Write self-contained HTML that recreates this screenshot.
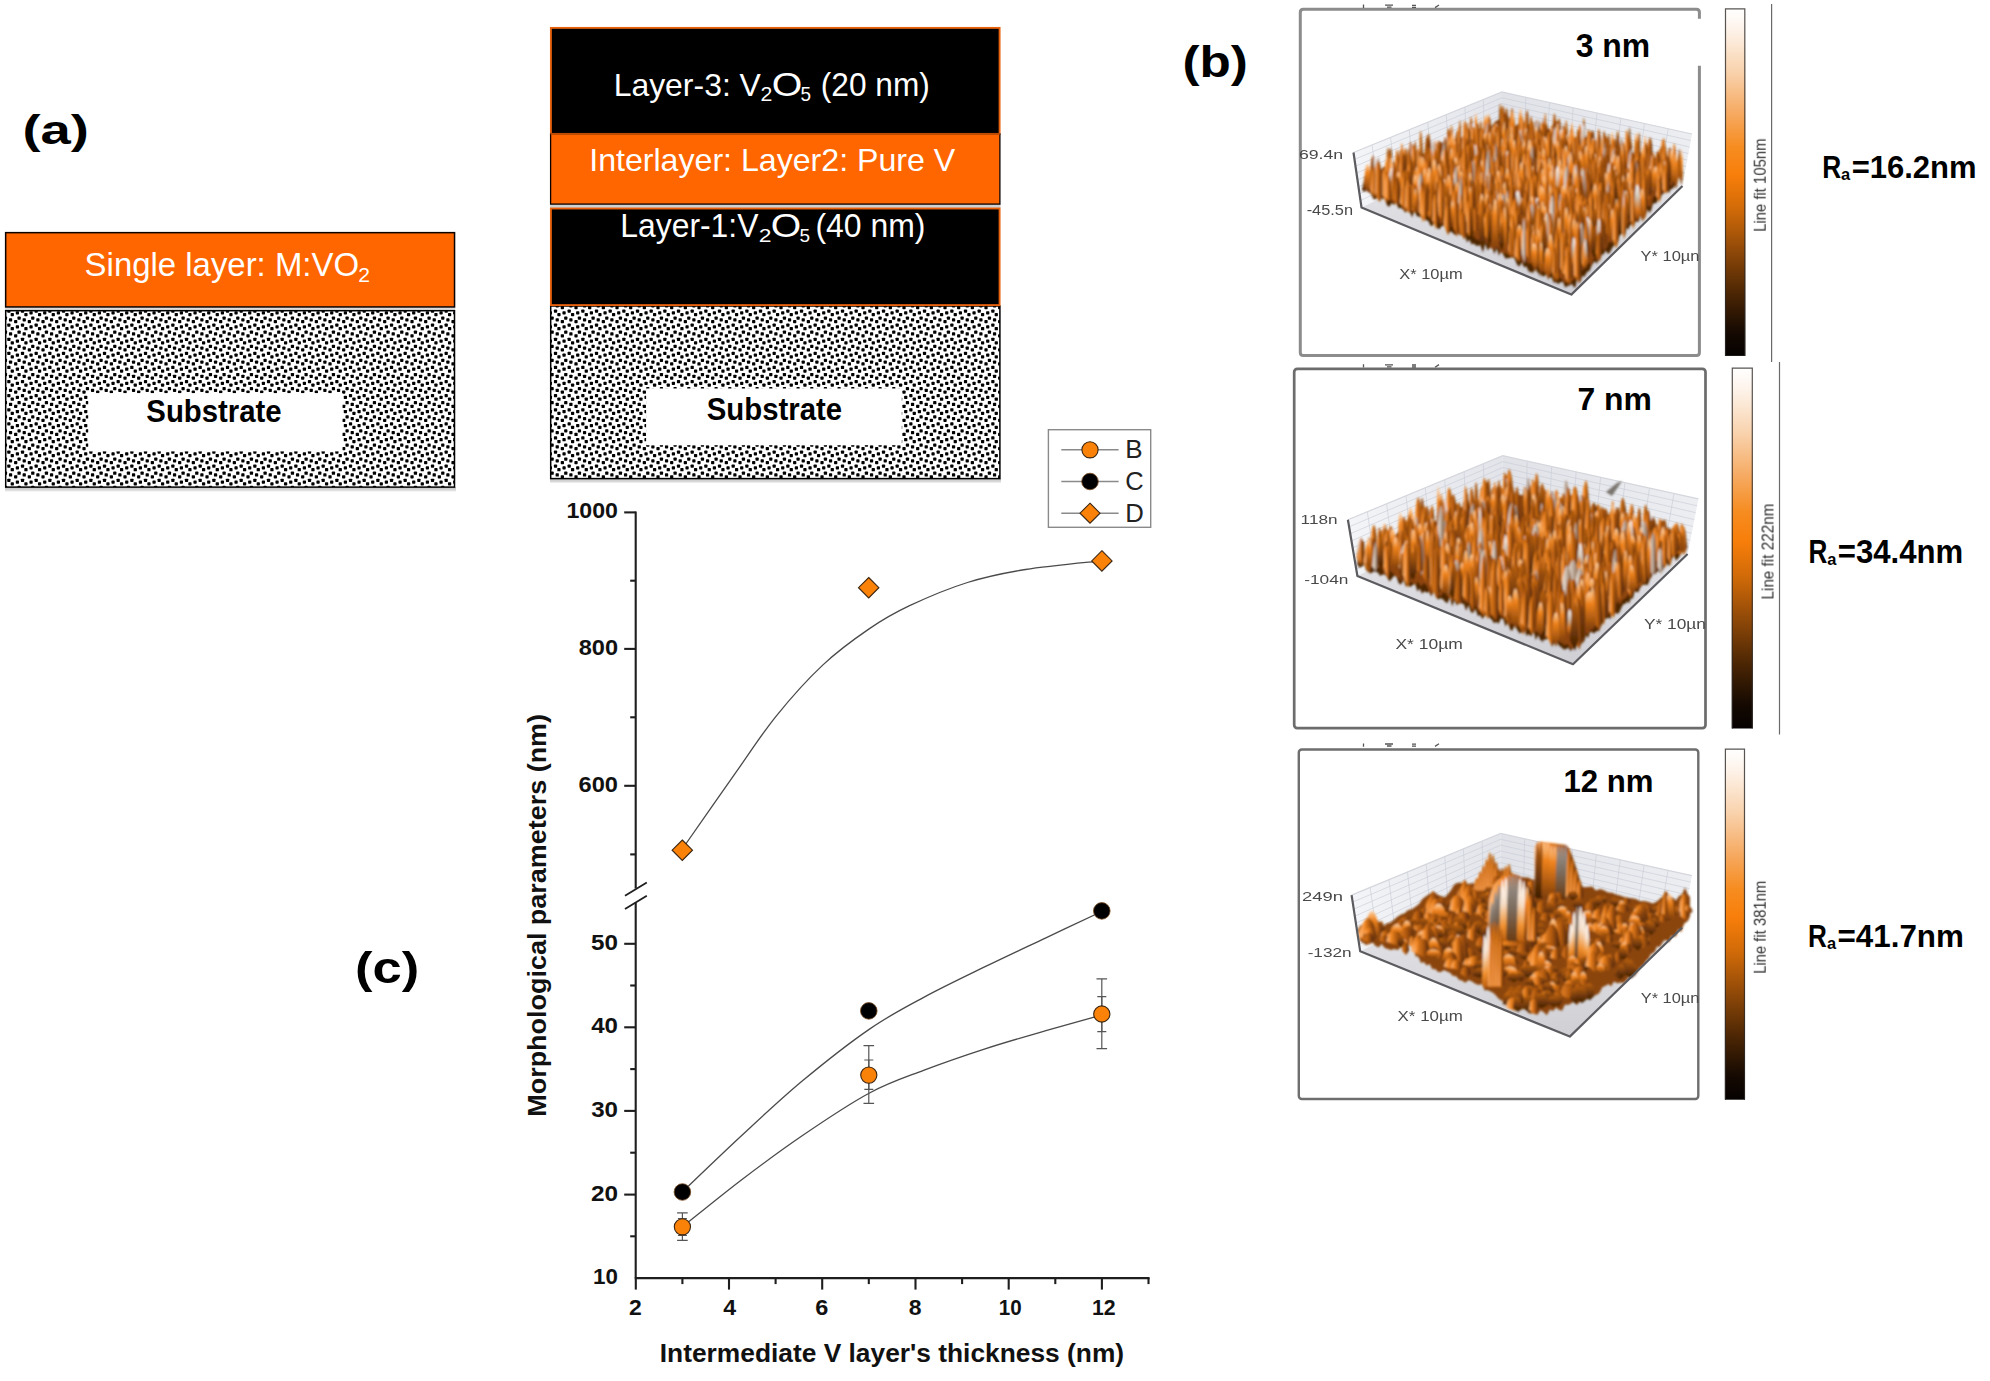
<!DOCTYPE html>
<html><head><meta charset="utf-8"><title>Figure</title>
<style>
html,body{margin:0;padding:0;background:#fff;}
body{width:1990px;height:1381px;overflow:hidden;}
svg{display:block;font-family:"Liberation Sans",sans-serif;}
</style></head><body>
<svg width="1990" height="1381" viewBox="0 0 1990 1381">
<rect width="1990" height="1381" fill="#fff"/>
<defs><pattern id="dots" patternUnits="userSpaceOnUse" x="8" y="0" width="41.0" height="141.0"><rect width="41.0" height="141.0" fill="#fff"/><g fill="#000"><rect x="-0.77" y="-0.74" width="3.25" height="3.25" rx="0.7"/><rect x="7.77" y="1.02" width="3.25" height="3.25" rx="0.7"/><rect x="2.65" y="2.78" width="3.25" height="3.25" rx="0.7"/><rect x="9.48" y="6.31" width="3.25" height="3.25" rx="0.7"/><rect x="0.94" y="8.07" width="3.25" height="3.25" rx="0.7"/><rect x="6.06" y="9.83" width="3.25" height="3.25" rx="0.7"/><rect x="-0.77" y="13.36" width="3.25" height="3.25" rx="0.7"/><rect x="7.77" y="15.12" width="3.25" height="3.25" rx="0.7"/><rect x="2.65" y="16.88" width="3.25" height="3.25" rx="0.7"/><rect x="9.48" y="20.41" width="3.25" height="3.25" rx="0.7"/><rect x="0.94" y="22.17" width="3.25" height="3.25" rx="0.7"/><rect x="6.06" y="23.93" width="3.25" height="3.25" rx="0.7"/><rect x="-0.77" y="27.46" width="3.25" height="3.25" rx="0.7"/><rect x="7.77" y="29.22" width="3.25" height="3.25" rx="0.7"/><rect x="2.65" y="30.98" width="3.25" height="3.25" rx="0.7"/><rect x="9.48" y="34.51" width="3.25" height="3.25" rx="0.7"/><rect x="0.94" y="36.27" width="3.25" height="3.25" rx="0.7"/><rect x="6.06" y="38.03" width="3.25" height="3.25" rx="0.7"/><rect x="-0.77" y="41.56" width="3.25" height="3.25" rx="0.7"/><rect x="7.77" y="43.32" width="3.25" height="3.25" rx="0.7"/><rect x="2.65" y="45.08" width="3.25" height="3.25" rx="0.7"/><rect x="9.48" y="48.61" width="3.25" height="3.25" rx="0.7"/><rect x="0.94" y="50.37" width="3.25" height="3.25" rx="0.7"/><rect x="6.06" y="52.13" width="3.25" height="3.25" rx="0.7"/><rect x="-0.77" y="55.66" width="3.25" height="3.25" rx="0.7"/><rect x="7.77" y="57.42" width="3.25" height="3.25" rx="0.7"/><rect x="2.65" y="59.18" width="3.25" height="3.25" rx="0.7"/><rect x="9.48" y="62.71" width="3.25" height="3.25" rx="0.7"/><rect x="0.94" y="64.47" width="3.25" height="3.25" rx="0.7"/><rect x="6.06" y="66.23" width="3.25" height="3.25" rx="0.7"/><rect x="-0.77" y="69.76" width="3.25" height="3.25" rx="0.7"/><rect x="7.77" y="71.52" width="3.25" height="3.25" rx="0.7"/><rect x="2.65" y="73.28" width="3.25" height="3.25" rx="0.7"/><rect x="9.48" y="76.81" width="3.25" height="3.25" rx="0.7"/><rect x="0.94" y="78.57" width="3.25" height="3.25" rx="0.7"/><rect x="6.06" y="80.33" width="3.25" height="3.25" rx="0.7"/><rect x="-0.77" y="83.86" width="3.25" height="3.25" rx="0.7"/><rect x="7.77" y="85.62" width="3.25" height="3.25" rx="0.7"/><rect x="2.65" y="87.38" width="3.25" height="3.25" rx="0.7"/><rect x="9.48" y="90.91" width="3.25" height="3.25" rx="0.7"/><rect x="0.94" y="92.67" width="3.25" height="3.25" rx="0.7"/><rect x="6.06" y="94.43" width="3.25" height="3.25" rx="0.7"/><rect x="-0.77" y="97.96" width="3.25" height="3.25" rx="0.7"/><rect x="7.77" y="99.72" width="3.25" height="3.25" rx="0.7"/><rect x="2.65" y="101.48" width="3.25" height="3.25" rx="0.7"/><rect x="9.48" y="105.01" width="3.25" height="3.25" rx="0.7"/><rect x="0.94" y="106.77" width="3.25" height="3.25" rx="0.7"/><rect x="6.06" y="108.53" width="3.25" height="3.25" rx="0.7"/><rect x="-0.77" y="112.06" width="3.25" height="3.25" rx="0.7"/><rect x="7.77" y="113.82" width="3.25" height="3.25" rx="0.7"/><rect x="2.65" y="115.58" width="3.25" height="3.25" rx="0.7"/><rect x="9.48" y="119.11" width="3.25" height="3.25" rx="0.7"/><rect x="0.94" y="120.87" width="3.25" height="3.25" rx="0.7"/><rect x="6.06" y="122.63" width="3.25" height="3.25" rx="0.7"/><rect x="-0.77" y="126.16" width="3.25" height="3.25" rx="0.7"/><rect x="7.77" y="127.92" width="3.25" height="3.25" rx="0.7"/><rect x="2.65" y="129.68" width="3.25" height="3.25" rx="0.7"/><rect x="9.48" y="133.21" width="3.25" height="3.25" rx="0.7"/><rect x="0.94" y="134.97" width="3.25" height="3.25" rx="0.7"/><rect x="6.06" y="136.73" width="3.25" height="3.25" rx="0.7"/><rect x="-0.77" y="140.26" width="3.25" height="3.25" rx="0.7"/><rect x="12.90" y="-0.74" width="3.25" height="3.25" rx="0.7"/><rect x="21.44" y="1.02" width="3.25" height="3.25" rx="0.7"/><rect x="16.31" y="2.78" width="3.25" height="3.25" rx="0.7"/><rect x="23.15" y="6.31" width="3.25" height="3.25" rx="0.7"/><rect x="14.60" y="8.07" width="3.25" height="3.25" rx="0.7"/><rect x="19.73" y="9.83" width="3.25" height="3.25" rx="0.7"/><rect x="12.90" y="13.36" width="3.25" height="3.25" rx="0.7"/><rect x="21.44" y="15.12" width="3.25" height="3.25" rx="0.7"/><rect x="16.31" y="16.88" width="3.25" height="3.25" rx="0.7"/><rect x="23.15" y="20.41" width="3.25" height="3.25" rx="0.7"/><rect x="14.60" y="22.17" width="3.25" height="3.25" rx="0.7"/><rect x="19.73" y="23.93" width="3.25" height="3.25" rx="0.7"/><rect x="12.90" y="27.46" width="3.25" height="3.25" rx="0.7"/><rect x="21.44" y="29.22" width="3.25" height="3.25" rx="0.7"/><rect x="16.31" y="30.98" width="3.25" height="3.25" rx="0.7"/><rect x="23.15" y="34.51" width="3.25" height="3.25" rx="0.7"/><rect x="14.60" y="36.27" width="3.25" height="3.25" rx="0.7"/><rect x="19.73" y="38.03" width="3.25" height="3.25" rx="0.7"/><rect x="12.90" y="41.56" width="3.25" height="3.25" rx="0.7"/><rect x="21.44" y="43.32" width="3.25" height="3.25" rx="0.7"/><rect x="16.31" y="45.08" width="3.25" height="3.25" rx="0.7"/><rect x="23.15" y="48.61" width="3.25" height="3.25" rx="0.7"/><rect x="14.60" y="50.37" width="3.25" height="3.25" rx="0.7"/><rect x="19.73" y="52.13" width="3.25" height="3.25" rx="0.7"/><rect x="12.90" y="55.66" width="3.25" height="3.25" rx="0.7"/><rect x="21.44" y="57.42" width="3.25" height="3.25" rx="0.7"/><rect x="16.31" y="59.18" width="3.25" height="3.25" rx="0.7"/><rect x="23.15" y="62.71" width="3.25" height="3.25" rx="0.7"/><rect x="14.60" y="64.47" width="3.25" height="3.25" rx="0.7"/><rect x="19.73" y="66.23" width="3.25" height="3.25" rx="0.7"/><rect x="12.90" y="69.76" width="3.25" height="3.25" rx="0.7"/><rect x="21.44" y="71.52" width="3.25" height="3.25" rx="0.7"/><rect x="16.31" y="73.28" width="3.25" height="3.25" rx="0.7"/><rect x="23.15" y="76.81" width="3.25" height="3.25" rx="0.7"/><rect x="14.60" y="78.57" width="3.25" height="3.25" rx="0.7"/><rect x="19.73" y="80.33" width="3.25" height="3.25" rx="0.7"/><rect x="12.90" y="83.86" width="3.25" height="3.25" rx="0.7"/><rect x="21.44" y="85.62" width="3.25" height="3.25" rx="0.7"/><rect x="16.31" y="87.38" width="3.25" height="3.25" rx="0.7"/><rect x="23.15" y="90.91" width="3.25" height="3.25" rx="0.7"/><rect x="14.60" y="92.67" width="3.25" height="3.25" rx="0.7"/><rect x="19.73" y="94.43" width="3.25" height="3.25" rx="0.7"/><rect x="12.90" y="97.96" width="3.25" height="3.25" rx="0.7"/><rect x="21.44" y="99.72" width="3.25" height="3.25" rx="0.7"/><rect x="16.31" y="101.48" width="3.25" height="3.25" rx="0.7"/><rect x="23.15" y="105.01" width="3.25" height="3.25" rx="0.7"/><rect x="14.60" y="106.77" width="3.25" height="3.25" rx="0.7"/><rect x="19.73" y="108.53" width="3.25" height="3.25" rx="0.7"/><rect x="12.90" y="112.06" width="3.25" height="3.25" rx="0.7"/><rect x="21.44" y="113.82" width="3.25" height="3.25" rx="0.7"/><rect x="16.31" y="115.58" width="3.25" height="3.25" rx="0.7"/><rect x="23.15" y="119.11" width="3.25" height="3.25" rx="0.7"/><rect x="14.60" y="120.87" width="3.25" height="3.25" rx="0.7"/><rect x="19.73" y="122.63" width="3.25" height="3.25" rx="0.7"/><rect x="12.90" y="126.16" width="3.25" height="3.25" rx="0.7"/><rect x="21.44" y="127.92" width="3.25" height="3.25" rx="0.7"/><rect x="16.31" y="129.68" width="3.25" height="3.25" rx="0.7"/><rect x="23.15" y="133.21" width="3.25" height="3.25" rx="0.7"/><rect x="14.60" y="134.97" width="3.25" height="3.25" rx="0.7"/><rect x="19.73" y="136.73" width="3.25" height="3.25" rx="0.7"/><rect x="12.90" y="140.26" width="3.25" height="3.25" rx="0.7"/><rect x="26.56" y="-0.74" width="3.25" height="3.25" rx="0.7"/><rect x="35.10" y="1.02" width="3.25" height="3.25" rx="0.7"/><rect x="29.98" y="2.78" width="3.25" height="3.25" rx="0.7"/><rect x="36.81" y="6.31" width="3.25" height="3.25" rx="0.7"/><rect x="28.27" y="8.07" width="3.25" height="3.25" rx="0.7"/><rect x="33.40" y="9.83" width="3.25" height="3.25" rx="0.7"/><rect x="26.56" y="13.36" width="3.25" height="3.25" rx="0.7"/><rect x="35.10" y="15.12" width="3.25" height="3.25" rx="0.7"/><rect x="29.98" y="16.88" width="3.25" height="3.25" rx="0.7"/><rect x="36.81" y="20.41" width="3.25" height="3.25" rx="0.7"/><rect x="28.27" y="22.17" width="3.25" height="3.25" rx="0.7"/><rect x="33.40" y="23.93" width="3.25" height="3.25" rx="0.7"/><rect x="26.56" y="27.46" width="3.25" height="3.25" rx="0.7"/><rect x="35.10" y="29.22" width="3.25" height="3.25" rx="0.7"/><rect x="29.98" y="30.98" width="3.25" height="3.25" rx="0.7"/><rect x="36.81" y="34.51" width="3.25" height="3.25" rx="0.7"/><rect x="28.27" y="36.27" width="3.25" height="3.25" rx="0.7"/><rect x="33.40" y="38.03" width="3.25" height="3.25" rx="0.7"/><rect x="26.56" y="41.56" width="3.25" height="3.25" rx="0.7"/><rect x="35.10" y="43.32" width="3.25" height="3.25" rx="0.7"/><rect x="29.98" y="45.08" width="3.25" height="3.25" rx="0.7"/><rect x="36.81" y="48.61" width="3.25" height="3.25" rx="0.7"/><rect x="28.27" y="50.37" width="3.25" height="3.25" rx="0.7"/><rect x="33.40" y="52.13" width="3.25" height="3.25" rx="0.7"/><rect x="26.56" y="55.66" width="3.25" height="3.25" rx="0.7"/><rect x="35.10" y="57.42" width="3.25" height="3.25" rx="0.7"/><rect x="29.98" y="59.18" width="3.25" height="3.25" rx="0.7"/><rect x="36.81" y="62.71" width="3.25" height="3.25" rx="0.7"/><rect x="28.27" y="64.47" width="3.25" height="3.25" rx="0.7"/><rect x="33.40" y="66.23" width="3.25" height="3.25" rx="0.7"/><rect x="26.56" y="69.76" width="3.25" height="3.25" rx="0.7"/><rect x="35.10" y="71.52" width="3.25" height="3.25" rx="0.7"/><rect x="29.98" y="73.28" width="3.25" height="3.25" rx="0.7"/><rect x="36.81" y="76.81" width="3.25" height="3.25" rx="0.7"/><rect x="28.27" y="78.57" width="3.25" height="3.25" rx="0.7"/><rect x="33.40" y="80.33" width="3.25" height="3.25" rx="0.7"/><rect x="26.56" y="83.86" width="3.25" height="3.25" rx="0.7"/><rect x="35.10" y="85.62" width="3.25" height="3.25" rx="0.7"/><rect x="29.98" y="87.38" width="3.25" height="3.25" rx="0.7"/><rect x="36.81" y="90.91" width="3.25" height="3.25" rx="0.7"/><rect x="28.27" y="92.67" width="3.25" height="3.25" rx="0.7"/><rect x="33.40" y="94.43" width="3.25" height="3.25" rx="0.7"/><rect x="26.56" y="97.96" width="3.25" height="3.25" rx="0.7"/><rect x="35.10" y="99.72" width="3.25" height="3.25" rx="0.7"/><rect x="29.98" y="101.48" width="3.25" height="3.25" rx="0.7"/><rect x="36.81" y="105.01" width="3.25" height="3.25" rx="0.7"/><rect x="28.27" y="106.77" width="3.25" height="3.25" rx="0.7"/><rect x="33.40" y="108.53" width="3.25" height="3.25" rx="0.7"/><rect x="26.56" y="112.06" width="3.25" height="3.25" rx="0.7"/><rect x="35.10" y="113.82" width="3.25" height="3.25" rx="0.7"/><rect x="29.98" y="115.58" width="3.25" height="3.25" rx="0.7"/><rect x="36.81" y="119.11" width="3.25" height="3.25" rx="0.7"/><rect x="28.27" y="120.87" width="3.25" height="3.25" rx="0.7"/><rect x="33.40" y="122.63" width="3.25" height="3.25" rx="0.7"/><rect x="26.56" y="126.16" width="3.25" height="3.25" rx="0.7"/><rect x="35.10" y="127.92" width="3.25" height="3.25" rx="0.7"/><rect x="29.98" y="129.68" width="3.25" height="3.25" rx="0.7"/><rect x="36.81" y="133.21" width="3.25" height="3.25" rx="0.7"/><rect x="28.27" y="134.97" width="3.25" height="3.25" rx="0.7"/><rect x="33.40" y="136.73" width="3.25" height="3.25" rx="0.7"/><rect x="26.56" y="140.26" width="3.25" height="3.25" rx="0.7"/><rect x="40.23" y="-0.74" width="3.25" height="3.25" rx="0.7"/><rect x="40.23" y="13.36" width="3.25" height="3.25" rx="0.7"/><rect x="40.23" y="27.46" width="3.25" height="3.25" rx="0.7"/><rect x="40.23" y="41.56" width="3.25" height="3.25" rx="0.7"/><rect x="40.23" y="55.66" width="3.25" height="3.25" rx="0.7"/><rect x="40.23" y="69.76" width="3.25" height="3.25" rx="0.7"/><rect x="40.23" y="83.86" width="3.25" height="3.25" rx="0.7"/><rect x="40.23" y="97.96" width="3.25" height="3.25" rx="0.7"/><rect x="40.23" y="112.06" width="3.25" height="3.25" rx="0.7"/><rect x="40.23" y="126.16" width="3.25" height="3.25" rx="0.7"/><rect x="40.23" y="140.26" width="3.25" height="3.25" rx="0.7"/></g></pattern><linearGradient id="shd" x1="0" y1="0" x2="0" y2="1"><stop offset="0" stop-color="#c4c4c4"/><stop offset="0.6" stop-color="#d8d8d8"/><stop offset="1" stop-color="#fff"/></linearGradient></defs>
<rect x="5" y="307" width="450.2" height="3.4" fill="#dcdcdc"/>
<rect x="5.65" y="232.65" width="448.9" height="74.3" fill="#FF6600" stroke="#0a0200" stroke-width="1.5"/>
<rect x="5" y="487" width="451" height="5" fill="url(#shd)"/>
<rect x="5.7" y="310.7" width="448.8" height="176.4" fill="url(#dots)" stroke="#000" stroke-width="1.5"/>
<rect x="88.2" y="393.1" width="254.3" height="58.3" fill="#fff"/>
<text transform="translate(146.32,422.30) scale(0.9093,1)" font-size="32.28" font-weight="bold" fill="#000">Substrate</text>
<text transform="translate(84.62,276.00) scale(0.9783,1)" font-size="33.66" fill="#fff">Single layer: M:VO</text>
<text transform="translate(358.15,282.00) scale(1.0188,1)" font-size="20.71" fill="#fff">2</text>
<text transform="translate(22.48,144.00) scale(1.3281,1)" font-size="40.96" font-weight="bold" fill="#000">(a)</text>
<rect x="550" y="204" width="450.6" height="4" fill="#d2d2d2"/>
<rect x="550.9" y="27.9" width="448.7" height="106" fill="#000" stroke="#E8610C" stroke-width="1.9"/>
<rect x="550.6" y="134.0" width="449.3" height="70.1" fill="#FF6600" stroke="#0a0200" stroke-width="1.3"/>
<rect x="550.6" y="133.4" width="449.3" height="1.2" fill="#FF6600"/>
<rect x="550" y="478.5" width="451" height="5" fill="url(#shd)"/>
<rect x="550.7" y="306" width="449.2" height="172.6" fill="url(#dots)" stroke="#000" stroke-width="1.5"/>
<rect x="550.9" y="208.5" width="448.7" height="96.6" fill="#000" stroke="#E8610C" stroke-width="1.9"/>
<rect x="646.1" y="388.5" width="255.7" height="56.7" fill="#fff"/>
<text transform="translate(706.72,419.60) scale(0.9253,1)" font-size="31.72" font-weight="bold" fill="#000">Substrate</text>
<text transform="translate(613.65,95.50) scale(1.0160,1)" font-size="31.43" fill="#fff">Layer-3: V</text>
<text transform="translate(760.53,101.00) scale(1.1052,1)" font-size="19.29" fill="#fff">2</text>
<text transform="translate(771.63,95.90) scale(1.2057,1)" font-size="32.57" fill="#fff">O</text>
<text transform="translate(800.44,101.20) scale(0.9682,1)" font-size="19.57" fill="#fff">5</text>
<text transform="translate(820.80,95.50) scale(0.9643,1)" font-size="32.83" fill="#fff">(20 nm)</text>
<text transform="translate(589.21,171.30) scale(1.0312,1)" font-size="31.17" fill="#fff">Interlayer: Layer2: Pure V</text>
<text transform="translate(620.35,236.90) scale(0.9770,1)" font-size="32.61" fill="#fff">Layer-1:V</text>
<text transform="translate(758.66,242.20) scale(1.2119,1)" font-size="18.86" fill="#fff">2</text>
<text transform="translate(770.84,237.30) scale(1.1753,1)" font-size="33.29" fill="#fff">O</text>
<text transform="translate(799.54,242.40) scale(0.9905,1)" font-size="19.13" fill="#fff">5</text>
<text transform="translate(815.48,236.90) scale(0.9767,1)" font-size="32.69" fill="#fff">(40 nm)</text>
<g stroke="#1e1e1e" stroke-width="2.1" fill="none" stroke-linecap="butt">
<path d="M635.7,511.4 V888.6 M635.7,902.4 V1278.1"/>
<path d="M634.75,1278.1 H1149.6"/>
<path d="M624.2,512.4 H635.7"/>
<path d="M624.2,648.9 H635.7"/>
<path d="M624.2,785.8 H635.7"/>
<path d="M630.2,580.7 H635.7"/>
<path d="M630.2,717.3 H635.7"/>
<path d="M630.2,854.4 H635.7"/>
<path d="M624.2,943.8 H635.7"/>
<path d="M624.2,1027.3 H635.7"/>
<path d="M624.2,1110.9 H635.7"/>
<path d="M624.2,1194.6 H635.7"/>
<path d="M630.2,985.5 H635.7"/>
<path d="M630.2,1069.1 H635.7"/>
<path d="M630.2,1152.7 H635.7"/>
<path d="M630.2,1236.3 H635.7"/>
<path d="M635.8,1278.1 V1289.6"/>
<path d="M729.0,1278.1 V1289.6"/>
<path d="M822.2,1278.1 V1289.6"/>
<path d="M915.5,1278.1 V1289.6"/>
<path d="M1008.7,1278.1 V1289.6"/>
<path d="M1101.9,1278.1 V1289.6"/>
<path d="M682.4,1278.1 V1284.1"/>
<path d="M775.6,1278.1 V1284.1"/>
<path d="M868.8,1278.1 V1284.1"/>
<path d="M962.1,1278.1 V1284.1"/>
<path d="M1055.3,1278.1 V1284.1"/>
<path d="M1148.5,1278.1 V1284.1"/>
<path d="M625,895.7 L646.8,882.6 M625,908.9 L646.8,895.7" stroke-width="1.8"/>
</g>
<g stroke="#4a4a4a" stroke-width="1.3" fill="none">
<path d="M682.3,849.0 C691.2,836.2 720.2,794.6 735.9,772.4 C751.6,750.2 761.9,733.7 776.4,715.8 C790.9,697.9 807.2,679.6 822.7,665.1 C838.2,650.6 854.6,638.8 869.1,628.9 C883.6,619.0 893.2,613.4 909.6,605.7 C926.0,598.0 948.2,588.5 967.5,582.5 C986.8,576.5 1003.1,573.1 1025.5,569.5 C1047.9,565.9 1089.1,562.2 1101.8,560.8"/>
<path d="M682.4,1191.8 C692.3,1182.4 721.7,1154.0 741.7,1135.5 C761.7,1117.0 781.2,1098.5 802.5,1080.8 C823.8,1063.1 849.2,1043.0 869.5,1029.1 C889.8,1015.1 904.9,1007.5 924.2,997.1 C943.5,986.7 964.8,976.6 985.1,966.7 C1005.4,956.8 1026.5,947.0 1045.9,937.8 C1065.4,928.6 1092.5,915.9 1101.8,911.5"/>
<path d="M682.4,1226.8 C692.3,1219.0 721.7,1194.9 741.7,1179.7 C761.7,1164.5 781.2,1150.0 802.5,1135.5 C823.8,1121.0 849.2,1103.9 869.5,1093.0 C889.8,1082.1 904.9,1077.5 924.2,1070.1 C943.5,1062.7 964.8,1055.4 985.1,1048.8 C1005.4,1042.2 1026.5,1036.2 1045.9,1030.6 C1065.4,1025.0 1092.5,1017.6 1101.8,1015.0"/>
</g>
<g stroke="#555" stroke-width="1.2" fill="none">
<path d="M682.4,1212.8 V1240.4 M677.1,1212.8 H687.6999999999999 M677.1,1240.4 H687.6999999999999"/>
<path d="M682.4,1218.5 V1235.5 M677.9,1218.5 H686.9 M677.9,1235.5 H686.9"/>
<path d="M868.8,1045.7 V1103.4 M863.5,1045.7 H874.0999999999999 M863.5,1103.4 H874.0999999999999"/>
<path d="M868.8,1060.0 V1089.4 M864.3,1060.0 H873.3 M864.3,1089.4 H873.3"/>
<path d="M1101.8,978.9 V1048.7 M1096.5,978.9 H1107.1 M1096.5,1048.7 H1107.1"/>
<path d="M1101.8,996.6 V1031.7 M1097.3,996.6 H1106.3 M1097.3,1031.7 H1106.3"/>
</g>
<path d="M682.3,840.0 L692.5,850.2 L682.3,860.4000000000001 L672.0999999999999,850.2 Z" fill="#FA8208" stroke="#3a2410" stroke-width="1.1"/>
<path d="M868.7,577.5 L878.9000000000001,587.7 L868.7,597.9000000000001 L858.5,587.7 Z" fill="#FA8208" stroke="#3a2410" stroke-width="1.1"/>
<path d="M1101.9,550.6999999999999 L1112.1000000000001,560.9 L1101.9,571.1 L1091.7,560.9 Z" fill="#FA8208" stroke="#3a2410" stroke-width="1.1"/>
<circle cx="682.4" cy="1192.0" r="8.3" fill="#000" stroke="#7a4a1e" stroke-width="0.8"/>
<circle cx="868.8" cy="1010.9" r="8.3" fill="#000" stroke="#7a4a1e" stroke-width="0.8"/>
<circle cx="1101.8" cy="910.9" r="8.3" fill="#000" stroke="#7a4a1e" stroke-width="0.8"/>
<circle cx="682.4" cy="1226.8" r="8.1" fill="#FA8208" stroke="#3a2410" stroke-width="1.1"/>
<circle cx="868.8" cy="1075.1" r="8.1" fill="#FA8208" stroke="#3a2410" stroke-width="1.1"/>
<circle cx="1101.8" cy="1014.0" r="8.1" fill="#FA8208" stroke="#3a2410" stroke-width="1.1"/>
<rect x="1048.4" y="429.7" width="102.3" height="97.6" fill="#fff" stroke="#8a8a8a" stroke-width="1.4"/>
<path d="M1061.3,449.8 H1118.6" stroke="#8a8a8a" stroke-width="1.5"/>
<path d="M1061.3,481.5 H1118.6" stroke="#8a8a8a" stroke-width="1.5"/>
<path d="M1061.3,513.2 H1118.6" stroke="#8a8a8a" stroke-width="1.5"/>
<circle cx="1090" cy="449.8" r="8.1" fill="#FA8208" stroke="#3a2410" stroke-width="1.1"/>
<circle cx="1090" cy="481.5" r="8.3" fill="#000" stroke="#7a4a1e" stroke-width="0.8"/>
<path d="M1090,503.20000000000005 L1100,513.2 L1090,523.2 L1080,513.2 Z" fill="#FA8208" stroke="#3a2410" stroke-width="1.1"/>
<text transform="translate(1125.22,458.20) scale(1.0364,1)" font-size="25.07" fill="#222">B</text>
<text transform="translate(1125.32,490.40) scale(0.9865,1)" font-size="25.86" fill="#222">C</text>
<text transform="translate(1125.24,521.70) scale(1.0257,1)" font-size="25.07" fill="#222">D</text>
<text transform="translate(566.41,518.30) scale(1.0591,1)" font-size="21.86" font-weight="bold" fill="#111">1000</text>
<text transform="translate(578.69,654.80) scale(1.0784,1)" font-size="21.86" font-weight="bold" fill="#111">800</text>
<text transform="translate(578.57,791.70) scale(1.0818,1)" font-size="21.86" font-weight="bold" fill="#111">600</text>
<text transform="translate(591.07,949.70) scale(1.1085,1)" font-size="21.86" font-weight="bold" fill="#111">50</text>
<text transform="translate(591.24,1033.20) scale(1.1014,1)" font-size="21.86" font-weight="bold" fill="#111">40</text>
<text transform="translate(591.20,1116.80) scale(1.1031,1)" font-size="21.86" font-weight="bold" fill="#111">30</text>
<text transform="translate(590.95,1200.50) scale(1.1138,1)" font-size="21.86" font-weight="bold" fill="#111">20</text>
<text transform="translate(593.06,1284.00) scale(1.0236,1)" font-size="21.86" font-weight="bold" fill="#111">10</text>
<text transform="translate(628.90,1314.60) scale(1.0483,1)" font-size="21.86" font-weight="bold" fill="#111">2</text>
<text transform="translate(723.15,1314.60) scale(1.0454,1)" font-size="22.17" font-weight="bold" fill="#111">4</text>
<text transform="translate(815.28,1314.60) scale(1.0753,1)" font-size="21.86" font-weight="bold" fill="#111">6</text>
<text transform="translate(908.81,1314.60) scale(1.0535,1)" font-size="21.86" font-weight="bold" fill="#111">8</text>
<text transform="translate(998.76,1314.60) scale(0.9421,1)" font-size="21.86" font-weight="bold" fill="#111">10</text>
<text transform="translate(1091.97,1314.60) scale(0.9738,1)" font-size="21.86" font-weight="bold" fill="#111">12</text>
<text transform="translate(659.79,1362.40) scale(1.0159,1)" font-size="25.93" font-weight="bold" fill="#111">Intermediate V layer's thickness (nm)</text>
<text transform="rotate(-90) translate(-1116.75,545.80) scale(1.0398,1)" font-size="25.93" font-weight="bold" fill="#111">Morphological parameters (nm)</text>
<text transform="translate(355.07,982.69) scale(1.1724,1)" font-size="44.81" font-weight="bold" fill="#000">(c)</text>
<style>.ga{fill:url(#ga)}.gb{fill:url(#gb)}.gc{fill:url(#gc)}.gd{fill:url(#gd)}.ge{fill:url(#ge)}.gf{fill:url(#gf)}.gg{fill:url(#gg)}.gw{fill:url(#gw)}</style><defs>
<linearGradient id="cb" x1="0" y1="0" x2="0" y2="1"><stop offset="0" stop-color="#fff"/><stop offset="0.06" stop-color="#fdf3ea"/><stop offset="0.18" stop-color="#f9d3ae"/><stop offset="0.30" stop-color="#f6aa62"/><stop offset="0.40" stop-color="#f68c20"/><stop offset="0.48" stop-color="#f87e0a"/><stop offset="0.58" stop-color="#d06a08"/><stop offset="0.70" stop-color="#8e4808"/><stop offset="0.82" stop-color="#4c2604"/><stop offset="0.93" stop-color="#160a02"/><stop offset="1" stop-color="#050100"/></linearGradient>
<linearGradient id="ga" x1="0" y1="0" x2="1" y2="0"><stop offset="0" stop-color="#ffc088"/><stop offset="0.3" stop-color="#f28620"/><stop offset="0.62" stop-color="#a8540e"/><stop offset="1" stop-color="#4e2606"/></linearGradient>
<linearGradient id="gb" x1="0" y1="0" x2="1" y2="0"><stop offset="0" stop-color="#f6eee6"/><stop offset="0.4" stop-color="#cfc0b2"/><stop offset="0.8" stop-color="#8f7058"/><stop offset="1" stop-color="#5a3a20"/></linearGradient>
<linearGradient id="gc" x1="0" y1="0" x2="1" y2="0"><stop offset="0" stop-color="#e07e24"/><stop offset="0.45" stop-color="#b0580c"/><stop offset="1" stop-color="#432004"/></linearGradient>
<linearGradient id="gd" x1="0" y1="0" x2="0" y2="1"><stop offset="0" stop-color="#ffd2a4"/><stop offset="0.32" stop-color="#ee821c"/><stop offset="1" stop-color="#7c3c08"/></linearGradient>
<linearGradient id="ge" x1="0" y1="0" x2="0" y2="1"><stop offset="0" stop-color="#fff"/><stop offset="0.35" stop-color="#d0c0b0"/><stop offset="0.7" stop-color="#d8741c"/><stop offset="1" stop-color="#7a3c08"/></linearGradient>
<linearGradient id="gf" x1="0" y1="0" x2="0" y2="1"><stop offset="0" stop-color="#b86012"/><stop offset="1" stop-color="#3c1c02"/></linearGradient>
<linearGradient id="gg" x1="0" y1="0" x2="0" y2="1"><stop offset="0" stop-color="#a09a96"/><stop offset="0.5" stop-color="#7c6c5e"/><stop offset="1" stop-color="#6a3a10"/></linearGradient>
<linearGradient id="gw" x1="0" y1="0" x2="0" y2="1"><stop offset="0" stop-color="#fff"/><stop offset="0.4" stop-color="#f6dec8"/><stop offset="0.75" stop-color="#f09030"/><stop offset="1" stop-color="#b85c0c"/></linearGradient>
<linearGradient id="wl" x1="0" y1="0" x2="1" y2="0"><stop offset="0" stop-color="#f4f5f8"/><stop offset="1" stop-color="#e2e4ea"/></linearGradient>
<linearGradient id="wr" x1="0" y1="0" x2="1" y2="0"><stop offset="0" stop-color="#e0e2e8"/><stop offset="1" stop-color="#eceef2"/></linearGradient>
<linearGradient id="fl" x1="0" y1="0" x2="0" y2="1"><stop offset="0" stop-color="#ebebee"/><stop offset="1" stop-color="#cfcfd4"/></linearGradient>
</defs>
<defs><filter id="bl" x="-5%" y="-20%" width="110%" height="140%"><feGaussianBlur stdDeviation="0.45"/></filter><filter id="fb" filterUnits="userSpaceOnUse" x="1280" y="0" width="440" height="1110"><feGaussianBlur stdDeviation="0.55"/></filter><filter id="tb" x="-2%" y="-5%" width="104%" height="110%"><feGaussianBlur stdDeviation="0.85"/></filter></defs>
<path d="M1699.4,18.8 V12.3 Q1699.4,9.3 1696.4,9.3 H1303.3 Q1300.3,9.3 1300.3,12.3 V352.6 Q1300.3,355.6 1303.3,355.6 H1696.4 Q1699.4,355.6 1699.4,352.6 V65.8" fill="none" stroke="#8c8c8c" stroke-width="3.0" filter="url(#fb)"/>
<rect x="1725.0" y="8.4" width="20.299999999999955" height="347.5" fill="url(#cb)"/><path d="M1725.5,355.9 V8.9 H1744.8 V355.9" fill="none" stroke="#2e2a28" stroke-width="1.2" stroke-opacity="0.8"/>
<path d="M1771.6,4 V362" stroke="#6a6a6a" stroke-width="1.2"/>
<path d="M1353.5,152.5 L1502,92 L1502,138 L1361.5,207.5 Z" fill="url(#wl)"/>
<path d="M1502,92 L1692,134 L1682.5,186 L1502,138 Z" fill="url(#wr)"/>
<path d="M1354.5,159.4 L1502.0,97.8 L1690.8,140.5 M1355.5,166.2 L1502.0,103.5 L1689.6,147.0 M1356.5,173.1 L1502.0,109.2 L1688.4,153.5 M1357.5,180.0 L1502.0,115.0 L1687.2,160.0 M1358.5,186.9 L1502.0,120.8 L1686.1,166.5 M1359.5,193.8 L1502.0,126.5 L1684.9,173.0 M1360.5,200.6 L1502.0,132.2 L1683.7,179.5 M1372.1,144.9 L1379.1,198.8 M1525.8,97.2 L1524.6,144.0 M1390.6,137.4 L1396.6,190.1 M1549.5,102.5 L1547.1,150.0 M1409.2,129.8 L1414.2,181.4 M1573.2,107.8 L1569.7,156.0 M1427.8,122.2 L1431.8,172.8 M1597.0,113.0 L1592.2,162.0 M1446.3,114.7 L1449.3,164.1 M1620.8,118.2 L1614.8,168.0 M1464.9,107.1 L1466.9,155.4 M1644.5,123.5 L1637.4,174.0 M1483.4,99.6 L1484.4,146.7 M1668.2,128.8 L1659.9,180.0" fill="none" stroke="#c9ccd6" stroke-width="0.8" opacity="0.8"/>
<path d="M1353.5,152.5 L1502,92 L1692,134" fill="none" stroke="#d4d6dc" stroke-width="1.2"/>
<path d="M1361.5,207.5 L1571.3,294.6 L1682.5,186 L1502,138 Z" fill="url(#fl)"/>
<g filter="url(#tb)">
<path d="M1683.0 174.0L1681.2 177.5L1679.5 176.9L1677.7 177.1L1676.0 182.1L1674.2 186.9L1672.4 188.8L1670.7 189.3L1668.9 193.3L1667.1 189.0L1665.4 189.8L1663.6 194.1L1661.9 194.3L1660.1 195.5L1658.3 199.1L1656.6 202.8L1654.8 203.4L1653.0 203.6L1651.3 210.1L1649.5 213.1L1647.8 210.1L1646.0 208.5L1644.2 209.9L1642.5 219.2L1640.7 213.5L1639.0 221.3L1637.2 221.9L1635.4 221.3L1633.7 227.4L1631.9 222.2L1630.1 225.1L1628.4 229.7L1626.6 227.6L1624.9 236.6L1623.1 233.1L1621.3 234.0L1619.6 234.9L1617.8 241.9L1616.0 242.1L1614.3 245.5L1612.5 247.5L1610.8 250.7L1609.0 253.8L1607.2 253.1L1605.5 250.5L1603.7 254.8L1602.0 253.9L1600.2 254.2L1598.4 260.1L1596.7 264.0L1594.9 261.0L1593.1 263.6L1591.4 266.1L1589.6 271.0L1587.9 271.2L1586.1 273.8L1584.3 276.9L1582.6 275.4L1580.8 280.7L1579.0 283.5L1577.3 278.0L1575.5 287.3L1573.8 287.2L1572.0 283.7L1569.7 285.5L1567.4 286.0L1565.2 287.5L1562.9 281.7L1560.6 282.3L1558.3 284.1L1556.0 282.3L1553.7 282.6L1551.5 277.2L1549.2 277.8L1546.9 272.7L1544.6 276.3L1542.3 276.2L1540.0 273.5L1537.8 273.1L1535.5 267.6L1533.2 272.7L1530.9 272.3L1528.6 271.3L1526.3 266.2L1524.1 267.5L1521.8 262.2L1519.5 266.4L1517.2 264.9L1514.9 259.3L1512.7 255.8L1510.4 258.0L1508.1 257.9L1505.8 258.8L1503.5 255.3L1501.2 250.1L1499.0 256.0L1496.7 248.3L1494.4 253.9L1492.1 247.2L1489.8 247.6L1487.5 250.6L1485.3 243.7L1483.0 242.7L1480.7 245.0L1478.4 245.8L1476.1 245.8L1473.8 243.4L1471.6 244.6L1469.3 239.5L1467.0 242.5L1464.7 233.7L1462.4 233.9L1460.2 235.6L1457.9 232.4L1455.6 235.3L1453.3 233.4L1451.0 231.3L1448.7 233.2L1446.5 229.6L1444.2 226.3L1441.9 225.8L1439.6 229.0L1437.3 228.4L1435.0 221.1L1432.8 225.8L1430.5 225.8L1428.2 220.8L1425.9 220.2L1423.6 215.8L1421.3 217.7L1419.1 216.4L1416.8 216.3L1414.5 210.0L1412.2 217.4L1409.9 212.3L1407.7 210.2L1405.4 212.7L1403.1 209.5L1400.8 207.8L1398.5 208.6L1396.2 201.9L1394.0 205.1L1391.7 202.9L1389.4 206.8L1387.1 205.4L1384.8 198.5L1382.5 199.2L1380.3 195.1L1378.0 196.8L1375.7 199.2L1373.4 198.9L1371.1 194.0L1368.8 191.5L1366.6 189.3L1364.3 192.1L1362.0 190.0L1364.0 180.0L1572.0 269.0L1681.0 165.0z" fill="#4e2606"/><path d="M1364.0 176.7L1367.3 176.1L1370.6 177.3L1373.9 172.7L1377.1 171.6L1380.4 170.8L1383.7 166.6L1387.0 167.6L1390.3 167.1L1393.6 166.8L1396.9 160.6L1400.1 160.7L1403.4 157.8L1406.7 161.5L1410.0 159.4L1413.3 153.4L1416.6 158.7L1419.9 157.2L1423.1 153.6L1426.4 152.0L1429.7 147.5L1433.0 145.1L1436.3 147.3L1439.6 142.7L1442.9 142.3L1446.1 141.3L1449.4 138.4L1452.7 140.1L1456.0 138.6L1459.3 140.0L1462.6 136.4L1465.9 135.9L1469.1 133.6L1472.4 133.4L1475.7 130.6L1479.0 127.9L1482.3 131.6L1485.6 130.3L1488.9 127.8L1492.1 125.5L1495.4 121.4L1498.7 119.5L1502.0 118.5L1505.4 117.8L1508.9 123.5L1512.3 121.7L1515.8 125.7L1519.2 123.2L1522.7 128.1L1526.1 128.1L1529.5 123.0L1533.0 125.2L1536.4 130.9L1539.9 128.7L1543.3 133.1L1546.8 129.8L1550.2 128.3L1553.6 133.0L1557.1 134.9L1560.5 132.1L1564.0 131.6L1567.4 134.2L1570.8 139.4L1574.3 138.8L1577.7 135.1L1581.2 136.8L1584.6 136.6L1588.1 137.1L1591.5 143.1L1594.9 139.6L1598.4 143.0L1601.8 143.1L1605.3 142.1L1608.7 146.7L1612.2 143.3L1615.6 147.7L1619.0 144.8L1622.5 147.7L1625.9 147.1L1629.4 148.3L1632.8 154.0L1636.2 153.6L1639.7 150.9L1643.1 155.8L1646.6 151.9L1650.0 154.0L1653.5 158.0L1656.9 157.3L1660.3 154.4L1663.8 161.4L1667.2 156.8L1670.7 157.9L1674.1 162.3L1677.6 160.0L1681.0 162.0L1681.0 170.4L1678.9 170.7L1676.7 173.0L1674.6 179.1L1672.5 178.6L1670.3 183.6L1668.2 183.9L1666.0 186.7L1663.9 192.9L1661.8 191.3L1659.6 194.2L1657.5 198.7L1655.4 195.3L1653.2 197.3L1651.1 205.5L1648.9 206.9L1646.8 204.5L1644.7 206.2L1642.5 212.7L1640.4 216.5L1638.3 212.7L1636.1 220.9L1634.0 222.5L1631.8 222.4L1629.7 223.1L1627.6 222.8L1625.4 224.4L1623.3 233.9L1621.2 230.3L1619.0 236.2L1616.9 234.8L1614.7 241.5L1612.6 241.8L1610.5 241.5L1608.3 242.7L1606.2 249.3L1604.1 246.2L1601.9 249.6L1599.8 254.4L1597.6 258.9L1595.5 259.2L1593.4 258.7L1591.2 265.9L1589.1 262.4L1587.0 263.0L1584.8 267.2L1582.7 270.8L1580.5 269.9L1578.4 272.9L1576.3 276.6L1574.1 280.4L1572.0 279.1L1569.3 279.6L1566.5 282.6L1563.8 282.1L1561.1 278.3L1558.3 277.3L1555.6 275.2L1552.8 270.4L1550.1 268.3L1547.4 266.9L1544.6 272.8L1541.9 269.9L1539.2 270.7L1536.4 261.9L1533.7 265.6L1530.9 263.1L1528.2 263.8L1525.5 259.3L1522.7 263.5L1520.0 254.9L1517.3 257.4L1514.5 257.6L1511.8 257.7L1509.1 255.1L1506.3 253.6L1503.6 253.1L1500.8 252.8L1498.1 247.1L1495.4 248.5L1492.6 249.0L1489.9 247.5L1487.2 242.6L1484.4 244.3L1481.7 243.7L1478.9 240.1L1476.2 239.2L1473.5 236.1L1470.7 236.4L1468.0 235.4L1465.3 229.9L1462.5 233.1L1459.8 234.7L1457.1 232.5L1454.3 230.1L1451.6 226.1L1448.8 227.6L1446.1 225.1L1443.4 222.8L1440.6 224.7L1437.9 217.4L1435.2 221.5L1432.4 214.5L1429.7 217.8L1426.9 215.6L1424.2 212.3L1421.5 214.8L1418.7 212.0L1416.0 211.7L1413.3 212.9L1410.5 206.3L1407.8 203.1L1405.1 204.2L1402.3 205.9L1399.6 200.9L1396.8 199.4L1394.1 204.0L1391.4 200.8L1388.6 197.8L1385.9 200.1L1383.2 194.4L1380.4 195.8L1377.7 190.8L1374.9 191.4L1372.2 193.2L1369.5 192.8L1366.7 191.3L1364.0 187.0z" fill="#8e440a"/>
<path class="gf" d="M1499 130l.1-17.7q.8-17.3 2.4 0l.9 17.7-1.4 7.7z"/>
<path class="gc" d="M1500.3 132.2l.4-17.4q1.7-17.9 4.3 0l1.3 17.4-2.6 6.3z"/>
<path class="gc" d="M1509.3 133.2l1-16.7q2-17.2 3.3 0l.3 16.7-2 5.9z"/>
<path class="gc" d="M1518.5 133.3l.1-13.2q.9-12.9 2.6 0l.9 13.2-1.5 5.6z"/>
<path class="gd" d="M1518 134.5l1.1-17.9q1.8-17.9 2.5 0l-.1 17.9-1.5 7.1z"/>
<path class="ga" d="M1501.1 134.2l.8-12.7q1.6-12.2 2.6 0l.2 12.7-1.5 5.8z"/>
<path class="ga" d="M1506.6 136l.7-13q2-10.8 4 0l.8 13-2.4 8.4z"/>
<path class="gc" d="M1522.4 134.2l.4-9.2q1-8.3 2.2 0l.5 9.2-1.3 5z"/>
<path class="gd" d="M1483.2 135.1l.5-13.7q1.8-12.9 4.2 0l1.2 13.7-2.5 6.6z"/>
<path class="gc" d="M1504.2 136l.6-18.6q1.7-18.7 3.4 0l.7 18.6-2 7.3z"/>
<path class="ga" d="M1520.8 135.2l.2-13q1-13.3 2.4 0l.7 13-1.4 4.7z"/>
<path class="gb" d="M1503.8 136.8l1-12.1q2.1-10.3 3.8 0l.5 12.1-2.3 7.3z"/>
<path class="ga" d="M1523.9 135.7l1.2-16.5q2.2-18.5 3.4 0l.2 16.5-2 3.8z"/>
<path class="gd" d="M1485.9 138.4l1-16.9q2-15.8 3.3 0l.2 16.9-1.9 8.3z"/>
<path class="ga" d="M1507.7 137.2l.2-11.4q1.3-10.6 3.5 0l1.1 11.4-2.1 5.6z"/>
<path class="ga" d="M1486.1 137.2l.9-13.8q2-14.2 3.9 0l.7 13.8-2.3 4.8z"/>
<path class="gd" d="M1474.8 137.9l0-16.6q.7-17.8 2.3 0l.9 16.6-1.3 4.9z"/>
<path class="ga" d="M1505.9 139l1-13.2q1.7-12.4 2.3 0l-.1 13.2-1.3 6.3z"/>
<path class="gd" d="M1494 137.9l.5-9.5q1.6-9.5 3.7 0l.9 9.5-2.2 3.8z"/>
<path class="ga" d="M1500.9 138.9l.7-10.3q1.6-9.4 2.8 0l.4 10.3-1.7 5.4z"/>
<path class="gc" d="M1494.9 140.8l.9-11q1.9-8.6 3.2 0l.3 11-1.9 8z"/>
<path class="gb" d="M1540.8 140.5l.7-15.2q1.6-14.4 2.7 0l.3 15.2-1.6 7.3z"/>
<path class="gc" d="M1479.7 139.8l0-13q.8-12.6 2.3 0l.9 13-1.4 5.8z"/>
<path class="gf" d="M1535 140.5l.1-14.2q1-13.3 3.1 0l1.1 14.2-1.8 6.9z"/>
<path class="gc" d="M1499.8 140.1l.4-12.6q1.5-11.8 3.5 0l.9 12.6-2 6.1z"/>
<path class="ga" d="M1543.8 138.9l.3-16.7q1-18.6 2.2 0l.5 16.7-1.3 3.8z"/>
<path class="ga" d="M1551.8 141.4l.8-14.2q1.5-12.6 2.3 0l.1 14.2-1.4 8z"/>
<path class="ga" d="M1510.4 140.3l.2-20.4q1-22.1 2.6 0l.8 20.4-1.5 5.7z"/>
<path class="ga" d="M1539.5 141l.8-12.9q2.2-12.1 4.4 0l.9 12.9-2.6 6.3z"/>
<path class="ga" d="M1503.2 141.1l1-13.6q1.7-13 2.3 0l-.1 13.6-1.4 6.2z"/>
<path class="ga" d="M1549.2 139.8l.8-9.5q2.1-9.6 4.2 0l.8 9.5-2.5 3.7z"/>
<path class="gc" d="M1504.8 141.2l1.1-16.9q2.1-17.7 3.1 0l.1 16.9-1.9 5.5z"/>
<path class="gc" d="M1555.5 141.4l.1-14q.8-13.9 2.3 0l.8 14-1.4 5.6z"/>
<path class="ga" d="M1528.4 140.8l.8-16q1.9-17.3 3.4 0l.5 16-2 4.5z"/>
<path class="gc" d="M1552.4 142.3l.4-19q1.4-20.2 3.4 0l.9 19-2 5.8z"/>
<path class="gd" d="M1550.3 143.2l.1-10.8q.8-8.9 2.4 0l.8 10.8-1.4 7z"/>
<path class="ga" d="M1492.9 142.4l.3-12.6q1.4-12.3 3.6 0l1.1 12.6-2.1 5.4z"/>
<path class="gc" d="M1471.9 141.7l.9-9.6q2.1-9.5 3.6 0l.5 9.6-2.2 3.9z"/>
<path class="gd" d="M1491.1 143.7l.8-11.9q1.6-10.2 2.5 0l.1 11.9-1.5 7.2z"/>
<path class="ga" d="M1542.5 143.8l1.2-13.9q2.5-12.7 4.5 0l.6 13.9-2.6 7.2z"/>
<path class="ga" d="M1509.2 143.5l0-14.3q.8-13.8 2.8 0l1.1 14.3-1.6 6.5z"/>
<path class="ga" d="M1560.6 144.4l1.2-13.5q2.1-11.9 3 0l0 13.5-1.8 7.6z"/>
<path class="ga" d="M1511.6 142.8l1-16.4q1.7-17.7 2.3 0l-.1 16.4-1.4 4.7z"/>
<path class="gc" d="M1469.6 144.1l.1-18.2q1-18.5 3.1 0l1.1 18.2-1.9 6.8z"/>
<path class="ga" d="M1487.8 144.3l0-15.7q.7-15.2 2.4 0l.9 15.7-1.4 7z"/>
<path class="gd" d="M1511.4 144l.4-22q1.2-23.7 2.7 0l.7 22-1.6 6.2z"/>
<path class="gc" d="M1554.6 142.8l.6-11q1.8-11.5 4.1 0l1 11-2.4 3.6z"/>
<path class="ga" d="M1561.4 144.7l.8-10.7q1.6-8.9 2.6 0l.2 10.7-1.5 6.9z"/>
<path class="gc" d="M1551.3 144.5l.9-14.6q1.7-14.7 2.6 0l.1 14.6-1.5 5.8z"/>
<path class="ga" d="M1458.2 144.4l.6-15.8q1.3-16.5 2.1 0l.2 15.8-1.3 5.2z"/>
<path class="gd" d="M1569.9 144.4l.7-14.7q1.5-15.4 2.4 0l.2 14.7-1.4 4.8z"/>
<path class="ge" d="M1470.1 145.1l1.1-14.3q2.1-14 3.1 0l.1 14.3-1.9 6.1z"/>
<path class="ge" d="M1534.7 145.2l1.3-16.3q2.5-16.8 4.1 0l.3 16.3-2.4 5.7z"/>
<path class="ga" d="M1555.5 145.1l1.2-17.6q2.5-18.7 4.2 0l.5 17.6-2.5 5.4z"/>
<path class="ga" d="M1533.1 145.8l.5-10.7q1.9-9.1 4.4 0l1.2 10.7-2.6 6.6z"/>
<path class="gf" d="M1554 144.9l.3-13.1q.9-13.3 2.2 0l.6 13.1-1.3 4.8z"/>
<path class="ga" d="M1518.1 145.5l.9-13.9q2.1-13.8 4.1 0l.7 13.9-2.4 5.7z"/>
<path class="gc" d="M1479 144.8l.4-11.7q1.5-12.1 3.5 0l1 11.7-2.1 4.1z"/>
<path class="ga" d="M1568.9 145.1l.4-10.6q1.8-10.2 4.4 0l1.3 10.6-2.6 4.7z"/>
<path class="ga" d="M1480.6 147.5l.4-13.5q1.4-11.1 3.1 0l.8 13.5-1.8 8.8z"/>
<path class="gc" d="M1554.2 147.4l1.2-17.8q2.3-16.8 3.4 0l.1 17.8-2 8.5z"/>
<path class="ge" d="M1558.7 146.2l.5-11.5q1.7-10.4 3.8 0l.9 11.5-2.2 6.2z"/>
<path class="ga" d="M1462.4 147.5l.4-18q1.7-17.7 4.2 0l1.2 18-2.5 7.6z"/>
<path class="ga" d="M1521.1 148.1l.1-19.2q1-18.5 2.9 0l1 19.2-1.7 8.6z"/>
<path class="gd" d="M1524 148.4l.4-13.9q1.4-11.8 3 0l.7 13.9-1.8 8.6z"/>
<path class="gc" d="M1536.6 147.4l1-18.1q1.6-18.4 2.2 0l-.1 18.1-1.3 6.8z"/>
<path class="gc" d="M1565.2 148.3l-.1-18.9q.7-18.8 2.5 0l1.1 18.9-1.5 7.7z"/>
<path class="ga" d="M1466.7 146.1l.5-12q1.5-12.7 3.3 0l.8 12-1.9 3.7z"/>
<path class="ga" d="M1561.2 146.4l.8-11.6q1.9-11.9 3.4 0l.5 11.6-2 4.1z"/>
<path class="gc" d="M1541.2 148l.9-16.2q2.2-16 4.2 0l.8 16.2-2.5 6.7z"/>
<path class="ga" d="M1552.8 147l1.1-10.3q2.5-10 4.5 0l.7 10.3-2.6 4.6z"/>
<path class="gc" d="M1538.4 147l.3-11.2q1.6-11.1 4.2 0l1.3 11.2-2.5 4.6z"/>
<path class="gc" d="M1504.9 149.5l.7-19.9q1.8-19.3 3.8 0l.8 19.9-2.2 8.8z"/>
<path class="ga" d="M1500 147.5l.2-12.3q.9-12.3 2.3 0l.7 12.3-1.4 5z"/>
<path class="gd" d="M1570.5 148.8l1.1-13.4q2-12 2.8 0l0 13.4-1.7 7.4z"/>
<path class="gc" d="M1529.8 149.7l.3-17.4q1.2-16.2 3 0l.9 17.4-1.8 8.7z"/>
<path class="ga" d="M1537.9 147.6l1.1-12.2q2.1-12.4 3 0l0 12.2-1.8 4.6z"/>
<path class="gb" d="M1484.3 149.7l1.1-18.3q2.2-17.7 3.7 0l.4 18.3-2.2 8.2z"/>
<path class="ga" d="M1498.2 148.1l.2-13.9q1.2-14.3 3.3 0l1.1 13.9-2 4.8z"/>
<path class="gc" d="M1502.3 150l1.2-23.9q2.3-24.9 3.7 0l.2 23.9-2.2 8.2z"/>
<path class="gc" d="M1527.9 148.7l.7-12q1.6-11.4 3.2 0l.6 12-1.9 5.7z"/>
<path class="gf" d="M1516.7 148.2l.7-9.1q1.8-8.4 3.6 0l.6 9.1-2.1 4.6z"/>
<path class="ga" d="M1556.5 150.3l.5-18.7q1.3-18.4 2.4 0l.4 18.7-1.4 7.9z"/>
<path class="gb" d="M1553.2 149.6l.4-15.2q1.6-14.8 4 0l1.2 15.2-2.4 6.6z"/>
<path class="gd" d="M1559.9 149l.6-13.2q1.7-13.1 3.7 0l.9 13.2-2.2 5.5z"/>
<path class="ga" d="M1484.9 149.8l.6-11.9q1.7-10.4 3.7 0l.9 11.9-2.2 7z"/>
<path class="ga" d="M1488.7 149.9l.3-10.6q1.6-8.7 4.2 0l1.3 10.6-2.5 7z"/>
<path class="ga" d="M1503.6 149l0-9.9q.9-9.3 2.8 0l1.1 9.9-1.7 4.7z"/>
<path class="ga" d="M1561.3 150.4l.9-14.9q1.9-14.1 3.5 0l.5 14.9-2.1 7z"/>
<path class="gd" d="M1482.3 149.4l.8-11.1q1.8-10.6 3.6 0l.6 11.1-2.1 5z"/>
<path class="gc" d="M1528.5 149.2l.1-16.6q.9-18 2.4 0l.8 16.6-1.4 4.6z"/>
<path class="ga" d="M1578.3 149l.2-16q1.2-17.4 3.4 0l1.2 16-2 4.3z"/>
<path class="gd" d="M1490.7 151.1l1.4-13.4q2.8-11.5 4.5 0l.3 13.4-2.6 8z"/>
<path class="ga" d="M1492.1 151.5l.2-15.5q1.1-14 2.9 0l.9 15.5-1.7 8.3z"/>
<path class="ge" d="M1595.8 151.7l.4-12.1q1-9.4 2.1 0l.5 12.1-1.3 8.8z"/>
<path class="ga" d="M1465.8 150.8l.4-18.8q1.2-19.4 2.5 0l.5 18.8-1.5 6.6z"/>
<path class="ga" d="M1578.9 151.1l.3-12.1q1.4-10.5 3.5 0l1 12.1-2.1 7z"/>
<path class="gc" d="M1446.2 150.6l.5-14.9q1.9-14.9 4.4 0l1.2 14.9-2.6 5.8z"/>
<path class="gd" d="M1532 150.6l1-15.8q2.4-16.2 4.5 0l.7 15.8-2.6 5.7z"/>
<path class="gd" d="M1575.1 151.1l1.1-13q2.2-12.1 3.5 0l.3 13-2.1 6.5z"/>
<path class="gd" d="M1473.3 152.3l.9-18.1q1.7-17.2 2.4 0l0 18.1-1.4 8.6z"/>
<path class="ga" d="M1596.8 152.1l.3-15.9q1.3-15 3 0l.8 15.9-1.8 7.7z"/>
<path class="gf" d="M1523 150.2l0-9.6q.7-9.4 2.3 0l.9 9.6-1.4 4.1z"/>
<path class="gc" d="M1589.4 152.3l1.3-15q2.4-13.7 3.7 0l.2 15-2.2 7.8z"/>
<path class="gf" d="M1532.8 150.8l1-9.7q2-9.1 3.1 0l.2 9.7-1.8 4.8z"/>
<path class="ga" d="M1465.3 152.2l1.2-15.4q2.4-14.6 3.8 0l.2 15.4-2.2 7.4z"/>
<path class="gc" d="M1473.2 153.1l.5-14.4q1.5-12.4 3.4 0l.8 14.4-2 8.6z"/>
<path class="ga" d="M1539.5 153l1.4-13.7q2.6-11.8 4.1 0l.2 13.7-2.4 8.2z"/>
<path class="gc" d="M1523.4 150.6l.8-10.8q2.1-11.2 4.1 0l.8 10.8-2.4 3.6z"/>
<path class="gd" d="M1555.7 152.5l.4-19.4q1.3-19.7 3.1 0l.9 19.4-1.9 7.2z"/>
<path class="gc" d="M1582.3 151.4l.4-21.8q1.1-24.3 2.3 0l.5 21.8-1.4 5z"/>
<path class="gd" d="M1549.3 152.2l.5-11.6q1.6-10.3 3.6 0l.9 11.6-2.1 6.5z"/>
<path class="ga" d="M1577.7 152.6l0-11.1q.9-9.3 2.8 0l1.1 11.1-1.7 7.1z"/>
<path class="gd" d="M1563.7 152.3l.9-12.1q2.3-11.3 4.4 0l.8 12.1-2.6 6z"/>
<path class="gc" d="M1539.2 152.5l.4-11q1.3-9.9 3 0l.8 11-1.8 6z"/>
<path class="ge" d="M1580 152.5l1.1-18.2q2.2-19.2 3.5 0l.3 18.2-2.1 5.9z"/>
<path class="gd" d="M1597.7 152.5l.1-12.9q.8-12.4 2.2 0l.7 12.9-1.3 5.8z"/>
<path class="gf" d="M1454.4 151.4l1-13.7q2.2-14.8 3.7 0l.4 13.7-2.2 3.7z"/>
<path class="gc" d="M1495.9 153.7l.9-19.4q2.3-19.3 4.6 0l.9 19.4-2.7 8z"/>
<path class="ga" d="M1485.2 153.8l1.3-20q2.5-19.9 3.9 0l.2 20-2.3 8.1z"/>
<path class="ga" d="M1562.7 152.5l.7-10q2-9.1 4.1 0l.9 10-2.4 5.3z"/>
<path class="ga" d="M1448.1 152.3l.2-11q1.4-10.8 3.9 0l1.4 11-2.3 4.7z"/>
<path class="ga" d="M1586 153.8l.8-15q2-14.3 3.9 0l.7 15-2.3 7z"/>
<path class="gf" d="M1547.7 153l.9-15.1q2-15.6 3.6 0l.5 15.1-2.1 5.2z"/>
<path class="gd" d="M1520.5 153.9l.4-10.8q1.5-9.3 3.6 0l1 10.8-2.1 6.5z"/>
<path class="gb" d="M1518.8 153.8l.4-16.3q1.3-16.7 3.1 0l.8 16.3-1.8 6z"/>
<path class="ga" d="M1473.4 153.6l1.2-19.5q2.6-21.2 4.4 0l.5 19.5-2.6 5.3z"/>
<path class="ga" d="M1449.9 152.8l.4-17.7q1.2-20 2.7 0l.7 17.7-1.6 3.7z"/>
<path class="ga" d="M1462.9 153.7l1.1-10.6q2.2-10.1 3.8 0l.4 10.6-2.2 4.9z"/>
<path class="ga" d="M1496.4 155l.7-18.1q1.8-18.2 3.4 0l.6 18.1-2 7.1z"/>
<path class="ga" d="M1586.2 154.8l1-13.4q1.8-12.5 2.7 0l.1 13.4-1.6 6.8z"/>
<path class="ga" d="M1489.1 154l.6-18.4q1.3-19.9 2.2 0l.2 18.4-1.3 5.2z"/>
<path class="gd" d="M1542.8 153.8l.3-11.3q1.5-11.3 3.9 0l1.2 11.3-2.3 4.6z"/>
<path class="gd" d="M1509.5 155.7l.8-19.7q1.5-19.7 2.2 0l.1 19.7-1.3 7.9z"/>
<path class="ga" d="M1564.1 154.2l.8-9.9q1.7-9.3 2.8 0l.3 9.9-1.6 4.8z"/>
<path class="gd" d="M1596.2 156.4l.3-15.8q1-14.1 2.3 0l.6 15.8-1.3 8.8z"/>
<path class="ga" d="M1470.4 155.9l.4-19.7q1.8-19.9 4.4 0l1.3 19.7-2.6 7.5z"/>
<path class="ga" d="M1545.9 156.7l.8-16.9q2.2-15.4 4.5 0l.9 16.9-2.6 8.8z"/>
<path class="gd" d="M1501.1 154.6l.7-18.9q1.8-20.9 3.5 0l.6 18.9-2.1 4.6z"/>
<path class="gd" d="M1501.5 154.8l1-21.3q1.8-23.8 2.7 0l.1 21.3-1.6 4.9z"/>
<path class="ga" d="M1517.3 155.8l.5-15.8q1.5-15.4 3.2 0l.8 15.8-1.9 6.8z"/>
<path class="gf" d="M1492.9 156.8l.7-16.1q1.5-14.6 2.4 0l.2 16.1-1.4 8.6z"/>
<path class="ga" d="M1506.4 155.7l.1-18.4q1-19.4 2.9 0l1.1 18.4-1.7 5.9z"/>
<path class="gf" d="M1449.4 154.9l1-9.8q2.4-9.5 4.6 0l.7 9.8-2.7 4.4z"/>
<path class="gd" d="M1450.6 157.3l.7-16.7q1.7-15.3 3.2 0l.5 16.7-1.9 8.7z"/>
<path class="gd" d="M1610.5 156.1l.5-16.4q1.3-16.5 2.6 0l.5 16.4-1.5 6.4z"/>
<path class="ga" d="M1588.4 156.9l.8-17.8q1.8-17.6 3.1 0l.4 17.8-1.9 7.4z"/>
<path class="gd" d="M1543.9 157.7l.4-14q1.2-11.8 2.6 0l.6 14-1.5 8.7z"/>
<path class="gb" d="M1589.7 156.6l1.1-12.8q2.4-12.1 4.2 0l.6 12.8-2.5 6.1z"/>
<path class="gc" d="M1604.6 156.2l.7-12.9q1.6-12.8 3.1 0l.5 12.9-1.8 5.3z"/>
<path class="gb" d="M1618.8 158.1l.6-14.3q1.9-12.3 4 0l.9 14.3-2.4 8.6z"/>
<path class="gd" d="M1509.6 156l.3-14.8q1.4-15.9 3.5 0l1 14.8-2.1 4.3z"/>
<path class="gc" d="M1564.8 156l.1-12.3q1-12.7 2.8 0l1 12.3-1.7 4.3z"/>
<path class="gd" d="M1511.6 155.7l0-11q1-11.4 3.3 0l1.2 11-1.9 3.7z"/>
<path class="ga" d="M1561.1 158.4l1-20.3q2.3-19.8 4.4 0l.7 20.3-2.6 8.7z"/>
<path class="ga" d="M1426.7 157.1l.7-12.4q1.9-11.6 3.8 0l.7 12.4-2.2 6.1z"/>
<path class="ga" d="M1597.9 156.8l.2-15.5q1.2-16 3.1 0l1 15.5-1.8 5.6z"/>
<path class="gd" d="M1451.6 158.5l.7-17.7q1.4-16.8 2.2 0l.2 17.7-1.3 8.5z"/>
<path class="gf" d="M1500.7 157.7l-.1-17.7q.6-17.8 2.2 0l.9 17.7-1.3 6.8z"/>
<path class="gc" d="M1530.5 158.1l.4-23.9q1.6-25.2 4.1 0l1.2 23.9-2.4 7.5z"/>
<path class="gd" d="M1505.6 157.3l.4-15q1.7-15 4.3 0l1.3 15-2.5 5.9z"/>
<path class="gf" d="M1616.2 156.2l.1-16.3q1-18.2 3.1 0l1.1 16.3-1.8 3.7z"/>
<path class="gc" d="M1575.7 158.2l.6-19.7q1.8-20.1 3.9 0l.9 19.7-2.3 7.3z"/>
<path class="ga" d="M1475.4 158.5l1-23.6q1.9-24.6 2.8 0l.1 23.6-1.7 7.8z"/>
<path class="gc" d="M1519.1 158.9l.2-13.4q1.1-11.4 3.2 0l1.1 13.4-1.9 8.3z"/>
<path class="ga" d="M1504.7 157.3l.8-14.9q1.6-15.5 2.6 0l.2 14.9-1.5 5.2z"/>
<path class="ge" d="M1442.3 156.7l1.1-14.2q2.4-15.4 4 0l.4 14.2-2.3 3.9z"/>
<path class="gd" d="M1487 157.6l.9-16.8q1.8-17.7 2.9 0l.2 16.8-1.7 5.3z"/>
<path class="ga" d="M1534.6 159.2l.7-19.6q1.9-19.2 3.9 0l.8 19.6-2.3 8.2z"/>
<path class="gc" d="M1586.7 157.5l.2-18.5q1.1-20.1 3.1 0l1 18.5-1.8 5.1z"/>
<path class="gd" d="M1521.3 157.9l.6-10.5q1.8-9.6 4 0l.9 10.5-2.3 5.5z"/>
<path class="gc" d="M1469.5 158.5l.7-13.4q1.9-12.6 3.7 0l.7 13.4-2.2 6.6z"/>
<path class="ga" d="M1425.4 157.7l.5-14.1q1.7-14.5 4 0l1.1 14.1-2.4 5z"/>
<path class="ga" d="M1534.3 158.9l1.1-16.2q2.5-15.7 4.5 0l.7 16.2-2.7 7.2z"/>
<path class="ga" d="M1511.7 159.5l.7-16.4q1.4-15.3 2.3 0l.2 16.4-1.4 8.1z"/>
<path class="gf" d="M1424.7 157.8l1.4-15.7q2.7-16.7 4.2 0l.3 15.7-2.5 4.9z"/>
<path class="gc" d="M1596.7 159.7l.6-20.1q1.6-19.8 3.3 0l.7 20.1-1.9 8.4z"/>
<path class="ga" d="M1587.4 158.7l.3-18q1.5-18.6 3.7 0l1.1 18-2.2 6.4z"/>
<path class="gc" d="M1627.3 158l1-19.8q1.7-21.9 2.2 0l-.1 19.8-1.3 4.8z"/>
<path class="gd" d="M1633.5 159l1.2-17.7q2.1-17.9 3 0l0 17.7-1.8 6.6z"/>
<path class="gc" d="M1525 158.5l.3-18.2q1-19.4 2.6 0l.7 18.2-1.5 5.4z"/>
<path class="gc" d="M1439.7 159.4l1-12.1q1.8-10.6 2.7 0l.1 12.1-1.6 7z"/>
<path class="ge" d="M1453 157.6l.1-10.7q1.1-11.1 3.1 0l1 10.7-1.8 3.7z"/>
<path class="gc" d="M1490.2 158.5l.3-16.8q1.2-17.6 3 0l.9 16.8-1.8 5.4z"/>
<path class="ga" d="M1482.2 158.7l.8-13.6q1.4-13.7 2.3 0l.1 13.6-1.3 5.3z"/>
<path class="ga" d="M1443.9 158.3l.3-14q1.1-15 2.7 0l.8 14-1.6 4.2z"/>
<path class="gc" d="M1603.4 159.2l.3-15.5q1.2-15.8 3 0l.9 15.5-1.8 5.7z"/>
<path class="ga" d="M1541.8 158.6l.2-15.7q1-16.9 2.6 0l.8 15.7-1.5 4.5z"/>
<path class="gd" d="M1504.8 158.7l.7-14.3q2.1-15.1 4.7 0l1.1 14.3-2.8 4.4z"/>
<path class="gc" d="M1530.6 159.6l.3-17.9q1.5-18.7 4.1 0l1.3 17.9-2.4 6z"/>
<path class="gf" d="M1485.5 161.1l.3-17.7q1.2-16.6 3 0l.8 17.7-1.8 8.7z"/>
<path class="gc" d="M1601.8 158.8l.6-18q1.6-20 3.4 0l.8 18-2 4.3z"/>
<path class="ga" d="M1449.5 159.9l1-11.8q2.3-10.8 4.1 0l.6 11.8-2.4 6.1z"/>
<path class="gc" d="M1419.5 159.8l0-19q.8-20.3 2.7 0l1.1 19-1.6 5.7z"/>
<path class="gc" d="M1635.3 161.8l.2-15.3q.9-13.3 2.5 0l.8 15.3-1.5 9.1z"/>
<path class="ga" d="M1592.3 161.6l.1-16.2q1.1-14.7 3.3 0l1.2 16.2-1.9 8.6z"/>
<path class="gc" d="M1559 160.6l.7-15.4q2-15.1 4.2 0l.9 15.4-2.5 6.6z"/>
<path class="ga" d="M1424.2 160.4l1-15.5q1.7-15.6 2.2 0l-.1 15.5-1.3 6z"/>
<path class="gf" d="M1496.6 160.6l0-9.9q.9-8.7 2.7 0l1 9.9-1.6 5.8z"/>
<path class="gd" d="M1461.6 160.6l.4-13.1q1.4-13.1 3.5 0l1 13.1-2.1 5.3z"/>
<path class="gc" d="M1563.6 160.9l.7-9.9q1.6-8.7 3.1 0l.5 9.9-1.8 5.7z"/>
<path class="ga" d="M1554.9 161.4l.4-18.9q1.6-19.7 4.1 0l1.3 18.9-2.4 6.4z"/>
<path class="ga" d="M1551.7 162.8l1.1-13.4q2.2-11.2 3.6 0l.4 13.4-2.1 8.6z"/>
<path class="ga" d="M1468.2 161.2l.6-10.8q1.6-9.8 3.1 0l.6 10.8-1.8 5.6z"/>
<path class="ga" d="M1598.9 163l.7-12q1.6-9.1 3.1 0l.5 12-1.8 8.9z"/>
<path class="gc" d="M1637 160.4l.6-18q1.4-20.2 2.6 0l.4 18-1.5 3.9z"/>
<path class="ga" d="M1581.6 160.4l.7-15q2-16.4 4.3 0l1 15-2.6 3.9z"/>
<path class="gd" d="M1556.5 161.5l0-14.3q.9-14.1 2.8 0l1 14.3-1.7 5.9z"/>
<path class="gd" d="M1486.7 160.7l.2-10.8q.9-10.8 2.3 0l.7 10.8-1.4 4.2z"/>
<path class="ga" d="M1646 163.2l1.5-17.5q2.9-16.4 4.7 0l.4 17.5-2.8 8.6z"/>
<path class="gc" d="M1479.6 162.6l.8-17.2q2.1-17.1 4.1 0l.8 17.2-2.4 7z"/>
<path class="ga" d="M1530.2 161.5l.2-11.1q1.3-11 3.4 0l1.1 11.1-2 4.6z"/>
<path class="ga" d="M1612.8 162.4l.3-15.7q1.4-15.9 3.5 0l1 15.7-2.1 5.9z"/>
<path class="ga" d="M1454 162.8l.8-10.8q1.5-9.5 2.3 0l.1 10.8-1.3 6.3z"/>
<path class="ga" d="M1583.8 162.2l.3-10q1.4-9.1 3.4 0l1 10-2 5.3z"/>
<path class="gd" d="M1643.6 163.5l.4-19q1.2-19 2.6 0l.6 19-1.6 7.5z"/>
<path class="ga" d="M1502.3 164.3l.8-13.3q2-10.8 3.8 0l.6 13.3-2.2 8.9z"/>
<path class="ga" d="M1609.7 164.1l.6-15.3q1.6-13.7 3.3 0l.6 15.3-1.9 8.5z"/>
<path class="gf" d="M1506.6 162.6l.1-18.6q.9-19.8 2.6 0l.9 18.6-1.6 5.6z"/>
<path class="ga" d="M1606.4 161.8l.9-18.1q1.7-20.2 2.7 0l.1 18.1-1.6 4.1z"/>
<path class="ga" d="M1457.6 162.5l0-23.1q.9-25.8 2.8 0l1.1 23.1-1.7 5.3z"/>
<path class="gd" d="M1601.9 163.6l.8-11.2q1.6-9.4 2.7 0l.3 11.2-1.6 7.1z"/>
<path class="ga" d="M1611.6 162.9l1-16.2q2.1-16.7 3.5 0l.4 16.2-2.1 5.6z"/>
<path class="ga" d="M1625.9 163.4l.6-16.6q1.4-16.8 2.7 0l.5 16.6-1.6 6.3z"/>
<path class="ga" d="M1533.9 163.1l1-16.2q2.5-16.7 4.6 0l.8 16.2-2.7 5.7z"/>
<path class="ga" d="M1504.2 162.2l.1-14.8q1.1-16.1 3.3 0l1.2 14.8-2 4z"/>
<path class="ga" d="M1462.1 163.7l.1-19.2q1-19.9 2.8 0l.9 19.2-1.7 6.7z"/>
<path class="gb" d="M1590.2 163.6l.4-11.9q1-10.7 2.2 0l.5 11.9-1.3 6.4z"/>
<path class="gd" d="M1450.1 163l.9-18.4q2-19.9 3.8 0l.6 18.4-2.2 5.2z"/>
<path class="gb" d="M1611 164l1.4-11.2q2.6-9.4 4.1 0l.2 11.2-2.4 7.1z"/>
<path class="ga" d="M1627.5 164.1l1-16.8q2-16.4 3.3 0l.3 16.8-1.9 7.3z"/>
<path class="ga" d="M1434.5 162.6l.1-14.5q.8-15.5 2.3 0l.8 14.5-1.3 4.3z"/>
<path class="ga" d="M1627.8 163.7l.8-12.8q1.9-11.8 3.5 0l.5 12.8-2.1 6.4z"/>
<path class="gc" d="M1464.1 163.4l.7-14.9q1.6-14.9 3 0l.5 14.9-1.8 5.9z"/>
<path class="ga" d="M1573 162.4l.3-16.6q1-18.5 2.2 0l.5 16.6-1.3 3.8z"/>
<path class="ga" d="M1413.9 164.6l1.4-11q2.8-8.7 4.5 0l.3 11-2.6 7.6z"/>
<path class="gd" d="M1531.9 164.8l.9-16.2q1.6-15.1 2.3 0l0 16.2-1.4 8z"/>
<path class="ga" d="M1451.2 163.5l1.2-12.5q2.6-12 4.4 0l.5 12.5-2.6 5.7z"/>
<path class="gb" d="M1488.5 163.8l1-11.4q1.9-10.4 3.1 0l.2 11.4-1.8 6.1z"/>
<path class="ga" d="M1412.1 163.3l.4-12.8q1.1-12.9 2.3 0l.5 12.8-1.4 5z"/>
<path class="gd" d="M1525.8 163.1l1.2-15.1q2.6-16.4 4.8 0l.7 15.1-2.8 4.2z"/>
<path class="gc" d="M1603.9 164.1l.5-19.2q1.4-20.4 2.9 0l.6 19.2-1.7 6z"/>
<path class="gd" d="M1501.2 163.6l0-16.6q.8-17.7 2.5 0l.9 16.6-1.5 5z"/>
<path class="ga" d="M1642.3 164.4l1.4-14.4q2.7-14.1 4.4 0l.3 14.4-2.6 6.2z"/>
<path class="gd" d="M1559.3 163.9l.9-11.3q2.2-10.8 4.2 0l.7 11.3-2.5 5.3z"/>
<path class="ga" d="M1453.6 165.5l1.1-20.3q2.2-20.3 3.6 0l.2 20.3-2.1 8.2z"/>
<path class="gd" d="M1432.6 165.4l.3-13.6q1.7-12 4.4 0l1.4 13.6-2.6 7.8z"/>
<path class="ga" d="M1435.9 163.8l1-11.2q2.4-11 4.7 0l.8 11.2-2.8 4.8z"/>
<path class="gd" d="M1622.6 163.5l.7-14.2q1.8-15.3 3.6 0l.7 14.2-2.1 4.1z"/>
<path class="ga" d="M1479.6 164.3l.3-20.5q1-22.4 2.4 0l.7 20.5-1.4 5.4z"/>
<path class="ga" d="M1490.4 164.3l1.2-13.4q2.2-13.5 3.3 0l.1 13.4-2 5.2z"/>
<path class="gf" d="M1617.2 165.2l.5-15.9q1.6-15.7 3.6 0l.9 15.9-2.1 6.6z"/>
<path class="gd" d="M1525.7 165.7l1.4-14.8q2.7-13.7 4.5 0l.4 14.8-2.6 7.6z"/>
<path class="gb" d="M1473.4 164.4l.3-9.9q1.6-9.3 4.2 0l1.3 9.9-2.5 4.9z"/>
<path class="gc" d="M1627 166.2l.7-19.5q2-19.3 4.2 0l.9 19.5-2.4 8z"/>
<path class="gc" d="M1435.8 164.8l.9-16q2.3-16.7 4.7 0l.9 16-2.8 5.3z"/>
<path class="ga" d="M1531.1 166.8l1-17.8q2.4-16.6 4.5 0l.7 17.8-2.7 8.9z"/>
<path class="gd" d="M1602.2 165.5l1.2-12.1q2.1-10.9 2.9 0l0 12.1-1.7 6.4z"/>
<path class="ga" d="M1445.6 164.3l.8-12.9q2-13.7 4 0l.8 12.9-2.4 4z"/>
<path class="ga" d="M1624.7 166.9l.3-24.6q1.5-25.3 3.9 0l1.2 24.6-2.3 8.8z"/>
<path class="ga" d="M1502.1 165.8l1.2-10.9q2.5-9.5 4.2 0l.5 10.9-2.5 6.4z"/>
<path class="ga" d="M1492.5 166.2l.9-19.1q1.8-19.5 2.9 0l.3 19.1-1.7 7z"/>
<path class="gc" d="M1501.7 166l.1-11.2q1.1-9.7 3.3 0l1.2 11.2-2 6.6z"/>
<path class="ga" d="M1407.2 165.4l.9-10.9q1.8-10.1 2.7 0l.1 10.9-1.6 5.5z"/>
<path class="gc" d="M1408.8 167.3l.3-17.6q1.2-16.2 2.8 0l.7 17.6-1.6 8.9z"/>
<path class="gb" d="M1410.9 166.7l.2-16q1.1-15.2 3 0l1 16-1.8 7.7z"/>
<path class="ga" d="M1474.4 166.2l1.2-17.9q2.5-18.1 4.3 0l.5 17.9-2.6 6.8z"/>
<path class="gc" d="M1579.9 165.4l1.5-13.4q2.9-13.5 4.7 0l.4 13.4-2.8 5.2z"/>
<path class="gc" d="M1567.7 165.8l.5-13.6q1.5-13.3 3.4 0l.8 13.6-2 5.9z"/>
<path class="gf" d="M1662.2 165.6l.5-18.1q1.2-19.6 2.4 0l.4 18.1-1.4 5.1z"/>
<path class="gc" d="M1425.7 165.2l1.2-12.3q2.7-13 4.7 0l.6 12.3-2.8 3.9z"/>
<path class="ga" d="M1568.3 165.3l.5-14.6q1.4-15.8 2.7 0l.5 14.6-1.6 4.1z"/>
<path class="gf" d="M1519.5 167.7l1-14.1q1.7-12.4 2.4 0l0 14.1-1.4 8.1z"/>
<path class="gb" d="M1628 167l1.1-12.1q2.4-10.8 4 0l.4 12.1-2.4 6.7z"/>
<path class="ga" d="M1660.4 167.1l.3-18.2q1.5-18.5 4 0l1.3 18.2-2.3 6.8z"/>
<path class="gd" d="M1402.3 165.6l.4-11.6q1.6-11.9 3.8 0l1.1 11.6-2.3 4.1z"/>
<path class="gf" d="M1465.3 165.7l.8-12.4q1.6-13 2.5 0l.2 12.4-1.5 4z"/>
<path class="ga" d="M1475.7 166.6l1.3-11.4q2.5-10.6 4.1 0l.3 11.4-2.4 5.8z"/>
<path class="gd" d="M1505.2 167.6l.7-11.9q1.6-10.1 3.1 0l.5 11.9-1.8 7.4z"/>
<path class="ga" d="M1411.1 168.2l.5-16.2q1.2-15 2.5 0l.5 16.2-1.5 8.1z"/>
<path class="gd" d="M1443.1 167.3l.4-16.5q1.8-16.6 4.6 0l1.4 16.5-2.7 6.4z"/>
<path class="gd" d="M1511.2 166.5l.9-17.3q2-18.8 3.8 0l.6 17.3-2.2 4.6z"/>
<path class="gc" d="M1657.8 167.1l.9-13.1q1.8-12.7 3.2 0l.4 13.1-1.9 5.8z"/>
<path class="gb" d="M1430.7 167.4l.3-17.8q1.7-18.4 4.4 0l1.4 17.8-2.6 6.2z"/>
<path class="gc" d="M1480.1 167.4l1.2-15.5q2.5-15.5 4.3 0l.5 15.5-2.5 6.3z"/>
<path class="gc" d="M1461.2 166.7l.5-12.7q1.9-12.9 4.5 0l1.3 12.7-2.7 4.7z"/>
<path class="ga" d="M1481.6 166.2l1-11.8q2.2-12.5 3.7 0l.4 11.8-2.2 3.7z"/>
<path class="ga" d="M1666.5 168.6l1.2-14.8q2.5-13.3 4.2 0l.5 14.8-2.5 8.1z"/>
<path class="gc" d="M1404.3 167.1l.1-12.9q1.1-12.8 3.2 0l1.1 12.9-1.9 5.2z"/>
<path class="gc" d="M1486.7 166.5l.6-15.3q1.6-16.6 3.4 0l.7 15.3-2 4.1z"/>
<path class="gc" d="M1559.4 167.2l.9-18.9q2.2-20.4 4.2 0l.8 18.9-2.5 5.4z"/>
<path class="ga" d="M1588.9 168.9l.7-18.5q2.1-17.7 4.5 0l1.1 18.5-2.7 8.6z"/>
<path class="gb" d="M1602.1 167.4l.9-16.7q1.5-17.3 2.3 0l0 16.7-1.3 5.7z"/>
<path class="gc" d="M1407.1 167.7l.8-13.1q1.6-12.7 2.5 0l.1 13.1-1.5 5.8z"/>
<path class="gf" d="M1468.3 168.6l0-14.7q.8-13.7 2.7 0l1.1 14.7-1.6 7.3z"/>
<path class="ga" d="M1478.4 169.4l.4-11.8q1.3-9 3.1 0l.8 11.8-1.8 8.8z"/>
<path class="gd" d="M1497.5 168.5l.9-13q1.7-11.7 2.7 0l.2 13-1.6 7z"/>
<path class="ge" d="M1471.3 168.5l1.3-16.3q2.6-16 4.2 0l.3 16.3-2.5 6.9z"/>
<path class="ga" d="M1661.2 169.2l.4-20.2q1.6-20.2 4 0l1.1 20.2-2.3 8.2z"/>
<path class="ga" d="M1470.8 169.5l.6-16.3q1.5-14.8 3 0l.6 16.3-1.8 8.7z"/>
<path class="ga" d="M1465.8 168.2l1.3-15.6q2.6-15.6 4.1 0l.3 15.6-2.4 6.2z"/>
<path class="gc" d="M1487.6 169l.9-15.4q2.4-14.2 4.7 0l.9 15.4-2.8 7.8z"/>
<path class="ga" d="M1599.4 167.3l.6-11.8q1.6-11.9 3.3 0l.7 11.8-1.9 4.6z"/>
<path class="ga" d="M1530.4 169.2l1.1-19q2.5-18.7 4.4 0l.6 19-2.6 7.9z"/>
<path class="ga" d="M1658.4 168.2l.8-13.9q1.8-13.5 3.2 0l.4 13.9-1.9 6z"/>
<path class="gc" d="M1614.4 168.3l1-13.1q2-12.5 3.4 0l.3 13.1-2 6.1z"/>
<path class="gc" d="M1621 167.9l.3-16.6q1.6-17.4 4.1 0l1.3 16.6-2.4 5.4z"/>
<path class="gd" d="M1440.1 169.2l.8-13q2.2-11.3 4.8 0l1.1 13-2.8 7.7z"/>
<path class="ga" d="M1412.9 167.7l.9-17.5q1.7-19 2.5 0l.1 17.5-1.5 4.7z"/>
<path class="gd" d="M1553.4 169.4l.6-18q1.3-17.5 2.4 0l.3 18-1.4 7.8z"/>
<path class="gc" d="M1445.3 169.5l.1-15.6q.9-14.7 2.3 0l.8 15.6-1.4 7.6z"/>
<path class="ga" d="M1465 168l0-13.7q.9-14.2 2.9 0l1.1 13.7-1.7 4.7z"/>
<path class="ga" d="M1444.9 168.5l.4-12.4q1.2-11.9 2.5 0l.5 12.4-1.5 5.6z"/>
<path class="gd" d="M1530.1 168.5l.1-14.8q.9-15.3 2.5 0l.9 14.8-1.5 5.2z"/>
<path class="gc" d="M1443.6 169.5l.5-18.9q1.4-19.3 3 0l.6 18.9-1.7 6.9z"/>
<path class="ga" d="M1463.1 168.6l1-14.2q2.1-14.7 3.7 0l.4 14.2-2.2 5z"/>
<path class="gc" d="M1401.6 169l.9-10.3q2.1-9.2 3.8 0l.6 10.3-2.2 5.8z"/>
<path class="gc" d="M1660.2 169.2l.5-16.1q1.5-16.3 3.4 0l.9 16.1-2 6.2z"/>
<path class="gc" d="M1654.7 170l.9-13.2q2.3-11.6 4.4 0l.8 13.2-2.6 7.6z"/>
<path class="gf" d="M1454.9 168.5l.6-10.6q1.8-10.7 3.8 0l.8 10.6-2.2 4z"/>
<path class="ga" d="M1522.2 168.7l.4-10.7q1.5-10.7 3.5 0l1 10.7-2.1 4.3z"/>
<path class="ge" d="M1501.4 171.4l1.4-14.8q2.8-12.5 4.6 0l.4 14.8-2.7 9.2z"/>
<path class="gd" d="M1498.5 170.8l.4-14.4q1.7-12.7 4.3 0l1.3 14.4-2.5 8.2z"/>
<path class="ga" d="M1465 168.5l.9-11.8q2.1-12.4 3.9 0l.6 11.8-2.3 3.7z"/>
<path class="gc" d="M1397.6 169.7l.9-13.6q2.1-13.2 4.1 0l.7 13.6-2.4 6z"/>
<path class="ga" d="M1562.3 168.7l0-13.8q.8-14.7 2.7 0l1.1 13.8-1.6 4.1z"/>
<path class="gc" d="M1536.9 171.2l.7-20.1q1.4-19.7 2.3 0l.2 20.1-1.3 8.6z"/>
<path class="gf" d="M1531.9 171.3l.3-11.7q1.5-8.9 4 0l1.2 11.7-2.3 8.8z"/>
<path class="gf" d="M1523.7 169.5l.7-18.1q1.6-19.3 2.8 0l.3 18.1-1.7 5.4z"/>
<path class="ga" d="M1529.9 171.5l.9-19.6q2.1-18.6 4 0l.6 19.6-2.4 9.2z"/>
<path class="ga" d="M1416.9 169.3l0-14.5q.7-15.2 2.4 0l.9 14.5-1.4 4.8z"/>
<path class="ga" d="M1591.4 169.5l.2-19.5q1-21.4 2.6 0l.8 19.5-1.6 5z"/>
<path class="gc" d="M1564.8 170.8l1-14.6q2.4-13.4 4.7 0l.9 14.6-2.8 7.5z"/>
<path class="ga" d="M1424.1 168.9l.8-16.9q2.2-18.9 4.6 0l1 16.9-2.7 3.8z"/>
<path class="ga" d="M1667.3 169.2l0-10.2q.7-10 2.3 0l.9 10.2-1.3 4.4z"/>
<path class="ga" d="M1400.5 172l.1-19.7q.9-18.7 2.7 0l.9 19.7-1.6 9.2z"/>
<path class="gc" d="M1442.3 171l.8-16.2q1.8-15.6 3.3 0l.5 16.2-1.9 7.4z"/>
<path class="ga" d="M1424 171.7l.2-11.8q.9-9 2.4 0l.8 11.8-1.4 8.8z"/>
<path class="ga" d="M1522.3 171.9l.5-13q1.9-10.5 4.5 0l1.3 13-2.6 8.9z"/>
<path class="ga" d="M1471.7 171l.4-20.1q1.2-20.6 2.8 0l.7 20.1-1.7 7.3z"/>
<path class="gc" d="M1423.1 171.8l1.4-20.3q2.7-19.9 4.5 0l.4 20.3-2.7 8.7z"/>
<path class="ge" d="M1592.2 170.8l.4-12.3q1.2-11.1 2.8 0l.7 12.3-1.6 6.7z"/>
<path class="gc" d="M1448.7 171.8l1.3-11.9q2.4-9.3 3.5 0l.1 11.9-2.1 8.5z"/>
<path class="ga" d="M1432.6 171.3l.7-15.2q2-14.3 4.4 0l1 15.2-2.6 7.4z"/>
<path class="ga" d="M1502.5 170.1l.2-15.4q1.3-16.1 3.6 0l1.2 15.4-2.2 5z"/>
<path class="gd" d="M1621.1 171.6l-.1-18.3q.7-18 2.4 0l1 18.3-1.4 7.7z"/>
<path class="gc" d="M1421.1 169.7l.8-9.8q1.9-9.6 3.5 0l.6 9.8-2.1 4.1z"/>
<path class="ga" d="M1429.1 171.5l.3-15.5q1.2-14.7 3 0l.9 15.5-1.7 7.5z"/>
<path class="ga" d="M1602.1 171.2l1-11.5q1.9-10.1 2.8 0l.1 11.5-1.6 6.6z"/>
<path class="ga" d="M1578.2 171.4l.3-18.6q1.1-18.9 2.7 0l.8 18.6-1.6 7z"/>
<path class="ga" d="M1505.4 172.7l.7-13.6q2.1-11 4.4 0l1 13.6-2.6 9.2z"/>
<path class="gf" d="M1612.5 171.3l1.1-16.3q2.3-16.3 3.8 0l.4 16.3-2.2 6.5z"/>
<path class="ga" d="M1465.8 170.1l.4-16.7q1.5-18.4 3.7 0l1.1 16.7-2.2 4.2z"/>
<path class="ga" d="M1491.8 172.3l.7-19.3q1.9-19.1 3.9 0l.8 19.3-2.3 8z"/>
<path class="ga" d="M1552.6 171.1l.4-17.9q1.4-19 3.3 0l.9 17.9-2 5.5z"/>
<path class="ga" d="M1455.6 171.4l.8-13.5q1.9-12.9 3.7 0l.7 13.5-2.2 6.2z"/>
<path class="gf" d="M1536.8 171.3l.6-17q1.6-18 3.2 0l.6 17-1.9 5.2z"/>
<path class="gb" d="M1493.7 170.7l1-18.3q1.8-20.6 2.5 0l-.1 18.3-1.5 3.9z"/>
<path class="ga" d="M1514.9 172.3l.1-11.4q.9-10 2.5 0l.9 11.4-1.5 6.6z"/>
<path class="ga" d="M1528.6 171.9l.4-12q1.3-11.3 2.8 0l.7 12-1.6 5.8z"/>
<path class="gd" d="M1449.4 173.9l.5-17.6q1.4-16.2 3 0l.7 17.6-1.8 9.1z"/>
<path class="ga" d="M1489.5 172.9l.7-16.2q1.5-15.6 2.6 0l.3 16.2-1.5 7.2z"/>
<path class="gb" d="M1488.6 171.3l1.2-10.7q2.7-11 4.8 0l.6 10.7-2.8 3.9z"/>
<path class="ga" d="M1537.5 172.7l.6-18.7q1.6-19.5 3.1 0l.6 18.7-1.9 6.4z"/>
<path class="ga" d="M1562.6 173.3l1.2-14.7q2.4-13.6 3.8 0l.3 14.7-2.2 7.4z"/>
<path class="gc" d="M1551.1 172.1l1.2-16.5q2.5-17.6 4.2 0l.5 16.5-2.5 4.9z"/>
<path class="gd" d="M1563.7 174l.4-19.2q1.6-18.6 4 0l1.2 19.2-2.4 8.5z"/>
<path class="gc" d="M1442.7 173.2l.8-23.5q1.6-25.3 2.7 0l.3 23.5-1.6 6.8z"/>
<path class="gc" d="M1441.7 171.8l.6-14.4q1.9-15.5 4.3 0l1.1 14.4-2.5 4.1z"/>
<path class="gc" d="M1477.7 172.8l.9-13.9q2.2-13.8 4.4 0l.8 13.9-2.6 5.7z"/>
<path class="gd" d="M1593.6 172l.6-12.2q1.4-12.7 2.5 0l.4 12.2-1.5 4.2z"/>
<path class="gd" d="M1473.9 173.7l.3-13.9q1.2-12.8 2.9 0l.8 13.9-1.7 7.2z"/>
<path class="gc" d="M1677.2 173.5l.9-16.6q1.6-16.4 2.3 0l0 16.6-1.4 6.8z"/>
<path class="gc" d="M1544.4 174.9l.8-13.9q1.9-11.3 3.7 0l.7 13.9-2.2 9.2z"/>
<path class="ga" d="M1661.9 172.9l.7-18.5q2-19.8 4.3 0l1 18.5-2.6 5.5z"/>
<path class="ga" d="M1459.2 174.6l.2-12.6q1.1-10.2 3 0l.9 12.6-1.8 8.6z"/>
<path class="gf" d="M1470.2 174.7l.2-20q1.4-19.5 3.8 0l1.2 20-2.2 8.8z"/>
<path class="gc" d="M1400.3 173.3l.6-13.3q1.6-13.1 3.2 0l.7 13.3-1.9 5.5z"/>
<path class="gd" d="M1537.6 173.6l.8-14.5q1.9-14.3 3.7 0l.7 14.5-2.2 6.1z"/>
<path class="ga" d="M1411.3 175l.9-20.3q2.2-20.1 4.4 0l.8 20.3-2.6 8.4z"/>
<path class="gc" d="M1472.7 172.5l.9-11.1q2-11.4 3.5 0l.4 11.1-2.1 3.9z"/>
<path class="ga" d="M1672.3 173.3l.2-19.5q1.3-21.2 3.6 0l1.2 19.5-2.1 5.3z"/>
<path class="ga" d="M1500.9 175.3l.7-15.2q1.8-13.1 3.9 0l.9 15.2-2.3 9z"/>
<path class="ga" d="M1570.2 174.7l1.1-15q1.9-13.7 2.9 0l.1 15-1.7 8z"/>
<path class="gc" d="M1483.1 172.8l.4-9.8q1.6-9.4 4.1 0l1.2 9.8-2.4 4.4z"/>
<path class="ga" d="M1591.7 175.5l.5-20.4q1.3-19.6 2.7 0l.6 20.4-1.6 9.3z"/>
<path class="ga" d="M1411.4 172.8l.3-9.5q1.2-9.3 3.1 0l1 9.5-1.9 4.2z"/>
<path class="gc" d="M1647.1 174.2l.5-19.5q1.7-20.3 3.8 0l1 19.5-2.3 6.6z"/>
<path class="gc" d="M1496.5 174.7l1-18.4q2.4-18.3 4.8 0l.9 18.4-2.8 7.5z"/>
<path class="gc" d="M1566.4 175.1l1-15.6q2.4-14.2 4.7 0l.8 15.6-2.8 8.1z"/>
<path class="gb" d="M1441.1 175.7l1-21.7q2.2-21.4 3.7 0l.4 21.7-2.2 9z"/>
<path class="ga" d="M1557.2 175.4l.4-18q1.7-17.1 4.3 0l1.3 18-2.5 8.4z"/>
<path class="gc" d="M1584.9 174.3l.4-17.2q1.7-17.5 4.4 0l1.3 17.2-2.6 6.4z"/>
<path class="gc" d="M1476.3 175.1l1.2-18.8q2.6-18.5 4.6 0l.6 18.8-2.7 7.8z"/>
<path class="gd" d="M1599.2 173.8l1-24q1.9-27.1 2.8 0l0 24-1.6 5.1z"/>
<path class="gd" d="M1640.4 175.5l.6-20.2q1.7-20.4 3.6 0l.8 20.2-2.1 7.7z"/>
<path class="ga" d="M1581.2 176l0-15.8q1-14.1 3.2 0l1.2 15.8-1.9 8.8z"/>
<path class="gf" d="M1496.4 176l.4-19.4q1.3-18.7 2.9 0l.8 19.4-1.7 8.7z"/>
<path class="ga" d="M1551.8 174.1l.1-19.9q.8-22 2.4 0l.8 19.9-1.4 4.8z"/>
<path class="ga" d="M1551.2 175.8l.6-14.9q1.4-13.5 2.5 0l.4 14.9-1.5 7.9z"/>
<path class="ga" d="M1461.5 174.9l1.2-19.5q2.7-20.9 4.7 0l.6 19.5-2.8 5.6z"/>
<path class="gd" d="M1583.8 175.7l.4-19.9q1.6-20.7 4 0l1.2 19.9-2.4 6.8z"/>
<path class="gf" d="M1434.9 176l.9-15.7q1.6-14.9 2.5 0l.1 15.7-1.5 7.4z"/>
<path class="gd" d="M1679.4 176.8l.6-18.6q1.4-17.7 2.5 0l.3 18.6-1.5 8.8z"/>
<path class="gc" d="M1613.3 177l1-18q2.2-16.7 4.2 0l.7 18-2.5 9z"/>
<path class="ga" d="M1567.1 175.7l.5-17.5q1.7-18 4 0l1 17.5-2.3 6.2z"/>
<path class="gc" d="M1407.3 175.7l.4-17.5q1.6-18.1 4 0l1.1 17.5-2.3 6.1z"/>
<path class="gf" d="M1552.3 176.7l.5-13.4q1.7-11.5 3.8 0l.9 13.4-2.2 8z"/>
<path class="gc" d="M1427 175.7l.1-19.3q.9-20.4 2.7 0l.9 19.3-1.6 6z"/>
<path class="ga" d="M1516.2 176l.4-22.4q1.2-24.1 2.7 0l.7 22.4-1.6 6.4z"/>
<path class="gd" d="M1660.8 176.9l1-11.3q2.3-9.1 4.3 0l.6 11.3-2.5 7.8z"/>
<path class="gc" d="M1667.5 176.4l.7-18.6q1.4-19.2 2.3 0l.2 18.6-1.3 6.5z"/>
<path class="ga" d="M1394 177.7l1.2-11.8q2.2-9 3.2 0l0 11.8-1.9 8.7z"/>
<path class="ga" d="M1525.5 178l.9-15.5q1.8-13.6 2.8 0l.2 15.5-1.6 9z"/>
<path class="ga" d="M1536.9 176.3l.5-15.7q1.9-16.2 4.8 0l1.4 15.7-2.9 5.5z"/>
<path class="gd" d="M1611.4 175.4l1.2-14q2.1-15.1 3.2 0l.1 14-1.9 3.8z"/>
<path class="gc" d="M1408.9 177l1.1-11.5q2-10.2 3.1 0l.1 11.5-1.8 6.5z"/>
<path class="gd" d="M1633.7 176.6l.5-12q1.7-11.4 4.1 0l1.1 12-2.4 5.7z"/>
<path class="ga" d="M1385.4 175.6l.9-18q1.7-20.3 2.6 0l.1 18-1.5 3.8z"/>
<path class="gc" d="M1490.1 175.8l1.3-9.1q2.8-8.9 4.8 0l.6 9.1-2.8 3.8z"/>
<path class="gd" d="M1418.2 177.3l.5-14.6q1.3-14 2.6 0l.5 14.6-1.5 6.6z"/>
<path class="gc" d="M1528.4 177.2l.6-15.7q2-15.6 4.6 0l1.2 15.7-2.7 6.3z"/>
<path class="gb" d="M1529 176.1l1.1-19.4q2.2-21.9 3.6 0l.3 19.4-2.1 4.1z"/>
<path class="gc" d="M1573.5 177.9l1.1-14.2q2.3-13.1 3.9 0l.4 14.2-2.3 7.3z"/>
<path class="ga" d="M1423.4 178.6l.6-15.6q1.4-13.9 2.8 0l.5 15.6-1.6 8.6z"/>
<path class="ga" d="M1423.3 177.4l1.2-12.3q2.3-11.5 3.6 0l.2 12.3-2.1 6.1z"/>
<path class="ga" d="M1656.5 176.8l1.2-10.4q2.5-9.9 4.4 0l.5 10.4-2.6 4.8z"/>
<path class="gd" d="M1578.8 177.6l.1-17.5q1.1-18.2 3.3 0l1.2 17.5-1.9 6z"/>
<path class="gc" d="M1502.4 179.3l.6-15.6q1.5-13.6 2.9 0l.5 15.6-1.7 9.1z"/>
<path class="ga" d="M1617.8 177l1-18.4q1.8-20.2 2.5 0l0 18.4-1.5 4.7z"/>
<path class="ga" d="M1527.6 177.3l0-10.8q.8-10.1 2.6 0l1 10.8-1.5 5.3z"/>
<path class="gc" d="M1387.1 177.4l1.1-19.3q2.3-20.8 4 0l.5 19.3-2.3 5.5z"/>
<path class="ga" d="M1529.2 178.5l.6-14.9q1.6-13.8 3.1 0l.6 14.9-1.9 7.5z"/>
<path class="ga" d="M1634 179.3l.3-17.3q1.1-16 2.5 0l.6 17.3-1.5 8.9z"/>
<path class="ga" d="M1419.9 178.6l.1-15.4q1-14.5 2.8 0l.9 15.4-1.6 7.4z"/>
<path class="ga" d="M1659.4 177.7l1.2-13q2.1-12.6 3.1 0l.1 13-1.8 5.7z"/>
<path class="ga" d="M1570 179.1l.6-16.5q1.5-15.3 3 0l.6 16.5-1.7 8.2z"/>
<path class="ga" d="M1488.4 177.4l1.2-18.5q2.2-20.2 3.5 0l.2 18.5-2.1 4.9z"/>
<path class="ga" d="M1442.7 176.9l.2-18.4q1.3-20.8 3.6 0l1.2 18.4-2.1 4z"/>
<path class="gd" d="M1541.9 177.1l.3-18.5q1.4-20.7 3.4 0l1 18.5-2 4.3z"/>
<path class="ga" d="M1562 179.2l.4-14.9q1.8-13.7 4.4 0l1.3 14.9-2.6 7.6z"/>
<path class="gf" d="M1631.1 177.7l1.2-11.1q2.6-10.7 4.4 0l.5 11.1-2.6 4.9z"/>
<path class="ga" d="M1628.7 178.1l1.2-17.2q2.3-18 3.7 0l.2 17.2-2.2 5.6z"/>
<path class="gd" d="M1537.3 177.4l1.2-9.9q2.6-9.7 4.7 0l.6 9.9-2.8 4.3z"/>
<path class="gc" d="M1606.1 177.9l.9-15.7q1.6-16.5 2.3 0l0 15.7-1.4 5.1z"/>
<path class="ga" d="M1490.6 177.6l.2-14.2q.9-15.1 2.4 0l.7 14.2-1.4 4.3z"/>
<path class="gd" d="M1384.9 178.1l.2-14.3q1.2-14.6 3.1 0l1 14.3-1.8 5.3z"/>
<path class="ga" d="M1519.7 177.4l1.3-9.2q2.6-9 4.5 0l.5 9.2-2.6 4z"/>
<path class="ge" d="M1634.1 177.7l.3-11.9q1.6-12.1 4.4 0l1.4 11.9-2.6 4.4z"/>
<path class="gd" d="M1453.1 178.9l.6-14.4q1.9-13.8 4.1 0l1 14.4-2.4 6.6z"/>
<path class="ga" d="M1660.4 178.6l.5-12.5q1.5-11.9 3.2 0l.8 12.5-1.9 5.8z"/>
<path class="gd" d="M1615.6 180.5l.7-14q2.1-11.5 4.3 0l1 14-2.6 9.3z"/>
<path class="ga" d="M1526 180.2l.6-20.5q2-20.3 4.6 0l1.2 20.5-2.7 8.5z"/>
<path class="gd" d="M1668 179.7l1.1-20.1q2.4-20.5 4.2 0l.5 20.1-2.5 7.5z"/>
<path class="ga" d="M1429.5 179.4l.9-11q2-9.3 3.9 0l.6 11-2.3 6.8z"/>
<path class="gd" d="M1631.5 180.2l.9-15.1q2.2-13.6 4.1 0l.7 15.1-2.4 8.1z"/>
<path class="gc" d="M1618.4 179.3l.4-17.3q1.5-17.7 3.4 0l.9 17.3-2 6.3z"/>
<path class="gc" d="M1393.4 181l.9-17.8q2.3-16.2 4.8 0l1 17.8-2.8 9.3z"/>
<path class="ga" d="M1598.8 178.3l.8-16.5q2-18.2 4.2 0l.8 16.5-2.5 4.2z"/>
<path class="ga" d="M1635 178.2l.6-15.7q1.9-17.4 4.2 0l1 15.7-2.5 3.8z"/>
<path class="ga" d="M1492.5 179.7l.8-13.1q1.9-12.3 3.3 0l.4 13.1-2 6.5z"/>
<path class="gc" d="M1664.1 180.9l1.5-17.1q3-15.9 4.9 0l.4 17.1-2.9 8.6z"/>
<path class="gd" d="M1440.4 181l.4-16.5q1.3-15.2 2.9 0l.7 16.5-1.7 8.5z"/>
<path class="gb" d="M1650.3 181.4l.3-18.7q1.5-17.6 4.1 0l1.3 18.7-2.4 9.1z"/>
<path class="ga" d="M1473.7 181l.1-17.1q1-16.1 2.7 0l.9 17.1-1.6 8.2z"/>
<path class="gb" d="M1591 181l.6-15.4q1.8-14.4 3.9 0l.9 15.4-2.3 7.7z"/>
<path class="gd" d="M1673.4 181.1l1-19.2q2-19.1 3.3 0l.3 19.2-1.9 7.8z"/>
<path class="gc" d="M1633.6 179.7l1.4-13.6q2.8-13.8 4.7 0l.5 13.6-2.8 5.1z"/>
<path class="gd" d="M1542.3 179.6l.2-12.8q.9-12.8 2.5 0l.8 12.8-1.5 5z"/>
<path class="gc" d="M1387.8 180.4l.4-19.6q1.4-20.6 3.4 0l.9 19.6-2 6.4z"/>
<path class="gf" d="M1394.7 181.2l1.1-13.4q2.4-11.8 4.5 0l.7 13.4-2.6 7.8z"/>
<path class="gf" d="M1608.1 181.8l.9-12.8q1.6-10.3 2.3 0l0 12.8-1.3 8.7z"/>
<path class="ga" d="M1569 180.5l.6-11.7q1.9-10.7 4.4 0l1.2 11.7-2.6 6.1z"/>
<path class="ga" d="M1472.5 180.6l.2-12.4q1.2-11.4 3.3 0l1 12.4-1.9 6.4z"/>
<path class="gf" d="M1427.6 180l.6-16.7q1.5-17.8 2.8 0l.5 16.7-1.7 5.2z"/>
<path class="gc" d="M1622.2 181.9l.6-13.4q1.4-11.2 2.7 0l.4 13.4-1.6 8.5z"/>
<path class="ga" d="M1511.6 181l-.1-19.7q.8-20.5 2.8 0l1.1 19.7-1.6 6.8z"/>
<path class="gb" d="M1632.4 179.6l.8-12.1q2.2-12.6 4.7 0l1.1 12.1-2.8 4.1z"/>
<path class="ga" d="M1424.4 179.7l1.2-13.6q2.4-14.4 4.2 0l.4 13.6-2.5 4.4z"/>
<path class="gf" d="M1632 179.8l.5-11.1q1.5-11 3.4 0l.9 11.1-2 4.5z"/>
<path class="ga" d="M1526.5 181.7l.5-13.5q1.3-11.9 2.5 0l.5 13.5-1.5 7.8z"/>
<path class="ga" d="M1572 180.9l.3-12.2q1.6-11.1 4.1 0l1.3 12.2-2.4 6.5z"/>
<path class="ga" d="M1396.7 180.2l.6-16q1.6-17.1 3.1 0l.6 16-1.8 4.8z"/>
<path class="gc" d="M1526.3 182.2l1.1-16.4q2.6-15.1 4.6 0l.7 16.4-2.7 8.4z"/>
<path class="ga" d="M1459.2 180.7l.7-10.1q1.5-9.2 2.4 0l.2 10.1-1.4 5.4z"/>
<path class="ga" d="M1445.9 181.4l.8-12.2q2-10.9 3.8 0l.7 12.2-2.3 6.8z"/>
<path class="ga" d="M1487.4 181.1l.4-12.9q1.3-12.4 3.2 0l.9 12.9-1.9 5.9z"/>
<path class="ga" d="M1376.3 182.9l.7-14.5q1.9-12.6 4 0l.9 14.5-2.3 8.6z"/>
<path class="ga" d="M1640.3 181.8l.9-17q2.2-17.3 4.2 0l.8 17-2.5 6.4z"/>
<path class="ga" d="M1454.4 182.6l.9-13.4q1.6-11.7 2.4 0l.1 13.4-1.4 7.8z"/>
<path class="ga" d="M1480.9 181.2l.4-19.2q1.8-21.1 4.5 0l1.4 19.2-2.7 5z"/>
<path class="ga" d="M1449.6 181.4l.5-11.4q1.3-11.1 2.7 0l.6 11.4-1.6 5z"/>
<path class="ga" d="M1369.5 182.1l1.3-17.7q2.7-18.2 4.5 0l.5 17.7-2.7 6.3z"/>
<path class="ga" d="M1650.2 181.1l.8-18.7q2.1-20.9 4.2 0l.8 18.7-2.5 4.3z"/>
<path class="gd" d="M1539.1 182.5l.5-15.6q1.6-15.2 3.4 0l.8 15.6-2 6.8z"/>
<path class="gd" d="M1530.4 181.7l.4-10.5q1.7-9.8 4.3 0l1.2 10.5-2.5 5.2z"/>
<path class="ge" d="M1372 181.5l1.3-17.3q2.5-18.7 4 0l.3 17.3-2.4 4.9z"/>
<path class="ga" d="M1394.5 182.3l.6-21.3q1.8-23.1 3.8 0l.9 21.3-2.3 5.9z"/>
<path class="ga" d="M1431.6 181.9l.4-19.7q1.8-21.6 4.7 0l1.4 19.7-2.8 5.1z"/>
<path class="ga" d="M1473.8 181.7l1.1-18.4q2.5-20.5 4.4 0l.6 18.4-2.6 4.2z"/>
<path class="gf" d="M1537.9 183.5l1.3-15.3q2.7-14.4 4.3 0l.3 15.3-2.5 7.5z"/>
<path class="gb" d="M1607.2 183.7l.3-14.5q1.6-13 4.1 0l1.3 14.5-2.4 8z"/>
<path class="gc" d="M1589.7 182.7l.6-19.7q1.9-21.1 4.3 0l1.1 19.7-2.5 5.8z"/>
<path class="gc" d="M1408.1 183l0-13.6q.8-13.1 2.7 0l1.1 13.6-1.6 6.2z"/>
<path class="ga" d="M1385.1 184.2l.9-17.3q2.4-16.4 4.9 0l1 17.3-2.9 8.3z"/>
<path class="gd" d="M1494.1 182.6l.1-11.8q1.1-11.4 3.4 0l1.2 11.8-2 5.4z"/>
<path class="gd" d="M1552.5 184.5l.7-12.1q1.5-9.6 2.7 0l.3 12.1-1.6 8.5z"/>
<path class="gc" d="M1629.9 184.4l1.2-21q2.4-21 4.1 0l.4 21-2.4 8.4z"/>
<path class="gc" d="M1493.6 184.9l1.4-19.6q2.8-18.7 4.4 0l.3 19.6-2.6 9.1z"/>
<path class="ga" d="M1591.6 182.9l.7-15.7q1.9-16.3 3.7 0l.7 15.7-2.2 5.4z"/>
<path class="gd" d="M1364.1 184.2l1.1-14.1q2.5-12.8 4.8 0l.8 14.1-2.9 7.5z"/>
<path class="gc" d="M1560.5 182.4l0-9.5q.8-9.3 2.6 0l1 9.5-1.5 4.2z"/>
<path class="gc" d="M1628.6 183.6l1.2-12.8q2.3-12 3.6 0l.2 12.8-2.1 6.3z"/>
<path class="gb" d="M1566.6 185.2l.6-20.4q1.7-19.9 3.4 0l.7 20.4-2 8.8z"/>
<path class="gd" d="M1478.8 183.3l1-15.1q2.3-15.6 4.1 0l.6 15.1-2.4 5.3z"/>
<path class="ga" d="M1388.7 184l.5-19.7q1.4-20.6 2.9 0l.6 19.7-1.7 6.4z"/>
<path class="ga" d="M1398.9 183.7l.4-18.2q1.6-19.1 4 0l1.2 18.2-2.3 5.9z"/>
<path class="gd" d="M1647.3 183.8l.7-11.9q1.9-11.1 4.1 0l.9 11.9-2.4 5.9z"/>
<path class="ga" d="M1498.3 185.4l.4-13.7q1.7-11.5 4.3 0l1.3 13.7-2.5 8.6z"/>
<path class="gc" d="M1515.6 183.3l1.4-10.1q2.7-9.6 4.2 0l.2 10.1-2.5 4.8z"/>
<path class="gb" d="M1484.8 185.1l1.4-23.6q2.6-24.6 4.2 0l.3 23.6-2.5 7.9z"/>
<path class="ge" d="M1584.5 183.5l.6-10.2q2-9.7 4.6 0l1.2 10.2-2.7 4.8z"/>
<path class="ga" d="M1608.8 185.7l.8-16.4q2.2-14.9 4.5 0l1 16.4-2.7 8.7z"/>
<path class="gc" d="M1391 184.6l.7-15.4q2-15 4.4 0l1 15.4-2.6 6.7z"/>
<path class="gc" d="M1495 185.9l.6-13.1q1.4-10.4 2.6 0l.4 13.1-1.5 9z"/>
<path class="ga" d="M1496.4 184.8l-.1-18.9q.6-19.3 2.4 0l1 18.9-1.4 6.9z"/>
<path class="ga" d="M1544.7 185.1l1-14.3q2.3-13.4 4 0l.5 14.3-2.4 7z"/>
<path class="gd" d="M1420 185l.8-18.6q1.9-18.9 3.6 0l.6 18.6-2.1 7z"/>
<path class="gc" d="M1428.6 183.6l.9-14.9q1.7-16 2.7 0l.1 14.9-1.6 4.3z"/>
<path class="gc" d="M1528.5 186.5l.3-19.7q1.3-18.7 3.1 0l.9 19.7-1.8 9.3z"/>
<path class="ga" d="M1564.7 184.5l.5-17.8q1.3-18.8 2.6 0l.5 17.8-1.6 5.6z"/>
<path class="ga" d="M1476.7 186.1l.6-13q1.6-10.7 3.4 0l.7 13-2 8.5z"/>
<path class="gc" d="M1380.5 185.8l1.3-11.5q2.7-9.4 4.5 0l.4 11.5-2.6 7.7z"/>
<path class="ga" d="M1412.9 186l.8-11.8q1.8-9.7 3.2 0l.5 11.8-1.9 7.8z"/>
<path class="gc" d="M1383.1 184.7l.8-10.1q1.6-9.2 2.7 0l.3 10.1-1.6 5.4z"/>
<path class="gd" d="M1388.7 185.9l1-19q1.9-18.9 2.9 0l.1 19-1.7 7.7z"/>
<path class="gc" d="M1518.6 185.6l.7-13.2q2-12 4.4 0l1 13.2-2.6 7z"/>
<path class="ga" d="M1643.1 184.1l1.2-13.1q2.4-13.8 3.8 0l.3 13.1-2.3 4.1z"/>
<path class="gf" d="M1532.6 186.5l1.2-12.8q2.3-10.5 3.6 0l.3 12.8-2.1 8.5z"/>
<path class="ga" d="M1655.1 185l.7-10.3q1.7-9.3 3.3 0l.5 10.3-1.9 5.6z"/>
<path class="gc" d="M1445.6 184.9l.9-16.7q1.7-17.7 2.7 0l.2 16.7-1.6 5.2z"/>
<path class="gf" d="M1451.8 185.8l.8-13.7q1.8-12.7 3.2 0l.5 13.7-1.9 6.9z"/>
<path class="ga" d="M1474 186.7l1.2-12.8q2.3-10.5 3.4 0l.1 12.8-2 8.4z"/>
<path class="gc" d="M1473.3 187.2l1.4-17.2q2.8-15.4 4.7 0l.5 17.2-2.8 9.4z"/>
<path class="gd" d="M1651.4 185.8l1.4-13.3q2.9-12.3 4.9 0l.5 13.3-2.9 6.7z"/>
<path class="ga" d="M1541.8 186.8l1.3-12.8q2.4-10.6 3.6 0l.2 12.8-2.1 8.2z"/>
<path class="gc" d="M1536.4 185.9l.7-11.6q2-10.3 4.1 0l.9 11.6-2.4 6.4z"/>
<path class="gf" d="M1577.1 186l.8-12.9q1.9-12.1 3.4 0l.5 12.9-2 6.5z"/>
<path class="gf" d="M1638.2 186l.7-19.4q1.5-20.4 2.6 0l.3 19.4-1.5 6.3z"/>
<path class="gd" d="M1415.1 186l.3-13q1.3-12.4 3.4 0l1 13-2 6.1z"/>
<path class="gf" d="M1576 186.9l1.3-18.4q2.7-18.2 4.7 0l.6 18.4-2.8 7.7z"/>
<path class="ga" d="M1439 186.9l1.1-18.1q2.2-17.9 3.6 0l.3 18.1-2.1 7.6z"/>
<path class="gc" d="M1632 185.6l.5-18.4q1.7-20 3.7 0l.9 18.4-2.2 4.9z"/>
<path class="ga" d="M1629.4 187.5l.6-17.5q2-16.5 4.6 0l1.2 17.5-2.7 8.4z"/>
<path class="gc" d="M1375.5 185.7l1.1-18.3q1.8-20 2.5 0l-.1 18.3-1.5 4.9z"/>
<path class="gd" d="M1596.2 187.2l1.2-20.1q2.6-20.3 4.5 0l.5 20.1-2.6 7.7z"/>
<path class="gc" d="M1589.4 186.3l0-18.3q.9-19.2 3 0l1.2 18.3-1.8 5.9z"/>
<path class="gd" d="M1389.5 187.3l.5-16.1q1.8-15.2 4.4 0l1.2 16.1-2.6 7.7z"/>
<path class="gd" d="M1548.4 188.1l.9-15.7q2-13.8 3.5 0l.4 15.7-2.1 9.1z"/>
<path class="gd" d="M1567.6 185.3l.8-17.5q1.8-19.6 3.2 0l.5 17.5-1.9 3.9z"/>
<path class="gd" d="M1543.2 185.5l1-14.4q2.4-15.5 4.6 0l.8 14.4-2.7 4.1z"/>
<path class="ga" d="M1609.8 185.6l1.1-12.6q2.6-13.2 4.8 0l.8 12.6-2.8 4.2z"/>
<path class="gc" d="M1546.6 188.7l1.1-15.5q2-13.2 3.2 0l.2 15.5-1.9 9.5z"/>
<path class="ga" d="M1451.1 186.7l.5-11q1.9-10.2 4.7 0l1.4 11-2.8 5.6z"/>
<path class="gc" d="M1595.9 187l.5-13.6q1.6-13 3.8 0l1 13.6-2.3 6.2z"/>
<path class="gd" d="M1436.5 187.3l.4-15.6q1.6-15.3 3.7 0l1 15.6-2.2 6.5z"/>
<path class="gd" d="M1378.6 187.3l.5-11.5q1.3-10.2 2.6 0l.5 11.5-1.5 6.4z"/>
<path class="gc" d="M1645.4 187.9l.8-12.5q2.1-10.9 4.1 0l.8 12.5-2.4 7.4z"/>
<path class="ga" d="M1607 186.6l0-10.1q.8-9.6 2.7 0l1.1 10.1-1.6 4.8z"/>
<path class="gd" d="M1426.1 188.2l.9-14.1q2.2-12.7 4.2 0l.8 14.1-2.5 7.7z"/>
<path class="gb" d="M1551.4 187.9l.5-16.6q1.6-16.4 3.7 0l.9 16.6-2.2 7z"/>
<path class="ga" d="M1491.2 187.6l1.1-15.2q2.1-14.9 3.4 0l.3 15.2-2 6.4z"/>
<path class="gd" d="M1614.4 187.1l1-20.5q2.4-22.3 4.8 0l.9 20.5-2.8 5.6z"/>
<path class="gc" d="M1395.6 189.3l.4-15q1.6-12.6 4 0l1.1 15-2.4 9.4z"/>
<path class="gd" d="M1554.1 186.7l.6-11.1q1.4-11.1 2.8 0l.5 11.1-1.7 4.6z"/>
<path class="ga" d="M1629.8 186.9l.4-14.9q1.7-15.8 4.4 0l1.3 14.9-2.6 4.7z"/>
<path class="gc" d="M1663.6 186.6l.9-13.5q2.3-14.4 4.5 0l.9 13.5-2.7 4.1z"/>
<path class="ga" d="M1657.4 188.3l.4-12.4q1.5-10.9 3.6 0l1 12.4-2.1 7.1z"/>
<path class="gf" d="M1613.4 188.9l.4-15.4q1.8-13.9 4.5 0l1.4 15.4-2.7 8.3z"/>
<path class="gc" d="M1552.6 187l.2-19q1.1-21 3 0l1 19-1.8 4.6z"/>
<path class="ga" d="M1542.9 187l.4-16.8q1.9-18.4 4.8 0l1.4 16.8-2.8 4.3z"/>
<path class="ga" d="M1500.4 187.3l.9-14.3q2.1-14.9 3.7 0l.5 14.3-2.2 4.8z"/>
<path class="gc" d="M1465.2 188.8l.8-15.9q1.5-15.2 2.3 0l.1 15.9-1.4 7.5z"/>
<path class="ga" d="M1528.2 189.5l.5-20.7q1.5-20.4 3.3 0l.8 20.7-2 8.8z"/>
<path class="ga" d="M1628.8 189.5l1-12.9q2.3-10.4 4.3 0l.7 12.9-2.5 8.8z"/>
<path class="gc" d="M1369.3 187.5l1.1-19.2q2.1-21.2 3.2 0l.1 19.2-1.9 4.7z"/>
<path class="gc" d="M1449.4 187.6l.4-18.9q1.7-20.8 4.3 0l1.3 18.9-2.5 4.7z"/>
<path class="ga" d="M1662.6 188.1l.8-16.1q2.3-16.7 4.8 0l1 16.1-2.8 5.6z"/>
<path class="gd" d="M1520 189.7l.7-14.7q1.6-12.9 2.9 0l.4 14.7-1.7 8.5z"/>
<path class="gc" d="M1556.2 188.8l1-14.3q2.5-13.7 4.9 0l.9 14.3-2.9 6.6z"/>
<path class="ga" d="M1563.8 190.4l.2-26.1q1.4-26.8 3.7 0l1.2 26.1-2.2 9.4z"/>
<path class="gb" d="M1563 190.2l1.3-16.8q2.8-15.3 4.9 0l.6 16.8-2.9 8.9z"/>
<path class="ge" d="M1387.6 189.4l1.5-14.9q3-14.1 5 0l.4 14.9-2.9 7.2z"/>
<path class="ga" d="M1634.9 188.7l1.5-15.7q2.9-16.3 4.6 0l.3 15.7-2.7 5.4z"/>
<path class="ga" d="M1430.9 188.7l.8-10.5q2.2-9.7 4.5 0l1 10.5-2.6 5.4z"/>
<path class="gd" d="M1557.7 190.9l.5-21.3q1.5-20.6 3.5 0l.9 21.3-2.1 9.6z"/>
<path class="gb" d="M1471.1 189.6l.5-19.5q1.5-20 3.4 0l.9 19.5-2 7z"/>
<path class="ga" d="M1545.1 191l0-21.5q.7-20.8 2.5 0l1 21.5-1.5 9.6z"/>
<path class="gd" d="M1612.1 190.5l1.1-17.2q2.1-16 3.1 0l.1 17.2-1.8 8.6z"/>
<path class="gc" d="M1474.2 190.6l.5-20.4q2-20 4.9 0l1.4 20.4-2.9 8.8z"/>
<path class="gc" d="M1450.9 188.1l.9-18q2.1-20.1 4 0l.7 18-2.4 4.1z"/>
<path class="gc" d="M1500.7 189.7l1.4-15.7q2.8-15.2 4.8 0l.5 15.7-2.8 6.9z"/>
<path class="gc" d="M1583.7 190l.7-13.6q2.2-12.4 5 0l1.3 13.6-2.9 7.1z"/>
<path class="gc" d="M1403.4 191.3l.4-15.5q1.7-13.3 4.4 0l1.4 15.5-2.6 9.3z"/>
<path class="ga" d="M1438.9 191.3l.5-17.5q1.6-15.9 3.5 0l.9 17.5-2.1 9.3z"/>
<path class="ga" d="M1574.9 188.9l1-23.2q1.9-26.5 2.8 0l.1 23.2-1.7 4.4z"/>
<path class="gd" d="M1568.4 189.8l.4-24.4q1.6-26.9 3.8 0l1 24.4-2.2 6.1z"/>
<path class="gc" d="M1598.2 191.5l.4-21.7q1.6-21.4 3.9 0l1.1 21.7-2.3 9.2z"/>
<path class="gd" d="M1430.5 191.3l1.3-21.2q2.8-21 4.8 0l.5 21.2-2.8 8.7z"/>
<path class="ga" d="M1555.1 190.9l.9-13q2.3-11.2 4.7 0l1 13-2.8 7.8z"/>
<path class="ga" d="M1617.8 191.4l.1-23.4q.8-24 2.4 0l.8 23.4-1.4 8.5z"/>
<path class="gc" d="M1508.8 191.1l.5-15.9q1.5-14.8 3.5 0l.9 15.9-2.1 7.8z"/>
<path class="ga" d="M1662.9 189.3l1.3-11.7q2.5-12 3.9 0l.2 11.7-2.3 4.1z"/>
<path class="ga" d="M1371.1 190.7l.8-16.6q2-16.5 3.8 0l.7 16.6-2.2 6.8z"/>
<path class="ga" d="M1479.1 192.2l1.1-14.1q1.9-11.5 2.8 0l0 14.1-1.7 9.4z"/>
<path class="gd" d="M1468.8 191l.3-16.6q1.4-16.3 3.6 0l1.1 16.6-2.1 7.1z"/>
<path class="gb" d="M1573.1 192.4l1.3-15q2.7-12.5 4.6 0l.5 15-2.7 9.6z"/>
<path class="gf" d="M1574.5 191.9l.1-13.3q1-11 2.9 0l1 13.3-1.7 8.7z"/>
<path class="ga" d="M1468.1 189.6l1.1-19.1q2.2-21.3 3.9 0l.5 19.1-2.3 4.3z"/>
<path class="gd" d="M1451.4 190.1l1.3-12.4q2.8-12.5 4.7 0l.5 12.4-2.7 4.8z"/>
<path class="gd" d="M1614 192.3l.7-14.2q1.8-12.1 3.5 0l.6 14.2-2.1 8.8z"/>
<path class="ga" d="M1375.1 192.4l.4-20.8q1.7-20.4 4.2 0l1.2 20.8-2.5 9z"/>
<path class="gc" d="M1392.3 191.4l0-18.5q.9-18.9 3 0l1.1 18.5-1.8 6.7z"/>
<path class="ga" d="M1455.2 192.9l.7-19.4q2-18.4 4.2 0l.9 19.4-2.5 9.2z"/>
<path class="gc" d="M1473.8 191.9l.4-11.2q1.3-9.2 3 0l.8 11.2-1.8 7.3z"/>
<path class="gb" d="M1568.7 192.4l.7-13.2q1.7-11.4 3.5 0l.7 13.2-2.1 7.8z"/>
<path class="ga" d="M1534.2 191.1l.8-12.6q2-12.5 4.1 0l.8 12.6-2.4 5.3z"/>
<path class="ga" d="M1437.6 191.6l1.2-10.7q2.7-9.6 4.9 0l.7 10.7-2.9 6z"/>
<path class="ga" d="M1517.3 191.4l0-13.4q.8-13.4 2.7 0l1.1 13.4-1.6 5.3z"/>
<path class="gd" d="M1458.8 190.7l.5-12.8q1.6-13.6 3.6 0l.9 12.8-2.1 4z"/>
<path class="ga" d="M1522.6 191.7l.4-13.1q1.5-12.7 3.7 0l1.1 13.1-2.2 5.9z"/>
<path class="ga" d="M1463.6 193.1l.9-12.2q2-10 3.6 0l.5 12.2-2.1 8z"/>
<path class="ga" d="M1477.2 193.6l1-20.2q2.2-19.6 4.1 0l.6 20.2-2.4 8.8z"/>
<path class="gc" d="M1496.1 193.4l.7-21.2q1.9-21.2 3.7 0l.7 21.2-2.2 8.4z"/>
<path class="gd" d="M1421.2 192.3l1.3-15.9q2.5-15.9 3.8 0l.2 15.9-2.2 6.3z"/>
<path class="gd" d="M1518.2 192l.8-19.5q2.2-21 4.6 0l1 19.5-2.7 5.6z"/>
<path class="ga" d="M1647.3 192.4l1.1-16.7q2.1-16.9 3.4 0l.3 16.7-2 6.3z"/>
<path class="gb" d="M1496.6 191.7l1.2-11.9q2.7-12 4.9 0l.7 11.9-2.9 4.6z"/>
<path class="ga" d="M1488.5 192.6l.9-13.7q1.7-13.2 2.7 0l.2 13.7-1.6 6.2z"/>
<path class="gc" d="M1501.5 194.5l.2-14.2q1-11.6 2.5 0l.7 14.2-1.5 9.4z"/>
<path class="gc" d="M1538.3 193.3l.5-16.9q1.8-16.6 4.1 0l1.1 16.9-2.4 7.1z"/>
<path class="gb" d="M1573.2 194.6l.3-20.3q1.7-19.2 4.5 0l1.5 20.3-2.7 9.6z"/>
<path class="gc" d="M1376.4 194l1-17.4q2.4-16.5 4.6 0l.8 17.4-2.7 8.3z"/>
<path class="ga" d="M1489.5 194.1l.9-13.4q1.9-11.3 3.2 0l.3 13.4-1.9 8.5z"/>
<path class="gd" d="M1503.9 193.3l1.1-16.6q2.4-16.6 4 0l.4 16.6-2.3 6.6z"/>
<path class="gf" d="M1615.5 194.3l.9-15.2q1.9-13.8 3.4 0l.5 15.2-2 8.2z"/>
<path class="ga" d="M1645.8 193.6l.5-16.7q1.7-16.6 3.8 0l1 16.7-2.3 6.9z"/>
<path class="gd" d="M1539.8 192.7l1.1-15.5q2-16.2 2.8 0l0 15.5-1.7 5.1z"/>
<path class="ga" d="M1382.4 194.6l.4-18.1q1.8-17.2 4.7 0l1.5 18.1-2.8 8.5z"/>
<path class="gf" d="M1464.8 192.4l.4-13.1q1.4-13.6 3.4 0l1 13.1-2 4.4z"/>
<path class="gc" d="M1531.7 193.9l1.2-22.5q2.5-24 4.2 0l.4 22.5-2.5 6.9z"/>
<path class="gf" d="M1643.1 192.3l.8-11.4q2.3-11.9 4.7 0l1 11.4-2.8 3.9z"/>
<path class="ga" d="M1487.5 194.3l.4-17.7q1.4-17.3 3.3 0l.9 17.7-1.9 7.6z"/>
<path class="gd" d="M1395.8 192.5l.5-13.6q2-14.5 4.9 0l1.4 13.6-2.9 4.2z"/>
<path class="gc" d="M1466.8 192.9l1.2-12.2q2.5-12.3 4.1 0l.3 12.2-2.4 4.7z"/>
<path class="ga" d="M1630.5 192.9l1.2-19q2.2-21 3.3 0l.1 19-2 4.6z"/>
<path class="gd" d="M1495 194.2l1.2-15.9q2.3-15.4 3.7 0l.3 15.9-2.2 7z"/>
<path class="gd" d="M1547.3 192.9l.3-22.3q1.5-25.4 4 0l1.3 22.3-2.4 4.3z"/>
<path class="ga" d="M1385 193l.4-12.4q1.9-12.7 5 0l1.5 12.4-3 4.6z"/>
<path class="gd" d="M1455.3 192.9l1.1-17.8q2.2-19.7 3.8 0l.4 17.8-2.2 4.3z"/>
<path class="ga" d="M1415.9 193.6l.4-17.8q1.9-19.2 5 0l1.6 17.8-2.9 5z"/>
<path class="gb" d="M1453.1 195.4l.9-19.5q2.2-19.1 4 0l.6 19.5-2.4 8.3z"/>
<path class="ga" d="M1656.3 195.1l1.3-12.7q2.6-11.1 4 0l.2 12.7-2.4 7.4z"/>
<path class="gc" d="M1596 193.8l.7-14.4q2-15 4.1 0l.9 14.4-2.4 4.8z"/>
<path class="gd" d="M1626.2 195.1l.3-13.4q1.4-12.2 3.5 0l1.1 13.4-2.1 7z"/>
<path class="gc" d="M1489.2 195.3l1-14.3q2.3-13.1 4.1 0l.6 14.3-2.4 7.5z"/>
<path class="gd" d="M1554.1 196.3l.5-19.4q1.8-18.3 4.1 0l1.1 19.4-2.4 9.3z"/>
<path class="gc" d="M1586.9 194.5l.1-15.2q1.1-15.4 3.2 0l1.1 15.2-1.9 5.7z"/>
<path class="ga" d="M1582.7 194l1.2-12.1q2.7-12.2 4.8 0l.7 12.1-2.8 4.7z"/>
<path class="ga" d="M1407.1 194l.1-18.8q1.2-20.8 3.6 0l1.3 18.8-2.1 4.6z"/>
<path class="gc" d="M1584.5 195.7l.9-18.9q2.2-18.9 4.3 0l.8 18.9-2.6 7.4z"/>
<path class="ga" d="M1643.6 194.2l.8-14q2.2-14.8 4.4 0l.9 14-2.6 4.3z"/>
<path class="gd" d="M1392.4 195l0-16.7q.8-17.5 2.8 0l1.1 16.7-1.6 5.5z"/>
<path class="gd" d="M1548.4 196.1l.5-17q1.6-16.5 3.8 0l1 17-2.2 7.5z"/>
<path class="ga" d="M1532.7 196.9l.7-15.6q2.1-13.8 4.5 0l1 15.6-2.7 8.8z"/>
<path class="ga" d="M1405.9 194.3l.9-10q2-10 3.8 0l.6 10-2.2 4z"/>
<path class="gc" d="M1610.4 196.7l1.1-17.7q2.3-16.9 4.1 0l.5 17.7-2.4 8.3z"/>
<path class="gd" d="M1436.2 196.1l.7-18.3q2.2-18.3 4.9 0l1.2 18.3-2.9 7.2z"/>
<path class="gc" d="M1566.7 196.4l1.3-16.5q2.8-15.8 5 0l.7 16.5-3 7.7z"/>
<path class="gd" d="M1622.2 197.6l0-15.7q.7-13.3 2.5 0l1 15.7-1.5 9.7z"/>
<path class="gc" d="M1404.9 197.2l.7-18.2q2.2-17.3 4.8 0l1.1 18.2-2.8 8.6z"/>
<path class="gd" d="M1579.7 195.1l.9-18.2q1.6-20 2.5 0l.1 18.2-1.4 4.7z"/>
<path class="ga" d="M1615.8 196.4l.7-12.9q2.1-11.7 4.7 0l1.2 12.9-2.8 6.9z"/>
<path class="ge" d="M1555.3 197.3l.7-21.2q1.8-21.2 3.6 0l.7 21.2-2.1 8.5z"/>
<path class="ga" d="M1417.7 196.3l.4-19.6q1.9-20.9 4.9 0l1.5 19.6-2.9 5.8z"/>
<path class="ga" d="M1489.5 197.4l1.2-13.1q2.2-11.5 3.3 0l0 13.1-1.9 7.7z"/>
<path class="ga" d="M1401.1 198.3l.9-18.6q2.2-17.3 4 0l.6 18.6-2.4 9.3z"/>
<path class="gb" d="M1580.1 196.7l.4-18.2q1.9-18.9 5 0l1.6 18.2-3 6.2z"/>
<path class="gb" d="M1416.8 196.3l1.3-15.1q2.8-15.7 4.9 0l.6 15.1-2.9 5.1z"/>
<path class="gf" d="M1567.5 197.1l.8-11.5q2.1-10.3 4.2 0l.8 11.5-2.5 6.4z"/>
<path class="ga" d="M1514 198.5l-.1-19.2q.6-18.3 2.3 0l1 19.2-1.4 9z"/>
<path class="ga" d="M1498.5 199.1l.1-19.6q1-18.6 3 0l1.1 19.6-1.8 9.3z"/>
<path class="gd" d="M1441.4 197.9l1.3-13.2q2.3-12.1 3.5 0l.1 13.2-2.1 6.9z"/>
<path class="gb" d="M1488 198l.4-17q1.1-16.7 2.5 0l.6 17-1.5 7.1z"/>
<path class="ga" d="M1435.2 196.7l.7-18q2.1-19.7 4.7 0l1.1 18-2.8 4.7z"/>
<path class="gc" d="M1391.1 196.9l.5-18.7q1.9-20.4 4.6 0l1.3 18.7-2.7 5z"/>
<path class="ga" d="M1418.8 197.6l1.2-10.7q2.8-9.4 5 0l.7 10.7-2.9 6.1z"/>
<path class="gd" d="M1557.7 197.4l1.3-18.5q2.7-19.9 4.7 0l.5 18.5-2.8 5.3z"/>
<path class="ga" d="M1641 196.9l1-18.1q2.1-20.2 3.5 0l.3 18.1-2.1 4.1z"/>
<path class="ga" d="M1520.6 199.5l.8-21.9q2.1-21.8 4.2 0l.9 21.9-2.5 8.9z"/>
<path class="ga" d="M1385 197l.5-15.5q1.9-16.9 4.8 0l1.4 15.5-2.8 4.1z"/>
<path class="gd" d="M1625.9 198.7l.4-17.6q1.7-17.5 4.3 0l1.3 17.6-2.5 7.1z"/>
<path class="gc" d="M1464.7 197.6l.6-18.6q2.1-20.3 5 0l1.4 18.6-3 5.1z"/>
<path class="gc" d="M1393.8 199l1.4-15.2q2.7-14.4 4.3 0l.3 15.2-2.6 7.3z"/>
<path class="gc" d="M1576.9 198.1l.5-21.4q1.5-23.4 3.1 0l.7 21.4-1.8 5.5z"/>
<path class="ga" d="M1484.4 200l.9-17.4q1.7-15.9 2.9 0l.3 17.4-1.7 9.1z"/>
<path class="ga" d="M1607.8 200.1l1.3-24.8q2.7-25.4 4.6 0l.5 24.8-2.7 9.1z"/>
<path class="ga" d="M1414.8 197.9l0-14q.8-14.4 2.7 0l1 14-1.6 5z"/>
<path class="ga" d="M1524.8 197.8l.9-13.5q2-13.9 3.8 0l.6 13.5-2.2 4.9z"/>
<path class="ga" d="M1638 199.4l.7-19.8q1.4-20 2.4 0l.2 19.8-1.4 7.7z"/>
<path class="gd" d="M1467.9 199.6l.4-18.1q1.6-17.8 3.9 0l1.1 18.1-2.3 7.6z"/>
<path class="ga" d="M1602.5 200l.5-16.3q1.6-15 3.6 0l.9 16.3-2.1 8.3z"/>
<path class="ga" d="M1517.6 199l0-17.2q.8-17.4 2.5 0l1 17.2-1.5 6.5z"/>
<path class="ga" d="M1569.2 198.5l.3-13.6q1.4-13.7 3.4 0l1 13.6-2 5.4z"/>
<path class="ga" d="M1548.9 198.9l.3-13.1q1.2-12.7 3 0l.9 13.1-1.8 5.7z"/>
<path class="ga" d="M1494.6 198.7l.2-16.4q1.3-17.2 3.6 0l1.2 16.4-2.1 5.4z"/>
<path class="gf" d="M1612.3 199.6l.4-20.3q1.7-21 4.5 0l1.4 20.3-2.7 6.9z"/>
<path class="ga" d="M1474.4 200.6l.7-17.8q1.8-16.7 3.6 0l.7 17.8-2.1 8.7z"/>
<path class="gd" d="M1479.5 201.4l.8-20.1q1.5-18.9 2.4 0l.2 20.1-1.4 9.8z"/>
<path class="gb" d="M1469.1 200.2l.9-13.8q1.7-12.6 2.6 0l.1 13.8-1.5 7.2z"/>
<path class="ge" d="M1541.1 199.6l.5-13.7q1.3-13.3 2.4 0l.4 13.7-1.4 6z"/>
<path class="ga" d="M1518.1 200.5l.8-16.1q2.1-15.4 4.2 0l.8 16.1-2.5 7.4z"/>
<path class="gd" d="M1603.9 199.5l.5-17.8q1.6-18.9 3.5 0l.8 17.8-2.1 5.4z"/>
<path class="ga" d="M1461.2 199.1l1.2-14.9q2.7-16 4.9 0l.7 14.9-2.9 4.4z"/>
<path class="gd" d="M1573.4 199.7l.5-19.2q1.5-20.8 3.5 0l.9 19.2-2 5.3z"/>
<path class="gf" d="M1502.3 201l1.4-15.9q2.7-15.1 4.2 0l.2 15.9-2.5 7.5z"/>
<path class="gf" d="M1439.6 199.7l.5-17q1.7-18.4 3.9 0l1 17-2.3 4.9z"/>
<path class="gd" d="M1638.5 200.6l0-13q.9-12.1 2.9 0l1.1 13-1.7 6.5z"/>
<path class="gd" d="M1412.7 200.7l.6-17.1q2.1-17.2 4.7 0l1.2 17.1-2.7 6.6z"/>
<path class="ga" d="M1458.5 201.1l.8-14q1.8-13 3.5 0l.6 14-2 7.2z"/>
<path class="ga" d="M1453.3 202.5l.7-14.5q1.4-11.8 2.5 0l.3 14.5-1.4 9.6z"/>
<path class="ga" d="M1411.2 202.4l.6-13.4q2.2-10.7 5 0l1.3 13.4-3 9.3z"/>
<path class="ga" d="M1544.4 201.6l1.1-14.4q2-13 2.9 0l.1 14.4-1.7 7.7z"/>
<path class="gd" d="M1630.4 200.3l1.3-11.7q2.6-11.4 4.3 0l.4 11.7-2.5 5.2z"/>
<path class="gf" d="M1629.4 200.1l.7-12.1q1.8-12.2 3.6 0l.7 12.1-2.2 4.6z"/>
<path class="gc" d="M1625.1 200.2l.6-12.7q1.7-12.9 3.5 0l.7 12.7-2.1 4.8z"/>
<path class="ga" d="M1408.9 202.7l-.1-13.7q.8-11.2 2.7 0l1.1 13.7-1.6 9.2z"/>
<path class="gd" d="M1540.8 201.3l.8-17q2.1-17.3 4.1 0l.8 17-2.4 6.4z"/>
<path class="gf" d="M1600.4 200.2l1.3-20.8q2.3-23.6 3.4 0l.1 20.8-2 4.2z"/>
<path class="ga" d="M1597.5 202.7l.9-14.4q2.4-12.4 4.9 0l1 14.4-2.9 8.6z"/>
<path class="gc" d="M1436.6 202.5l1.2-15.8q2.8-14.5 5.1 0l.8 15.8-3 8.2z"/>
<path class="gc" d="M1419.5 202.3l.6-14.6q1.4-13.5 2.7 0l.5 14.6-1.6 7.4z"/>
<path class="ga" d="M1508 201.7l1.3-19.3q2.8-20.4 4.9 0l.5 19.3-2.9 6.1z"/>
<path class="gc" d="M1435 201.1l.7-13.3q1.8-13.8 3.3 0l.6 13.3-2 4.6z"/>
<path class="ga" d="M1441.3 201.6l1-13.2q2-13.2 3.3 0l.3 13.2-2 5.3z"/>
<path class="ga" d="M1604.6 202.7l.9-12.7q2.4-11.2 4.8 0l.9 12.7-2.8 7.2z"/>
<path class="gd" d="M1454.2 203.6l1.1-15q2.2-13.6 3.4 0l.2 15-2 8z"/>
<path class="ga" d="M1529.6 204l.8-19q2.2-18.2 4.6 0l1 19-2.7 8.7z"/>
<path class="ga" d="M1579.6 203.6l.4-19.1q1.4-19 3.4 0l.9 19.1-2 7.9z"/>
<path class="ga" d="M1437.8 201.7l1.1-16.4q2.3-17.9 4 0l.5 16.4-2.4 4.3z"/>
<path class="gb" d="M1458.4 202.2l1-17.4q1.9-18.6 2.9 0l.2 17.4-1.7 5.1z"/>
<path class="gc" d="M1550 203.8l.6-11.4q1.5-9.4 3.1 0l.6 11.4-1.8 7.5z"/>
<path class="gd" d="M1424.7 203.4l1.2-20.6q2.5-21.6 4.3 0l.5 20.6-2.5 6.8z"/>
<path class="gd" d="M1574.6 205l.5-12.2q1.2-9.2 2.5 0l.5 12.2-1.5 9.2z"/>
<path class="gd" d="M1577.9 202.8l.5-11.3q1.5-11.1 3.1 0l.7 11.3-1.8 4.8z"/>
<path class="gc" d="M1585.4 203.3l1.5-16.6q3-17.4 4.8 0l.3 16.6-2.9 5.4z"/>
<path class="ga" d="M1399.9 203l1-10.2q2.5-9.6 4.8 0l.8 10.2-2.8 4.9z"/>
<path class="ga" d="M1448.9 204l1.3-17.8q2.6-18.2 4 0l.2 17.8-2.4 6.6z"/>
<path class="ga" d="M1537.1 204.5l.9-18q2.2-18 4.5 0l.9 18-2.7 7.2z"/>
<path class="ga" d="M1565.5 204.3l1.2-17.3q2.7-17.3 4.8 0l.7 17.3-2.8 6.8z"/>
<path class="ga" d="M1593.3 203l.2-13.7q1.3-14.4 3.6 0l1.2 13.7-2.1 4.3z"/>
<path class="gc" d="M1467.8 203l.7-15.5q1.8-16.9 3.8 0l.8 15.5-2.2 4.1z"/>
<path class="gc" d="M1402.6 205l.3-13.7q1.5-12 3.7 0l1.1 13.7-2.2 7.8z"/>
<path class="gc" d="M1470.9 204.9l1.1-16.3q2.3-15.5 3.9 0l.4 16.3-2.3 7.7z"/>
<path class="gc" d="M1518 204.2l.2-12.1q1.3-11.1 3.7 0l1.3 12.1-2.2 6.3z"/>
<path class="ga" d="M1549.5 205.7l.7-13.8q1.8-11.3 3.6 0l.6 13.8-2.1 9.1z"/>
<path class="gd" d="M1567 204.8l.1-18.8q.9-19.1 2.7 0l.9 18.8-1.6 7.1z"/>
<path class="ga" d="M1431.2 203.6l1.1-10.2q2.5-9.6 4.4 0l.6 10.2-2.6 4.9z"/>
<path class="ga" d="M1607.8 206.2l.5-15q1.4-12.7 3 0l.7 15-1.8 9.4z"/>
<path class="ga" d="M1504.2 205.7l1.3-17.8q2.5-16.9 3.7 0l.1 17.8-2.2 8.4z"/>
<path class="gf" d="M1497.2 205.3l.4-15.8q1.6-14.9 3.9 0l1.1 15.8-2.3 7.6z"/>
<path class="gd" d="M1560.6 205.3l.5-13.7q1.8-12.3 4.4 0l1.2 13.7-2.6 7.4z"/>
<path class="ga" d="M1606.1 204l0-10.7q.9-10.4 2.8 0l1.1 10.7-1.6 4.7z"/>
<path class="gf" d="M1623.4 205.4l0-18.1q.9-18.1 2.9 0l1.2 18.1-1.7 7.3z"/>
<path class="gc" d="M1581.2 204.2l.2-12.4q1.2-12.3 3.2 0l1.1 12.4-1.9 5z"/>
<path class="ga" d="M1405.1 205.9l.5-17.5q1.9-17 4.6 0l1.3 17.5-2.7 7.7z"/>
<path class="gd" d="M1468.9 205l0-12.5q.9-12.1 2.7 0l1 12.5-1.6 5.5z"/>
<path class="gd" d="M1445.9 204.8l.6-19.3q2-21.4 4.6 0l1.2 19.3-2.7 4.5z"/>
<path class="gb" d="M1605.9 205.2l.9-16.6q1.7-17.5 2.5 0l.1 16.6-1.5 5.2z"/>
<path class="ga" d="M1564.6 205.8l.8-16.6q1.8-17.3 3.1 0l.4 16.6-1.8 5.7z"/>
<path class="ga" d="M1571.1 206l.4-14.4q1.4-14.2 3.4 0l.9 14.4-2 6.1z"/>
<path class="ga" d="M1632.6 206.2l.7-16.8q1.5-17.4 2.6 0l.3 16.8-1.5 5.9z"/>
<path class="ga" d="M1426.4 208.3l.4-14.8q1.4-12.2 3.3 0l.9 14.8-2 9.6z"/>
<path class="ga" d="M1551.6 205.7l.9-14.3q2.2-15.1 4.5 0l.9 14.3-2.6 4.6z"/>
<path class="gc" d="M1544.6 207.4l.8-15.6q2.1-14.7 4.3 0l.8 15.6-2.5 7.6z"/>
<path class="gc" d="M1442.7 207.1l.2-11.1q1.3-9.3 3.6 0l1.2 11.1-2.1 6.9z"/>
<path class="ga" d="M1610.8 208.2l1-21.1q2.1-20.7 3.4 0l.3 21.1-2 9z"/>
<path class="gd" d="M1591.8 208.4l1.1-16.5q2.4-14.9 4.3 0l.6 16.5-2.6 9z"/>
<path class="ga" d="M1556.9 206.5l.5-12.3q1.4-12.3 2.8 0l.6 12.3-1.7 4.9z"/>
<path class="ga" d="M1495.2 207.3l.1-18.6q1.1-19.3 3.2 0l1.1 18.6-1.9 6.3z"/>
<path class="gc" d="M1637.4 206.3l.5-18.3q1.7-20.3 4.1 0l1.2 18.3-2.4 4.2z"/>
<path class="ga" d="M1495.5 207.2l.3-16q1.5-16.6 3.9 0l1.2 16-2.3 5.5z"/>
<path class="gd" d="M1501.1 207.8l.9-15.9q2.1-15.8 3.9 0l.6 15.9-2.3 6.6z"/>
<path class="gd" d="M1540.5 207.9l.7-14q1.8-13.2 3.6 0l.8 14-2.1 6.8z"/>
<path class="ga" d="M1411.2 207.2l.6-15.7q1.6-16.2 3.2 0l.6 15.7-1.9 5.5z"/>
<path class="gc" d="M1490 208.1l.4-16.7q1.9-16.5 4.8 0l1.4 16.7-2.8 7z"/>
<path class="gc" d="M1504.6 208.6l.8-20.5q2-20.7 4.1 0l.8 20.5-2.4 7.9z"/>
<path class="ga" d="M1565.3 209.5l1.1-24.3q2.4-24.6 4.2 0l.5 24.3-2.5 9.2z"/>
<path class="ga" d="M1485.8 208.6l.3-14.2q1.1-13 2.9 0l.9 14.2-1.7 7.4z"/>
<path class="gc" d="M1576.8 209.1l.9-19.8q2.4-19.5 4.9 0l1 19.8-2.9 8.3z"/>
<path class="gc" d="M1515.5 207.6l.1-16q.9-16.7 2.4 0l.8 16-1.4 5.3z"/>
<path class="gf" d="M1504.3 207.2l.4-18.4q2-20.4 5.1 0l1.6 18.4-3 4.4z"/>
<path class="gc" d="M1488.2 207.7l.6-21.2q1.5-23.4 2.7 0l.4 21.2-1.6 5.2z"/>
<path class="gc" d="M1407 207.6l1-13.5q2.2-14.1 3.8 0l.4 13.5-2.2 4.4z"/>
<path class="gd" d="M1512.6 208.7l.7-11q1.5-9.8 2.5 0l.3 11-1.5 6.1z"/>
<path class="gf" d="M1585.2 209.3l.4-16.3q1.7-15.8 4.3 0l1.2 16.3-2.5 7.1z"/>
<path class="gd" d="M1413.2 208.2l.6-13q1.5-13.3 3.1 0l.6 13-1.8 4.7z"/>
<path class="gc" d="M1620.1 210.3l.7-19.5q2.2-18.9 4.8 0l1.2 19.5-2.9 8.6z"/>
<path class="ge" d="M1514.3 211l1-14.4q2.4-11.6 4.6 0l.8 14.4-2.7 9.8z"/>
<path class="ga" d="M1629.6 210.5l1-15.3q2.4-13.4 4.9 0l.9 15.3-2.9 8.8z"/>
<path class="gc" d="M1506.2 209.2l.9-12.9q2.1-12.2 3.7 0l.5 12.9-2.2 6.2z"/>
<path class="gc" d="M1631.5 208.9l.6-20.1q1.6-21.7 3.3 0l.7 20.1-1.9 5.7z"/>
<path class="gd" d="M1627 210.6l.8-15.3q2.4-13.9 5.1 0l1.2 15.3-3 8.1z"/>
<path class="ga" d="M1587.1 210.6l1.5-12q2.9-9.8 4.7 0l.4 12-2.8 7.9z"/>
<path class="ga" d="M1641.6 211.1l1.3-24.8q2.5-25.7 4 0l.3 24.8-2.4 8.5z"/>
<path class="ga" d="M1566.4 209.6l.7-10.4q1.9-9.8 4 0l.9 10.4-2.4 4.9z"/>
<path class="gc" d="M1424.3 209.5l1.3-17.4q2.4-18.9 3.7 0l.1 17.4-2.2 4.8z"/>
<path class="ga" d="M1538.6 210.8l.5-18.4q1.3-18.6 2.5 0l.5 18.4-1.5 7z"/>
<path class="gd" d="M1567.4 211.7l.8-17.7q2.4-17.2 5 0l1.1 17.7-3 7.8z"/>
<path class="ga" d="M1499.4 211.8l1.2-16.9q2.2-16.1 3.3 0l.1 16.9-1.9 7.8z"/>
<path class="gc" d="M1499.3 212l.8-20.8q1.7-21.1 2.7 0l.2 20.8-1.6 7.9z"/>
<path class="ga" d="M1570.1 213.2l1-19.6q2.4-18.2 4.6 0l.7 19.6-2.7 9.8z"/>
<path class="ga" d="M1499.8 212.2l.2-21.6q.9-22 2.6 0l.8 21.6-1.5 8z"/>
<path class="gc" d="M1635.2 211.7l.3-14.5q1.7-13.7 4.6 0l1.4 14.5-2.7 7z"/>
<path class="gd" d="M1538.2 213.1l1-18.9q2.2-17.7 4.1 0l.6 18.9-2.4 9.3z"/>
<path class="gd" d="M1628.2 210.9l.1-19.6q1-21.4 2.9 0l1 19.6-1.7 5.3z"/>
<path class="ga" d="M1553.5 213.5l1.2-19.1q2.8-17.5 5 0l.7 19.1-2.9 10z"/>
<path class="ga" d="M1511 211.2l.4-17.1q1.8-17.8 4.6 0l1.4 17.1-2.7 5.8z"/>
<path class="gd" d="M1639.5 213.1l.5-16.8q1.9-15.1 4.3 0l1.1 16.8-2.6 9z"/>
<path class="gf" d="M1626.1 211.9l.4-16.5q1.6-16.5 3.9 0l1.1 16.5-2.3 6.5z"/>
<path class="ga" d="M1419.2 211.8l.2-17.6q1.3-18.1 3.8 0l1.3 17.6-2.2 6.3z"/>
<path class="ga" d="M1609.7 213.8l1.2-18.6q2.5-16.9 4.3 0l.5 18.6-2.5 9.9z"/>
<path class="gc" d="M1534.7 212.2l.9-14.8q1.7-14.1 2.6 0l.2 14.8-1.6 6.9z"/>
<path class="gf" d="M1430.8 210.8l.5-10.7q1.5-10.8 3.2 0l.8 10.7-1.9 4.1z"/>
<path class="gc" d="M1530.8 210.9l1.3-16.4q2.6-17.9 4.2 0l.3 16.4-2.5 4.3z"/>
<path class="ga" d="M1635.6 211l1-10.1q2.3-9.9 4.2 0l.6 10.1-2.5 4.4z"/>
<path class="ga" d="M1488.2 213.4l1-21.5q2.2-21.3 3.8 0l.4 21.5-2.2 8.8z"/>
<path class="ga" d="M1450 210.9l.1-20.3q1-23 3 0l1.1 20.3-1.8 4.2z"/>
<path class="gd" d="M1633.8 212.9l.9-12.8q2.2-11 4.1 0l.7 12.8-2.4 7.7z"/>
<path class="gf" d="M1489.5 212.4l-.1-18.5q.6-19.1 2.4 0l1.1 18.5-1.4 6.5z"/>
<path class="gc" d="M1428.8 213.8l.5-19.7q2-18.9 5.1 0l1.5 19.7-3 8.9z"/>
<path class="gd" d="M1484.5 213.6l.7-13.5q1.9-11.3 4.1 0l.9 13.5-2.4 8.5z"/>
<path class="ga" d="M1509.2 211.4l1.4-17q2.9-18.8 5 0l.5 17-2.9 4.3z"/>
<path class="ga" d="M1420.6 213.7l1-17.4q1.9-16.3 2.8 0l.1 17.4-1.7 8.6z"/>
<path class="gd" d="M1501.7 212.3l1-19.7q2-21.2 3.4 0l.3 19.7-2 5.7z"/>
<path class="ga" d="M1421.9 214.1l1.2-20.5q2.3-20.6 3.5 0l.2 20.5-2.1 8z"/>
<path class="gc" d="M1620.3 213.8l1-14.2q2.1-13.3 3.8 0l.5 14.2-2.2 7z"/>
<path class="gf" d="M1448.2 213.9l.8-13.7q2-12.6 3.9 0l.7 13.7-2.3 7.1z"/>
<path class="gc" d="M1478 213.7l1-20.2q2.4-21.4 4.8 0l.9 20.2-2.8 6.4z"/>
<path class="ga" d="M1464.4 213.1l.6-17.7q1.6-19 3.4 0l.8 17.7-2 5z"/>
<path class="ge" d="M1633.8 214.5l.9-19.8q2.5-20.5 5.2 0l1.1 19.8-3.1 6.8z"/>
<path class="ga" d="M1437.9 214l.5-20.5q1.9-22.4 4.7 0l1.4 20.5-2.8 5.5z"/>
<path class="gb" d="M1499.4 215.1l1.4-14.9q2.9-13.7 5 0l.6 14.9-3 7.6z"/>
<path class="gd" d="M1624.3 214.2l.4-15.7q1.5-15.9 3.5 0l1 15.7-2.1 5.8z"/>
<path class="ga" d="M1576.1 215.4l1.2-26.8q2.4-28.6 3.7 0l.2 26.8-2.2 7.9z"/>
<path class="gb" d="M1622.7 214.4l.4-15.9q1.6-16.4 3.7 0l1 15.9-2.2 5.7z"/>
<path class="ga" d="M1603.1 215.3l.9-17.8q1.9-17.7 3.1 0l.3 17.8-1.9 7.3z"/>
<path class="gf" d="M1486.6 214.4l.5-14.3q1.9-14.4 4.5 0l1.2 14.3-2.7 5.6z"/>
<path class="ga" d="M1463.2 215.4l.7-19.8q2.1-20.2 4.8 0l1.2 19.8-2.9 7.4z"/>
<path class="gb" d="M1505.4 216.7l.4-18.3q1.2-16.8 2.6 0l.6 18.3-1.5 9.5z"/>
<path class="gc" d="M1573.4 215.4l1-15.5q2.5-15 4.9 0l.9 15.5-2.9 6.8z"/>
<path class="gf" d="M1442.7 215.4l1-19.1q1.8-20 2.6 0l0 19.1-1.5 6.3z"/>
<path class="ga" d="M1593.7 214.4l1.1-10.8q2.1-11 3.3 0l.2 10.8-2 4.1z"/>
<path class="ga" d="M1508.1 216.4l1.3-20.9q2.7-21.3 4.7 0l.5 20.9-2.8 7.7z"/>
<path class="ga" d="M1578.7 215.5l.9-15.5q1.9-16.1 3.1 0l.3 15.5-1.8 5.2z"/>
<path class="ga" d="M1576 216.5l.5-18.7q1.6-19.2 3.7 0l.9 18.7-2.2 6.7z"/>
<path class="gc" d="M1487.4 215.4l.8-17.1q2-18.6 3.8 0l.7 17.1-2.2 4.5z"/>
<path class="gf" d="M1445.4 218.2l1.1-21.8q2-21.4 3 0l.1 21.8-1.8 9.4z"/>
<path class="ga" d="M1550.9 216.7l1-17.1q1.8-17.3 2.6 0l0 17.1-1.5 6.6z"/>
<path class="gc" d="M1504.6 217.2l1-13.8q2.2-12.5 3.8 0l.4 13.8-2.2 7.5z"/>
<path class="ga" d="M1547.9 217.6l1.3-12.6q2.7-10.4 4.7 0l.5 12.6-2.8 8.1z"/>
<path class="ge" d="M1563.1 215.5l1.1-11.6q2.3-12 3.8 0l.4 11.6-2.3 4.1z"/>
<path class="ge" d="M1493.6 216.6l.3-17.1q1.7-17.5 4.6 0l1.5 17.1-2.7 6.2z"/>
<path class="gf" d="M1431.6 216.6l1.3-12.8q2.9-12.1 5.1 0l.7 12.8-3 6.1z"/>
<path class="gd" d="M1548.2 218.4l.3-22.2q1.3-21.9 3.2 0l.9 22.2-1.9 9.2z"/>
<path class="gf" d="M1628.8 217.9l1.2-13.3q2.2-11.2 3.3 0l.1 13.3-2 8.3z"/>
<path class="ga" d="M1548.7 216.7l1.1-16.3q2-16.9 2.9 0l.1 16.3-1.7 5.6z"/>
<path class="gd" d="M1520.2 216.8l.2-13.1q1-12.7 2.6 0l.8 13.1-1.6 5.8z"/>
<path class="gc" d="M1568.7 217.1l.5-21q1.4-22.4 2.9 0l.6 21-1.7 6.3z"/>
<path class="ga" d="M1630.9 219.6l0-19.7q1-18.2 3.1 0l1.2 19.7-1.8 10z"/>
<path class="gf" d="M1499 218.1l.4-12.7q1.4-11.4 3.3 0l.9 12.7-1.9 6.9z"/>
<path class="ga" d="M1523.9 217.8l.8-14.6q1.8-14.4 3.2 0l.4 14.6-1.9 6.1z"/>
<path class="ge" d="M1617.4 217.1l1.2-10.3q2.2-9.9 3.4 0l.1 10.3-2 4.7z"/>
<path class="ga" d="M1432.9 219.9l.4-18q1.6-16.3 3.8 0l1 18-2.2 9.5z"/>
<path class="gd" d="M1497 217.3l.8-15.8q2.1-17.1 4.4 0l.9 15.8-2.6 4.4z"/>
<path class="ga" d="M1466 220.3l.6-14.5q1.6-11.7 3.2 0l.6 14.5-1.9 9.9z"/>
<path class="ga" d="M1532.2 218.1l1.1-14.2q2.4-14.2 4.1 0l.5 14.2-2.4 5.5z"/>
<path class="ga" d="M1577.4 219.8l1.2-20.7q2.2-20.7 3.2 0l0 20.7-1.9 8.2z"/>
<path class="ga" d="M1601.2 220.6l1.2-13.5q2.7-11.2 4.9 0l.7 13.5-2.9 8.6z"/>
<path class="ga" d="M1499.4 218.2l.7-12.6q2.2-13.2 5.2 0l1.4 12.6-3.1 4.2z"/>
<path class="gc" d="M1480.1 220.2l.6-13.7q2.2-11.9 5.2 0l1.4 13.7-3.1 7.9z"/>
<path class="ga" d="M1493 220l.8-24q1.7-25.4 2.8 0l.3 24-1.7 7.4z"/>
<path class="ga" d="M1578.2 218.8l.9-15.9q2.4-16.8 4.9 0l1 15.9-2.9 5.1z"/>
<path class="ga" d="M1451.4 218.5l.6-18.4q2-20.5 4.7 0l1.2 18.4-2.8 4.3z"/>
<path class="ge" d="M1533.5 218.9l1.1-13.9q2.6-14.7 5.1 0l.9 13.9-3 4.4z"/>
<path class="ga" d="M1594.6 219l.6-15.6q1.6-16.9 3.1 0l.6 15.6-1.8 4.3z"/>
<path class="gc" d="M1597.6 221.3l.6-21.2q1.5-21.5 3.1 0l.6 21.2-1.8 8z"/>
<path class="gd" d="M1450.4 220.7l.3-13.4q1.5-12.4 4 0l1.3 13.4-2.4 6.9z"/>
<path class="gc" d="M1488.9 220.9l.6-17.9q1.8-17.9 4.2 0l1.1 17.9-2.5 7z"/>
<path class="ga" d="M1459.1 222.2l.2-19.4q1-18.3 2.7 0l.9 19.4-1.6 9.3z"/>
<path class="gc" d="M1604.9 221.3l.9-20q2.4-20.4 4.9 0l1 20-2.9 7.4z"/>
<path class="ga" d="M1616.8 222.9l1.1-18.6q2.1-17 3.1 0l.1 18.6-1.8 9.9z"/>
<path class="gf" d="M1588.4 220.9l.2-10.8q1-9.8 2.8 0l.9 10.8-1.6 5.7z"/>
<path class="ga" d="M1468.9 222l1.3-21.5q2.5-22.1 3.8 0l.2 21.5-2.2 7.7z"/>
<path class="gb" d="M1558.6 221.8l.5-19.1q1.3-19.6 2.6 0l.6 19.1-1.5 6.9z"/>
<path class="gd" d="M1513.9 222.9l.6-12.6q2.1-9.9 4.9 0l1.3 12.6-2.9 9z"/>
<path class="gc" d="M1584.4 221.9l.8-15.6q2.1-15 4.3 0l.9 15.6-2.5 7z"/>
<path class="gc" d="M1563.5 223.4l.3-20.9q1.7-20.1 4.3 0l1.3 20.9-2.6 9.5z"/>
<path class="gd" d="M1614.4 221l.7-14.7q1.5-15.2 2.7 0l.4 14.7-1.6 5z"/>
<path class="ga" d="M1586 221.4l1-11.3q1.9-10.7 2.9 0l.2 11.3-1.7 5.4z"/>
<path class="ga" d="M1522.3 223.1l1.2-22.4q2.5-22.7 4.3 0l.5 22.4-2.5 8.5z"/>
<path class="gd" d="M1606.2 222.9l.9-13.1q1.9-11.2 3.1 0l.3 13.1-1.8 8z"/>
<path class="ga" d="M1583.1 220.8l.6-15.5q1.7-16.9 3.5 0l.7 15.5-2 4.1z"/>
<path class="gf" d="M1494.5 224l.4-21q1.2-20.3 2.8 0l.7 21-1.6 9.5z"/>
<path class="gc" d="M1609.4 222.3l.4-18.4q1.4-19.1 3.2 0l.8 18.4-1.9 6.3z"/>
<path class="ga" d="M1444.4 223.7l.2-19.1q1.1-18.5 3 0l1 19.1-1.8 8.5z"/>
<path class="ga" d="M1459.3 224.8l.9-17.2q2.1-15.1 3.7 0l.5 17.2-2.2 9.9z"/>
<path class="gc" d="M1444 225.3l.6-18.5q2.1-16.6 5 0l1.4 18.5-2.9 10.1z"/>
<path class="gc" d="M1444 224.7l1.1-16.5q2.7-14.8 5.2 0l.9 16.5-3.1 8.9z"/>
<path class="gc" d="M1568 223.9l.6-19.5q2.2-19.9 5.2 0l1.4 19.5-3.1 7.2z"/>
<path class="ga" d="M1444.2 225l.9-13.7q2.3-11.6 4.5 0l.8 13.7-2.7 8.5z"/>
<path class="ga" d="M1599.8 223.9l.9-14q1.8-13.5 2.8 0l.2 14-1.6 6.4z"/>
<path class="gd" d="M1528.1 225.4l1.4-19.8q2.8-18.9 4.5 0l.3 19.8-2.6 9.2z"/>
<path class="ga" d="M1585.7 223.9l.3-13.1q1.4-12.4 3.5 0l1.1 13.1-2.1 6.3z"/>
<path class="ga" d="M1514.8 225.7l.7-16.9q1.6-14.8 3 0l.5 16.9-1.8 9.7z"/>
<path class="ga" d="M1579.8 224.8l.7-16.1q2.3-15 5.3 0l1.3 16.1-3.1 8z"/>
<path class="gb" d="M1549.5 224.3l.4-19.2q1.8-19.7 4.4 0l1.3 19.2-2.6 6.9z"/>
<path class="ga" d="M1457.8 224.8l.9-11.8q2.2-9.9 4.2 0l.7 11.8-2.5 7.4z"/>
<path class="gc" d="M1498.8 224.3l.2-16.2q1.5-16.4 4.1 0l1.3 16.2-2.4 6.1z"/>
<path class="gc" d="M1517 224.8l.3-11.9q1.5-10.4 4 0l1.3 11.9-2.4 7z"/>
<path class="ga" d="M1589.2 223.5l.7-19.9q1.6-22.3 2.7 0l.3 19.9-1.6 4.4z"/>
<path class="ga" d="M1622.9 223.8l.8-20.4q1.9-22.7 3.5 0l.6 20.4-2.1 4.6z"/>
<path class="ga" d="M1565 224.9l.8-18.8q1.7-19.4 2.9 0l.3 18.8-1.7 6.7z"/>
<path class="ga" d="M1560.3 226.9l1.1-19.6q2.4-18 4.4 0l.6 19.6-2.6 10.2z"/>
<path class="gd" d="M1479.1 224.5l.4-19.9q1.9-21.5 5 0l1.5 19.9-2.9 5.5z"/>
<path class="gc" d="M1485.4 224.2l.9-16.4q2-17.6 3.4 0l.4 16.4-2 4.8z"/>
<path class="gd" d="M1487 227l.6-16.1q1.8-13.7 3.8 0l.8 16.1-2.2 9.9z"/>
<path class="gc" d="M1611.6 226.7l.5-14.7q1.8-12.3 4.2 0l1.1 14.7-2.5 9.4z"/>
<path class="ga" d="M1527.3 225.6l.6-17.5q1.9-17.7 4.2 0l1 17.5-2.5 6.7z"/>
<path class="gc" d="M1453.9 227.4l.3-24.5q1.5-24.5 3.9 0l1.2 24.5-2.3 9.8z"/>
<path class="ga" d="M1522.3 225.9l1.4-16q2.8-15.9 4.7 0l.4 16-2.7 6.6z"/>
<path class="ga" d="M1531.8 227.2l.8-20.5q2-20.3 3.8 0l.6 20.5-2.2 8.5z"/>
<path class="gc" d="M1535.1 225.9l.9-17.4q2.1-18.1 3.9 0l.6 17.4-2.3 5.8z"/>
<path class="ga" d="M1581.4 227.7l.7-16.9q1.5-15.5 2.5 0l.2 16.9-1.5 8.8z"/>
<path class="ga" d="M1510.2 227.3l1-18.5q2.5-18.3 5 0l.9 18.5-2.9 7.7z"/>
<path class="gb" d="M1528.6 226.2l.8-14.9q2.3-15.1 5 0l1.2 14.9-3 5.7z"/>
<path class="ga" d="M1495 225.5l.6-10.3q1.6-10.2 3.5 0l.8 10.3-2 4.3z"/>
<path class="ga" d="M1494.9 227.1l.3-17.9q1.3-17.9 3.1 0l.9 17.9-1.8 7.1z"/>
<path class="ga" d="M1512.7 225.7l.8-18.5q2-20.4 3.9 0l.8 18.5-2.3 4.5z"/>
<path class="ga" d="M1563.1 227.4l.9-20.4q1.7-20.8 2.4 0l0 20.4-1.4 7.5z"/>
<path class="gd" d="M1582.3 227.5l.6-14.3q1.5-13 2.9 0l.5 14.3-1.7 7.6z"/>
<path class="ga" d="M1563.7 227.6l1.1-14q2-12.8 3.2 0l.2 14-1.9 7.3z"/>
<path class="ga" d="M1514 228.3l1.3-12.9q2.6-10.7 4.1 0l.3 12.9-2.4 8.4z"/>
<path class="gf" d="M1618.8 227.9l.7-19.5q1.5-19.7 2.5 0l.3 19.5-1.5 7.5z"/>
<path class="gf" d="M1526.9 229.6l.4-17.7q1.6-15.7 4.1 0l1.2 17.7-2.4 9.9z"/>
<path class="ga" d="M1601.8 229.2l.7-17.9q2.1-16.4 4.7 0l1.1 17.9-2.7 9.2z"/>
<path class="gf" d="M1480.3 228.8l.6-14.9q1.8-13.4 4 0l1 14.9-2.4 8.2z"/>
<path class="gd" d="M1540.4 227.9l1.3-14.7q2.8-14.4 5.1 0l.7 14.7-3 6.3z"/>
<path class="gc" d="M1479.6 229l.5-20q2-20 4.7 0l1.3 20-2.8 8z"/>
<path class="gf" d="M1519.5 227.4l.6-17.9q2.2-19.7 5 0l1.3 17.9-2.9 4.5z"/>
<path class="ga" d="M1471.6 227.8l.1-13.2q1-13.2 2.8 0l1 13.2-1.7 5.2z"/>
<path class="gd" d="M1590.4 230.1l1-14q1.9-11.4 3 0l.1 14-1.7 9.4z"/>
<path class="gc" d="M1577.3 228.9l.7-17q2.3-17.4 5.3 0l1.3 17-3.1 6.2z"/>
<path class="gf" d="M1587.4 230.1l.4-15.3q1.9-14 4.9 0l1.5 15.3-2.9 7.9z"/>
<path class="ga" d="M1589.5 229.9l.4-26.2q1.2-28.3 2.8 0l.7 26.2-1.7 7.3z"/>
<path class="gc" d="M1493.1 230.9l.3-19.9q1.7-19.2 4.4 0l1.4 19.9-2.6 9z"/>
<path class="gd" d="M1539.7 230.9l1.1-19.8q2.1-19.2 3.4 0l.3 19.8-2 8.8z"/>
<path class="ga" d="M1580.8 230l.6-16.5q1.5-16 3 0l.6 16.5-1.8 7.2z"/>
<path class="ga" d="M1558.7 230.1l.4-20.4q1.7-21.3 4.1 0l1.2 20.4-2.4 6.9z"/>
<path class="gc" d="M1603 229.8l.1-21.3q1.2-22.8 3.5 0l1.3 21.3-2.1 6.2z"/>
<path class="ga" d="M1621.8 231.1l0-17.3q.8-16.5 2.7 0l1.1 17.3-1.6 8.1z"/>
<path class="gc" d="M1474 229.4l-.1-14.5q.7-14.9 2.6 0l1.1 14.5-1.5 5.1z"/>
<path class="ga" d="M1554.2 231.4l1.4-16.1q2.8-14.6 4.6 0l.3 16.1-2.7 8.6z"/>
<path class="gd" d="M1537.3 232.5l.1-19.1q.9-17.2 2.5 0l.8 19.1-1.5 10.3z"/>
<path class="ga" d="M1506.5 231.4l.7-13.9q2.1-12 4.6 0l1.1 13.9-2.7 8.2z"/>
<path class="ga" d="M1492.4 232.4l.6-19.5q1.8-18.7 3.9 0l.9 19.5-2.3 8.9z"/>
<path class="ga" d="M1571.9 232.2l1.2-15.3q2.7-13.9 4.7 0l.6 15.3-2.8 8.1z"/>
<path class="ga" d="M1597.7 232.2l.6-23.2q1.6-23.9 3.1 0l.6 23.2-1.8 8.2z"/>
<path class="gd" d="M1501.7 232.9l1.3-16.8q2.5-15.5 4 0l.3 16.8-2.4 8.7z"/>
<path class="gc" d="M1460.1 232.5l.6-14.5q2.2-13.5 5.3 0l1.5 14.5-3.1 7.2z"/>
<path class="gf" d="M1468.3 232.8l1.2-19.2q2.4-19.3 3.8 0l.3 19.2-2.3 7.5z"/>
<path class="gf" d="M1616.1 232.2l.6-17q1.6-17.4 3.2 0l.6 17-1.9 6.2z"/>
<path class="gc" d="M1499.8 233.7l.4-14.6q1.8-12.5 4.5 0l1.3 14.6-2.6 8.8z"/>
<path class="ga" d="M1467.1 231.7l.5-19.7q1.4-21.7 2.8 0l.6 19.7-1.6 4.9z"/>
<path class="ga" d="M1488.5 232.5l.4-14.5q1.2-14 2.7 0l.6 14.5-1.6 6.5z"/>
<path class="gc" d="M1604.6 231.4l.7-17.4q2.2-19.2 5.1 0l1.3 17.4-3 4.3z"/>
<path class="gc" d="M1499.3 231.5l.1-16.6q1.1-18.1 3 0l1 16.6-1.8 4.5z"/>
<path class="gf" d="M1590.1 233.3l1.6-16.8q3.2-16.3 5.3 0l.5 16.8-3.1 7.4z"/>
<path class="ga" d="M1484.9 231.8l1.2-17.7q2.7-19.5 4.9 0l.7 17.7-2.9 4.4z"/>
<path class="ga" d="M1483.3 233.1l.8-14.7q2.5-14 5.4 0l1.2 14.7-3.2 6.9z"/>
<path class="gd" d="M1503.3 234.7l1.4-24.7q2.9-25.3 5 0l.5 24.7-2.9 9z"/>
<path class="ga" d="M1526.9 233.5l.2-20q1.4-21.1 4.1 0l1.4 20-2.4 6.3z"/>
<path class="ga" d="M1522.9 233.8l.7-12.4q1.7-11.1 3.5 0l.7 12.4-2.1 6.8z"/>
<path class="gc" d="M1546.3 232.6l1.1-13.1q2.6-13.6 5 0l.9 13.1-3 4.4z"/>
<path class="ga" d="M1520 234l.7-13.8q1.6-13 2.9 0l.5 13.8-1.7 6.7z"/>
<path class="gd" d="M1609.3 235.8l1-18.2q2-17.4 3.4 0l.3 18.2-2 8.6z"/>
<path class="ga" d="M1500.9 235.8l.9-14.8q2.2-14 4.3 0l.8 14.8-2.5 7.1z"/>
<path class="gc" d="M1502.1 236.5l.7-21.9q1.5-22.2 2.7 0l.4 21.9-1.6 8.4z"/>
<path class="ga" d="M1563.4 237.2l.4-13.1q1.6-10.1 3.9 0l1.2 13.1-2.3 9.5z"/>
<path class="gf" d="M1531.4 235.5l.8-16.1q1.8-16.4 3.2 0l.4 16.1-1.9 5.9z"/>
<path class="gc" d="M1516.7 236l1-21.5q2.1-22.7 3.8 0l.5 21.5-2.3 6.8z"/>
<path class="ga" d="M1612.8 238.6l.8-22.1q2.2-20.9 4.5 0l.9 22.1-2.7 10.4z"/>
<path class="gd" d="M1555.7 237.5l.6-12.5q1.8-10.4 4 0l1 12.5-2.3 8z"/>
<path class="gd" d="M1563.9 238.2l.5-20.7q1.7-20.5 4.1 0l1.2 20.7-2.4 8.5z"/>
<path class="ga" d="M1532.6 236.6l.9-10.5q1.7-10.1 2.8 0l.2 10.5-1.7 4.7z"/>
<path class="gd" d="M1586.3 237.2l1-11.7q2.4-11 4.7 0l.8 11.7-2.7 5.5z"/>
<path class="gb" d="M1544.5 237l.3-15.9q1.6-16.7 4.3 0l1.4 15.9-2.5 5.1z"/>
<path class="ge" d="M1586.2 240.3l.2-16.7q1.1-14 3.1 0l1 16.7-1.8 10.5z"/>
<path class="gc" d="M1493 237.4l.8-20.5q2.2-22.7 4.5 0l.9 20.5-2.6 5z"/>
<path class="gd" d="M1491.2 240l1.3-27.2q2.8-28 5 0l.7 27.2-3 9.6z"/>
<path class="ga" d="M1552.6 238.9l.6-18.7q2-18.6 4.5 0l1.2 18.7-2.7 7.4z"/>
<path class="ga" d="M1535.6 240.2l1.2-22.1q2.8-22.4 5.3 0l.9 22.1-3.2 8.3z"/>
<path class="gc" d="M1539.7 240.1l1-18.9q2.1-18.7 3.7 0l.4 18.9-2.2 7.7z"/>
<path class="gf" d="M1487.3 239.8l1.2-19.7q2.1-20.6 3 0l0 19.7-1.8 6.6z"/>
<path class="ga" d="M1573.2 238.9l.8-12.5q1.7-12.6 3.2 0l.5 12.5-1.9 4.8z"/>
<path class="gd" d="M1566.1 240.2l1.5-17.7q3-17.5 5.1 0l.5 17.7-3 7.2z"/>
<path class="gf" d="M1576.9 240.7l1-12.1q2.2-10.1 4.1 0l.6 12.1-2.4 7.8z"/>
<path class="ga" d="M1509.3 239.4l.6-16q1.9-16.7 4.4 0l1.2 16-2.6 5.3z"/>
<path class="ga" d="M1499.7 240.4l.9-21.2q2.4-22 4.9 0l1 21.2-2.9 7.1z"/>
<path class="gf" d="M1479.3 242.2l.4-21.2q1.7-19.8 4.5 0l1.4 21.2-2.6 10.4z"/>
<path class="gf" d="M1553.1 240.9l.7-18.7q2.1-18.9 4.7 0l1.2 18.7-2.8 7.2z"/>
<path class="gc" d="M1514.6 240.1l.9-12.4q2.1-12.2 4 0l.7 12.4-2.4 5.3z"/>
<path class="gf" d="M1504.4 240.5l.6-25.3q1.9-28.7 4.2 0l1 25.3-2.5 5z"/>
<path class="gc" d="M1601.6 242.6l.9-16.1q1.9-14.6 3.4 0l.4 16.1-2 8.7z"/>
<path class="gd" d="M1542.1 244.7l1.1-19.2q2.3-18.2 3.8 0l.4 19.2-2.2 9.1z"/>
<path class="gc" d="M1526.6 242.9l.3-15.8q1.4-16.2 3.6 0l1.1 15.8-2.1 5.7z"/>
<path class="ga" d="M1569 243.9l.6-22.5q1.7-24.1 3.8 0l.9 22.5-2.2 6.7z"/>
<path class="gc" d="M1514.9 245.1l1.2-21.5q2.1-21.4 3.2 0l0 21.5-1.9 8.7z"/>
<path class="ga" d="M1548.4 246l.6-21.9q1.6-21 3.2 0l.6 21.9-1.9 10.1z"/>
<path class="ga" d="M1557.6 244.9l.6-16.1q2-15.1 4.6 0l1.2 16.1-2.7 7.8z"/>
<path class="gd" d="M1503 245.7l.3-25.7q1.3-26.5 3.2 0l.9 25.7-1.9 9.2z"/>
<path class="gd" d="M1515.5 243.4l1.3-12.4q2.9-12.6 5.1 0l.7 12.4-3 4.8z"/>
<path class="gc" d="M1594.8 243.3l.5-12.7q1.4-13.1 2.9 0l.7 12.7-1.7 4.4z"/>
<path class="ga" d="M1524.8 245.4l.5-12.6q2-10.4 5 0l1.5 12.6-3 8.2z"/>
<path class="gf" d="M1499.1 244.8l.8-14.9q1.9-14.8 3.6 0l.6 14.9-2.1 6z"/>
<path class="ge" d="M1596.1 245.6l1-17.7q2-18.3 3.4 0l.3 17.7-2 6.2z"/>
<path class="gc" d="M1599.1 246.9l1.2-19.7q2.1-19.1 3.2 0l.1 19.7-1.9 8.6z"/>
<path class="ga" d="M1509.6 247.6l.7-22.4q2.3-22.3 5 0l1.2 22.4-2.9 9.2z"/>
<path class="gf" d="M1577.2 246.2l1-27.3q2.5-30.6 4.7 0l.8 27.3-2.8 6.2z"/>
<path class="gd" d="M1530.6 248.7l.1-16.6q1-14.3 2.8 0l1 16.6-1.7 9.9z"/>
<path class="gc" d="M1529.6 248.3l.6-15.8q1.4-14.1 2.6 0l.4 15.8-1.5 8.7z"/>
<path class="gc" d="M1577.3 247.1l1.6-20.8q3.2-22.8 5.1 0l.4 20.8-3 5.3z"/>
<path class="ga" d="M1523.7 249.3l1.2-14.5q2.6-12.2 4.4 0l.5 14.5-2.6 9z"/>
<path class="ga" d="M1520.6 249.1l.4-13.3q1.8-11.5 4.5 0l1.3 13.3-2.7 7.8z"/>
<path class="ga" d="M1535.2 250.1l1.1-13.5q2.1-11.7 3.1 0l.1 13.5-1.8 7.9z"/>
<path class="ga" d="M1508.5 250l.5-15.8q1.4-15.4 2.7 0l.5 15.8-1.6 6.9z"/>
<path class="ga" d="M1583.6 249.9l.8-20.4q2.1-21.4 4 0l.7 20.4-2.4 6.5z"/>
<path class="gc" d="M1563.2 252l.3-16.6q1.6-14 4.3 0l1.4 16.6-2.6 10.4z"/>
<path class="ga" d="M1524.7 250.9l1.2-16.9q2.7-15.8 5 0l.8 16.9-3 8.3z"/>
<path class="gd" d="M1575.1 251.6l.4-20.4q1.3-19.7 3 0l.8 20.4-1.8 9.1z"/>
<path class="gd" d="M1570.2 249.7l1.4-19.8q2.6-21.6 3.9 0l.2 19.8-2.3 5.4z"/>
<path class="gd" d="M1555.7 251.4l1.3-22.8q2.4-23.4 3.7 0l.2 22.8-2.2 8.2z"/>
<path class="gb" d="M1578.2 250.9l.8-18.8q2.3-18.9 4.8 0l1.1 18.8-2.8 7.2z"/>
<path class="gf" d="M1564.5 252.4l.5-14.1q1.5-11.2 3.3 0l.8 14.1-1.9 9.9z"/>
<path class="ga" d="M1539.1 252.6l.4-18.8q1.9-16.9 4.9 0l1.5 18.8-2.9 10.1z"/>
<path class="gf" d="M1591.2 251.9l1.3-17.5q2.7-17.2 4.7 0l.5 17.5-2.8 7.3z"/>
<path class="gd" d="M1531.1 251.6l.8-13.5q1.6-13 2.8 0l.3 13.5-1.6 6.2z"/>
<path class="gb" d="M1522.1 253.7l.5-24.1q1.3-23.7 2.8 0l.6 24.1-1.6 10.1z"/>
<path class="gc" d="M1595.7 253.1l1.2-14.7q2.7-12.6 4.8 0l.7 14.7-2.9 8.9z"/>
<path class="ga" d="M1533.8 253.7l.9-14.8q2.4-12.6 4.8 0l1 14.8-2.9 9z"/>
<path class="ga" d="M1531.3 255.6l.1-16.1q1.1-13.9 3.4 0l1.3 16.1-2 9.6z"/>
<path class="ga" d="M1542.7 256l.8-17q2.2-15.6 4.6 0l1 17-2.7 8.9z"/>
<path class="ga" d="M1570.6 256l1-13.6q1.8-12.1 2.6 0l0 13.6-1.5 7.7z"/>
<path class="gd" d="M1535.7 254.6l1-16.5q1.9-17.7 2.8 0l.1 16.5-1.7 4.8z"/>
<path class="gf" d="M1540.7 256.3l1.4-23.8q2.8-25.2 4.4 0l.3 23.8-2.6 7.4z"/>
<path class="ga" d="M1514.7 255.7l.7-14.4q2.3-14.1 5.2 0l1.4 14.4-3.1 6.1z"/>
<path class="ga" d="M1575.2 255.6l.9-21.5q2.4-23.9 5 0l1 21.5-2.9 5.1z"/>
<path class="gd" d="M1575.1 256.3l.1-13.3q1.2-13 3.5 0l1.3 13.3-2.1 5.7z"/>
<path class="gc" d="M1581.2 256.2l1.5-11.5q3.1-11.3 5.1 0l.5 11.5-3 5z"/>
<path class="ga" d="M1577.3 258.2l1-20.7q1.8-20.4 2.7 0l.1 20.7-1.6 8.6z"/>
<path class="ga" d="M1567.4 259.8l1-19q2.3-17.4 4.2 0l.6 19-2.5 10z"/>
<path class="gc" d="M1568.9 259.3l.4-24.6q1.4-27.4 3.2 0l.8 24.6-1.9 5.8z"/>
<path class="gd" d="M1530.5 260.5l1.2-12.3q2.4-10.3 3.9 0l.4 12.3-2.3 7.9z"/>
<path class="gf" d="M1562.6 261.4l1.4-16.1q2.9-14.2 5 0l.5 16.1-2.9 9.2z"/>
<path class="gc" d="M1575.7 260.8l.4-14.4q1.9-12.8 5 0l1.5 14.4-2.9 8z"/>
<path class="ge" d="M1571.9 262l.2-17q1.3-15.5 3.7 0l1.3 17-2.2 9z"/>
<path class="gd" d="M1532.7 262.5l.4-13.5q1.6-10.5 3.7 0l1 13.5-2.2 9.9z"/>
<path class="ga" d="M1581 261.1l1.2-14.3q2.3-13.7 3.7 0l.2 14.3-2.2 6.6z"/>
<path class="ga" d="M1574 261l1.4-21.3q2.9-22.8 5 0l.5 21.3-2.9 6.2z"/>
<path class="gc" d="M1548.6 261.2l.1-16.3q1.2-17.1 3.5 0l1.2 16.3-2 5.5z"/>
<path class="gf" d="M1550 262.9l.7-24.3q1.6-25.4 2.7 0l.3 24.3-1.6 8.1z"/>
<path class="ga" d="M1581.2 261.7l1-13.3q2.4-12.9 4.7 0l.9 13.3-2.7 5.9z"/>
<path class="ga" d="M1561.8 263.7l1.2-21.4q2.5-21.8 4.2 0l.4 21.4-2.5 7.8z"/>
<path class="gd" d="M1547.7 265.1l.6-21.1q2-20.1 4.7 0l1.2 21.1-2.8 9.8z"/>
<path class="ge" d="M1583.8 263.1l.1-16.3q.9-16.6 2.7 0l1 16.3-1.6 5.9z"/>
<path class="ga" d="M1564.7 265l.7-13.7q2-11.1 4 0l.8 13.7-2.4 9.4z"/>
<path class="gf" d="M1537.7 266.6l0-18.6q.8-16.6 2.7 0l1 18.6-1.6 10.2z"/>
<path class="gd" d="M1538.5 266l.8-16.3q1.8-14.7 3.3 0l.5 16.3-1.9 8.7z"/>
<path class="ga" d="M1560.4 267.3l.3-23q1.4-24 3.5 0l1.1 23-2.1 7.6z"/>
<path class="gd" d="M1543.9 269.5l.9-15.4q2.6-12.4 5.6 0l1.3 15.4-3.3 10.5z"/>
<path class="ga" d="M1573.9 269.5l.6-20q2.3-19.2 5.6 0l1.6 20-3.3 9.2z"/>
<path class="ga" d="M1553.6 270.7l1-29.1q2.5-29.8 4.8 0l.8 29.1-2.9 10.7z"/>
<path class="ga" d="M1552.4 271.5l.9-17.2q1.8-14.9 2.9 0l.2 17.2-1.7 10.2z"/>
<path class="ga" d="M1563.4 272.4l1.4-13.3q2.9-12.6 5 0l.5 13.3-2.9 6.2z"/>
<path class="gc" d="M1574.9 274.7l1-22.8q2.7-23.3 5.5 0l1.1 22.8-3.3 8.4z"/>
<path class="ga" d="M1574 274.8l.8-19.4q2.3-21 4.7 0l1 19.4-2.8 5.5z"/>
<path class="gc" d="M1565.6 276.7l1.4-18.1q2.7-17.1 4.4 0l.3 18.1-2.6 8.8z"/>
<path class="ga" d="M1568.1 275.2l.8-19.8q1.7-21.4 2.8 0l.3 19.8-1.6 5.5z"/>
<path class="ga" d="M1568 276.5l.3-19q1.4-19.3 3.4 0l1 19-2 7.1z"/>
<path class="ga" d="M1565.5 277.4l1.2-18.6q2.3-18.9 3.6 0l.2 18.6-2.1 6.9z"/>
</g>
<path d="M1353.5,152.5 L1361.5,207.5 L1571.3,294.6 L1682.5,186" fill="none" stroke="#5c5c60" stroke-width="2.2" stroke-linejoin="round"/>
<text transform="translate(1298.92,159.45) scale(1.3039,1)" font-size="13.57" fill="#4a4a4a" filter="url(#bl)">69.4n</text>
<text transform="translate(1306.66,215.25) scale(1.1886,1)" font-size="13.77" fill="#4a4a4a" filter="url(#bl)">-45.5n</text>
<text transform="translate(1399.29,279.20) scale(1.1508,1)" font-size="14.29" fill="#4a4a4a" filter="url(#bl)">X* 10µm</text>
<text transform="translate(1640.59,261.40) scale(1.1529,1)" font-size="14.29" fill="#4a4a4a" filter="url(#bl)">Y* 10µn</text>
<text transform="translate(1575.70,57.00) scale(0.9629,1)" font-size="33.14" font-weight="bold" fill="#000">3 nm</text>
<text transform="rotate(-90) translate(-231.79,1765.70) scale(0.9365,1)" font-size="15.86" fill="#333" filter="url(#bl)">Line fit 105nm</text>
<text transform="translate(1822.19,177.70) scale(0.8286,1)" font-size="31.74" font-weight="bold" fill="#000">R</text>
<text transform="translate(1841.11,179.60) scale(0.9867,1)" font-size="16.67" font-weight="bold" fill="#000">a</text>
<text transform="translate(1851.66,177.70) scale(0.9728,1)" font-size="31.86" font-weight="bold" fill="#000">=16.2nm</text>
<text transform="translate(1182.44,77.41) scale(1.1467,1)" font-size="44.71" font-weight="bold" fill="#000">(b)</text>
<path d="M1363.5,4.6 v3.4 M1385,5.199999999999999 h8 M1387,7.199999999999999 h4.5 M1412,5.3999999999999995 h4 M1412,7.3999999999999995 h4 M1435,7.6 l4,-2.6" stroke="#555" stroke-width="1.3" fill="none" filter="url(#bl)"/>
<path d="M1363.5,364.2 v3.4 M1385,364.8 h8 M1387,366.8 h4.5 M1412,365.0 h4 M1412,367.0 h4 M1435,367.2 l4,-2.6" stroke="#555" stroke-width="1.3" fill="none" filter="url(#bl)"/>
<path d="M1363.5,743.4 v3.4 M1385,744.0 h8 M1387,746.0 h4.5 M1412,744.1999999999999 h4 M1412,746.1999999999999 h4 M1435,746.4 l4,-2.6" stroke="#555" stroke-width="1.3" fill="none" filter="url(#bl)"/>
<rect x="1294.2" y="368.9" width="411.29999999999995" height="359.20000000000005" rx="3" fill="none" stroke="#6c6c6c" stroke-width="2.7" filter="url(#fb)"/>
<rect x="1731.8" y="367.7" width="21.0" height="360.8" fill="url(#cb)"/><path d="M1732.3,728.5 V368.2 H1752.3 V728.5" fill="none" stroke="#2e2a28" stroke-width="1.2" stroke-opacity="0.8"/>
<path d="M1779.5,362 V734.6" stroke="#6a6a6a" stroke-width="1.2"/>
<path d="M1347.9,519.8 L1502.8,455.7 L1503,503 L1357.4,576 Z" fill="url(#wl)"/>
<path d="M1502.8,455.7 L1698.4,498.9 L1687.6,554 L1503,503 Z" fill="url(#wr)"/>
<path d="M1349.1,526.8 L1502.8,461.6 L1697.1,505.8 M1350.3,533.8 L1502.8,467.5 L1695.7,512.7 M1351.5,540.9 L1502.9,473.4 L1694.3,519.6 M1352.7,547.9 L1502.9,479.4 L1693.0,526.5 M1353.8,554.9 L1502.9,485.3 L1691.7,533.3 M1355.0,562.0 L1503.0,491.2 L1690.3,540.2 M1356.2,569.0 L1503.0,497.1 L1688.9,547.1 M1367.3,511.8 L1375.6,566.9 M1527.2,461.1 L1526.1,509.4 M1386.6,503.8 L1393.8,557.8 M1551.7,466.5 L1549.2,515.8 M1406.0,495.8 L1412.0,548.6 M1576.2,471.9 L1572.2,522.1 M1425.3,487.8 L1430.2,539.5 M1600.6,477.3 L1595.3,528.5 M1444.7,479.7 L1448.4,530.4 M1625.0,482.7 L1618.4,534.9 M1464.1,471.7 L1466.6,521.2 M1649.5,488.1 L1641.4,541.2 M1483.4,463.7 L1484.8,512.1 M1674.0,493.5 L1664.5,547.6" fill="none" stroke="#c9ccd6" stroke-width="0.8" opacity="0.8"/>
<path d="M1347.9,519.8 L1502.8,455.7 L1698.4,498.9" fill="none" stroke="#d4d6dc" stroke-width="1.2"/>
<path d="M1357.4,576 L1573,664.2 L1687.6,554 L1503,503 Z" fill="url(#fl)"/>
<g filter="url(#tb)">
<path d="M1687.0 547.4L1685.1 549.9L1683.3 553.3L1681.4 549.5L1679.5 556.4L1677.7 558.9L1675.8 560.7L1673.9 554.7L1672.0 558.7L1670.2 564.0L1668.3 566.2L1666.4 560.8L1664.6 565.7L1662.7 570.4L1660.8 572.4L1659.0 572.1L1657.1 570.9L1655.2 574.4L1653.4 573.0L1651.5 577.0L1649.6 579.8L1647.8 585.1L1645.9 584.7L1644.0 584.8L1642.1 585.0L1640.3 587.4L1638.4 592.3L1636.5 592.0L1634.7 591.3L1632.8 598.8L1630.9 598.3L1629.1 603.6L1627.2 601.4L1625.3 603.9L1623.5 603.9L1621.6 607.2L1619.7 611.7L1617.9 614.0L1616.0 612.9L1614.1 612.5L1612.2 610.9L1610.4 619.6L1608.5 617.3L1606.6 619.0L1604.8 617.8L1602.9 619.3L1601.0 624.2L1599.2 631.2L1597.3 630.8L1595.4 632.2L1593.6 633.6L1591.7 631.7L1589.8 632.5L1588.0 638.2L1586.1 635.0L1584.2 641.5L1582.3 642.5L1580.5 644.5L1578.6 642.4L1576.7 643.7L1574.9 649.0L1573.0 647.8L1570.7 651.3L1568.4 647.4L1566.0 649.3L1563.7 649.5L1561.4 647.3L1559.1 645.7L1556.7 641.7L1554.4 642.1L1552.1 646.9L1549.8 639.6L1547.5 638.8L1545.1 639.7L1542.8 639.3L1540.5 640.5L1538.2 635.1L1535.8 640.2L1533.5 630.8L1531.2 636.8L1528.9 633.9L1526.5 635.9L1524.2 628.2L1521.9 632.1L1519.6 633.5L1517.3 630.1L1514.9 624.1L1512.6 630.5L1510.3 630.0L1508.0 621.3L1505.6 626.8L1503.3 619.1L1501.0 618.2L1498.7 623.7L1496.4 622.1L1494.0 623.3L1491.7 619.4L1489.4 617.4L1487.1 614.3L1484.7 616.1L1482.4 618.9L1480.1 614.9L1477.8 616.0L1475.5 609.0L1473.1 612.9L1470.8 611.9L1468.5 605.0L1466.2 610.8L1463.8 604.1L1461.5 603.6L1459.2 601.2L1456.9 605.7L1454.5 600.1L1452.2 606.6L1449.9 596.9L1447.6 603.3L1445.3 601.9L1442.9 599.2L1440.6 598.3L1438.3 599.4L1436.0 597.0L1433.6 591.6L1431.3 596.6L1429.0 591.7L1426.7 592.8L1424.4 591.2L1422.0 593.8L1419.7 588.5L1417.4 591.5L1415.1 583.6L1412.7 584.9L1410.4 587.1L1408.1 585.6L1405.8 586.6L1403.5 580.1L1401.1 584.5L1398.8 583.5L1396.5 576.7L1394.2 575.7L1391.8 578.8L1389.5 581.4L1387.2 577.2L1384.9 574.6L1382.5 574.4L1380.2 576.1L1377.9 572.6L1375.6 571.8L1373.3 571.4L1370.9 573.5L1368.6 571.4L1366.3 570.8L1364.0 564.7L1361.6 566.8L1359.3 567.8L1357.0 564.0L1359.0 554.0L1573.0 633.0L1685.0 536.0z" fill="#4e2606"/><path d="M1359.0 554.0L1362.3 552.8L1365.5 551.1L1368.8 544.1L1372.1 546.3L1375.4 543.8L1378.6 543.2L1381.9 539.0L1385.2 538.1L1388.5 538.5L1391.7 535.6L1395.0 535.9L1398.3 531.6L1401.5 530.7L1404.8 533.7L1408.1 530.3L1411.4 529.6L1414.6 529.8L1417.9 525.9L1421.2 522.4L1424.5 526.2L1427.7 523.5L1431.0 522.6L1434.3 521.0L1437.5 522.1L1440.8 516.5L1444.1 518.0L1447.4 513.9L1450.6 514.0L1453.9 513.2L1457.2 509.5L1460.5 506.5L1463.7 507.9L1467.0 508.3L1470.3 506.0L1473.5 503.7L1476.8 503.7L1480.1 499.2L1483.4 497.8L1486.6 497.5L1489.9 499.6L1493.2 493.9L1496.5 492.0L1499.7 490.5L1503.0 488.8L1506.4 491.2L1509.9 494.1L1513.3 496.6L1516.7 493.9L1520.2 495.0L1523.6 495.2L1527.0 496.0L1530.5 500.1L1533.9 499.3L1537.3 498.0L1540.8 497.8L1544.2 503.3L1547.6 503.5L1551.1 505.1L1554.5 501.8L1557.9 504.7L1561.4 508.1L1564.8 506.6L1568.2 509.8L1571.7 505.1L1575.1 511.6L1578.5 505.9L1582.0 509.2L1585.4 507.2L1588.8 513.5L1592.3 513.4L1595.7 516.2L1599.2 515.8L1602.6 517.6L1606.0 515.5L1609.5 519.4L1612.9 518.5L1616.3 516.5L1619.8 521.6L1623.2 518.2L1626.6 517.7L1630.1 517.7L1633.5 521.2L1636.9 520.0L1640.4 526.0L1643.8 526.9L1647.2 522.5L1650.7 522.5L1654.1 526.2L1657.5 524.5L1661.0 527.9L1664.4 530.5L1667.8 527.4L1671.3 529.4L1674.7 533.5L1678.1 531.1L1681.6 531.1L1685.0 533.0L1685.0 546.1L1682.8 547.6L1680.5 550.3L1678.3 550.7L1676.0 550.5L1673.8 554.8L1671.6 558.0L1669.3 558.5L1667.1 557.4L1664.8 559.9L1662.6 562.9L1660.4 567.8L1658.1 568.2L1655.9 570.2L1653.6 574.5L1651.4 570.8L1649.2 577.0L1646.9 576.7L1644.7 580.6L1642.4 584.8L1640.2 582.2L1638.0 589.9L1635.7 584.9L1633.5 590.9L1631.2 592.8L1629.0 592.4L1626.8 597.0L1624.5 598.4L1622.3 600.3L1620.0 604.5L1617.8 600.8L1615.6 605.9L1613.3 611.2L1611.1 608.1L1608.8 616.0L1606.6 612.7L1604.4 618.6L1602.1 616.6L1599.9 620.9L1597.6 622.7L1595.4 622.1L1593.2 629.1L1590.9 629.4L1588.7 633.1L1586.4 634.0L1584.2 636.1L1582.0 638.0L1579.7 638.2L1577.5 645.1L1575.2 640.6L1573.0 649.0L1570.2 647.8L1567.4 643.7L1564.6 644.9L1561.7 642.9L1558.9 641.2L1556.1 637.6L1553.3 636.7L1550.5 635.8L1547.7 634.4L1544.8 638.5L1542.0 632.4L1539.2 631.7L1536.4 630.8L1533.6 632.9L1530.8 629.0L1527.9 628.5L1525.1 625.0L1522.3 624.1L1519.5 621.5L1516.7 621.4L1513.9 620.6L1511.1 624.2L1508.2 620.3L1505.4 616.0L1502.6 617.7L1499.8 613.9L1497.0 616.3L1494.2 614.2L1491.3 616.4L1488.5 610.5L1485.7 614.1L1482.9 608.2L1480.1 613.0L1477.3 609.0L1474.4 603.2L1471.6 608.2L1468.8 602.8L1466.0 602.4L1463.2 599.6L1460.4 604.0L1457.6 596.9L1454.7 600.9L1451.9 597.1L1449.1 598.2L1446.3 594.0L1443.5 591.2L1440.7 596.8L1437.8 593.6L1435.0 588.6L1432.2 593.9L1429.4 592.3L1426.6 585.3L1423.8 582.9L1420.9 586.5L1418.1 581.6L1415.3 585.2L1412.5 582.0L1409.7 582.8L1406.9 580.6L1404.1 581.1L1401.2 580.3L1398.4 577.5L1395.6 576.3L1392.8 573.0L1390.0 570.4L1387.2 568.9L1384.3 573.9L1381.5 567.6L1378.7 568.2L1375.9 566.2L1373.1 567.5L1370.3 565.7L1367.4 567.2L1364.6 562.7L1361.8 561.0L1359.0 561.0z" fill="#8e440a"/>
<path d="M1606 492L1617 483L1622 481L1612 496z" fill="#7a756e"/>
<path class="gc" d="M1504.9 501.6l.7-14.9q1.8-14.4 3.4 0l.6 14.9-2 6.6z"/>
<path class="ga" d="M1505.5 501.7l1.2-20.9q2.6-23.6 4.5 0l.6 20.9-2.6 4.3z"/>
<path class="gf" d="M1504.6 505.3l.5-20.5q1.4-21.6 2.7 0l.5 20.5-1.6 6.4z"/>
<path class="ge" d="M1504.3 506.5l.3-18.9q1.4-18.7 3.6 0l1.1 18.9-2.2 7.7z"/>
<path class="ga" d="M1487.1 506.6l.2-18.4q1.2-18.1 3 0l.9 18.4-1.8 7.8z"/>
<path class="gc" d="M1489.8 505l1.1-12q2.8-12.7 5.6 0l1 12-3.3 3.9z"/>
<path class="ga" d="M1506.8 507.2l.7-23.4q2.3-24.9 5.1 0l1.3 23.4-3 7.1z"/>
<path class="gb" d="M1525.5 507.8l1.1-20.1q2-20.6 2.9 0l0 20.1-1.7 7.3z"/>
<path class="ga" d="M1530.7 508l.3-19.6q1.3-19.8 3.1 0l.9 19.6-1.8 7.4z"/>
<path class="gf" d="M1485.7 509.3l1.2-20.3q2.1-20.3 3.1 0l.1 20.3-1.9 8.1z"/>
<path class="ga" d="M1531.9 508.2l1.1-15q2.1-15 3.4 0l.2 15-2 6z"/>
<path class="gc" d="M1504 508.5l.1-22.4q.9-24.3 2.8 0l1 22.4-1.6 6.1z"/>
<path class="ga" d="M1478.4 508.8l1.2-15.1q2.5-15.1 4.2 0l.4 15.1-2.5 6z"/>
<path class="ga" d="M1498 510.4l.5-16.7q2.1-15.4 5.1 0l1.5 16.7-3 8.6z"/>
<path class="ga" d="M1535.5 508.2l1.4-14.1q2.9-14.8 5.2 0l.7 14.1-3.1 4.5z"/>
<path class="gc" d="M1539.8 509l1-13.6q2.7-14 5.4 0l1.1 13.6-3.2 4.9z"/>
<path class="gd" d="M1540 511.1l.7-13.4q2.4-11.8 5.5 0l1.5 13.4-3.2 7.7z"/>
<path class="gd" d="M1533.4 511.3l.3-15.2q1.4-14.1 3.6 0l1.1 15.2-2.1 7.6z"/>
<path class="gb" d="M1532.6 510.5l.6-16.8q1.9-17.2 4.5 0l1.2 16.8-2.6 6z"/>
<path class="gc" d="M1549.1 512.2l1-14.4q1.9-13.4 2.9 0l.1 14.4-1.7 7.2z"/>
<path class="ga" d="M1496.2 512.8l.9-21.7q1.9-22 3.4 0l.4 21.7-2 8.3z"/>
<path class="gd" d="M1480.4 512.4l.8-19.5q2-20.2 4.2 0l.9 19.5-2.5 6.9z"/>
<path class="ga" d="M1493.2 512.3l.1-20.1q1-21 3.3 0l1.2 20.1-1.9 6.6z"/>
<path class="gc" d="M1496.6 512.4l.3-12.2q1.5-11 4 0l1.2 12.2-2.3 6.5z"/>
<path class="gd" d="M1534.5 512.5l1.4-17q3-17.1 5.2 0l.6 17-3.1 6.6z"/>
<path class="ga" d="M1510.9 513.3l0-16.2q.8-15.2 2.7 0l1.1 16.2-1.6 7.8z"/>
<path class="ga" d="M1533.3 512.5l.9-25.3q2.3-28.2 4.8 0l1 25.3-2.8 5.9z"/>
<path class="gd" d="M1490.6 512.7l.4-12.7q1.7-12 4.3 0l1.3 12.7-2.5 5.9z"/>
<path class="gb" d="M1480 512.4l.7-11.6q1.9-11.6 4 0l.9 11.6-2.4 4.6z"/>
<path class="ga" d="M1506.2 513.4l.7-21q1.6-22.5 3.1 0l.5 21-1.8 6.2z"/>
<path class="gf" d="M1526.8 513.1l1.1-18.1q2.2-19.3 3.8 0l.4 18.1-2.2 5.4z"/>
<path class="gc" d="M1474 514.4l.5-21.3q1.5-22 3.2 0l.8 21.3-1.9 7.4z"/>
<path class="ga" d="M1531.4 514l.9-21.7q2.5-23.2 5.3 0l1.2 21.7-3.1 6.4z"/>
<path class="gc" d="M1493.8 514.5l1.3-18.9q2.8-19.1 4.9 0l.6 18.9-2.9 7.2z"/>
<path class="gc" d="M1542.8 514.1l.7-16q2.2-15.9 4.9 0l1.2 16-2.9 6.5z"/>
<path class="gf" d="M1539.3 515l.6-21.2q2.1-21.5 4.8 0l1.3 21.2-2.9 7.9z"/>
<path class="gb" d="M1562.3 515.3l1.1-16.4q2.3-15.2 3.6 0l.3 16.4-2.1 8.3z"/>
<path class="gc" d="M1469.3 513.3l.5-16.7q1.5-18.3 3.5 0l.9 16.7-2.1 4.3z"/>
<path class="gc" d="M1482.4 514l1.5-21.1q3.1-23.4 5.3 0l.6 21.1-3.1 5z"/>
<path class="gc" d="M1469.7 515.4l.2-18q1.3-17.9 3.8 0l1.3 18-2.2 7.4z"/>
<path class="ga" d="M1502.1 513.8l.7-26.6q1.7-30.9 3.4 0l.7 26.6-2 4.3z"/>
<path class="ga" d="M1505.3 516.1l1.2-23.5q2.6-24.2 4.6 0l.6 23.5-2.7 8.2z"/>
<path class="gb" d="M1550.3 514.9l.9-14.9q2.5-14.8 5.4 0l1.2 14.9-3.2 5.9z"/>
<path class="ga" d="M1512.6 515.3l1.1-16.1q1.9-15.9 2.6 0l0 16.1-1.5 6.7z"/>
<path class="gf" d="M1521.9 515.3l.7-18.9q2.4-19.9 5.6 0l1.5 18.9-3.3 6z"/>
<path class="gb" d="M1561.9 516.2l1.3-23.6q2.9-25.2 5.2 0l.7 23.6-3.1 7.1z"/>
<path class="ga" d="M1567.3 516.8l1.4-15q3.1-13.9 5.7 0l.8 15-3.4 7.6z"/>
<path class="gd" d="M1502.7 517.4l1.4-20.3q3.1-20 5.3 0l.6 20.3-3.1 8.5z"/>
<path class="ga" d="M1559.7 515.1l1.3-14.4q2.8-15.5 4.9 0l.6 14.4-2.9 4.1z"/>
<path class="gf" d="M1545.1 517.6l.8-14.6q2.5-13.2 5.5 0l1.3 14.6-3.3 7.9z"/>
<path class="ga" d="M1462.8 515.8l.9-18.4q2.1-20.4 4.1 0l.7 18.4-2.4 4.4z"/>
<path class="gc" d="M1532 517l1.2-12.2q2.4-11 3.9 0l.3 12.2-2.3 6.6z"/>
<path class="gc" d="M1500.9 516.2l1.1-13.4q2.4-13.8 4.4 0l.6 13.4-2.6 4.8z"/>
<path class="ga" d="M1530.3 516l1.3-12.9q2.4-13.4 3.7 0l.1 12.9-2.2 4.4z"/>
<path class="ga" d="M1564.1 516l1.4-18.2q3-20.6 5.3 0l.7 18.2-3.1 3.8z"/>
<path class="gc" d="M1461.3 519.2l1.3-14.3q2.6-12.2 4.2 0l.4 14.3-2.5 8.7z"/>
<path class="ga" d="M1553.4 518.4l.5-18.9q2.2-19.3 5.5 0l1.6 18.9-3.3 7z"/>
<path class="gd" d="M1505.2 519.2l.4-22.3q1.8-22.9 4.7 0l1.5 22.3-2.8 7.9z"/>
<path class="ga" d="M1505.4 519.7l.9-23.6q2.3-24 4.6 0l.9 23.6-2.7 8.7z"/>
<path class="ga" d="M1464.2 518.1l0-21.1q.9-23.2 2.7 0l1 21.1-1.6 5.5z"/>
<path class="gc" d="M1514.4 519.5l.6-21.8q1.9-22.4 4.2 0l1 21.8-2.5 7.8z"/>
<path class="gc" d="M1532.8 518.4l.6-15.4q1.6-16.1 3.4 0l.7 15.4-2 5.3z"/>
<path class="gc" d="M1464.9 518l.4-12.1q1.8-12.4 4.7 0l1.4 12.1-2.8 4.4z"/>
<path class="gc" d="M1486.2 520l.9-21.7q1.8-22 2.8 0l.2 21.7-1.7 8.1z"/>
<path class="ga" d="M1581.6 518.9l.7-21.8q2-23.7 4.2 0l.9 21.8-2.5 6z"/>
<path class="gd" d="M1523.5 520.5l.2-21.8q1.3-21.9 3.4 0l1.1 21.8-2 8.6z"/>
<path class="gc" d="M1509.1 519.3l.8-21.6q2.4-23.3 5.1 0l1.2 21.6-3 6.1z"/>
<path class="ga" d="M1481 519.3l.7-26.6q2.5-29.7 5.7 0l1.5 26.6-3.3 6z"/>
<path class="ga" d="M1484.4 520.1l.3-14.4q1.4-13.5 3.6 0l1.1 14.4-2.1 7.1z"/>
<path class="gf" d="M1482.7 520l.6-12.6q1.5-11.3 3 0l.6 12.6-1.8 6.9z"/>
<path class="ga" d="M1485.6 518.7l.4-14.9q1.8-16.1 4.7 0l1.4 14.9-2.8 4.2z"/>
<path class="ga" d="M1570.6 519.1l1.2-21.1q2.8-23.6 5.3 0l.9 21.1-3.1 4.8z"/>
<path class="ga" d="M1573.8 521.2l1-15.9q2.5-14.3 4.8 0l.8 15.9-2.8 8.6z"/>
<path class="ga" d="M1582.4 520.3l.9-25.7q2.5-28.5 5.1 0l1.1 25.7-3 6.2z"/>
<path class="gf" d="M1471.8 520.7l1.1-14.7q2.3-14.1 4 0l.4 14.7-2.3 6.6z"/>
<path class="gf" d="M1474 520.6l.8-15.1q2.4-15.3 5.2 0l1.2 15.1-3.1 5.7z"/>
<path class="gc" d="M1550 519.8l.7-15.7q2.5-17.4 5.8 0l1.5 15.7-3.4 3.7z"/>
<path class="gc" d="M1579.6 520.2l.3-16.6q1.6-18.1 4.3 0l1.4 16.6-2.6 4.5z"/>
<path class="ga" d="M1453.9 521.1l.2-12.6q1.3-12 3.8 0l1.3 12.6-2.2 5.8z"/>
<path class="gb" d="M1578.6 521.1l.5-17.5q1.6-18.6 3.5 0l.9 17.5-2.1 5.4z"/>
<path class="ga" d="M1504.9 521.8l1.5-14.4q3.1-14.4 5.4 0l.6 14.4-3.2 5.7z"/>
<path class="gd" d="M1502.6 523.7l1.2-18.8q2.3-17.8 3.7 0l.2 18.8-2.2 8.9z"/>
<path class="ga" d="M1445.7 523.1l.7-23.4q2.5-24.5 5.7 0l1.5 23.4-3.4 7.8z"/>
<path class="gd" d="M1555.6 523.7l.9-21.3q1.8-21.3 3.2 0l.4 21.3-1.9 8.5z"/>
<path class="gd" d="M1499.7 523.4l.7-19.3q2.3-19.2 5.2 0l1.3 19.3-3.1 7.8z"/>
<path class="gf" d="M1538.8 521.6l1.6-21.9q3.3-24.8 5.7 0l.6 21.9-3.4 4.5z"/>
<path class="gd" d="M1573 524l1.1-23.9q2.1-24.5 3.4 0l.2 23.9-2 8.7z"/>
<path class="gc" d="M1482.7 521.8l.2-12.6q1.2-12.9 3.5 0l1.2 12.6-2 4.4z"/>
<path class="ga" d="M1553.2 523.5l.3-19.1q1.8-19.3 4.7 0l1.5 19.1-2.8 7.3z"/>
<path class="gf" d="M1594.3 522.5l.8-12q2.5-11.6 5.6 0l1.3 12-3.3 5.3z"/>
<path class="ga" d="M1579.2 522.9l.3-15q1.5-15.3 3.9 0l1.3 15-2.3 5.5z"/>
<path class="gc" d="M1557.4 524.2l.7-18.3q2.5-17.8 5.8 0l1.6 18.3-3.4 7.9z"/>
<path class="gd" d="M1544.1 522.1l1.2-21.6q2.8-24.9 5.1 0l.7 21.6-3 3.8z"/>
<path class="gc" d="M1588.9 524.2l1.7-14.9q3.5-13.8 5.8 0l.5 14.9-3.4 7.5z"/>
<path class="gf" d="M1498.4 522.6l.5-15.9q1.6-17.5 3.5 0l.8 15.9-2 4z"/>
<path class="gd" d="M1559.5 523.8l.9-12.1q2.4-11.5 4.6 0l.9 12.1-2.7 5.8z"/>
<path class="gb" d="M1539.9 524.7l.4-14.4q1.3-14.3 3 0l.8 14.4-1.8 5.9z"/>
<path class="gc" d="M1524.3 523.7l1.4-22.2q2.9-25.7 4.6 0l.4 22.2-2.7 3.9z"/>
<path class="gb" d="M1454.9 524.8l1-13.5q2.4-13.2 4.7 0l.9 13.5-2.8 5.8z"/>
<path class="ga" d="M1586.2 524.9l-.1-17.4q.8-18.1 2.7 0l1.1 17.4-1.6 5.8z"/>
<path class="gd" d="M1493.8 526.4l.4-13.9q1.3-11.9 2.9 0l.7 13.9-1.7 8.5z"/>
<path class="gc" d="M1531 524.7l.2-12.4q1.2-12.4 3.1 0l1 12.4-1.8 4.9z"/>
<path class="ga" d="M1439.1 524.5l.5-14.3q2.3-15.2 5.8 0l1.7 14.3-3.4 4.4z"/>
<path class="ga" d="M1492.9 525l.9-11.6q2.6-11.3 5.7 0l1.3 11.6-3.3 5z"/>
<path class="ga" d="M1492.2 526l1.3-16q2.9-16.2 5 0l.6 16-3 6z"/>
<path class="ga" d="M1564 527.3l1.4-18q2.9-17.8 4.7 0l.4 18-2.8 7.4z"/>
<path class="gd" d="M1529.9 528.1l1-22.6q2.7-22.6 5.9 0l1.3 22.6-3.5 9z"/>
<path class="gf" d="M1493.4 526.3l.9-15.3q2.1-16 4 0l.7 15.3-2.4 5.1z"/>
<path class="gb" d="M1510.3 525.9l1.7-13.6q3.4-14.6 5.9 0l.6 13.6-3.5 3.9z"/>
<path class="gc" d="M1449.8 527.2l.7-21.3q2.5-23.1 5.9 0l1.6 21.3-3.5 5.9z"/>
<path class="gf" d="M1580.7 526.7l1.2-20.1q2.7-22.5 5 0l.8 20.1-2.9 4.4z"/>
<path class="ga" d="M1535.9 527.5l.8-14.2q2.1-14.3 4 0l.7 14.2-2.4 5.6z"/>
<path class="gc" d="M1534 527.3l1.1-20.9q2.7-23.1 5.1 0l.8 20.9-3 5.2z"/>
<path class="ga" d="M1621.6 529.6l.7-16.7q1.9-15.1 4 0l.9 16.7-2.4 9z"/>
<path class="ga" d="M1574.6 528.7l.7-22.5q2.2-23.6 5 0l1.3 22.5-2.9 7.3z"/>
<path class="gb" d="M1550.5 528.1l1-22.4q2.7-24.3 5.5 0l1.1 22.4-3.2 6.1z"/>
<path class="ga" d="M1499.1 526.8l.8-10.3q2.3-10.5 5.1 0l1.2 10.3-3 3.8z"/>
<path class="ga" d="M1492.5 529.3l1.4-15.3q2.8-13.7 4.6 0l.3 15.3-2.7 8.3z"/>
<path class="ga" d="M1503.5 527.4l1.6-21.8q3.2-24.4 5.3 0l.5 21.8-3.2 4.8z"/>
<path class="gc" d="M1614.9 529.6l1.1-15.5q2.3-13.8 4 0l.5 15.5-2.4 8.6z"/>
<path class="gc" d="M1619.5 527.2l.6-18.9q2.3-21.3 5.6 0l1.6 18.9-3.3 4.1z"/>
<path class="gd" d="M1570.9 527.1l1-17.9q1.9-20.2 3.2 0l.3 17.9-1.9 3.8z"/>
<path class="gc" d="M1464.2 529l1.1-23q2.1-24.5 3.5 0l.3 23-2.1 7z"/>
<path class="gd" d="M1484 529.7l.7-17.5q1.6-17 2.9 0l.4 17.5-1.7 7.6z"/>
<path class="ga" d="M1445.5 528.2l.4-11.1q1.7-11.5 4.2 0l1.3 11.1-2.5 3.9z"/>
<path class="gf" d="M1498.3 528.8l.9-16.1q2.1-17.1 3.9 0l.6 16.1-2.3 4.9z"/>
<path class="gc" d="M1601.1 530.4l.7-13.8q1.9-12.3 3.9 0l.8 13.8-2.3 7.7z"/>
<path class="gd" d="M1592.5 529.7l1.5-12.8q3.1-12 5.1 0l.5 12.8-3 6.2z"/>
<path class="gd" d="M1437.1 529.6l0-27.8q.9-31.6 2.8 0l1.1 27.8-1.6 5.4z"/>
<path class="gc" d="M1479.2 531.3l1-19.1q2.3-18.6 4.1 0l.6 19.1-2.4 8.4z"/>
<path class="gd" d="M1554.5 528.9l1-19.1q2.5-21.7 5 0l1 19.1-2.9 3.9z"/>
<path class="ga" d="M1439.7 531.4l.2-24.7q1.1-25.9 3.1 0l1 24.7-1.8 8.1z"/>
<path class="ga" d="M1456.9 530.3l1.3-12q3.1-11.2 5.8 0l1 12-3.4 6z"/>
<path class="gf" d="M1533 529.9l1.6-10.8q3.4-10.5 5.7 0l.6 10.8-3.3 4.7z"/>
<path class="ge" d="M1439.9 531.8l1.4-20.7q3.2-20.8 5.9 0l.8 20.7-3.5 8z"/>
<path class="gf" d="M1528 530.4l.1-11.3q1.3-10.8 3.7 0l1.3 11.3-2.2 5.3z"/>
<path class="gd" d="M1425.2 532.1l.1-12.9q1.1-10.8 3.3 0l1.2 12.9-2 8.2z"/>
<path class="gc" d="M1601.9 531.1l.8-15.3q2.5-15 5.6 0l1.3 15.3-3.3 6.5z"/>
<path class="ga" d="M1448.7 532.5l.1-14.7q1-12.7 2.8 0l1 14.7-1.7 8.9z"/>
<path class="gd" d="M1426.6 531l.3-11.6q1.4-11.1 3.7 0l1.2 11.6-2.2 5.3z"/>
<path class="ga" d="M1597.8 532.1l1.5-17.2q3.1-17 5.1 0l.4 17.2-3 7.2z"/>
<path class="ga" d="M1571.9 531.9l1-29q2.7-32.3 5.7 0l1.2 29-3.4 6.7z"/>
<path class="gc" d="M1606.2 531.4l.8-12.2q2.2-12 4.4 0l.8 12.2-2.6 5.3z"/>
<path class="ga" d="M1556.8 532.3l.4-19.2q1.6-19.7 4 0l1.2 19.2-2.4 6.9z"/>
<path class="ga" d="M1632.2 530.7l1-9.6q2-9.7 3 0l.2 9.6-1.8 3.7z"/>
<path class="ge" d="M1587.1 531.9l1.3-12.7q2.6-12 4.4 0l.4 12.7-2.6 6z"/>
<path class="ga" d="M1502.1 531.5l1.5-21.2q3.2-23.9 5.5 0l.6 21.2-3.2 4.7z"/>
<path class="gc" d="M1530 533.3l.9-23q2.1-23.8 4 0l.6 23-2.3 8z"/>
<path class="gb" d="M1558.4 532l.9-19.1q1.9-20.7 3.4 0l.4 19.1-2 5.3z"/>
<path class="gd" d="M1620 534.3l.5-14.7q1.5-12.6 3.3 0l.8 14.7-2 8.9z"/>
<path class="gf" d="M1609.3 533l1-12.7q2.4-11.7 4.4 0l.7 12.7-2.6 6.5z"/>
<path class="ga" d="M1476.9 532.5l0-16.3q.9-17.4 3.1 0l1.2 16.3-1.8 4.8z"/>
<path class="gc" d="M1428.6 533.9l.2-16.6q1.4-16.1 4 0l1.4 16.6-2.4 7.3z"/>
<path class="gb" d="M1507 532.1l1.4-18.6q3.6-21 7.2 0l1.4 18.6-4.2 3.9z"/>
<path class="gd" d="M1628.1 534.1l.9-20.3q2-20.6 3.6 0l.5 20.3-2.1 7.6z"/>
<path class="gf" d="M1477.8 533.2l.5-16.5q1.9-16.9 4.7 0l1.3 16.5-2.7 5.9z"/>
<path class="gb" d="M1479.9 534.3l.6-22.5q2.2-23.7 5.3 0l1.5 22.5-3.1 7.2z"/>
<path class="gc" d="M1635.2 534.5l.2-12.1q1.2-10.4 3.4 0l1.2 12.1-2 7.3z"/>
<path class="gc" d="M1580.7 534.3l.2-23.9q1.4-25.8 3.9 0l1.3 23.9-2.3 6.7z"/>
<path class="gc" d="M1437.8 533.1l.5-21.1q2.1-23.8 5.4 0l1.6 21.1-3.2 4.5z"/>
<path class="ga" d="M1628.8 533.9l.9-19.4q2.2-20.8 4.4 0l.8 19.4-2.6 5.7z"/>
<path class="gf" d="M1611.8 534.7l1-11.9q2.3-10.3 4.3 0l.7 11.9-2.5 7.1z"/>
<path class="ga" d="M1414.1 534.9l1.2-24.4q3-26 5.9 0l1.1 24.4-3.5 7.3z"/>
<path class="gc" d="M1482.3 535.5l1.7-23.9q3.5-24.9 5.7 0l.5 23.9-3.4 8z"/>
<path class="ga" d="M1429 534l.9-18.6q2.2-20.1 4.2 0l.8 18.6-2.5 5.3z"/>
<path class="gc" d="M1478.3 534.7l1-21.7q2.5-23.3 5 0l.9 21.7-3 6.4z"/>
<path class="ga" d="M1491.1 533.9l.2-19.7q1-21.8 2.8 0l.9 19.7-1.7 4.6z"/>
<path class="gd" d="M1440.9 534.2l.3-16.6q1.5-17.5 4.1 0l1.4 16.6-2.4 5.2z"/>
<path class="gc" d="M1567.6 535.1l.9-14.3q2.2-13.5 4.1 0l.7 14.3-2.4 6.8z"/>
<path class="ga" d="M1610.9 533.8l.2-21.3q1.3-24.2 3.5 0l1.1 21.3-2 4.2z"/>
<path class="ga" d="M1599.8 536.6l1.1-17.3q2.3-15.9 3.8 0l.3 17.3-2.2 8.9z"/>
<path class="gc" d="M1418.9 536.5l1.1-25.5q2.4-26.5 4 0l.4 25.5-2.4 8.7z"/>
<path class="ga" d="M1606.8 534.5l.6-12.3q2.3-12.7 5.6 0l1.6 12.3-3.3 4.2z"/>
<path class="gf" d="M1591.1 535.1l1.3-13q3-13.2 5.5 0l.8 13-3.2 5z"/>
<path class="gf" d="M1455.3 536.6l.6-22.1q1.8-22.9 4 0l.9 22.1-2.3 7.6z"/>
<path class="gc" d="M1539.6 535.8l.9-19.7q2.6-21.1 5.6 0l1.3 19.7-3.3 5.7z"/>
<path class="ga" d="M1547.9 536.2l1.4-25.2q3.1-27.5 5.7 0l.8 25.2-3.3 6.5z"/>
<path class="gc" d="M1569.5 536.9l.5-18q1.7-17.6 3.8 0l.9 18-2.2 7.7z"/>
<path class="ge" d="M1629.6 537.5l.3-12.7q1.1-10.1 2.8 0l.8 12.7-1.7 8.9z"/>
<path class="ga" d="M1612.7 535.1l.7-16q1.6-17.7 3 0l.5 16-1.8 4z"/>
<path class="gd" d="M1452.9 537.5l.9-18q2.3-17.2 4.6 0l.9 18-2.7 8.3z"/>
<path class="gc" d="M1410.3 536.5l1.2-13.9q2.2-13.2 3.3 0l.1 13.9-1.9 6.5z"/>
<path class="gc" d="M1569.7 535.3l1.1-13.2q2.6-14.2 4.9 0l.8 13.2-2.9 3.7z"/>
<path class="gc" d="M1599.4 538l1.2-19.3q2.8-18.7 5.1 0l.7 19.3-3 8.5z"/>
<path class="ga" d="M1601.3 537.1l1.1-13.2q2.2-12.2 3.6 0l.3 13.2-2.1 6.6z"/>
<path class="gd" d="M1557.4 537l.7-19.1q2-20 4.1 0l.9 19.1-2.4 6.4z"/>
<path class="gc" d="M1461.5 538.2l1.1-19.2q2.6-18.9 4.9 0l.8 19.2-2.9 8.1z"/>
<path class="ga" d="M1557.9 538.2l.6-16.1q2.5-15.1 6 0l1.7 16.1-3.5 7.9z"/>
<path class="ga" d="M1652.3 536.7l.3-11.8q1.5-11.6 3.9 0l1.2 11.8-2.3 4.9z"/>
<path class="gc" d="M1508.7 536.3l1.3-21.2q2.9-24.4 5.5 0l.9 21.2-3.3 3.8z"/>
<path class="ga" d="M1422.8 538.3l.5-16.8q1.7-16.3 3.6 0l.9 16.8-2.1 7.4z"/>
<path class="ga" d="M1608.1 539l1.1-20.6q2.6-20.3 4.9 0l.8 20.6-2.9 8.7z"/>
<path class="ga" d="M1479 539.3l1.1-15.8q2.3-13.8 3.8 0l.4 15.8-2.2 9.3z"/>
<path class="gd" d="M1610.4 538.6l.8-22.5q2.1-23.3 4.2 0l.8 22.5-2.5 7.7z"/>
<path class="gc" d="M1570.8 539.5l.9-14.4q1.9-12 3.2 0l.4 14.4-1.9 9.2z"/>
<path class="ga" d="M1596.6 538.8l.5-22.9q1.6-23.8 3.6 0l.9 22.9-2.1 7.8z"/>
<path class="gd" d="M1628.6 538.7l1-16.2q2.2-15.4 4.1 0l.6 16.2-2.4 7.6z"/>
<path class="gd" d="M1625.7 538.2l.1-14.8q1.1-14.7 3.4 0l1.2 14.8-2 6.1z"/>
<path class="gb" d="M1423.6 537.1l1.4-18.7q3.1-21.1 5.6 0l.8 18.7-3.3 4.1z"/>
<path class="gb" d="M1468.2 538.4l1.6-22.9q3.1-25 5.1 0l.4 22.9-3 6.1z"/>
<path class="gc" d="M1605.8 537.4l.5-14.7q2-16 4.8 0l1.4 14.7-2.8 4z"/>
<path class="gc" d="M1441.1 537.4l.4-16.9q1.5-18.9 3.4 0l.9 16.9-2 3.9z"/>
<path class="ga" d="M1627.6 539.8l.5-17.7q2.2-17.1 5.4 0l1.5 17.7-3.2 8z"/>
<path class="gc" d="M1658.7 540.2l1.3-14.3q2.8-12.2 4.9 0l.6 14.3-2.9 8.7z"/>
<path class="gf" d="M1492.4 537.6l.7-15.3q2.2-16.8 5.1 0l1.3 15.3-3 3.9z"/>
<path class="ga" d="M1641.7 538.2l1.3-21.5q2.8-24.5 4.8 0l.6 21.5-2.8 4z"/>
<path class="ge" d="M1649.3 540.8l.9-19.9q2-19.2 3.4 0l.4 19.9-2 8.9z"/>
<path class="gc" d="M1649.9 539.8l1.3-15.8q2.4-15.7 3.6 0l.1 15.8-2.1 6.5z"/>
<path class="ga" d="M1487.6 540.7l.9-18.5q2.4-18.1 5 0l1.1 18.5-3 8z"/>
<path class="gf" d="M1513.1 540.2l1.5-14.3q3.2-13.6 5.4 0l.6 14.3-3.2 6.7z"/>
<path class="ga" d="M1456.2 540.5l1.1-25.3q2.2-27.4 3.5 0l.2 25.3-2 7.1z"/>
<path class="gc" d="M1613.5 541.6l.8-22.5q2.1-22.5 4.4 0l.9 22.5-2.6 9z"/>
<path class="ga" d="M1626.9 539.6l1.1-18q2.8-19.4 5.8 0l1.2 18-3.4 5.1z"/>
<path class="ga" d="M1590.9 539.4l.8-12.3q2.4-12.6 5 0l1.1 12.3-2.9 4.4z"/>
<path class="gd" d="M1406.2 539.7l1.3-20.7q3.1-22.9 5.9 0l1 20.7-3.5 5z"/>
<path class="ga" d="M1456.3 540.3l.3-17q1.5-17.6 3.9 0l1.2 17-2.3 5.9z"/>
<path class="gd" d="M1643.9 541.9l1.3-15.5q2.5-13.9 3.8 0l.1 15.5-2.2 8.6z"/>
<path class="gd" d="M1630.8 541.7l1.1-19.2q2.5-19 4.4 0l.6 19.2-2.6 8z"/>
<path class="gc" d="M1599.4 540.3l.2-12.7q1.5-12.9 4.1 0l1.4 12.7-2.4 4.9z"/>
<path class="ga" d="M1521.8 541.2l1.2-18q2.2-18.4 3.3 0l.1 18-1.9 6.5z"/>
<path class="ga" d="M1657.4 542.1l.4-16.2q1.7-15.5 4.1 0l1.2 16.2-2.4 7.4z"/>
<path class="ga" d="M1639.9 540.5l.7-10.4q1.7-10.2 3.5 0l.7 10.4-2.1 4.5z"/>
<path class="gf" d="M1435.8 543l.5-21.8q1.7-21.4 3.8 0l1 21.8-2.3 9.2z"/>
<path class="gb" d="M1414.1 540.9l.4-15.9q1.5-16.8 3.4 0l.9 15.9-2 5z"/>
<path class="gd" d="M1620.4 540.8l.9-18.6q1.8-20.6 2.8 0l.2 18.6-1.7 4.3z"/>
<path class="gc" d="M1446.7 541.5l1.2-22.2q2.3-24.3 3.5 0l.1 22.2-2.1 5.7z"/>
<path class="ga" d="M1635.2 543.1l1.5-23.5q2.9-24.1 4.5 0l.3 23.5-2.7 8.4z"/>
<path class="ga" d="M1420.7 543.3l1-24.9q2.5-25.8 4.9 0l.9 24.9-2.9 8.6z"/>
<path class="gf" d="M1570.3 542.6l.6-22.1q2.1-23.2 5.1 0l1.4 22.1-3 7.2z"/>
<path class="gc" d="M1648.4 541.9l1.2-14.9q2.4-15 4.2 0l.5 14.9-2.5 5.8z"/>
<path class="ga" d="M1673.6 542.1l.7-13q2.2-12.8 4.8 0l1.2 13-2.9 5.5z"/>
<path class="gc" d="M1650.7 543.4l1.4-11q3-8.7 5.1 0l.6 11-3 7.8z"/>
<path class="gd" d="M1578.3 542.9l.3-16q1.2-15.8 3 0l.9 16-1.7 6.8z"/>
<path class="gc" d="M1590.8 544.3l.5-25q1.6-25.5 3.4 0l.8 25-2 9.2z"/>
<path class="ga" d="M1472 541.7l1.1-21.4q3-24.4 6.1 0l1.3 21.4-3.6 4.2z"/>
<path class="gd" d="M1530.9 542.7l.7-15.9q1.8-16 3.5 0l.6 15.9-2.1 6.1z"/>
<path class="gf" d="M1484.8 544.1l1.1-20.9q2.5-21.2 4.5 0l.6 20.9-2.7 7.9z"/>
<path class="ga" d="M1679.1 544.5l.7-14.8q1.8-13 3.6 0l.7 14.8-2.1 8.5z"/>
<path class="gc" d="M1659 542.3l.6-10q1.8-9.6 3.8 0l.9 10-2.2 4.4z"/>
<path class="gf" d="M1422.5 544.1l1.3-24.8q3.1-26.4 5.8 0l.9 24.8-3.4 7.6z"/>
<path class="gc" d="M1645.9 544.4l.4-18.5q1.9-18 5 0l1.5 18.5-2.9 8.1z"/>
<path class="ga" d="M1540.3 542.8l.7-18.9q1.8-20.5 3.5 0l.7 18.9-2.1 5.1z"/>
<path class="gd" d="M1535.3 545.1l.4-17.1q1.4-15.9 3.1 0l.8 17.1-1.8 8.6z"/>
<path class="gd" d="M1515.4 545.2l.4-13.2q1.7-10.8 4.3 0l1.3 13.2-2.6 8.7z"/>
<path class="ga" d="M1605.6 545.7l1.1-19.9q2.4-19 4.5 0l.7 19.9-2.7 9.3z"/>
<path class="gd" d="M1489.1 543.3l.6-18.2q1.8-19.9 3.8 0l.9 18.2-2.2 4.7z"/>
<path class="ga" d="M1428.5 544.8l.7-23.2q2-24.6 4.3 0l1 23.2-2.6 7.2z"/>
<path class="gc" d="M1546.9 543.8l1.6-18.1q3.4-19.4 5.8 0l.6 18.1-3.4 5.3z"/>
<path class="gc" d="M1609.8 545.2l1-18.9q2.6-18.9 5.4 0l1.1 18.9-3.2 7.6z"/>
<path class="gd" d="M1398 546l.4-22.4q1.7-22.3 4.2 0l1.2 22.4-2.5 9.1z"/>
<path class="gc" d="M1622.6 544.4l.7-21.1q2-22.9 4.3 0l1 21.1-2.5 5.9z"/>
<path class="ga" d="M1624.4 546l.8-22.8q2-23 3.9 0l.7 22.8-2.3 8.7z"/>
<path class="ga" d="M1660.7 545.4l1.6-11.4q3.3-9.3 5.8 0l.7 11.4-3.4 7.6z"/>
<path class="ga" d="M1442 543.7l.4-28q1.3-32.6 3.1 0l.8 28-1.8 4.4z"/>
<path class="gf" d="M1586.7 543.6l1.2-12.6q2.2-13.2 3.4 0l.1 12.6-2 4.1z"/>
<path class="ga" d="M1480 546.4l1-20.2q2.5-19.4 4.9 0l.9 20.2-2.9 9.3z"/>
<path class="gc" d="M1661.9 544l1-15.9q2.2-17.1 3.8 0l.5 15.9-2.2 4.6z"/>
<path class="gf" d="M1439.9 544.5l1-13.7q2.4-13.7 4.6 0l.8 13.7-2.7 5.3z"/>
<path class="gc" d="M1630.5 543.9l.7-11.3q2.2-11.7 4.8 0l1.2 11.3-2.8 4z"/>
<path class="gc" d="M1495.3 544l.8-20.1q1.8-22.9 3.2 0l.4 20.1-1.9 3.9z"/>
<path class="ga" d="M1436.1 544.4l.7-15.3q2.4-16.4 5.7 0l1.5 15.3-3.3 4.5z"/>
<path class="ga" d="M1475.4 544.8l1.2-19.6q2.3-21.6 3.4 0l.1 19.6-2 4.8z"/>
<path class="ga" d="M1584.2 545.1l1.2-29.2q3-33.6 5.7 0l1 29.2-3.4 5.3z"/>
<path class="gc" d="M1547.8 547.1l.6-21.3q1.8-21 3.8 0l.9 21.3-2.3 9z"/>
<path class="gd" d="M1464.5 547l1.4-15.3q2.8-13.4 4.6 0l.4 15.3-2.7 8.8z"/>
<path class="gd" d="M1660.2 545.4l.8-12.4q2-11.9 4 0l.8 12.4-2.4 5.6z"/>
<path class="gc" d="M1491.1 546.6l.4-24.2q1.4-25.4 3.3 0l.9 24.2-2 7.9z"/>
<path class="ga" d="M1529.8 545.5l.7-20.2q1.7-21.7 3.3 0l.6 20.2-2 5.9z"/>
<path class="gd" d="M1471.3 544.5l.6-21.8q2.1-25.1 4.8 0l1.3 21.8-2.8 3.8z"/>
<path class="ga" d="M1459 547.3l.9-20.9q2.7-20.6 5.8 0l1.3 20.9-3.5 8.8z"/>
<path class="ga" d="M1404.7 545.1l.9-13.4q2.5-13.9 5.2 0l1.1 13.4-3.1 4.5z"/>
<path class="ga" d="M1443.9 545.1l.9-22.2q2.7-25.2 5.6 0l1.2 22.2-3.3 4.4z"/>
<path class="gd" d="M1535.8 546.6l.7-16q2.3-15.6 5.4 0l1.4 16-3.2 7.1z"/>
<path class="ga" d="M1599.4 545.5l.5-16.8q2.3-18 5.7 0l1.7 16.8-3.4 5z"/>
<path class="gf" d="M1426.2 545.7l1.4-15.8q2.9-16.6 4.8 0l.5 15.8-2.9 5z"/>
<path class="ga" d="M1402.9 547.7l.7-18.8q2.6-17.9 6 0l1.6 18.8-3.6 8.7z"/>
<path class="gd" d="M1428.7 547l.4-19q2-19.4 5.2 0l1.6 19-3 7z"/>
<path class="ga" d="M1680.4 547.5l.4-15q1.9-13.8 4.8 0l1.5 15-2.9 7.7z"/>
<path class="ga" d="M1534 546.3l1.3-12.1q2.6-11.8 4.5 0l.5 12.1-2.7 5.2z"/>
<path class="ga" d="M1541.8 545.6l.6-22q2.4-25.4 5.9 0l1.7 22-3.5 3.8z"/>
<path class="ge" d="M1477.7 546.9l.7-26.2q1.6-29.1 2.8 0l.4 26.2-1.7 6.3z"/>
<path class="gc" d="M1643.9 545.7l1-14.1q2.4-15.3 4.7 0l.9 14.1-2.8 3.9z"/>
<path class="ga" d="M1643.6 547.5l1.6-24.4q3.4-26.3 5.8 0l.6 24.4-3.4 7z"/>
<path class="ga" d="M1482.8 546.6l.7-18.8q2.1-20.3 4.6 0l1.1 18.8-2.7 5.3z"/>
<path class="ga" d="M1399.4 548.8l1.4-21.6q3.1-21.4 5.5 0l.7 21.6-3.2 8.9z"/>
<path class="ga" d="M1672.7 547.8l.1-15.8q1.2-15.3 3.5 0l1.2 15.8-2.1 6.9z"/>
<path class="gd" d="M1422 548.9l1.3-18.1q2.9-16.9 5.5 0l.9 18.1-3.3 9z"/>
<path class="gc" d="M1546.8 546.5l.5-13.4q2.1-14 5.3 0l1.5 13.4-3.1 4.4z"/>
<path class="gc" d="M1412.4 548.7l1.7-14.9q3.6-13.3 6.1 0l.6 14.9-3.6 8.4z"/>
<path class="ga" d="M1425.9 547.1l.8-20.7q2.3-22.9 4.9 0l1.1 20.7-2.9 5.1z"/>
<path class="gc" d="M1401.7 546.7l1-12.2q2.3-12.7 4.4 0l.7 12.2-2.6 4.2z"/>
<path class="gc" d="M1572.7 548.6l.9-22.1q2.3-23.2 4.3 0l.7 22.1-2.5 7.3z"/>
<path class="ga" d="M1500.9 547.9l.9-19.2q1.8-20.4 3 0l.2 19.2-1.7 5.9z"/>
<path class="gd" d="M1513.3 548l.8-22.1q2-24 3.9 0l.8 22.1-2.3 6z"/>
<path class="gd" d="M1523.5 547.9l1-15.7q2.5-16 4.8 0l.8 15.7-2.8 5.8z"/>
<path class="gd" d="M1415.6 546.9l1.1-15q2.8-16.5 5.8 0l1.2 15-3.4 3.9z"/>
<path class="gc" d="M1561.1 548.9l1.6-22.9q3.5-24.1 6.1 0l.8 22.9-3.6 7.4z"/>
<path class="ga" d="M1579 549.2l1-23.7q1.9-24.9 3 0l.2 23.7-1.8 7.6z"/>
<path class="gd" d="M1382.7 547.5l1.1-12.3q3-12.5 6.1 0l1.3 12.3-3.6 4.6z"/>
<path class="gc" d="M1611.6 549.6l.9-24.1q2.4-25 5.1 0l1.1 24.1-3 8.4z"/>
<path class="gd" d="M1641.8 547.6l.5-16.6q1.7-18 4 0l1.1 16.6-2.4 4.7z"/>
<path class="ga" d="M1468.1 547.7l.9-22.8q2.4-25.8 5 0l1.1 22.8-3 4.7z"/>
<path class="gc" d="M1403.6 548.7l1.3-14.4q2.4-14.3 3.8 0l.2 14.4-2.3 5.9z"/>
<path class="ga" d="M1454 548.8l1.2-24.3q2.5-27 4 0l.3 24.3-2.4 5.7z"/>
<path class="gc" d="M1532.8 550.1l.7-22q1.7-22.6 3.3 0l.6 22-1.9 8z"/>
<path class="ga" d="M1531.9 550.5l.6-21.7q2-21.7 4.5 0l1.1 21.7-2.7 8.6z"/>
<path class="gf" d="M1406.2 550.3l.9-23.2q2.3-24 4.9 0l1 23.2-2.9 8.1z"/>
<path class="ga" d="M1652.4 548.2l.6-14.1q2.3-15.2 5.7 0l1.6 14.1-3.3 3.9z"/>
<path class="gb" d="M1620 548.7l1.7-18.5q3.6-20.3 6.1 0l.7 18.5-3.6 4.7z"/>
<path class="gc" d="M1452.5 548.6l1.2-12.9q2.3-13.3 3.4 0l.1 12.9-2 4.5z"/>
<path class="gf" d="M1457.8 550.7l1.1-18.9q2.3-18.5 3.8 0l.3 18.9-2.2 8.2z"/>
<path class="ga" d="M1430.4 549.3l.3-17.2q1.2-18.1 3.1 0l.9 17.2-1.8 5.5z"/>
<path class="gc" d="M1379 549.1l1-12.9q2.5-13.2 4.7 0l.8 12.9-2.8 4.8z"/>
<path class="ga" d="M1523.9 551.5l.6-21.4q1.8-20.9 3.7 0l.8 21.4-2.2 9.3z"/>
<path class="ga" d="M1447.3 550l1.5-20.6q3.3-21.8 6 0l.8 20.6-3.5 6.5z"/>
<path class="ga" d="M1541.3 551.1l.2-14q1.4-12.2 3.7 0l1.2 14-2.2 8.2z"/>
<path class="gc" d="M1595 549.3l.7-21.3q1.8-24 3.6 0l.7 21.3-2.1 4.5z"/>
<path class="gf" d="M1545 550.1l.9-16.8q2.3-17.4 4.6 0l.9 16.8-2.7 5.8z"/>
<path class="ga" d="M1599.7 550.8l1.3-22.1q3-23.5 5.5 0l.8 22.1-3.2 6.7z"/>
<path class="ga" d="M1557.9 550.8l1.4-22.9q3.1-24.6 5.6 0l.7 22.9-3.3 6.6z"/>
<path class="ga" d="M1676.3 550.1l1.2-12.7q2.8-12.5 5.2 0l.8 12.7-3.1 5.3z"/>
<path class="ga" d="M1509.9 552.2l.4-24q1.6-24.3 4.1 0l1.2 24-2.4 9.1z"/>
<path class="gc" d="M1671.9 549.8l.8-11.5q2.6-11.5 6 0l1.5 11.5-3.5 4.6z"/>
<path class="ga" d="M1553.7 549.8l.6-24.1q1.8-27.7 3.6 0l.8 24.1-2.1 4.5z"/>
<path class="ga" d="M1662.8 551l1.4-15.7q3.3-15.5 6.2 0l1 15.7-3.6 6.5z"/>
<path class="gf" d="M1443.6 552l1.1-21.5q2-21.8 2.9 0l0 21.5-1.7 8.1z"/>
<path class="ga" d="M1670.4 551.2l.5-16.3q1.9-16.3 4.5 0l1.2 16.3-2.7 6.4z"/>
<path class="gb" d="M1441.2 551.3l1.3-20.3q2.6-21.3 4.3 0l.4 20.3-2.6 6.6z"/>
<path class="gd" d="M1419.6 551.9l1.2-13.5q2.2-11.9 3.3 0l.1 13.5-2 7.6z"/>
<path class="gd" d="M1408.6 551.6l1.6-23.7q3.5-25.3 6 0l.7 23.7-3.5 7z"/>
<path class="ga" d="M1387.8 551.8l1.3-16.8q2.7-16.6 4.4 0l.4 16.8-2.6 7z"/>
<path class="gb" d="M1639 550.1l1.4-18.6q3.6-21 7.2 0l1.4 18.6-4.2 3.9z"/>
<path class="gd" d="M1565.1 551.9l1.1-21.1q2.7-22 5.4 0l1 21.1-3.2 7.2z"/>
<path class="ga" d="M1423.8 552.5l1.1-13.7q2.2-11.9 3.9 0l.5 13.7-2.3 8.2z"/>
<path class="gb" d="M1436.5 552.1l1.5-29.9q3.3-33.1 6 0l.9 29.9-3.5 7.3z"/>
<path class="gd" d="M1612.3 550.6l.2-12q1.1-12.2 3.2 0l1.1 12-1.9 4.5z"/>
<path class="gf" d="M1411.3 551.3l1.3-17q3.1-17.9 5.9 0l1 17-3.5 5.5z"/>
<path class="ga" d="M1463.7 552.6l1.2-17.7q3-17.1 5.9 0l1.1 17.7-3.5 8z"/>
<path class="ga" d="M1381.5 551.8l1.4-18.2q2.7-18.7 4.5 0l.4 18.2-2.6 6.5z"/>
<path class="gd" d="M1637.8 551.9l1.1-16.5q2-16.5 3 0l.1 16.5-1.7 6.5z"/>
<path class="ga" d="M1531.6 551.6l1-17q2.8-17.6 5.8 0l1.2 17-3.4 5.9z"/>
<path class="ga" d="M1551.4 552.6l.9-14.2q2.3-13.1 4.6 0l.9 14.2-2.7 7.2z"/>
<path class="gc" d="M1545.5 550.8l.6-20.1q1.7-22.9 3.6 0l.8 20.1-2.1 4z"/>
<path class="gd" d="M1381.2 552.7l.7-19.4q2.3-19.7 5.1 0l1.3 19.4-3 7.3z"/>
<path class="gf" d="M1591.4 552.4l.4-18q1.7-18.5 4.1 0l1.2 18-2.4 6.5z"/>
<path class="gd" d="M1599.5 553.8l1.3-15.3q3.1-13.3 5.8 0l.9 15.3-3.4 9.1z"/>
<path class="gc" d="M1424.2 551.6l.6-14q1.7-14.5 3.6 0l.8 14-2.1 4.9z"/>
<path class="ga" d="M1610.3 553.4l.9-14.2q2.4-12.7 5.1 0l1.1 14.2-3 7.9z"/>
<path class="gb" d="M1534.8 552.8l1.7-14.3q3.5-13.7 5.9 0l.6 14.3-3.5 6.7z"/>
<path class="ga" d="M1387.8 553.4l.7-18.6q1.8-18.4 3.7 0l.7 18.6-2.2 7.8z"/>
<path class="ga" d="M1532.5 553.1l.2-17.3q1.4-17.2 3.9 0l1.3 17.3-2.3 7z"/>
<path class="gc" d="M1519.5 554l1.1-23.3q2.8-23.8 5.6 0l1.1 23.3-3.3 8.6z"/>
<path class="ge" d="M1627.3 551.6l1.2-20.3q2.6-23 4.4 0l.5 20.3-2.6 4z"/>
<path class="ga" d="M1376.5 552.5l1-16.6q2.1-17.3 3.6 0l.3 16.6-2.1 5.6z"/>
<path class="ga" d="M1421.4 552.1l1.3-14.1q2.6-14.7 4.4 0l.4 14.1-2.6 4.8z"/>
<path class="gd" d="M1628.2 553.7l1.3-12.7q3.1-11 5.6 0l.9 12.7-3.3 7.5z"/>
<path class="gd" d="M1388.4 554.1l1.1-17.2q3-16.3 6.2 0l1.3 17.2-3.6 8.2z"/>
<path class="ga" d="M1637.7 554l1.2-15q3.1-13.6 6.2 0l1.2 15-3.6 8z"/>
<path class="ga" d="M1655.5 554.5l.8-17.4q2.2-16.1 4.8 0l1.1 17.4-2.8 8.8z"/>
<path class="ga" d="M1531.4 554.8l.8-16.7q2.6-14.8 5.9 0l1.5 16.7-3.5 9.4z"/>
<path class="gc" d="M1574 553.2l.1-20.1q1-21.2 3.2 0l1.2 20.1-1.9 6.4z"/>
<path class="gc" d="M1555.3 553.7l1-19.6q2.7-20 5.3 0l1 19.6-3.2 7.2z"/>
<path class="ga" d="M1369.9 552.2l1.2-17.5q2.8-19.3 5.3 0l.9 17.5-3.1 4.3z"/>
<path class="ga" d="M1611.5 552.5l.2-26.1q1.2-30 3.4 0l1.2 26.1-2 4.8z"/>
<path class="ga" d="M1496.7 552.2l.3-17.5q1.5-19.4 3.9 0l1.2 17.5-2.3 4.2z"/>
<path class="ga" d="M1617.6 553.7l1.4-15q3.2-14.7 5.9 0l.9 15-3.5 6.3z"/>
<path class="ga" d="M1558.4 555.3l.9-23.4q1.8-23.5 3 0l.3 23.4-1.8 9.1z"/>
<path class="ga" d="M1489.9 555.5l.3-24.9q1.3-25.2 3.3 0l1 24.9-1.9 9.4z"/>
<path class="ga" d="M1543.6 552.7l.5-20.3q1.6-23 3.7 0l.9 20.3-2.2 4.2z"/>
<path class="ga" d="M1435.6 553l.7-12.1q1.8-12.4 3.6 0l.6 12.1-2.1 4.4z"/>
<path class="gc" d="M1527.5 553.5l.8-13.4q2.7-13.5 6.1 0l1.5 13.4-3.6 5.2z"/>
<path class="ga" d="M1590.9 555.1l.4-14q2-12.3 5.1 0l1.5 14-3 8.1z"/>
<path class="gc" d="M1408.4 555.5l.9-24.4q2.5-25 5.3 0l1.2 24.4-3.1 8.8z"/>
<path class="gd" d="M1449.4 552.9l1.2-16.3q2.1-18 3.1 0l0 16.3-1.8 3.9z"/>
<path class="gf" d="M1530.2 553.5l.4-18.5q1.4-20.3 3.4 0l1 18.5-2 4.8z"/>
<path class="gd" d="M1546.6 554.4l.5-16q1.8-16.1 4.2 0l1.1 16-2.5 6.2z"/>
<path class="gd" d="M1467.3 553.9l1.5-20.4q3.2-22.3 5.6 0l.7 20.4-3.3 5.2z"/>
<path class="gc" d="M1381.8 554.1l1-17.7q2-18.7 3.3 0l.3 17.7-2 5.6z"/>
<path class="gc" d="M1484.4 553.4l.7-15.9q2.3-17.4 5.1 0l1.2 15.9-3 4.1z"/>
<path class="ga" d="M1386.4 554.1l.4-16.2q1.3-17.1 2.8 0l.7 16.2-1.7 5.3z"/>
<path class="gc" d="M1425 553.8l1-23.1q2.7-26.3 5.2 0l1 23.1-3.1 4.5z"/>
<path class="gd" d="M1658.4 556.1l1.3-18q3-17.1 5.6 0l.9 18-3.3 8.5z"/>
<path class="ga" d="M1647.4 555.9l1.4-17.5q2.8-16.7 4.6 0l.4 17.5-2.7 8.2z"/>
<path class="ge" d="M1521.8 556.6l.8-14.6q2.3-12.2 5 0l1.2 14.6-3 9.3z"/>
<path class="ga" d="M1506.2 554.3l.9-20.7q2.6-23 5.7 0l1.3 20.7-3.3 4.8z"/>
<path class="gd" d="M1611.6 556.5l1.5-19.2q3.3-18.3 6.1 0l.9 19.2-3.6 8.9z"/>
<path class="ga" d="M1429.3 556.2l1.3-24.4q3-25.3 5.4 0l.8 24.4-3.2 8.3z"/>
<path class="gb" d="M1530.5 554.1l1.5-19.7q4-22.4 7.9 0l1.5 19.7-4.7 3.9z"/>
<path class="gd" d="M1411.5 555.4l1.5-17.5q3.1-18.1 5.2 0l.5 17.5-3 6.2z"/>
<path class="gc" d="M1500.3 555.5l1.3-19.1q2.9-19.9 5 0l.6 19.1-3 6.4z"/>
<path class="ga" d="M1402.7 557.2l.4-15.3q1.9-13 4.9 0l1.5 15.3-2.9 9.4z"/>
<path class="ga" d="M1589.5 555.1l1.2-24.2q2.3-27 3.8 0l.3 24.2-2.2 5.5z"/>
<path class="gc" d="M1493.8 556.5l1.1-22q2.6-22.5 4.9 0l.8 22-2.9 8.1z"/>
<path class="gd" d="M1625.8 556.5l.9-22.8q2.1-23.7 4 0l.7 22.8-2.4 7.8z"/>
<path class="ga" d="M1394.6 556.6l1-14.7q2.6-13.3 5.2 0l1 14.7-3.1 7.9z"/>
<path class="gc" d="M1477.1 557l.7-13.2q1.6-11.1 3.1 0l.5 13.2-1.8 8.3z"/>
<path class="gc" d="M1369.7 555.4l1-11.7q2.4-11.3 4.6 0l.8 11.7-2.7 5.2z"/>
<path class="ga" d="M1621.8 557l.9-18.9q2.1-18.5 3.8 0l.6 18.9-2.3 8.1z"/>
<path class="gc" d="M1659.4 557.7l.7-11.9q2-9 4.3 0l1 11.9-2.5 9.1z"/>
<path class="ga" d="M1383.8 555.4l.7-16.8q2.4-18.1 5.3 0l1.3 16.8-3.1 4.8z"/>
<path class="ga" d="M1638.4 555.7l0-16.2q.9-17 2.9 0l1.1 16.2-1.7 5.2z"/>
<path class="ga" d="M1667.8 557.5l.4-16.2q1.4-15 3.1 0l.8 16.2-1.8 8.2z"/>
<path class="ga" d="M1543.8 555.5l1.3-17q3.2-18.6 6.1 0l1.1 17-3.6 4.4z"/>
<path class="gc" d="M1589.6 556.2l1.1-15q2.5-15.1 4.7 0l.7 15-2.8 5.8z"/>
<path class="ga" d="M1568.8 556.2l1.1-12.8q2.6-12.5 4.9 0l.8 12.8-2.9 5.6z"/>
<path class="ga" d="M1584.1 558.3l.8-23.4q2.4-23.6 5.5 0l1.4 23.4-3.2 8.9z"/>
<path class="ge" d="M1356.5 557.9l1.5-15.1q3.1-13.6 5.2 0l.5 15.1-3.1 8.2z"/>
<path class="gf" d="M1634 558.6l.6-14.2q2.3-11.6 5.4 0l1.5 14.2-3.2 9.4z"/>
<path class="gc" d="M1382.9 558.4l1.2-12.5q2.5-9.8 4.3 0l.5 12.5-2.5 9.1z"/>
<path class="gd" d="M1444.1 555.8l1.3-11.9q3.1-12.3 5.8 0l.9 11.9-3.4 4.1z"/>
<path class="gb" d="M1572.5 556.9l1.4-22.5q2.6-24.8 4.1 0l.2 22.5-2.4 5.6z"/>
<path class="ga" d="M1359.9 556.1l1.2-10.6q2.2-10.7 3.4 0l.1 10.6-2 4.1z"/>
<path class="ga" d="M1527.7 557l.2-17.2q1.3-17.9 3.8 0l1.3 17.2-2.2 5.8z"/>
<path class="ga" d="M1358.7 557.7l.9-13.9q1.8-12.9 3 0l.3 13.9-1.8 7z"/>
<path class="ga" d="M1452 557l.4-19.1q1.5-20.4 3.4 0l.9 19.1-2 5.6z"/>
<path class="ga" d="M1399.2 556.2l.6-19.2q2.3-21.7 5.4 0l1.5 19.2-3.2 4z"/>
<path class="gc" d="M1638.2 559l1.2-12.2q2.5-9.5 4.1 0l.4 12.2-2.4 8.7z"/>
<path class="gc" d="M1448.6 558.4l.6-23.1q1.9-24.1 4.2 0l1 23.1-2.5 7.7z"/>
<path class="gc" d="M1368 558.4l.4-12.7q1.4-11.3 3.3 0l.9 12.7-2 7.2z"/>
<path class="gc" d="M1422.5 558.8l.3-17.5q1.3-17.4 3.1 0l.9 17.5-1.9 7.2z"/>
<path class="ga" d="M1566.6 559.1l.9-25q2.5-26.8 5.4 0l1.2 25-3.2 7.3z"/>
<path class="gd" d="M1552 558.9l.4-18.9q1.8-19.3 4.5 0l1.3 18.9-2.6 7z"/>
<path class="gd" d="M1455.3 560.1l.6-15.5q2.2-13.6 5.3 0l1.5 15.5-3.1 8.9z"/>
<path class="ga" d="M1501.2 559.4l1.5-16.4q2.8-15.6 4.4 0l.3 16.4-2.6 7.7z"/>
<path class="gd" d="M1537.6 559.5l1-25.6q1.9-27.2 2.9 0l.1 25.6-1.7 7.9z"/>
<path class="ga" d="M1605.1 557.5l1.2-21.4q2.9-24.4 5.6 0l.9 21.4-3.3 4z"/>
<path class="gc" d="M1428.2 559.4l.9-22.3q2.1-23.3 3.8 0l.5 22.3-2.2 7.5z"/>
<path class="ga" d="M1586.3 559.6l1.3-21.9q2.5-22.8 4 0l.2 21.9-2.3 7.4z"/>
<path class="ga" d="M1442.8 559.3l1.3-23.7q3.1-25.5 6 0l1 23.7-3.5 6.7z"/>
<path class="gc" d="M1519.1 558.3l1.3-14.7q2.8-15.4 5.1 0l.7 14.7-3 4.9z"/>
<path class="gd" d="M1636.2 559.2l.9-16.2q2.1-16.2 3.9 0l.6 16.2-2.3 6.5z"/>
<path class="gf" d="M1581 560.2l1.5-21.4q3.3-21.7 5.9 0l.7 21.4-3.5 8.1z"/>
<path class="gc" d="M1655.4 559.1l1.7-12.4q3.6-11.8 6.1 0l.7 12.4-3.6 5.8z"/>
<path class="gd" d="M1568.1 559l.5-21.8q1.4-24.2 3 0l.6 21.8-1.8 5.2z"/>
<path class="ga" d="M1572.8 558.6l.8-13.7q2.1-14.4 4.5 0l1 13.7-2.6 4.5z"/>
<path class="gf" d="M1581.9 560.4l1.1-16.9q2-16.8 3 0l.1 16.9-1.8 6.8z"/>
<path class="gc" d="M1386.4 560.6l.9-13.2q2.6-11.9 5.7 0l1.4 13.2-3.4 7.1z"/>
<path class="gd" d="M1478.6 560.6l.4-21.1q1.8-22.1 4.6 0l1.4 21.1-2.7 6.9z"/>
<path class="ga" d="M1449.3 561.9l.6-19.6q1.7-18.7 3.6 0l.7 19.6-2.1 9.2z"/>
<path class="gb" d="M1477.6 559.5l.8-20.5q2.4-22.8 5.2 0l1.2 20.5-3.1 4.7z"/>
<path class="ga" d="M1487.4 561l.5-19.3q1.6-19.7 3.5 0l.8 19.3-2 7.1z"/>
<path class="ga" d="M1642.9 561.1l.3-17.6q1.6-17.4 4.3 0l1.4 17.6-2.5 7.3z"/>
<path class="gd" d="M1547.6 559.8l.9-17.3q1.9-18.8 3.2 0l.4 17.3-1.9 4.8z"/>
<path class="ga" d="M1616.3 561.7l.6-18.4q1.8-17.9 3.8 0l.9 18.4-2.3 8.1z"/>
<path class="gf" d="M1485.5 561.5l.3-17.5q1.5-17.2 4 0l1.3 17.5-2.4 7.4z"/>
<path class="gf" d="M1607 561.6l1.6-14q3.3-12.7 5.5 0l.5 14-3.3 7.5z"/>
<path class="ga" d="M1432.4 561.7l1.6-15.1q3.4-14 6 0l.7 15.1-3.6 7.6z"/>
<path class="ga" d="M1413.1 560.9l.5-23.6q2-25.9 4.9 0l1.5 23.6-2.9 6z"/>
<path class="ga" d="M1525 559.9l.6-21.3q2.1-24.3 5.2 0l1.4 21.3-3 4.1z"/>
<path class="gc" d="M1616.7 561.1l1.5-13q3-12.1 5.1 0l.5 13-3 6.4z"/>
<path class="ga" d="M1613.9 561l.3-13.5q1.2-13 3.1 0l.9 13.5-1.8 6z"/>
<path class="ga" d="M1363.7 562.9l1.5-13.3q3-10.5 5 0l.4 13.3-2.9 9.4z"/>
<path class="ga" d="M1405 560.9l1.4-18.1q2.8-19.3 4.4 0l.3 18.1-2.6 5.6z"/>
<path class="gd" d="M1398.7 563l.4-16.8q1.4-15 3.2 0l.8 16.8-1.9 9.4z"/>
<path class="ga" d="M1364.8 561.1l1.6-15.7q3.3-16.3 5.4 0l.5 15.7-3.2 5.4z"/>
<path class="gc" d="M1525.1 560.9l.6-15.8q2.4-16.9 5.8 0l1.7 15.8-3.4 4.8z"/>
<path class="ga" d="M1661.7 561.8l.8-18.5q2.1-19.4 4.2 0l.8 18.5-2.4 6.1z"/>
<path class="ga" d="M1477.3 562.7l.8-14.4q2.1-13 4.1 0l.8 14.4-2.4 7.8z"/>
<path class="ga" d="M1365.3 562.4l.4-10.6q1.9-8.6 4.8 0l1.4 10.6-2.8 7.2z"/>
<path class="gf" d="M1377.9 562.9l1.2-17.8q2.5-17.1 4.2 0l.4 17.8-2.5 8.1z"/>
<path class="gd" d="M1443.1 563.6l.3-16.4q1.2-14.5 2.9 0l.8 16.4-1.7 9.2z"/>
<path class="gd" d="M1579.2 561.3l1.2-12.2q2.8-12.6 5.4 0l.9 12.2-3.2 4.3z"/>
<path class="ga" d="M1430.7 563.6l.1-22.1q1-22.3 3 0l1.1 22.1-1.8 8.6z"/>
<path class="gf" d="M1536.5 561.9l.3-18.8q1.6-20.2 4.2 0l1.3 18.8-2.5 5.4z"/>
<path class="gd" d="M1603.8 562.1l1.1-23.2q2.7-25.9 5.1 0l.9 23.2-3 5.3z"/>
<path class="gd" d="M1365.7 564.5l1.1-17.9q2.5-16.5 4.7 0l.7 17.9-2.8 9.1z"/>
<path class="gd" d="M1366.8 562.7l.2-15.1q1.2-15.8 3.2 0l1.1 15.1-1.9 5z"/>
<path class="gc" d="M1484.7 564.6l.7-17.5q2.5-16.4 5.9 0l1.6 17.5-3.5 8.5z"/>
<path class="ga" d="M1605.5 564.3l1.2-24q2.2-25.4 3.3 0l.1 24-1.9 7.5z"/>
<path class="gd" d="M1621.3 563.4l.6-15.1q2.2-15.3 5 0l1.3 15.1-3 5.7z"/>
<path class="gc" d="M1468.2 565l.7-20.2q2.5-19.7 6 0l1.7 20.2-3.6 8.6z"/>
<path class="gf" d="M1468.1 563.4l0-17.2q.9-18.1 2.9 0l1.1 17.2-1.7 5.5z"/>
<path class="gd" d="M1442.4 564l1-21q2.1-22.4 3.5 0l.3 21-2 6.4z"/>
<path class="gc" d="M1449.3 564.5l1.2-16.7q3.1-16.4 6.3 0l1.3 16.7-3.7 7.1z"/>
<path class="gc" d="M1465.5 565.4l1.1-17.6q2.9-16.5 5.6 0l1 17.6-3.3 8.7z"/>
<path class="gd" d="M1410.2 565.4l.5-24q2-24.6 4.9 0l1.4 24-2.9 8.8z"/>
<path class="ga" d="M1398.2 564.4l1.3-22.4q2.4-23.8 3.7 0l.2 22.4-2.2 6.8z"/>
<path class="gd" d="M1594.3 563.3l.2-16.6q1.4-18 3.8 0l1.3 16.6-2.3 4.6z"/>
<path class="gb" d="M1657.6 565.9l.4-12.6q1.7-9.9 4.2 0l1.2 12.6-2.5 9.1z"/>
<path class="ga" d="M1434 563.5l.4-24.2q1.8-27.8 4.5 0l1.4 24.2-2.6 4.4z"/>
<path class="gc" d="M1538.4 563.8l.5-17.3q2-18.8 5 0l1.5 17.3-2.9 4.8z"/>
<path class="gc" d="M1540.9 565.7l1.3-20.4q2.8-20.3 4.9 0l.6 20.4-2.9 8.2z"/>
<path class="gd" d="M1391.5 564.4l.9-17.7q2.8-18.7 6 0l1.4 17.7-3.5 5.4z"/>
<path class="gf" d="M1534.9 566.2l1.4-14.5q3.3-12.7 6.2 0l1 14.5-3.7 8.4z"/>
<path class="ga" d="M1604.6 564.5l.6-19.2q1.9-20.9 4.2 0l1 19.2-2.5 5.2z"/>
<path class="gc" d="M1532 564l.6-21q2.4-23.8 5.8 0l1.7 21-3.4 4.2z"/>
<path class="ga" d="M1383.8 566.8l.4-14.7q1.7-12.6 4.4 0l1.3 14.7-2.6 9z"/>
<path class="gd" d="M1485.8 565l1.1-15.7q2.8-16.5 5.6 0l1.1 15.7-3.3 5.1z"/>
<path class="ga" d="M1557.5 565.8l.5-23.9q2.3-26.1 5.8 0l1.7 23.9-3.4 6.3z"/>
<path class="ga" d="M1468.2 565.9l.4-14.9q1.5-15 3.6 0l1 14.9-2.2 5.9z"/>
<path class="gc" d="M1437.3 566.9l.9-14.4q2.5-13.2 5.2 0l1.1 14.4-3.1 7.6z"/>
<path class="ga" d="M1600.6 565.9l.3-20.8q1.6-22.6 4 0l1.2 20.8-2.4 5.7z"/>
<path class="gc" d="M1608.8 567.7l1.3-19.2q3.2-18.3 6.1 0l1.1 19.2-3.6 9.1z"/>
<path class="gb" d="M1372.3 565.9l1.4-15.9q2.6-16.6 4 0l.2 15.9-2.4 5.4z"/>
<path class="gb" d="M1648.5 567.5l1.6-22.7q3.4-23.4 5.7 0l.6 22.7-3.4 8.1z"/>
<path class="gc" d="M1591.6 568.1l1.5-20.8q3.4-20.3 6.3 0l1 20.8-3.7 9.1z"/>
<path class="ga" d="M1620 566.7l1.1-20.4q2.1-21.5 3.2 0l.1 20.4-1.9 6.6z"/>
<path class="ga" d="M1440.7 568.1l.6-20.8q2.2-20.3 5.2 0l1.4 20.8-3.1 9z"/>
<path class="gf" d="M1503.4 566.1l.5-14.2q2.1-14.7 5.4 0l1.6 14.2-3.2 4.9z"/>
<path class="gb" d="M1418.3 567.6l.4-21.2q1.9-21.7 4.7 0l1.4 21.2-2.8 7.7z"/>
<path class="gd" d="M1544.3 568.5l1.1-20.1q2.2-19.7 3.3 0l.1 20.1-1.9 8.6z"/>
<path class="gd" d="M1567.1 567.6l.6-22.3q1.7-23.9 3.5 0l.7 22.3-2.1 6.6z"/>
<path class="gc" d="M1457 566.9l.8-16.2q1.9-17 3.7 0l.7 16.2-2.2 5.3z"/>
<path class="ga" d="M1468.1 566.5l.7-19.5q2.3-21.8 5.1 0l1.3 19.5-3 4.3z"/>
<path class="ga" d="M1593.5 566.8l.9-24.6q2.2-28 4.5 0l.9 24.6-2.7 4.7z"/>
<path class="ga" d="M1519.1 567.7l1.1-18.9q2.9-19.8 5.7 0l1.1 18.9-3.4 6.3z"/>
<path class="ga" d="M1579.7 567.9l1.2-18.7q2.2-19.2 3.3 0l.1 18.7-1.9 6.7z"/>
<path class="ga" d="M1601.6 568.6l.5-19.3q1.5-19.3 3.1 0l.7 19.3-1.8 7.7z"/>
<path class="gc" d="M1450.3 568.3l1.2-25.4q2.3-27.8 3.7 0l.3 25.4-2.2 6.7z"/>
<path class="gc" d="M1570.7 568.4l.5-24.6q2.2-26.6 5.5 0l1.6 24.6-3.3 6.8z"/>
<path class="ga" d="M1590.6 568.1l.9-20.8q2.3-22.2 4.8 0l1 20.8-2.8 6.2z"/>
<path class="gd" d="M1424.4 567.6l.8-24.1q2-27.2 4.2 0l.8 24.1-2.5 5.1z"/>
<path class="ga" d="M1457.7 568l.4-14.7q1.8-15.2 4.8 0l1.5 14.7-2.8 5.1z"/>
<path class="gd" d="M1618.3 568.3l1.1-23.5q3-26.3 6.1 0l1.3 23.5-3.6 5.2z"/>
<path class="gb" d="M1399.5 568.1l1.3-15.3q3.2-16.8 6.5 0l1.3 15.3-3.8 3.9z"/>
<path class="ga" d="M1513.7 568.4l.3-16.9q1.7-18.5 4.4 0l1.4 16.9-2.6 4.3z"/>
<path class="gc" d="M1466.3 569.9l.8-18.9q2.4-19.5 5.1 0l1.2 18.9-3 6.7z"/>
<path class="ge" d="M1502 570l1.3-23.2q2.6-24.8 4.3 0l.4 23.2-2.6 7z"/>
<path class="ga" d="M1519.2 569.1l.9-16.5q2.7-17.6 5.7 0l1.3 16.5-3.4 5z"/>
<path class="ga" d="M1442.9 571.5l.7-15.1q1.8-12.8 3.6 0l.6 15.1-2.1 9.3z"/>
<path class="ga" d="M1608.5 569.7l1.3-16.4q2.7-17 4.7 0l.5 16.4-2.8 5.7z"/>
<path class="gf" d="M1600 569.7l1.3-25q2.6-28 4.3 0l.3 25-2.5 5.6z"/>
<path class="gc" d="M1453.7 569.6l1.4-16.5q2.6-17.3 4.1 0l.2 16.5-2.4 5.4z"/>
<path class="gf" d="M1529.1 570.3l.8-23.8q2.4-25.7 5.4 0l1.3 23.8-3.2 6.6z"/>
<path class="ga" d="M1516.6 571.7l1.1-16.8q2.9-15.2 5.8 0l1.1 16.8-3.4 9.1z"/>
<path class="gc" d="M1404.7 571.6l.6-16.3q1.6-14.6 3.2 0l.6 16.3-1.9 9z"/>
<path class="ga" d="M1537.1 570.4l1.4-19.3q2.7-20.2 4.4 0l.4 19.3-2.6 6.4z"/>
<path class="gd" d="M1589.9 569.9l1.1-18.5q2.1-19.8 3.2 0l.1 18.5-1.9 5.5z"/>
<path class="ga" d="M1412.9 570.3l1.3-14.7q2.9-14.7 5 0l.6 14.7-2.9 5.8z"/>
<path class="gc" d="M1517.9 571.2l1.1-19.5q2.3-19.9 4 0l.5 19.5-2.4 7.3z"/>
<path class="ga" d="M1460.5 572.1l1.2-17q2.9-15.4 5.6 0l.9 17-3.3 9z"/>
<path class="ga" d="M1522.2 570.4l1.6-25.4q3.3-28.3 5.4 0l.5 25.4-3.2 5.9z"/>
<path class="gb" d="M1465.9 569.6l.9-18.1q2.1-20.1 3.8 0l.5 18.1-2.2 4.2z"/>
<path class="gc" d="M1416.9 569.8l1-21.1q2.2-24.1 4.2 0l.7 21.1-2.5 4.1z"/>
<path class="gd" d="M1472.3 571.1l1.2-16.7q2.7-17 4.9 0l.7 16.7-2.9 6.2z"/>
<path class="ga" d="M1460.8 570.6l1.2-22.3q2.5-24.9 4.4 0l.5 22.3-2.6 5z"/>
<path class="gc" d="M1630.6 570.6l.7-18.5q1.6-20.2 2.9 0l.4 18.5-1.7 4.9z"/>
<path class="gc" d="M1432.8 572.1l.5-17.9q1.7-17.7 3.8 0l1 17.9-2.2 7.4z"/>
<path class="gc" d="M1609.3 572.6l1-17.3q2.1-16.4 3.6 0l.4 17.3-2.1 8.3z"/>
<path class="ga" d="M1410.9 570.8l.9-18.3q2.3-20.1 4.4 0l.8 18.3-2.6 4.6z"/>
<path class="ga" d="M1385.3 572l1.1-13.6q2.1-12.6 3.2 0l.1 13.6-1.9 6.8z"/>
<path class="gf" d="M1399.6 572.6l.8-13.6q1.8-12.3 3.3 0l.5 13.6-2 7.4z"/>
<path class="gd" d="M1646.4 573.2l.9-23q2-23.5 3.4 0l.4 23-2 8.3z"/>
<path class="gc" d="M1499.5 573.5l1.3-17q2.6-15.6 4.2 0l.3 17-2.5 8.7z"/>
<path class="ga" d="M1585.8 571.3l.9-19.9q2.5-22.3 5.3 0l1.2 19.9-3.1 4.5z"/>
<path class="gf" d="M1408.2 573l1.5-14.5q3.3-13.4 6.1 0l.9 14.5-3.6 7.3z"/>
<path class="gc" d="M1452.2 573.3l.9-26.3q2-28.2 3.6 0l.6 26.3-2.1 7.8z"/>
<path class="gc" d="M1429.5 574.2l1.4-28.7q3.2-30.3 5.8 0l.9 28.7-3.4 9.2z"/>
<path class="gc" d="M1638.7 573.6l1.3-23.2q3.2-24.6 6.1 0l1 23.2-3.6 7.2z"/>
<path class="gd" d="M1524.1 574.7l1.1-19.4q2-18.3 3.1 0l.1 19.4-1.8 9.3z"/>
<path class="gd" d="M1401.5 574.4l1.4-22.4q3.3-22.7 6.2 0l1 22.4-3.6 8.4z"/>
<path class="ga" d="M1623 574.7l.6-24.9q1.6-25.7 3.4 0l.7 24.9-2 8.8z"/>
<path class="gb" d="M1583.9 573.5l1-13q2.6-12.2 5.5 0l1.2 13-3.2 6.4z"/>
<path class="gf" d="M1494.3 575l.5-23.3q2.1-23.7 4.9 0l1.4 23.3-2.9 8.7z"/>
<path class="ga" d="M1471.1 575.1l.9-25.6q2.6-26.9 5.8 0l1.4 25.6-3.4 8.3z"/>
<path class="gc" d="M1553.5 575.7l.3-18.6q1.4-17.5 3.7 0l1.2 18.6-2.2 8.9z"/>
<path class="ga" d="M1462.2 574.1l1.2-19.7q2.6-20.9 4.8 0l.7 19.7-2.8 6z"/>
<path class="gc" d="M1605.9 575.7l.7-22.2q2-22.2 4.2 0l.9 22.2-2.5 8.8z"/>
<path class="ga" d="M1603.1 574.6l1.1-22.7q3.1-24.4 6.4 0l1.4 22.7-3.8 6.6z"/>
<path class="ga" d="M1532.3 574.6l1.4-16.1q2.9-16 5.2 0l.7 16.1-3.1 6.5z"/>
<path class="gc" d="M1560.6 575.6l.3-16.2q1.8-15.5 4.7 0l1.5 16.2-2.8 7.4z"/>
<path class="gc" d="M1422.7 575.8l1.1-14.8q2.7-13.5 5.2 0l.9 14.8-3.1 7.9z"/>
<path class="gd" d="M1443.7 576.1l.6-21.8q2.4-22.2 5.9 0l1.7 21.8-3.5 8z"/>
<path class="gf" d="M1620.6 575.3l.8-15.6q2.2-15.3 4.8 0l1.1 15.6-2.8 6.5z"/>
<path class="ga" d="M1636.1 577.1l1.4-17.7q2.8-15.9 4.5 0l.4 17.7-2.7 9.6z"/>
<path class="gc" d="M1540.3 575l1-13.7q2.4-13.8 4.5 0l.7 13.7-2.6 5.4z"/>
<path class="gc" d="M1555.4 575l1.4-23.7q3.2-26.7 5.8 0l.9 23.7-3.4 5.1z"/>
<path class="ga" d="M1542.4 576.1l.4-13.7q1.6-13.5 3.8 0l1.1 13.7-2.3 5.7z"/>
<path class="ga" d="M1403.4 575.8l.8-21.7q2.4-24.1 5.4 0l1.3 21.7-3.2 5.2z"/>
<path class="ga" d="M1597.2 577.5l.3-18.2q1.6-17.6 4.4 0l1.5 18.2-2.6 8z"/>
<path class="ga" d="M1490 577.3l.6-19.1q1.5-19.2 3 0l.6 19.1-1.8 7.4z"/>
<path class="gd" d="M1593.2 578.6l.5-17.8q1.6-16 3.8 0l1 17.8-2.2 9.8z"/>
<path class="ga" d="M1553.7 575.6l1.1-14.8q2.8-15.9 5.7 0l1.1 14.8-3.4 4.3z"/>
<path class="gc" d="M1561 578.7l1.1-21.6q2.9-20.8 5.9 0l1.1 21.6-3.5 9.8z"/>
<path class="ga" d="M1542.9 576.8l.6-17.4q2.2-17.9 5.3 0l1.4 17.4-3.1 6.1z"/>
<path class="ga" d="M1641.1 577.2l.3-24.6q1.6-26.9 4.4 0l1.4 24.6-2.6 6.5z"/>
<path class="ga" d="M1594.9 577.3l.8-24.8q1.8-27.5 3.2 0l.5 24.8-1.9 6z"/>
<path class="gd" d="M1582.7 579.3l1.2-15.8q2.3-13.5 3.4 0l.1 15.8-2 9.7z"/>
<path class="ga" d="M1483.4 578.1l1.3-25.9q2.8-28.1 4.9 0l.6 25.9-2.9 7.1z"/>
<path class="gf" d="M1452.8 577.3l.6-17.8q1.6-19.1 3.2 0l.7 17.8-1.9 5.3z"/>
<path class="ga" d="M1450.6 576.8l1.4-15.2q3-16.5 5.2 0l.6 15.2-3.1 4.1z"/>
<path class="ga" d="M1404.5 579.2l.6-20.6q1.9-20.3 4.2 0l1.1 20.6-2.5 8.5z"/>
<path class="gb" d="M1475 577.1l1.4-18.6q3.6-21 7.2 0l1.4 18.6-4.2 3.9z"/>
<path class="ga" d="M1617 579.8l.6-14q1.6-11.7 3.4 0l.7 14-2 8.8z"/>
<path class="ga" d="M1555.5 579l1-25.9q2-28 3.2 0l.2 25.9-1.9 7.2z"/>
<path class="gf" d="M1458.1 577.8l1.6-22.2q3.4-24.8 5.8 0l.7 22.2-3.4 4.9z"/>
<path class="gc" d="M1586.5 578l1.3-19q2.7-20.6 4.6 0l.5 19-2.7 5.3z"/>
<path class="gf" d="M1432.9 580.3l1.1-26.5q2.1-27.4 3.4 0l.2 26.5-2 9.2z"/>
<path class="ga" d="M1507 579.1l0-21.3q1-22.4 3.2 0l1.2 21.3-1.9 6.9z"/>
<path class="gc" d="M1595.4 580.2l1.1-26.2q2.8-27.6 5.6 0l1.1 26.2-3.3 8.3z"/>
<path class="gd" d="M1454.4 580.4l.9-24.2q2-25 3.6 0l.5 24.2-2.1 8.5z"/>
<path class="gc" d="M1460.5 579.1l.7-31.2q1.7-35.7 3.2 0l.5 31.2-1.9 5.9z"/>
<path class="gc" d="M1615.1 579.2l1.1-22.9q2.7-25 5.1 0l.9 22.9-3 6.1z"/>
<path class="gd" d="M1622.5 581l1.1-20.7q2.2-20.3 3.6 0l.3 20.7-2.1 8.8z"/>
<path class="ga" d="M1489.1 581.1l1-23q2.4-23.1 4.6 0l.8 23-2.7 9z"/>
<path class="ge" d="M1576.9 579.5l.8-23.4q2.4-26 5.3 0l1.3 23.4-3.1 5.4z"/>
<path class="gc" d="M1628.5 580.9l1.6-12.8q3.3-11.3 5.7 0l.6 12.8-3.3 7.4z"/>
<path class="ga" d="M1602.2 580.4l.2-13.9q1.5-13.4 4.1 0l1.4 13.9-2.4 6.2z"/>
<path class="gc" d="M1638.8 580.7l.3-14.5q1.3-14 3.4 0l1 14.5-2 6.5z"/>
<path class="gc" d="M1502.8 580.9l1.4-17.1q2.9-17.1 4.8 0l.5 17.1-2.9 6.9z"/>
<path class="ga" d="M1433.3 582.6l.6-23.3q1.6-22.9 3.3 0l.7 23.3-1.9 9.9z"/>
<path class="gb" d="M1576.9 580.2l.8-12.1q2.6-11.6 6.1 0l1.6 12.1-3.6 5.5z"/>
<path class="gd" d="M1627 580.7l.8-17q2.1-17.5 4.1 0l.8 17-2.4 6z"/>
<path class="gc" d="M1464.8 582.3l1.5-16.3q3.2-14.5 5.7 0l.7 16.3-3.4 9.1z"/>
<path class="gc" d="M1549.9 582l.7-17.4q2.5-16.4 6.1 0l1.7 17.4-3.6 8.5z"/>
<path class="ga" d="M1470.6 582.5l.7-17.4q2.2-15.7 4.8 0l1.1 17.4-2.8 9.3z"/>
<path class="gc" d="M1444.8 583l.6-21.2q1.7-20.2 3.7 0l.9 21.2-2.2 10z"/>
<path class="gc" d="M1632.5 581.7l1-20.8q2.9-22 5.9 0l1.3 20.8-3.5 6.5z"/>
<path class="gf" d="M1536.1 581.6l.4-18.5q1.5-19.3 3.7 0l1 18.5-2.2 6.3z"/>
<path class="gd" d="M1555 581l.7-16q2-16.9 4.1 0l.9 16-2.4 5.1z"/>
<path class="gd" d="M1468.1 581.2l.6-17.6q2.6-18.9 6.4 0l1.8 17.6-3.8 5.1z"/>
<path class="gd" d="M1480.1 582.7l1.4-22q2.8-22.8 4.7 0l.5 22-2.8 7.6z"/>
<path class="gd" d="M1516.5 582.4l1.2-15.6q2.9-15.1 5.5 0l.9 15.6-3.2 6.8z"/>
<path class="gf" d="M1435.4 582l.4-22.4q1.7-24.5 4 0l1.1 22.4-2.4 5.8z"/>
<path class="gc" d="M1585.6 583.2l1.4-16.1q3.2-15.1 6.1 0l1 16.1-3.6 7.8z"/>
<path class="gc" d="M1550.7 583.3l1.2-18.3q2.3-18 3.6 0l.2 18.3-2.1 7.7z"/>
<path class="ga" d="M1551 584.5l1.1-24q2.4-23.7 4 0l.4 24-2.4 9.9z"/>
<path class="ga" d="M1512.1 583.2l.8-26.6q2.1-28.8 4.2 0l.8 26.6-2.5 7.4z"/>
<path class="ge" d="M1442.3 582.8l1.1-17.5q3-17.8 6.2 0l1.3 17.5-3.7 6.5z"/>
<path class="ga" d="M1523.9 582.7l.8-26.1q2.3-28.9 5 0l1.1 26.1-2.9 6.3z"/>
<path class="gc" d="M1443.5 581.9l1.1-16.9q2.3-18.3 3.8 0l.4 16.9-2.3 4.8z"/>
<path class="ga" d="M1543.6 584.7l1.6-24.4q3.5-24.3 6.1 0l.8 24.4-3.6 9.8z"/>
<path class="gf" d="M1441.5 584.4l.4-18q1.9-16.6 4.7 0l1.4 18-2.8 9.3z"/>
<path class="ga" d="M1594.4 583.9l1-15.6q2.3-14.5 4.4 0l.8 15.6-2.6 7.7z"/>
<path class="gf" d="M1504.1 582.7l.9-15.8q1.9-16.4 3.1 0l.3 15.8-1.9 5.4z"/>
<path class="ga" d="M1593.3 582.3l.9-12.4q2.2-12.7 4.2 0l.7 12.4-2.5 4.5z"/>
<path class="gf" d="M1563.4 584.2l.9-22.9q2.1-23.7 4.1 0l.7 22.9-2.4 8z"/>
<path class="gb" d="M1491.2 584.6l.5-29q2-31.1 4.8 0l1.4 29-2.8 8.4z"/>
<path class="gc" d="M1481.2 582.6l.9-14.5q2.2-15.4 4.1 0l.7 14.5-2.4 4.5z"/>
<path class="gd" d="M1458.5 582.5l1-13.1q2.4-13.7 4.6 0l.8 13.1-2.7 4.4z"/>
<path class="gf" d="M1556.7 583.8l.9-24.8q2.2-27 4.1 0l.7 24.8-2.4 6.7z"/>
<path class="ga" d="M1430.3 584.4l.1-21.2q1.3-21.7 3.7 0l1.3 21.2-2.2 7.7z"/>
<path class="gc" d="M1430.5 584.6l.4-26.2q1.6-27.8 3.8 0l1 26.2-2.3 8z"/>
<path class="gc" d="M1534.1 584.7l1.1-22.5q2.3-23.1 4 0l.5 22.5-2.4 7.9z"/>
<path class="ga" d="M1475.8 582.9l.5-22.3q1.8-25.3 4.1 0l1 22.3-2.4 4.6z"/>
<path class="gd" d="M1560.7 585.9l1.2-23.6q3-23.4 5.9 0l1.1 23.6-3.5 9.7z"/>
<path class="gc" d="M1433.4 585.6l.8-24.3q2.2-24.9 4.6 0l1 24.3-2.7 8.8z"/>
<path class="gc" d="M1582.7 585l.7-15.3q2.4-14.4 5.8 0l1.6 15.3-3.4 7.5z"/>
<path class="ga" d="M1575 585.4l1-16.5q2.7-15.5 5.6 0l1.2 16.5-3.3 8.2z"/>
<path class="ga" d="M1511.6 584.7l.7-24.4q1.9-26.6 4.1 0l.9 24.4-2.4 6.4z"/>
<path class="gc" d="M1513.1 585l1-14q2.8-13.3 5.9 0l1.3 14-3.5 6.7z"/>
<path class="gc" d="M1438.9 584.1l1.8-12.5q3.7-12.4 6.4 0l.7 12.5-3.8 5.1z"/>
<path class="gf" d="M1521.5 585.7l1-18.2q2.2-18.4 3.8 0l.5 18.2-2.3 7z"/>
<path class="ga" d="M1493.2 586.2l.7-18.3q1.6-18.1 3.1 0l.5 18.3-1.8 7.5z"/>
<path class="gd" d="M1501.9 586.9l.9-14.4q2.9-12.3 6.6 0l1.7 14.4-3.9 8.8z"/>
<path class="ga" d="M1570.5 585.1l.8-15.4q2-16.3 3.9 0l.7 15.4-2.3 4.8z"/>
<path class="ga" d="M1447.7 585.4l.5-18.6q1.6-20.1 3.6 0l1 18.6-2.1 5.3z"/>
<path class="gc" d="M1446.5 585.6l1.6-25.7q3.4-29.6 6.1 0l.8 25.7-3.6 4.6z"/>
<path class="gc" d="M1597.7 587.6l.6-17q1.8-16.1 4.1 0l1 17-2.4 8.1z"/>
<path class="gc" d="M1539.7 588.1l1.3-21.6q2.7-21.7 4.6 0l.5 21.6-2.7 8.5z"/>
<path class="ga" d="M1588.8 586.3l1.2-13.2q2.8-13.4 5.3 0l.9 13.2-3.1 5z"/>
<path class="gc" d="M1517.8 588l1.3-17q2.9-16.5 5.2 0l.7 17-3 7.4z"/>
<path class="gf" d="M1596.1 586.3l.8-19q2-21.3 3.9 0l.7 19-2.3 4.2z"/>
<path class="gd" d="M1462.2 588.5l1-25.1q2.7-26.4 5.5 0l1.1 25.1-3.3 8.1z"/>
<path class="gc" d="M1551.1 588.6l1.4-32.5q2.9-35.7 5.2 0l.7 32.5-3.1 8.3z"/>
<path class="ga" d="M1577.7 587.7l.2-19.9q1.2-20.9 3.3 0l1.1 19.9-2 6.5z"/>
<path class="gc" d="M1601.5 588.5l.8-23q1.9-24.3 3.8 0l.7 23-2.3 7.4z"/>
<path class="gb" d="M1452.3 587.7l1-18.3q3-19.2 6.5 0l1.6 18.3-3.9 5.9z"/>
<path class="gc" d="M1537.8 589.3l.9-25.2q2.3-26.1 4.3 0l.7 25.2-2.5 8.6z"/>
<path class="ga" d="M1607.5 587.5l.5-16.7q1.8-17.8 4.6 0l1.3 16.7-2.7 5.1z"/>
<path class="ga" d="M1449.2 588.5l.7-15.5q1.7-15.2 3.5 0l.7 15.5-2 6.6z"/>
<path class="gb" d="M1611.4 588.3l1.4-25.4q2.8-28.3 4.5 0l.3 25.4-2.6 5.9z"/>
<path class="ga" d="M1440.6 588l1.1-25.4q3-28.7 6.2 0l1.3 25.4-3.7 5.4z"/>
<path class="gd" d="M1614.1 589.7l.3-18.9q1.6-18.6 4 0l1.2 18.9-2.4 7.9z"/>
<path class="gd" d="M1571.3 590.9l1.1-17.1q2.7-15.1 5.4 0l1 17.1-3.2 9.8z"/>
<path class="ga" d="M1500.6 588.8l.8-25.4q2.5-28.5 5.6 0l1.4 25.4-3.3 5.6z"/>
<path class="ga" d="M1589.8 588.6l1.5-15.2q3.1-15.8 5.4 0l.6 15.2-3.2 5.3z"/>
<path class="ga" d="M1627.7 590l.4-13.5q1.6-12 3.8 0l1.1 13.5-2.3 7.7z"/>
<path class="ga" d="M1557.2 588.2l.5-16.2q1.7-17.7 3.9 0l1 16.2-2.3 4.2z"/>
<path class="ga" d="M1608.9 591l.5-16.3q1.8-14.5 4.1 0l1.1 16.3-2.4 9.1z"/>
<path class="gd" d="M1441.8 589l1-15.9q2.8-16.5 6 0l1.3 15.9-3.5 5.5z"/>
<path class="gd" d="M1628.4 588.6l.5-15.6q2.2-16.7 5.5 0l1.7 15.6-3.3 4.7z"/>
<path class="gc" d="M1616.7 589.9l.5-17q2.2-16.9 5.5 0l1.7 17-3.3 7z"/>
<path class="gc" d="M1433.1 590.8l.6-23q2.1-23.5 5 0l1.4 23-3 8.4z"/>
<path class="ga" d="M1546 589.6l.9-19.7q2.8-21 6.1 0l1.4 19.7-3.6 6.1z"/>
<path class="ga" d="M1475.1 590.1l1.1-19.1q2.3-19.7 3.7 0l.3 19.1-2.2 6.9z"/>
<path class="ga" d="M1541 589.9l.3-21.8q1.6-23.5 4.3 0l1.4 21.8-2.6 6.2z"/>
<path class="gb" d="M1478.9 591.7l1.2-27.4q3.2-28.7 6.6 0l1.3 27.4-3.9 9z"/>
<path class="ga" d="M1589.2 591.8l.3-25.4q1.4-26 3.6 0l1.1 25.4-2.1 9.1z"/>
<path class="ge" d="M1496.8 590.3l.9-22.3q2.8-24.1 6.2 0l1.5 22.3-3.7 6.1z"/>
<path class="ga" d="M1605.8 589.8l.3-12.1q1.3-12.1 3.3 0l1 12.1-2 4.9z"/>
<path class="gc" d="M1548.1 591l1.1-15.8q3.1-15.5 6.5 0l1.4 15.8-3.8 6.6z"/>
<path class="ga" d="M1555.6 593l.9-20.7q2.2-19.8 4.5 0l.9 20.7-2.7 9.5z"/>
<path class="gc" d="M1547.9 592.4l1.1-19.8q2.2-19.7 3.5 0l.3 19.8-2.1 8.1z"/>
<path class="ga" d="M1448.6 592.9l1.1-25.5q2.7-26.7 5.2 0l.9 25.5-3 8.5z"/>
<path class="gc" d="M1539.3 592.2l.2-25q1.2-27.1 3.3 0l1.1 25-1.9 6.9z"/>
<path class="ga" d="M1535.1 590.9l.6-19.9q2-22.4 4.7 0l1.2 19.9-2.8 4.2z"/>
<path class="gd" d="M1452.8 591l.4-13.1q1.5-13.8 3.7 0l1.1 13.1-2.2 4.3z"/>
<path class="ga" d="M1535.7 594.3l1.2-17.3q2.3-15.3 3.6 0l.2 17.3-2.1 9.9z"/>
<path class="gc" d="M1495.2 594.5l1.2-22.2q3-21.4 6 0l1.1 22.2-3.5 10z"/>
<path class="ga" d="M1554.9 594.9l.6-25.6q2.4-25.8 5.8 0l1.6 25.6-3.4 10z"/>
<path class="gc" d="M1554.4 593.4l.2-18.7q1.2-19.1 3.3 0l1.1 18.7-2 6.8z"/>
<path class="gc" d="M1606.8 594.3l.5-21.7q1.6-22.1 3.5 0l.9 21.7-2.1 8.1z"/>
<path class="ga" d="M1601.9 593.4l1-17.9q2.5-18.7 4.9 0l.9 17.9-2.9 5.9z"/>
<path class="gf" d="M1449.1 594l1.6-21q3.6-22.1 6.5 0l1 21-3.9 6.7z"/>
<path class="ga" d="M1473.3 593.1l.5-21.3q2-24.1 4.9 0l1.4 21.3-2.9 4.5z"/>
<path class="gc" d="M1496.8 595.8l1-22.5q2.7-22.2 5.7 0l1.2 22.5-3.4 9.4z"/>
<path class="gd" d="M1560.1 593.8l.7-25.6q2.2-28.7 5 0l1.2 25.6-3 5.6z"/>
<path class="ga" d="M1616.3 594.1l.8-21.1q2.1-22.8 4.4 0l1 21.1-2.6 6z"/>
<path class="ga" d="M1478.5 593.9l1.4-12.6q2.9-12.5 4.9 0l.5 12.6-2.9 5.1z"/>
<path class="ga" d="M1601 594.4l.6-15.7q2.4-15.8 5.9 0l1.7 15.7-3.5 6z"/>
<path class="gc" d="M1579.8 595l.9-21.2q2.2-22.3 4.4 0l.8 21.2-2.6 6.8z"/>
<path class="ga" d="M1561 594.1l.7-30.2q2.3-35.4 5.1 0l1.3 30.2-3 4.5z"/>
<path class="gc" d="M1610.4 594.3l1-14q1.9-14.4 3.1 0l.2 14-1.8 4.8z"/>
<path class="gc" d="M1574.7 595.4l.5-17.1q1.7-17.4 4.1 0l1.1 17.1-2.4 6.3z"/>
<path class="ga" d="M1496.4 596.1l.7-25.8q2.5-27.9 5.9 0l1.6 25.8-3.5 7.1z"/>
<path class="ga" d="M1500.7 597.3l.9-19.1q2.5-18.5 5 0l1 19.1-3 8.5z"/>
<path class="ga" d="M1462.3 595.5l1.4-16.3q3.1-17.2 5.8 0l.9 16.3-3.4 5.1z"/>
<path class="gc" d="M1555.4 595.8l.9-26.1q2.2-29.7 4.4 0l.8 26.1-2.6 5.2z"/>
<path class="gf" d="M1519.3 596.6l.7-20.9q2.3-22.3 5.1 0l1.2 20.9-3 6.3z"/>
<path class="gf" d="M1541.5 597.2l1.5-22.8q3.3-24 6.1 0l.9 22.8-3.6 7.3z"/>
<path class="gb" d="M1533 598.5l1-19.5q2.2-18.2 4.1 0l.6 19.5-2.4 9.6z"/>
<path class="ga" d="M1470.9 597l.6-25.8q2.1-28.4 5 0l1.4 25.8-3 6.5z"/>
<path class="ga" d="M1531 597.1l1.2-16.1q2.7-16.2 4.9 0l.7 16.1-2.9 6.4z"/>
<path class="gc" d="M1517.4 597.6l1-17.2q2.6-17.4 5.4 0l1.1 17.2-3.2 6.6z"/>
<path class="gc" d="M1485.7 597.7l1.8-27.6q3.9-30.6 6.6 0l.7 27.6-3.9 6.7z"/>
<path class="ga" d="M1546.6 598.6l.7-27.8q2.1-30.2 4.6 0l1.1 27.8-2.7 7.6z"/>
<path class="gd" d="M1474.5 597.9l.2-14.1q1.4-13.7 3.8 0l1.3 14.1-2.3 6.2z"/>
<path class="gc" d="M1557 598.2l.4-31.8q1.4-36.6 3.2 0l.8 31.8-1.9 5.7z"/>
<path class="gd" d="M1602.6 600.7l1.1-20.4q2.3-19.3 3.8 0l.3 20.4-2.2 9.6z"/>
<path class="ga" d="M1612.5 598.1l.5-17.9q1.8-19.5 4.2 0l1.1 17.9-2.5 4.8z"/>
<path class="gd" d="M1578.2 600l.8-24q2.5-25.1 5.5 0l1.3 24-3.2 8z"/>
<path class="ga" d="M1480.3 600.5l.7-15.3q1.8-13.5 3.8 0l.8 15.3-2.2 8.8z"/>
<path class="ga" d="M1489.8 600.7l1.2-28.2q3-29.6 5.9 0l1.1 28.2-3.5 9.2z"/>
<path class="gc" d="M1454.1 598.8l1.8-20.4q3.7-22.2 6.2 0l.6 20.4-3.7 5.6z"/>
<path class="ga" d="M1515.7 598.5l.8-13.6q2.6-14 5.9 0l1.5 13.6-3.5 4.8z"/>
<path class="gb" d="M1565 598.1l2.2-24.1q5.8-28 11.5 0l2.2 24.1-6.8 3.9z"/>
<path class="ga" d="M1596.5 601l1-22.9q2.5-22.8 4.9 0l.9 22.9-2.9 9.1z"/>
<path class="gc" d="M1587.1 599.1l1.1-17.4q2.8-18.6 5.7 0l1.1 17.4-3.4 5.1z"/>
<path class="gc" d="M1470.5 602.4l.1-24.5q1.1-24.3 3.4 0l1.2 24.5-2 10z"/>
<path class="gf" d="M1581.8 602.2l1-17q3-15.1 6.2 0l1.4 17-3.7 9.5z"/>
<path class="gd" d="M1502.5 600.3l1-19.6q2.3-21.5 4.2 0l.6 19.6-2.5 5z"/>
<path class="ga" d="M1481.3 602.1l.9-22.5q2.2-23 4.4 0l.8 22.5-2.6 8.3z"/>
<path class="ga" d="M1496.4 601.9l1.5-17q3.1-16.3 5.4 0l.6 17-3.2 7.8z"/>
<path class="gd" d="M1592 602.8l1.5-26.7q3.5-27.8 6.8 0l1.2 26.7-4 8.9z"/>
<path class="gb" d="M1561 600.1l1.7-21.9q4.3-25.2 8.6 0l1.7 21.9-5.1 3.9z"/>
<path class="gb" d="M1574 600.1l1.7-20.8q4.3-23.8 8.6 0l1.7 20.8-5.1 3.9z"/>
<path class="ga" d="M1583.2 603.2l1-24.2q3-24.6 6.4 0l1.4 24.2-3.8 9.1z"/>
<path class="gc" d="M1555 601.6l1.1-14.7q2.6-14.6 5.2 0l.9 14.7-3 6z"/>
<path class="gf" d="M1558.1 604.2l.6-16.4q1.7-14.5 3.7 0l.8 16.4-2.2 9.3z"/>
<path class="ga" d="M1569.8 604l1.6-16.9q3.3-15.7 5.6 0l.6 16.9-3.3 8.5z"/>
<path class="gd" d="M1594.4 605.2l1.3-16.4q2.5-14.3 3.7 0l.1 16.4-2.2 9.6z"/>
<path class="gc" d="M1520 605.1l1-20.8q2.9-20.1 6.3 0l1.5 20.8-3.7 9.3z"/>
<path class="gc" d="M1552.5 605.2l.6-22.2q2.1-22.5 5 0l1.4 22.2-3 8.5z"/>
<path class="gf" d="M1565.5 605.5l1.1-18.5q2.5-17.9 4.7 0l.8 18.5-2.8 8.3z"/>
<path class="gc" d="M1493.6 606.7l1.2-15.9q2.7-13.2 4.9 0l.7 15.9-2.9 10.4z"/>
<path class="ga" d="M1532.8 605.3l1.3-17.9q2.8-17.7 4.7 0l.5 17.9-2.8 7.4z"/>
<path class="ga" d="M1542.5 605.8l1.7-21.9q3.5-22.3 6 0l.6 21.9-3.5 8.1z"/>
<path class="gf" d="M1544.3 605.6l1.2-23.9q2.5-25.5 4.4 0l.5 23.9-2.6 7z"/>
<path class="gc" d="M1595.6 606.3l1.1-26.9q2.9-28.8 5.8 0l1.1 26.9-3.4 7.9z"/>
<path class="ga" d="M1479.1 607.2l1.5-33.7q3.3-36.6 5.9 0l.8 33.7-3.5 9.3z"/>
<path class="gd" d="M1483.9 608.2l.9-15.8q3-13 6.7 0l1.7 15.8-3.9 10.4z"/>
<path class="gc" d="M1598.7 608.2l1-28.8q2.8-29.8 5.7 0l1.2 28.8-3.4 10z"/>
<path class="ga" d="M1502.9 605.6l1.8-21.1q3.8-23.4 6.7 0l.8 21.1-3.9 5z"/>
<path class="ga" d="M1586.6 605.9l.8-22.6q2.6-25 5.7 0l1.4 22.6-3.4 5.3z"/>
<path class="ga" d="M1586.7 605.5l.3-15.4q1.3-16.6 3.4 0l1 15.4-2 4.5z"/>
<path class="ga" d="M1498 607.7l1-16.9q2.4-15.8 4.6 0l.8 16.9-2.7 8.4z"/>
<path class="ga" d="M1505.1 607.7l.8-17.8q2.3-17 5 0l1.1 17.8-2.9 8.1z"/>
<path class="gc" d="M1530.6 608.6l.6-19q2.2-17.6 5.2 0l1.4 19-3.1 9.6z"/>
<path class="ga" d="M1568.5 609.1l1.3-20.4q3-18.7 5.6 0l.8 20.4-3.3 10.5z"/>
<path class="gd" d="M1587.4 608.6l1-20.5q3.1-20.3 6.7 0l1.6 20.5-4 8.5z"/>
<path class="ga" d="M1523.3 608.5l.9-23.8q1.9-24.6 3.4 0l.5 23.8-2 8.4z"/>
<path class="ga" d="M1527.6 609.2l1.2-17.7q2.4-16.1 3.8 0l.2 17.7-2.2 9.4z"/>
<path class="ga" d="M1484.2 609.7l1-17q2.2-15 4.1 0l.6 17-2.4 9.7z"/>
<path class="gf" d="M1577.1 608.4l1.1-22.4q3-23.7 5.9 0l1.2 22.4-3.5 6.9z"/>
<path class="gb" d="M1609.6 607l.9-13.4q1.9-14.2 3.3 0l.4 13.4-2 4.3z"/>
<path class="gc" d="M1512.3 609.6l1.2-15.1q2.1-13.2 3.2 0l.1 15.1-1.9 8.9z"/>
<path class="ga" d="M1583.1 608.1l1-12.6q3-12.7 6.5 0l1.5 12.6-3.8 4.8z"/>
<path class="ga" d="M1505.8 609.1l1.4-25.9q3.4-29 6.5 0l1.1 25.9-3.8 5.8z"/>
<path class="ga" d="M1609.2 610.4l.7-25.9q2.2-27.5 5.1 0l1.3 25.9-3 7.9z"/>
<path class="ga" d="M1579.9 610.1l.9-23.3q2-25.2 3.5 0l.4 23.3-2.1 6.4z"/>
<path class="gf" d="M1509 611.2l1.5-30.6q3.5-33.1 6.7 0l1.1 30.6-3.9 8.5z"/>
<path class="ga" d="M1595.5 611.7l1.2-26q2.2-27.8 3.4 0l.1 26-2 7.8z"/>
<path class="gf" d="M1591.6 611.9l1.2-22.5q3-23 5.9 0l1.1 22.5-3.5 8.2z"/>
<path class="gf" d="M1579.4 613.3l1.4-21.4q3.2-20.5 5.9 0l1 21.4-3.5 9.8z"/>
<path class="gc" d="M1587 613.1l.6-17.7q2.5-16.2 6.1 0l1.8 17.7-3.6 9.2z"/>
<path class="gc" d="M1600.3 612.3l1.2-17.8q2.9-17.4 5.6 0l1 17.8-3.3 7.6z"/>
<path class="gc" d="M1594.2 613.1l1-21.7q2.2-21.5 3.8 0l.5 21.7-2.3 8.8z"/>
<path class="gc" d="M1491.1 613.1l.7-27.2q2.5-29.4 5.8 0l1.5 27.2-3.4 7.7z"/>
<path class="gc" d="M1519.2 614.3l1.4-22.7q2.9-23 4.9 0l.5 22.7-2.9 8.7z"/>
<path class="gd" d="M1584.4 612.9l1.2-26.1q2.4-29.4 3.8 0l.3 26.1-2.2 5.6z"/>
<path class="gc" d="M1586.7 613.9l1.2-19q2.2-19 3.3 0l.1 19-2 7.5z"/>
<path class="gc" d="M1565.9 614.3l1.3-20.9q2.5-21.1 4 0l.2 20.9-2.4 8z"/>
<path class="gc" d="M1518.6 614.3l.3-24.7q1.7-26.7 4.4 0l1.4 24.7-2.6 6.9z"/>
<path class="ga" d="M1600.7 615.9l.5-22.5q1.6-22.2 3.6 0l1 22.5-2.1 9.5z"/>
<path class="gf" d="M1516.1 616.4l.4-23.4q1.7-23.7 4.3 0l1.3 23.4-2.6 8.9z"/>
<path class="gd" d="M1504 617.1l.9-18.4q2.9-16.7 6.7 0l1.7 18.4-3.9 9.8z"/>
<path class="gc" d="M1522.6 617.2l1.9-25.8q4-26.2 6.9 0l.8 25.8-4.1 9.7z"/>
<path class="ga" d="M1504.4 615l1.4-26.8q3-30.4 5.2 0l.7 26.8-3.1 5.4z"/>
<path class="ga" d="M1545.9 617.1l1.4-27.9q2.8-29.1 4.6 0l.4 27.9-2.7 9.3z"/>
<path class="ga" d="M1519.9 616.7l1.3-16.3q2.7-14.9 4.5 0l.4 16.3-2.6 8.4z"/>
<path class="gc" d="M1572.8 615.6l.8-18.9q2.7-20.3 6.4 0l1.7 18.9-3.8 5.5z"/>
<path class="gd" d="M1577 615.6l1.4-23.4q3.4-26.2 6.4 0l1 23.4-3.8 5.3z"/>
<path class="gd" d="M1576.3 617.9l.4-22.8q1.4-23.2 3.2 0l.8 22.8-1.9 8.6z"/>
<path class="gd" d="M1505.9 616.2l.9-13.7q2.6-14.1 5.5 0l1.3 13.7-3.3 4.9z"/>
<path class="gc" d="M1558.5 619.9l1.5-17.9q3.6-15.8 6.8 0l1.2 17.9-4 10.2z"/>
<path class="gc" d="M1579 617.9l.5-21.6q1.8-23.2 4.5 0l1.3 21.6-2.6 6.2z"/>
<path class="ga" d="M1513.1 618.7l.7-15.6q2-15.9 4.1 0l.8 15.6-2.4 5.7z"/>
<path class="gc" d="M1555.8 621.8l1.5-28.1q3.5-28.6 6.2 0l.9 28.1-3.7 10.5z"/>
<path class="gd" d="M1511.2 621.5l1.1-21.7q3-22.6 6.3 0l1.3 21.7-3.7 7.3z"/>
<path class="gc" d="M1593.6 622.1l1.2-28.7q3.2-30.9 6.8 0l1.5 28.7-4 8.1z"/>
<path class="ga" d="M1520.1 622.7l1.6-23.3q3.7-23.4 6.9 0l1.1 23.3-4.1 9.2z"/>
<path class="gc" d="M1580.1 623.6l1.2-16.6q2.4-14.3 3.9 0l.3 16.6-2.3 10z"/>
<path class="ga" d="M1573.8 623.5l.8-19.2q2.3-18.5 4.7 0l1 19.2-2.8 8.6z"/>
<path class="ga" d="M1558.5 623.4l1.7-22.2q3.6-22.5 6.2 0l.7 22.2-3.7 8.4z"/>
<path class="gc" d="M1518.9 624.7l1.1-26.7q2.8-27 5.6 0l1.1 26.7-3.3 10.2z"/>
<path class="gd" d="M1585.7 621.7l.7-18.5q2.5-20.4 6.2 0l1.7 18.5-3.6 4.5z"/>
<path class="ga" d="M1542.3 624.8l1-21.5q2.7-20.4 5.6 0l1.2 21.5-3.3 10.2z"/>
<path class="ga" d="M1521 622.7l1.5-21.9q3.1-24 5 0l.4 21.9-3 5.8z"/>
<path class="gc" d="M1540.4 623.5l.7-23.2q2.1-24.8 4.7 0l1.2 23.2-2.8 6.8z"/>
<path class="gd" d="M1588.8 623.6l1.1-23.4q2.6-25.5 5 0l.9 23.4-3 6.3z"/>
<path class="ga" d="M1528.5 626.3l1-20.3q2.4-19.9 4.5 0l.7 20.3-2.6 8.6z"/>
<path class="gd" d="M1585.1 625.1l.3-20.8q1.7-22.4 4.4 0l1.4 20.8-2.6 5.9z"/>
<path class="gd" d="M1585.6 625.6l.8-22.1q2.9-24.8 6.8 0l1.8 22.1-4 4.8z"/>
<path class="gb" d="M1547.6 628.9l1.6-19.4q3.4-19.8 5.8 0l.6 19.4-3.4 7.3z"/>
<path class="ga" d="M1551 631.7l1.5-22.9q3-22.3 5 0l.5 22.9-2.9 9.9z"/>
<path class="gf" d="M1537.7 632.4l1.3-27.3q3.1-27.9 6.1 0l1.1 27.3-3.6 10z"/>
<path class="gc" d="M1578 633.2l1-19.5q2.6-17.4 5.3 0l1 19.5-3.1 10.9z"/>
<path class="ge" d="M1567.4 631.2l.3-14.7q1.6-14.7 4.2 0l1.3 14.7-2.5 5.8z"/>
<path class="gd" d="M1536 630.6l1.6-18.4q3.3-20.2 5.5 0l.5 18.4-3.2 4.6z"/>
<path class="ga" d="M1555.1 632.1l1.2-20.6q2.5-22.7 4.3 0l.5 20.6-2.5 5.1z"/>
<path class="ga" d="M1546.1 635.1l1.5-29.2q3.5-30.2 6.7 0l1.2 29.2-4 10.1z"/>
<path class="gd" d="M1571.2 633.7l1.5-19.7q3.3-20.5 5.9 0l.8 19.7-3.5 6.7z"/>
<path class="gd" d="M1559.3 634.8l.7-21.4q1.9-21.1 4.2 0l1 21.4-2.5 8.8z"/>
<path class="gd" d="M1551.5 636.9l1.4-17q3.2-14.7 5.9 0l.8 17-3.5 10.1z"/>
<path class="gc" d="M1575 636.1l1.2-24.4q3-26.2 5.9 0l1 24.4-3.5 7.2z"/>
<path class="gc" d="M1574.6 639.4l1-25.1q2.7-24.8 5.7 0l1.2 25.1-3.3 10.3z"/>
<path class="gf" d="M1569.7 640.1l1.8-25.4q3.8-25 6.5 0l.7 25.4-3.8 10.6z"/>
</g>
<path d="M1347.9,519.8 L1357.4,576 L1573,664.2 L1687.6,554" fill="none" stroke="#5c5c60" stroke-width="2.2" stroke-linejoin="round"/>
<text transform="translate(1300.61,523.75) scale(1.2685,1)" font-size="13.57" fill="#4a4a4a" filter="url(#bl)">118n</text>
<text transform="translate(1304.22,583.55) scale(1.2749,1)" font-size="13.57" fill="#4a4a4a" filter="url(#bl)">-104n</text>
<text transform="translate(1395.46,648.60) scale(1.2232,1)" font-size="14.29" fill="#4a4a4a" filter="url(#bl)">X* 10µm</text>
<text transform="translate(1643.97,629.20) scale(1.2131,1)" font-size="14.29" fill="#4a4a4a" filter="url(#bl)">Y* 10µn</text>
<text transform="translate(1577.42,409.80) scale(0.9917,1)" font-size="32.17" font-weight="bold" fill="#000">7 nm</text>
<text transform="rotate(-90) translate(-599.52,1773.50) scale(0.9465,1)" font-size="16.14" fill="#333" filter="url(#bl)">Line fit 222nm</text>
<text transform="translate(1808.40,563.00) scale(0.8054,1)" font-size="32.46" font-weight="bold" fill="#000">R</text>
<text transform="translate(1827.31,564.80) scale(0.9867,1)" font-size="16.67" font-weight="bold" fill="#000">a</text>
<text transform="translate(1837.75,563.00) scale(0.9562,1)" font-size="32.57" font-weight="bold" fill="#000">=34.4nm</text>
<rect x="1298.8" y="749.5" width="399.5" height="349.5" rx="3" fill="none" stroke="#6e6e6e" stroke-width="2.4" filter="url(#fb)"/>
<rect x="1724.9" y="748.6" width="20.09999999999991" height="351.1" fill="url(#cb)"/><path d="M1725.4,1099.7 V749.1 H1744.5 V1099.7" fill="none" stroke="#2e2a28" stroke-width="1.2" stroke-opacity="0.8"/>
<path d="M1351.6,895.1 L1500.7,833.5 L1501,880 L1360.2,951.3 Z" fill="url(#wl)"/>
<path d="M1500.7,833.5 L1691.9,875.6 L1682.2,927.5 L1501,880 Z" fill="url(#wr)"/>
<path d="M1352.7,902.1 L1500.7,839.3 L1690.7,882.1 M1353.8,909.1 L1500.8,845.1 L1689.5,888.6 M1354.8,916.2 L1500.8,850.9 L1688.3,895.1 M1355.9,923.2 L1500.8,856.8 L1687.1,901.5 M1357.0,930.2 L1500.9,862.6 L1685.8,908.0 M1358.0,937.2 L1500.9,868.4 L1684.6,914.5 M1359.1,944.3 L1501.0,874.2 L1683.4,921.0 M1370.2,887.4 L1377.8,942.4 M1524.6,838.8 L1523.7,885.9 M1388.9,879.7 L1395.4,933.5 M1548.5,844.0 L1546.3,891.9 M1407.5,872.0 L1413.0,924.6 M1572.4,849.3 L1569.0,897.8 M1426.2,864.3 L1430.6,915.6 M1596.3,854.5 L1591.6,903.8 M1444.8,856.6 L1448.2,906.7 M1620.2,859.8 L1614.2,909.7 M1463.4,848.9 L1465.8,897.8 M1644.1,865.1 L1636.9,915.6 M1482.1,841.2 L1483.4,888.9 M1668.0,870.3 L1659.5,921.6" fill="none" stroke="#c9ccd6" stroke-width="0.8" opacity="0.8"/>
<path d="M1351.6,895.1 L1500.7,833.5 L1691.9,875.6" fill="none" stroke="#d4d6dc" stroke-width="1.2"/>
<path d="M1360.2,951.3 L1569.8,1036.6 L1682.2,927.5 L1501,880 Z" fill="url(#fl)"/>
<g filter="url(#tb)">
<path d="M1357.0 930.5L1360.5 925.3L1364.0 923.4L1367.5 920.5L1371.0 917.0L1374.0 918.8L1377.0 921.9L1380.0 923.9L1383.0 927.1L1386.6 923.4L1390.2 922.7L1393.8 920.1L1397.4 916.7L1401.0 914.6L1404.6 913.3L1408.2 910.0L1411.8 909.2L1415.4 906.8L1419.0 904.0L1422.5 899.0L1426.0 896.2L1429.5 894.1L1433.0 891.6L1437.0 894.3L1441.0 896.3L1445.0 897.2L1448.0 893.9L1451.0 890.2L1454.0 885.1L1457.0 883.1L1462.0 882.8L1467.0 884.1L1472.0 883.5L1475.3 882.5L1478.7 880.2L1482.0 874.7L1486.5 875.2L1491.0 872.6L1495.5 872.6L1500.0 871.0L1504.0 873.9L1508.0 874.3L1512.0 875.6L1516.0 874.4L1520.0 876.7L1524.0 877.4L1528.0 877.6L1532.0 879.6L1536.0 879.6L1540.0 879.3L1544.0 881.3L1548.0 881.2L1552.0 881.0L1556.0 882.8L1560.0 881.7L1564.0 883.5L1568.0 884.5L1572.0 883.4L1576.0 886.0L1580.0 884.9L1584.0 887.2L1588.0 886.9L1592.0 886.6L1596.0 890.6L1600.0 888.9L1604.0 890.2L1608.0 892.4L1612.0 892.7L1616.0 894.6L1620.0 895.6L1624.0 897.0L1628.0 897.9L1632.0 898.3L1636.0 899.1L1640.2 901.2L1644.4 901.0L1648.6 901.9L1652.8 903.6L1657.0 901.5L1660.0 898.7L1663.0 895.9L1666.0 890.7L1669.3 895.8L1672.7 897.7L1676.0 900.4L1679.0 896.1L1682.0 894.4L1685.0 887.6L1687.5 894.0L1690.0 897.0L1690.0 916.2L1688.2 920.4L1686.4 922.2L1684.6 923.1L1682.8 927.3L1681.0 932.5L1678.6 929.1L1676.2 935.9L1673.8 936.7L1671.4 935.8L1669.0 942.3L1666.6 940.2L1664.2 940.3L1661.8 943.8L1659.4 947.2L1657.0 946.2L1654.9 951.7L1652.7 953.0L1650.6 954.4L1648.4 959.1L1646.3 960.4L1644.1 964.6L1642.0 966.2L1639.9 968.3L1637.7 970.9L1635.6 972.5L1633.4 972.5L1631.3 972.1L1629.1 976.5L1627.0 979.7L1623.8 983.1L1620.5 982.4L1617.2 983.2L1614.0 981.5L1611.1 986.3L1608.3 984.0L1605.4 986.1L1602.5 986.9L1599.7 992.4L1596.8 995.0L1593.9 994.4L1591.1 992.7L1588.2 998.0L1585.3 996.0L1582.5 1000.7L1579.6 1001.9L1576.7 1004.9L1573.9 1001.6L1571.0 1003.4L1568.0 1004.9L1565.0 1004.5L1562.0 1010.7L1559.0 1009.7L1556.0 1007.6L1553.0 1010.9L1550.0 1009.6L1546.8 1015.2L1543.6 1012.0L1540.4 1010.2L1537.2 1015.0L1534.0 1013.0L1531.2 1013.6L1528.4 1013.1L1525.6 1007.5L1522.8 1009.1L1520.0 1010.2L1517.2 1004.6L1514.4 1003.4L1511.6 1004.6L1508.8 999.6L1506.0 1002.9L1503.3 1001.1L1500.7 1000.3L1498.0 998.0L1495.3 994.8L1492.7 992.4L1490.0 991.2L1487.3 990.1L1484.7 990.5L1482.0 983.9L1478.7 985.0L1475.3 983.7L1472.0 981.5L1468.7 980.0L1465.3 982.7L1462.0 980.5L1459.0 979.8L1456.0 976.0L1453.0 976.0L1450.0 972.8L1447.0 971.5L1444.0 970.1L1441.0 971.9L1438.1 971.9L1435.3 969.1L1432.4 969.3L1429.6 963.9L1426.7 965.4L1423.9 962.0L1421.0 963.1L1419.3 958.7L1417.7 955.9L1416.0 957.0L1414.3 952.0L1412.7 947.3L1411.0 945.9L1407.7 945.2L1404.3 948.8L1401.0 946.9L1397.7 950.1L1394.3 949.1L1391.0 949.9L1387.9 948.9L1384.8 947.9L1381.7 944.0L1378.6 947.5L1375.5 945.7L1372.4 942.5L1369.3 943.4L1366.2 945.3L1363.1 942.7L1360.0 941.0z" fill="#8a440a"/>
<path class="ga" d="M1474 889.4l.8-7.5q2.2-7.8 4.3 0l.8 7.5-2.5 2.6z"/>
<path class="ga" d="M1477.2 889.4l.8-11.4q2.2-12.8 4.3 0l.8 11.4-2.5 2.6z"/>
<path class="ga" d="M1480.4 889.4l.8-15.3q2.2-17.7 4.3 0l.8 15.3-2.5 2.6z"/>
<path class="ga" d="M1483.6 889.4l.8-19.2q2.2-22.7 4.3 0l.8 19.2-2.5 2.6z"/>
<path class="ga" d="M1486.8 889.4l.8-23.2q2.2-27.7 4.3 0l.8 23.2-2.5 2.6z"/>
<path class="ga" d="M1490 889.4l.8-21.9q2.2-26.1 4.3 0l.8 21.9-2.5 2.6z"/>
<path class="ga" d="M1493.2 889.4l.8-17.6q2.2-20.7 4.3 0l.8 17.6-2.5 2.6z"/>
<path class="gc" d="M1496.4 889.4l.8-13.3q2.2-15.2 4.3 0l.8 13.3-2.5 2.6z"/>
<path class="gc" d="M1499.6 889.4l.8-13.6q2.2-15.5 4.3 0l.8 13.6-2.5 2.6z"/>
<path class="ga" d="M1502.8 889.4l.8-14.8q2.2-17.1 4.3 0l.8 14.8-2.5 2.6z"/>
<path class="ga" d="M1506 889.4l.8-16.1q2.2-18.7 4.3 0l.8 16.1-2.5 2.6z"/>
<path class="ga" d="M1509.2 889.4l.8-11q2.2-12.2 4.3 0l.8 11-2.5 2.6z"/>
<path class="gc" d="M1492.8 884.6l1.4-4.3q3.5-2.6 6.8 0l1.3 4.3-4 4.2z"/>
<path class="gc" d="M1490.4 883.8l2.2-5.2q4.8-5.5 8.8 0l1.2 5.2-5.2 1.8z"/>
<path class="gf" d="M1514.5 884.1l1.3-3.6q3.3-3.1 6.6 0l1.3 3.6-3.9 2.2z"/>
<path class="gf" d="M1500.8 885.5l1.2-6.2q2.6-5 4.8 0l.7 6.2-2.8 4.2z"/>
<path class="ga" d="M1526.9 889.3l1.2-6.2q2.9-5.4 5.7 0l1 6.2-3.4 3.6z"/>
<path class="gf" d="M1534.2 889l1.2-3.5q3.6-2.4 7.8 0l1.8 3.5-4.6 2.9z"/>
<path class="gc" d="M1540.6 889.9l1-6.2q2.8-5.6 5.7 0l1.2 6.2-3.4 3.3z"/>
<path class="ga" d="M1516.2 889.8l1-4.5q2.4-4.2 4.5 0l.8 4.5-2.6 2.3z"/>
<path class="gc" d="M1537.7 891.8l.9-6.2q2.2-4.7 4.2 0l.7 6.2-2.5 4.6z"/>
<path class="gf" d="M1484.9 892l1.5-4.1q4-2.2 8.3 0l1.7 4.1-4.9 4.5z"/>
<path class="ga" d="M1538.1 891.1l1.7-3.1q4.1-2.1 7.9 0l1.4 3.1-4.7 2.6z"/>
<path class="gc" d="M1516.3 892.4l.3-6.5q1.5-5.4 4 0l1.3 6.5-2.4 4.1z"/>
<path class="gc" d="M1538.6 892.2l1.7-4.9q3.6-3.7 6.2 0l.7 4.9-3.6 3.6z"/>
<path class="gf" d="M1484.3 893.6l.6-4.8q2.2-4.3 5.3 0l1.4 4.8-3.1 2.6z"/>
<path d="M1534.5 896L1534.5 849Q1535 842 1541 841.5L1566 845Q1571 847 1583 891L1583 898z" fill="url(#ga)"/>
<path class="gf" d="M1571.5 894.9l.8-4.7q2.6-3.2 5.8 0l1.4 4.7-3.4 4z"/>
<path class="gf" d="M1534.3 896.4l.9-33.8q2.3-41.2 4.6 0l.9 33.8-2.7 2.6z"/>
<path class="gf" d="M1537.8 896.4l.9-33.8q2.3-41.2 4.6 0l.9 33.8-2.7 2.6z"/>
<path class="gd" d="M1541.3 896.4l.9-33.8q2.3-41.2 4.6 0l.9 33.8-2.7 2.6z"/>
<path class="gd" d="M1544.8 896.4l.9-33.8q2.3-41.2 4.6 0l.9 33.8-2.7 2.6z"/>
<path class="gd" d="M1548.3 896.4l.9-31.6q2.3-38.5 4.6 0l.9 31.6-2.7 2.6z"/>
<path class="gd" d="M1551.8 896.4l.9-31.6q2.3-38.5 4.6 0l.9 31.6-2.7 2.6z"/>
<path class="gg" d="M1555.3 896.4l.9-31.6q2.3-38.5 4.6 0l.9 31.6-2.7 2.6z"/>
<path class="gg" d="M1558.8 896.4l.9-31.6q2.3-38.5 4.6 0l.9 31.6-2.7 2.6z"/>
<path class="gg" d="M1562.3 896.4l.9-31.6q2.3-38.5 4.6 0l.9 31.6-2.7 2.6z"/>
<path class="ga" d="M1565.8 896.4l.9-29.8q2.3-36.2 4.6 0l.9 29.8-2.7 2.6z"/>
<path class="ga" d="M1569.3 896.4l.9-23.5q2.3-28.1 4.6 0l.9 23.5-2.7 2.6z"/>
<path class="ga" d="M1572.8 896.4l.9-17.1q2.3-20 4.6 0l.9 17.1-2.7 2.6z"/>
<path class="ga" d="M1576.3 896.4l.9-10.8q2.3-12 4.6 0l.9 10.8-2.7 2.6z"/>
<path class="gd" d="M1503.2 895.2l1.2-3.9q2.8-2.9 5.1 0l.8 3.9-3 3.1z"/>
<path class="gf" d="M1465.6 896.2l1.9-4.5q4-2.7 7 0l.9 4.5-4.1 4.6z"/>
<path class="gf" d="M1566.7 897l2.1-4.5q4.7-3.5 8.5 0l1.2 4.5-5 3.2z"/>
<path class="gc" d="M1490.8 897.6l1.1-5.3q3.4-4.5 7.5 0l1.9 5.3-4.4 3.4z"/>
<path class="gd" d="M1506.5 897.5l.7-4.4q2.7-4 6.4 0l1.8 4.4-3.8 2.4z"/>
<path class="gf" d="M1513.8 897.9l1.4-3.4q2.9-2.6 4.8 0l.5 3.4-2.8 2.5z"/>
<path class="ga" d="M1484.1 899l1.6-5.4q3.3-4.7 5.6 0l.6 5.4-3.3 3.1z"/>
<path class="gc" d="M1554 899.1l.9-4.6q3.2-4.3 7.4 0l2 4.6-4.4 2.2z"/>
<path class="gf" d="M1527.1 899.5l1.1-4.1q2.5-3.4 4.6 0l.7 4.1-2.7 2.6z"/>
<path class="gf" d="M1546.6 900.2l1.1-5.5q3.6-4.5 8.2 0l2.1 5.5-4.9 3.7z"/>
<path class="gc" d="M1515.6 900.6l1.8-5.8q4.5-4.6 8.9 0l1.7 5.8-5.2 4.1z"/>
<path class="gc" d="M1595.1 900.8l1.6-4.3q3.8-3.2 7.1 0l1.2 4.3-4.2 3.3z"/>
<path class="gf" d="M1477.6 901.2l2.1-5.6q4.9-4.5 9.3 0l1.5 5.6-5.5 3.9z"/>
<path class="gc" d="M1522.8 901.6l1.1-5.8q3.2-4.3 7 0l1.6 5.8-4.1 4.5z"/>
<path class="gf" d="M1599.7 900.6l1.1-3.3q2.8-2.5 5.7 0l1.1 3.3-3.4 2.5z"/>
<path class="gf" d="M1450.3 901.1l1.7-3.9q3.7-3.5 6.7 0l.9 3.9-3.9 2z"/>
<path class="ga" d="M1454 902l1.4-4.2q3.4-2.9 6.8 0l1.3 4.2-4 3.6z"/>
<path class="ga" d="M1547.5 902.1l1.8-6.4q4.3-5.7 8.2 0l1.4 6.4-4.8 3.7z"/>
<path class="gf" d="M1522.2 901.6l1.1-5.3q2.9-4.9 6 0l1.2 5.3-3.5 2.7z"/>
<path class="ga" d="M1456.5 902.1l1.6-8.2q4.4-8.2 9.2 0l2 8.2-5.4 3.2z"/>
<path class="gf" d="M1591.1 902.6l2.3-4.1q4.9-2.4 8.6 0l1.1 4.1-5.1 4z"/>
<path class="gc" d="M1622.7 902.3l1.4-3.6q3-2.4 5.2 0l.6 3.6-3 3.2z"/>
<path class="gf" d="M1516.9 902.3l2.1-3.2q4.8-2.1 8.8 0l1.3 3.2-5.2 2.9z"/>
<path class="gc" d="M1547.9 902.3l1.1-3.3q3.6-2.4 8.2 0l2 3.3-4.8 2.6z"/>
<path class="ga" d="M1456.6 903.6l1-10.3q3.2-10 7 0l1.7 10.3-4.1 4.7z"/>
<path class="gc" d="M1491.7 903.2l1.3-6.3q2.7-5.4 4.7 0l.6 6.3-2.8 3.9z"/>
<path class="ga" d="M1466.3 903.5l2-9.2q4.3-9 7.7 0l1 9.2-4.6 4z"/>
<path class="gc" d="M1456.6 902.8l2.3-11.9q5.7-13.5 11 0l2 11.9-6.5 2.5z"/>
<path class="ga" d="M1459.9 903.6l2-12.3q5.9-13.3 12.6 0l2.9 12.3-7.5 3.4z"/>
<path class="gf" d="M1518.2 903.4l.8-6q2.5-5.6 5.5 0l1.3 6-3.3 2.9z"/>
<path class="gf" d="M1609.8 904l1.1-4.7q2.9-4 5.9 0l1.2 4.7-3.5 2.9z"/>
<path class="ga" d="M1459.4 905.4l1.6-16.5q3.8-17.6 7.3 0l1.2 16.5-4.3 5.1z"/>
<path class="gf" d="M1468 903.9l1.6-3.7q3.9-3.2 7.4 0l1.3 3.7-4.4 2.1z"/>
<path class="gf" d="M1588 904.2l.8-3.7q2.6-2.9 5.7 0l1.4 3.7-3.4 2.6z"/>
<path class="gf" d="M1611.3 904l2.2-3.6q5-3.2 9.4 0l1.5 3.6-5.5 1.9z"/>
<path class="ga" d="M1468.2 905l1.3-11.4q3.4-12.1 6.8 0l1.3 11.4-4 3.5z"/>
<path class="gf" d="M1474 905.9l1.2-4.9q3.2-3.7 6.5 0l1.3 4.9-3.8 3.7z"/>
<path class="gf" d="M1484.8 907l1.1-6.6q2.5-5.3 4.6 0l.7 6.6-2.7 4.6z"/>
<path class="gf" d="M1572.7 906.3l1.2-5.7q3.5-5.2 7.6 0l1.8 5.7-4.5 3z"/>
<path class="ga" d="M1473.6 906.1l1.6-5.3q3.8-5.2 7.2 0l1.2 5.3-4.3 2.4z"/>
<path class="gf" d="M1465.6 906.1l1.3-5.3q3.6-5.5 7.8 0l1.8 5.3-4.6 1.9z"/>
<path class="gc" d="M1438.4 907.7l.6-7.1q2.2-5.7 5.2 0l1.4 7.1-3 4.8z"/>
<path class="ga" d="M1470.3 907.5l.8-10.9q2.8-10.9 6.5 0l1.7 10.9-3.8 4.3z"/>
<path class="gf" d="M1516.4 907.3l1.2-3.3q3.5-2 7.7 0l1.8 3.3-4.6 3.2z"/>
<path class="gf" d="M1447 907.1l.7-5.3q2.2-4.7 5 0l1.3 5.3-3 2.9z"/>
<path class="ga" d="M1433.4 907.7l1.3-3.9q2.7-2.3 4.6 0l.5 3.9-2.7 3.9z"/>
<path class="gf" d="M1510.8 908.1l1.3-6.2q3.9-4.9 8.5 0l2 6.2-5 4.3z"/>
<path class="gf" d="M1493 908.4l2-4.7q4.6-2.9 8.4 0l1.3 4.7-5 4.5z"/>
<path class="gc" d="M1585.1 908.6l1.4-5.2q3.9-3.7 8 0l1.7 5.2-4.7 4.4z"/>
<path class="ga" d="M1461.4 907.6l2.2-14.1q5.2-16.2 9.6 0l1.5 14.1-5.7 2.4z"/>
<path class="gf" d="M1556.1 908.4l1.1-6.3q3-5.4 6.3 0l1.4 6.3-3.7 3.9z"/>
<path class="gf" d="M1476.3 908.2l.8-3.7q2.4-2.7 5.3 0l1.2 3.7-3.1 2.9z"/>
<path class="gc" d="M1526 908.6l2-6q4.6-5.1 8.3 0l1.2 6-4.9 3.6z"/>
<path class="gf" d="M1542.1 908l.9-3.1q3.1-2.4 7.2 0l1.9 3.1-4.3 2.2z"/>
<path class="gf" d="M1452.4 908.2l2.3-3.7q5.2-3.1 9.4 0l1.3 3.7-5.5 2.2z"/>
<path class="gc" d="M1536.5 910.2l1.4-6.9q3.7-5.4 7.7 0l1.6 6.9-4.5 4.9z"/>
<path class="gd" d="M1617.8 909.2l.9-5.9q2.6-5.4 5.7 0l1.3 5.9-3.3 3z"/>
<path class="ga" d="M1449.3 909.7l2-9.6q5.7-9.7 12.2 0l2.8 9.6-7.2 3.6z"/>
<path class="ga" d="M1616.2 909.3l1.7-3.6q3.6-2.6 6.2 0l.7 3.6-3.7 2.9z"/>
<path class="gf" d="M1478.6 909.6l1.2-4.6q3.4-4.2 7.4 0l1.7 4.6-4.4 2.3z"/>
<path class="ga" d="M1463.7 910.2l2.2-9.8q5-10.1 9.4 0l1.5 9.8-5.6 3.4z"/>
<path class="gc" d="M1617.7 910.3l1.2-4.6q3.9-3.7 8.6 0l2.1 4.6-5.1 3.2z"/>
<path class="ga" d="M1472.2 911.3l.9-4.2q2.9-2.2 6.6 0l1.6 4.2-3.9 4.7z"/>
<path class="ga" d="M1462.4 910.9l2.3-9.2q5.9-9.4 11.8 0l2.3 9.2-6.9 3.3z"/>
<path class="gf" d="M1605.2 910.5l1.2-5.1q2.7-4.9 5 0l.8 5.1-2.9 2.4z"/>
<path class="ga" d="M1435.9 910.7l1.2-4.3q3.5-3.7 7.8 0l1.9 4.3-4.6 2.7z"/>
<path class="gf" d="M1543.8 911.9l1.6-7.2q3.8-5.9 7.1 0l1.2 7.2-4.2 4.7z"/>
<path class="gc" d="M1675.2 912l.6-4.8q1.9-2.8 4.1 0l.9 4.8-2.4 4.8z"/>
<path class="gf" d="M1631.1 910.8l1.2-4q3.5-3.5 7.5 0l1.7 4-4.4 2.4z"/>
<path class="ga" d="M1679.1 911l.8-8.9q2.3-9.5 4.8 0l1 8.9-2.8 2.7z"/>
<path class="ga" d="M1476.5 912.2l1.3-5.7q3.4-4 6.9 0l1.3 5.7-4.1 4.8z"/>
<path class="ga" d="M1464.8 912l1.6-6.9q3.8-5.9 7.2 0l1.2 6.9-4.2 4.1z"/>
<path class="gf" d="M1650.7 912l1.3-4.3q3.9-2.9 8.7 0l2.1 4.3-5.2 3.7z"/>
<path class="ga" d="M1685.3 911.5l.9-3.4q2.5-2.6 5.2 0l1.2 3.4-3.1 2.5z"/>
<path class="gf" d="M1562 912.3l.7-4.4q2.6-3 6 0l1.6 4.4-3.5 3.8z"/>
<path class="gf" d="M1637.5 912.8l1.5-7.1q4.3-5.8 9 0l1.9 7.1-5.3 4.7z"/>
<path class="gf" d="M1643.1 911.6l1.1-4.3q2.3-3.9 4.1 0l.5 4.3-2.4 2.3z"/>
<path class="gd" d="M1631.8 913.7l2.3-4.4q5-2.3 8.9 0l1.2 4.4-5.3 4.7z"/>
<path class="ga" d="M1680.1 913.1l.8-12.5q2.7-13.7 6.3 0l1.7 12.5-3.7 3.2z"/>
<path class="ga" d="M1685.1 913.5l.3-6.3q1.5-5.6 3.7 0l1.1 6.3-2.2 3.5z"/>
<path class="ga" d="M1455.9 913l1.2-4.6q2.5-4.3 4.3 0l.5 4.6-2.5 2.3z"/>
<path class="gc" d="M1643.4 913.5l1.8-4.8q3.8-4.2 6.5 0l.7 4.8-3.8 2.7z"/>
<path class="ga" d="M1658.3 914.1l1.8-8.5q4.4-8.4 8.6 0l1.5 8.5-5.1 3.4z"/>
<path class="gd" d="M1555.9 915.1l1.7-6.4q4.3-4.8 8.7 0l1.7 6.4-5.1 4.9z"/>
<path class="gc" d="M1480.6 915.2l.7-5.2q2-3.3 4.5 0l1.1 5.2-2.6 4.7z"/>
<path class="ga" d="M1665.8 914.5l1.2-4.9q3.8-3.9 8.6 0l2.1 4.9-5.1 3.4z"/>
<path class="gf" d="M1480.9 914.6l1.8-3.7q3.9-2.5 6.6 0l.7 3.7-3.9 3.2z"/>
<path class="ga" d="M1680.2 915.4l1-4.4q2.9-2.4 6.3 0l1.5 4.4-3.7 4.6z"/>
<path class="gd" d="M1427.4 914.7l1.6-6.4q4.5-5.8 9.5 0l2.1 6.4-5.6 3.3z"/>
<path class="ga" d="M1428.6 915.3l2.6-10.8q6.4-10.9 12.2 0l2.1 10.8-7.2 4.1z"/>
<path class="gf" d="M1606.9 914.9l1.2-3.3q3.4-2.3 7.2 0l1.6 3.3-4.2 2.7z"/>
<path class="gc" d="M1423.7 915l1.9-11.8q4.6-13.5 8.8 0l1.5 11.8-5.2 2.3z"/>
<path class="gc" d="M1596.7 916l1.3-4.9q2.7-3.4 4.5 0l.4 4.9-2.7 4z"/>
<path class="gc" d="M1665.3 915.6l.6-12.8q2.1-14.1 5 0l1.4 12.8-3 3.1z"/>
<path class="gc" d="M1484.5 915.7l1.9-4q4.7-3 9.3 0l1.7 4-5.5 3.1z"/>
<path class="gd" d="M1664.2 916l1.4-14.2q3.6-15.7 7.3 0l1.5 14.2-4.3 3.5z"/>
<path class="gc" d="M1433.8 915.7l2.6-6.3q6-6.1 11.1 0l1.7 6.3-6.6 2.7z"/>
<path class="gc" d="M1656.3 916.1l1.2-10q3.3-10.5 6.7 0l1.4 10-4 3.3z"/>
<path class="gc" d="M1632.6 915.8l1.1-3.6q3.5-3.1 7.7 0l1.9 3.6-4.6 2.1z"/>
<path class="ga" d="M1661.7 915.9l1-15.3q2.4-18 4.5 0l.7 15.3-2.6 2.2z"/>
<path class="ga" d="M1442.2 917.2l1.4-4q3.5-2.4 6.9 0l1.2 4-4.1 3.9z"/>
<path class="ga" d="M1655 916.7l.4-3.3q1.8-2.2 4.4 0l1.3 3.3-2.6 2.9z"/>
<path class="gd" d="M1499.1 917.2l1.1-4.5q3-3.2 6.3 0l1.4 4.5-3.7 3.7z"/>
<path class="gf" d="M1611.3 917l1.6-4.1q3.4-3.2 6 0l.8 4.1-3.6 2.9z"/>
<path class="gc" d="M1458 917.2l2.1-4.2q4.7-2.9 8.5 0l1.2 4.2-5 3.5z"/>
<path class="gc" d="M1547 916.7l1.1-3.1q2.5-2.3 4.8 0l.8 3.1-2.8 2.5z"/>
<path class="gf" d="M1636.4 917.2l.9-5.5q2.7-4.8 6 0l1.4 5.5-3.6 3.3z"/>
<path class="ga" d="M1591.7 917.2l2.1-5.8q4.9-5.4 9.1 0l1.4 5.8-5.3 2.9z"/>
<path class="gc" d="M1427 918.5l1.8-17.7q4.5-19 9.1 0l1.8 17.7-5.4 5.2z"/>
<path class="gf" d="M1632.2 917.7l1.4-5.9q3.3-5.2 6.2 0l1 5.9-3.6 3.5z"/>
<path class="gf" d="M1550.8 918.5l1.8-6.1q4.5-4.6 8.9 0l1.7 6.1-5.2 4.6z"/>
<path class="gf" d="M1510.3 918.8l.7-4.6q2.3-2.5 5.3 0l1.4 4.6-3.1 4.9z"/>
<path class="gd" d="M1565.2 918.2l.7-5.1q2-4 4.4 0l1 5.1-2.6 3.5z"/>
<path class="gc" d="M1417.9 918.3l1.8-7.2q4.5-6.9 9 0l1.7 7.2-5.3 3.3z"/>
<path class="gd" d="M1581.4 918.7l1.9-5.8q4.4-4.7 8.1 0l1.2 5.8-4.8 3.8z"/>
<path class="ga" d="M1643.5 919.4l2.1-4.9q5.4-2.7 10.9 0l2.1 4.9-6.4 5.1z"/>
<path class="gc" d="M1412.3 918.7l2.2-6.1q4.6-5.2 8.1 0l1 6.1-4.8 3.8z"/>
<path class="gc" d="M1549.7 918.8l1.1-3.7q3-2.2 6.3 0l1.3 3.7-3.7 3.8z"/>
<path class="gf" d="M1605.5 918.6l2.1-5.5q4.8-5.1 8.9 0l1.4 5.5-5.3 2.7z"/>
<path class="ga" d="M1425.1 919.7l2-15.1q4.9-16.1 9.7 0l1.8 15.1-5.7 4.5z"/>
<path class="ga" d="M1429.3 918.5l1.4-12.7q4.4-14.7 9.6 0l2.3 12.7-5.7 2.1z"/>
<path class="ga" d="M1434.9 919.6l1.2-8.1q3.8-7.6 8.5 0l2.1 8.1-5 4z"/>
<path class="gf" d="M1515 920.1l1.4-5.7q3.9-4 8.3 0l1.9 5.7-4.9 4.7z"/>
<path class="gc" d="M1610.7 919.8l.9-5.1q2.4-4 5.1 0l1.1 5.1-3 3.8z"/>
<path class="gc" d="M1648.6 919.6l.8-3.6q2.1-2.4 4.2 0l.8 3.6-2.5 3.2z"/>
<path class="ga" d="M1644.2 919.9l2-3.7q5.3-2.5 10.9 0l2.2 3.7-6.4 3.2z"/>
<path class="ga" d="M1645.3 919.8l.3-5.1q1.6-4.7 4.4 0l1.4 5.1-2.6 2.7z"/>
<path class="gc" d="M1540.3 919.5l1.6-4.9q3.9-4.8 7.7 0l1.4 4.9-4.5 2.1z"/>
<path class="gd" d="M1429.4 920.9l2.8-11.4q6.6-11.4 12.3 0l2 11.4-7.2 4.6z"/>
<path class="gc" d="M1645.6 920.8l1.1-5.5q3.2-4.2 6.9 0l1.5 5.5-4 4.2z"/>
<path class="ga" d="M1632.1 920.1l2.6-10.3q6.3-11.2 12.1 0l2.1 10.3-7.1 2.7z"/>
<path class="gc" d="M1484.8 920.5l1.7-4.5q4.3-3.8 8.5 0l1.6 4.5-5 2.9z"/>
<path class="gc" d="M1662.9 920.1l.7-2.8q2.1-2.2 4.7 0l1.2 2.8-2.8 2z"/>
<path class="gc" d="M1659.4 920.5l.8-4.7q2.4-4.2 5.3 0l1.3 4.7-3.1 2.6z"/>
<path class="ga" d="M1631.2 921.4l2.4-8.2q5.7-7.8 10.6 0l1.7 8.2-6.3 3.8z"/>
<path class="ga" d="M1629 922l2.1-7.1q5.2-5.9 10.3 0l1.9 7.1-6.1 4.7z"/>
<path class="gc" d="M1485.9 921.6l1.4-4.4q3.9-3 8 0l1.7 4.4-4.7 3.8z"/>
<path class="gc" d="M1439.9 922.2l1.2-4.8q4-3 9.2 0l2.4 4.8-5.4 4.5z"/>
<path class="ga" d="M1424 921.8l.9-6.7q3-6.1 7 0l1.9 6.7-4.1 3.7z"/>
<path class="ga" d="M1430.4 921.8l2.9-4.3q6.8-3 12.9 0l2.1 4.3-7.6 3.6z"/>
<path class="gc" d="M1567.5 922.4l1.8-5.3q4.2-3.7 7.9 0l1.3 5.3-4.7 4.5z"/>
<path class="gc" d="M1597.7 921.8l1.7-5.5q3.4-4.7 5.6 0l.5 5.5-3.3 3.3z"/>
<path class="gc" d="M1577.7 921.6l1.3-3.9q2.7-3.2 4.6 0l.5 3.9-2.7 2.6z"/>
<path class="gd" d="M1628.6 922.8l1.7-5.1q4.3-3.2 8.6 0l1.7 5.1-5.1 4.9z"/>
<path class="ga" d="M1606.4 922.9l1.9-4.6q4.8-2.5 9.4 0l1.7 4.6-5.6 4.9z"/>
<path class="gc" d="M1429.7 921.4l1.3-5.3q3.7-5.3 7.7 0l1.7 5.3-4.6 2.1z"/>
<path class="gf" d="M1433.9 922.4l1.2-4.7q3.8-4.3 8.6 0l2.1 4.7-5.1 2.4z"/>
<path class="gf" d="M1555.2 923.9l2.2-5.2q4.8-3.5 8.4 0l1 5.2-5 4.6z"/>
<path class="gc" d="M1399.1 923.3l1.9-4.7q4.7-3.7 9.4 0l1.8 4.7-5.6 3.2z"/>
<path class="gf" d="M1613.7 923.4l1.4-4.5q3.4-3.7 6.7 0l1.2 4.5-4 3z"/>
<path class="gf" d="M1516.5 923.3l2.2-4.2q5.1-3.9 9.4 0l1.4 4.2-5.5 2.1z"/>
<path class="gf" d="M1489.2 923.8l1.6-4.7q3.3-4.1 5.8 0l.7 4.7-3.4 2.7z"/>
<path class="gf" d="M1408.3 924.5l.8-4.1q2.1-2.6 4.4 0l.9 4.1-2.6 3.8z"/>
<path class="gc" d="M1436.9 924.2l1.3-5.6q3-5.2 5.6 0l.9 5.6-3.3 2.8z"/>
<path class="ga" d="M1603.9 925.9l2.2-12.6q5.8-12.5 11.8 0l2.4 12.6-7 5.1z"/>
<path class="gf" d="M1612 925.1l1.8-5.6q4.1-4.9 7.7 0l1.2 5.6-4.5 3.3z"/>
<path class="ga" d="M1497.7 925.4l1-6q3.5-5.2 8.2 0l2.2 6-4.9 3.5z"/>
<path class="gf" d="M1416.9 925.9l2.3-6q4.9-4.5 8.6 0l1.1 6-5.1 4.6z"/>
<path class="gf" d="M1650.1 925.4l.9-5.1q3-5 6.8 0l1.8 5.1-4 2.3z"/>
<path class="gf" d="M1451 926.9l2.1-5.3q4.9-3.4 9.1 0l1.4 5.3-5.4 4.9z"/>
<path class="ga" d="M1606 927.1l1.9-14.9q4.3-16 8 0l1.2 14.9-4.7 4.4z"/>
<path class="gf" d="M1440.2 926.3l1.4-4.1q3.5-3.2 6.9 0l1.3 4.1-4.1 3z"/>
<path class="gc" d="M1586.9 926.7l1.2-4.2q3.1-3 6.2 0l1.2 4.2-3.7 3.4z"/>
<path class="ga" d="M1405.6 926.8l1-4.6q2.5-3.5 4.7 0l.8 4.6-2.8 3.3z"/>
<path class="ga" d="M1489.5 927.2l1.6-4.6q3.3-3.4 5.6 0l.5 4.6-3.3 3.7z"/>
<path class="gf" d="M1559 927.8l2.1-4.5q4.4-2.9 7.8 0l1 4.5-4.6 4.1z"/>
<path class="gc" d="M1465 928.4l1.3-5.2q3.1-3.9 6 0l1.1 5.2-3.5 4z"/>
<path class="gc" d="M1412.3 927.4l1.5-2.9q3.2-2.3 5.4 0l.6 2.9-3.2 2z"/>
<path class="gc" d="M1437.9 928.3l2.3-6.4q5.5-5.8 10.5 0l1.8 6.4-6.2 3.6z"/>
<path class="gd" d="M1553.9 928.5l.6-4.7q2.2-3.5 5.3 0l1.5 4.7-3.1 3.5z"/>
<path class="ga" d="M1613.5 929.3l.8-7.2q2.1-5.8 4.3 0l.9 7.2-2.6 5z"/>
<path class="ga" d="M1600.8 929.2l1.4-16.1q3.6-17.3 7.1 0l1.3 16.1-4.2 4.7z"/>
<path class="gf" d="M1452.6 929l.7-7.1q2.1-6.1 4.7 0l1.2 7.1-2.8 4.3z"/>
<path class="gf" d="M1461.6 927.7l.3-5.6q1.6-5.8 4.3 0l1.4 5.6-2.5 1.9z"/>
<path class="gc" d="M1472 928.6l1.5-5.2q3.8-4.3 7.6 0l1.5 5.2-4.5 3.5z"/>
<path class="gc" d="M1471 929.2l.9-3.9q2.5-2.1 5.5 0l1.3 3.9-3.2 4.2z"/>
<path class="gc" d="M1446.7 928.1l1.6-9.3q3.6-10.5 6.5 0l.9 9.3-3.9 2z"/>
<path class="ga" d="M1591 929.7l2-5.7q5.2-4 10.5 0l2.1 5.7-6.2 4.8z"/>
<path class="gc" d="M1606.6 929.7l1.7-5.8q3.8-4 6.8 0l1 5.8-4 4.8z"/>
<path class="ga" d="M1612 929.8l2.1-10.3q5.2-9.6 10.1 0l1.9 10.3-6 5z"/>
<path class="ga" d="M1600.2 930.1l1.9-14q4.6-14.4 8.8 0l1.5 14-5.2 5.1z"/>
<path class="gc" d="M1441.5 930.1l2-4.4q4.8-2.4 9.2 0l1.6 4.4-5.4 4.7z"/>
<path class="gf" d="M1644.9 930.3l1.8-6.4q4.3-4.9 8.1 0l1.3 6.4-4.8 4.9z"/>
<path class="gf" d="M1450.1 928.8l2.2-8.3q4.9-9.2 8.8 0l1.2 8.3-5.2 2z"/>
<path class="gf" d="M1378 929.5l.6-5.8q2.1-5.2 4.8 0l1.3 5.8-2.8 3.2z"/>
<path class="gf" d="M1451.2 930.4l1.3-9.5q4-8.8 8.6 0l2 9.5-5.1 4.8z"/>
<path class="ga" d="M1614.5 930.1l2.2-5.5q5.2-4.1 9.7 0l1.5 5.5-5.7 4.2z"/>
<path class="ga" d="M1604.4 929.1l2.3-13.6q5.1-15.8 9.3 0l1.3 13.6-5.5 2.2z"/>
<path class="ga" d="M1635.5 930.6l2.2-6q5.2-4.3 9.7 0l1.6 6-5.7 4.8z"/>
<path class="gf" d="M1629.5 929.8l.8-6.2q2.3-5.7 5 0l1.2 6.2-2.9 3.2z"/>
<path class="ga" d="M1452.6 929.5l1.5-5.5q3.4-5.4 6.3 0l1 5.5-3.7 2.4z"/>
<path class="gf" d="M1536.2 930.9l1.1-5.8q3.1-4.3 6.6 0l1.5 5.8-3.9 4.5z"/>
<path class="gf" d="M1474.9 930.7l.7-6.9q2.6-5.9 6.2 0l1.7 6.9-3.7 4.2z"/>
<path class="gc" d="M1432.3 930.7l1.3-6.6q3.7-5.6 7.9 0l1.8 6.6-4.7 4.1z"/>
<path class="gf" d="M1434.4 931.3l2.3-4.7q6-3 12.2 0l2.5 4.7-7.2 4.4z"/>
<path class="gc" d="M1522.6 931.4l1.9-5.1q4-3.2 7 0l.9 5.1-4.2 4.7z"/>
<path class="ga" d="M1599.4 930.3l1.7-9.1q4.1-10 8 0l1.4 9.1-4.7 2.4z"/>
<path class="gd" d="M1587 930.7l.7-5q2.1-4.2 4.6 0l1.1 5-2.7 3.1z"/>
<path class="gf" d="M1389.2 931.5l2.1-4.7q5.1-3.2 9.9 0l1.7 4.7-5.8 4z"/>
<path class="gf" d="M1561.9 931.7l.6-3.9q2.5-2.4 6.1 0l1.8 3.9-3.6 3.8z"/>
<path class="gc" d="M1438.2 931.8l2.3-5.9q5.4-5.1 10.4 0l1.8 5.9-6.1 3.4z"/>
<path class="ga" d="M1413.5 931.4l1.4-4.3q3.7-3.8 7.4 0l1.5 4.3-4.4 2.4z"/>
<path class="gd" d="M1594.5 932.9l2-7.1q5.7-5.5 12.1 0l2.7 7.1-7.1 5.1z"/>
<path class="gd" d="M1619.8 931.8l1.6-5.8q3.6-5.3 6.2 0l.8 5.8-3.7 3z"/>
<path class="gc" d="M1414.9 932.2l1.3-5.7q4-4.8 8.8 0l2.2 5.7-5.2 3.7z"/>
<path class="ga" d="M1488.8 932.6l.9-4.2q3-2.4 6.9 0l1.8 4.2-4.1 4.3z"/>
<path class="gc" d="M1504.9 933l1.4-5.8q3.2-4.1 5.9 0l.9 5.8-3.5 4.9z"/>
<path class="gc" d="M1598.1 933.4l2.1-8q5.6-6.7 11.4 0l2.3 8-6.7 5.1z"/>
<path class="gd" d="M1366.9 932.5l2.7-5.8q6.2-5.2 11.6 0l1.8 5.8-6.8 3.2z"/>
<path class="gd" d="M1598.5 932.9l1.1-5q3.4-3.8 7.8 0l2 5-4.6 3.8z"/>
<path class="gf" d="M1555.2 932.7l1.9-4.4q4.1-3.5 7.1 0l.8 4.4-4.2 3.2z"/>
<path class="gf" d="M1421.7 933.4l2.1-7.2q4.7-6.1 8.4 0l1.1 7.2-5 4.5z"/>
<path class="gf" d="M1449.2 932.7l2.5-5.4q6.1-4.6 11.7 0l2 5.4-6.9 3.2z"/>
<path class="gd" d="M1365.1 933.4l1.9-7.9q5.5-7.1 11.8 0l2.6 7.9-6.9 4.3z"/>
<path class="gc" d="M1498.9 933.9l1.6-5.4q4.1-3.4 8.2 0l1.6 5.4-4.9 5.1z"/>
<path class="gf" d="M1479.7 933.9l1.9-6.6q4.8-5.1 9.2 0l1.7 6.6-5.5 4.8z"/>
<path class="gd" d="M1362 934l2.8-10.2q6.5-9.7 12.2 0l2 10.2-7.2 4.7z"/>
<path class="gf" d="M1440.5 933.1l1.6-5.2q4.5-4.5 9.8 0l2.2 5.2-5.8 3z"/>
<path class="gc" d="M1635.4 933.8l2.1-6.5q4.5-5.4 7.9 0l.9 6.5-4.6 4.2z"/>
<path class="gc" d="M1395.1 933.7l1.7-5.7q3.6-4.6 6.2 0l.7 5.7-3.7 3.9z"/>
<path class="gc" d="M1521.5 934.3l1.4-7.2q4.1-5.7 8.9 0l2.1 7.2-5.3 5z"/>
<path class="gf" d="M1445.3 933.4l2.3-6.2q5.5-5.7 10.3 0l1.7 6.2-6.1 3.1z"/>
<path class="gd" d="M1432.5 933.7l1.3-5.5q4-4.8 9 0l2.2 5.5-5.3 3.3z"/>
<path class="gd" d="M1359.4 934.6l2-9q5.5-8.2 11.5 0l2.5 9-6.8 4.9z"/>
<path class="ga" d="M1368.6 934.5l1.8-9.8q5-9.3 10.6 0l2.4 9.8-6.2 4.7z"/>
<path class="gf" d="M1536.4 934.5l1.2-3.7q3.4-2.4 7.1 0l1.6 3.7-4.2 3.3z"/>
<path class="gf" d="M1494.2 934.5l1.7-4.2q4.3-3.7 8.3 0l1.5 4.2-4.9 2.4z"/>
<path class="gf" d="M1449.9 934.7l1.8-5.8q4.7-5.5 9.3 0l1.8 5.8-5.5 2.7z"/>
<path class="gc" d="M1425.4 935.4l.8-6.6q2.2-5.8 4.8 0l1.1 6.6-2.8 3.9z"/>
<path class="gd" d="M1504.9 935.2l1.9-4.5q4.2-3.3 7.6 0l1.1 4.5-4.5 3.5z"/>
<path class="gc" d="M1622.7 935.6l1.3-6.1q3.1-5.1 6 0l1 6.1-3.5 4z"/>
<path class="ga" d="M1364.5 935.1l1.4-5.2q3.8-4.6 8 0l1.7 5.2-4.7 3z"/>
<path class="ga" d="M1427.6 936l1.8-6.9q4.8-5.7 9.6 0l1.9 6.9-5.7 4.4z"/>
<path class="gc" d="M1408.1 935.2l1.9-4.1q3.9-3.4 6.6 0l.7 4.1-3.9 2.8z"/>
<path class="gd" d="M1402.3 934.9l2-3.8q4.4-3.3 7.9 0l1.1 3.8-4.7 2.2z"/>
<path class="gd" d="M1364.7 936.2l2-16.4q5.3-17.8 10.6 0l2.1 16.4-6.2 4.4z"/>
<path class="gf" d="M1435.5 935.6l1-5q2.9-4.3 6.1 0l1.4 5-3.6 3z"/>
<path class="gc" d="M1518.1 936.7l1.8-7q4.6-5.6 9.4 0l1.9 7-5.5 4.9z"/>
<path class="gf" d="M1446 936.2l1.8-4.2q4.3-2.6 8.3 0l1.5 4.2-4.9 4z"/>
<path class="gf" d="M1532.4 936l.7-6.2q2.4-5.5 5.5 0l1.4 6.2-3.2 3.4z"/>
<path class="ga" d="M1395.1 935.9l2.4-7.5q6.1-7.3 12.3 0l2.4 7.5-7.3 3.3z"/>
<path class="gc" d="M1401.1 936.8l2.4-5.3q6-3.4 11.6 0l2.1 5.3-6.8 5z"/>
<path class="gc" d="M1506.1 936.3l1.9-5.9q4.5-5 8.2 0l1.3 5.9-4.9 3.7z"/>
<path class="gc" d="M1358.3 937l1.2-4.7q3.4-2.8 7.2 0l1.6 4.7-4.3 4.7z"/>
<path class="ga" d="M1380.7 936.7l1.1-4.4q2.7-2.8 5.2 0l.9 4.4-3.1 4.2z"/>
<path class="gd" d="M1489.7 937l1.5-6.7q4.3-5.3 9.2 0l2.1 6.7-5.4 4.7z"/>
<path class="ga" d="M1357 936.4l2.9-8.1q6.8-8 12.8 0l2.1 8.1-7.5 3.5z"/>
<path class="gc" d="M1381.9 937l1.1-4.9q3.2-3.1 7 0l1.6 4.9-4.1 4.5z"/>
<path class="gf" d="M1566.6 936.2l1.9-4q4.1-3.2 7.3 0l.9 4-4.3 2.7z"/>
<path class="gf" d="M1507.5 937.5l2.2-7.5q5-6.1 9.2 0l1.4 7.5-5.4 5z"/>
<path class="ga" d="M1360.1 936.6l2.2-12.1q5.7-13.2 11.6 0l2.3 12.1-6.8 3.3z"/>
<path class="ga" d="M1467.2 937.3l.9-6.4q3.1-5.4 7.2 0l1.9 6.4-4.3 4z"/>
<path class="gc" d="M1627.7 936.5l.8-4.1q2.8-3.8 6.4 0l1.7 4.1-3.8 2.2z"/>
<path class="gc" d="M1394.3 936.9l1.5-11.1q4.6-12.4 10 0l2.3 11.1-5.9 2.6z"/>
<path class="gc" d="M1634 936.8l1.2-5.2q3.7-4.9 8.1 0l1.9 5.2-4.8 2.4z"/>
<path class="ga" d="M1544.6 937.8l1.5-6q3.2-5.1 5.7 0l.8 6-3.4 3.5z"/>
<path class="gd" d="M1400.6 937.3l1.7-10.7q4.5-11.9 9 0l1.8 10.7-5.3 2.4z"/>
<path class="gd" d="M1548.3 937.5l1.4-4.2q4.3-3.5 9.3 0l2.2 4.2-5.5 2.6z"/>
<path class="gd" d="M1624.2 937.2l2.8-6.1q6.6-6.4 12.5 0l2.1 6.1-7.4 2z"/>
<path class="ga" d="M1363.6 938.3l1.6-7.3q4.5-7.3 9.5 0l2.1 7.3-5.6 2.9z"/>
<path class="ga" d="M1632.3 938.9l2.6-5.5q6.3-4.5 12.3 0l2.2 5.5-7.3 3.8z"/>
<path class="gc" d="M1500.4 938.5l1-3.7q2.9-3.1 6.1 0l1.4 3.7-3.6 2.4z"/>
<path class="gf" d="M1412.3 938.6l1.3-4.3q3.2-3.9 6.2 0l1.1 4.3-3.7 2.3z"/>
<path class="gc" d="M1361.6 938.9l1.4-3.9q2.8-3 4.4 0l.3 3.9-2.6 2.9z"/>
<path class="gc" d="M1364.1 940.2l1.4-5.5q3.6-4.1 7.1 0l1.3 5.5-4.2 4.4z"/>
<path class="gc" d="M1384.4 939.8l2.3-5.6q6.2-5.2 12.8 0l2.7 5.6-7.5 2.7z"/>
<path class="gd" d="M1388.4 939.4l2.3-9.9q6.1-11.2 12.2 0l2.4 9.9-7.2 2z"/>
<path class="gc" d="M1552.6 940.4l1.6-6.4q3.8-5.8 7.1 0l1.1 6.4-4.2 3.3z"/>
<path class="gc" d="M1379.5 940.3l1.1-3.7q3.1-2.7 6.8 0l1.6 3.7-4 2.9z"/>
<path class="gc" d="M1402.3 941.4l2-10.7q5.3-10.2 10.9 0l2.2 10.7-6.4 4.9z"/>
<path class="gc" d="M1606.3 940.8l1.4-5.1q2.7-4 4.4 0l.4 5.1-2.6 3.7z"/>
<path class="gd" d="M1639.5 940.8l1.3-3.6q3.6-2.3 7.4 0l1.6 3.6-4.4 3.4z"/>
<path class="gf" d="M1569.9 941.4l.9-5.3q2.8-3.6 6.1 0l1.5 5.3-3.6 4.5z"/>
<path class="ga" d="M1405.1 941.5l1.6-7.2q4.6-6 9.7 0l2.1 7.2-5.7 4.5z"/>
<path class="gf" d="M1571.5 941.8l.7-5.7q2.2-4.1 4.8 0l1.2 5.7-2.9 4.6z"/>
<path class="gd" d="M1553.6 940.4l1.8-7.4q4-7.9 7.1 0l1 7.4-4.2 2.1z"/>
<path class="gd" d="M1526.6 940.6l1.5-5.9q3.3-6 6 0l.9 5.9-3.5 2.1z"/>
<path class="gf" d="M1519.7 941.7l2.3-5.4q4.9-4 8.6 0l1.1 5.4-5.1 4.2z"/>
<path class="gd" d="M1627.2 941.2l1.3-12.1q3.5-13.2 7.1 0l1.4 12.1-4.2 3.2z"/>
<path class="gd" d="M1633.7 941.7l1.9-10.2q4.5-10.3 8.3 0l1.3 10.2-4.9 3.9z"/>
<path class="ga" d="M1386.3 941.5l1.9-7.1q5.6-6.6 12 0l2.8 7.1-7.1 3.4z"/>
<path class="gc" d="M1447.3 942l1.8-6.3q4.8-5.1 9.8 0l2 6.3-5.8 4.4z"/>
<path class="gc" d="M1398.5 941.2l1.4-4.8q2.8-4.2 4.7 0l.5 4.8-2.8 2.7z"/>
<path class="ga" d="M1626.3 941.5l2.6-12.4q6.3-13.6 12.3 0l2.2 12.4-7.3 3.2z"/>
<path class="gc" d="M1637.6 942.4l1.9-6.6q4.4-5.2 8 0l1.2 6.6-4.7 4.7z"/>
<path class="gc" d="M1398.5 941.8l2.4-9.7q6.2-10.8 12.5 0l2.5 9.7-7.4 2.2z"/>
<path class="gd" d="M1554.6 943l1.1-12.3q3.1-12.7 6.5 0l1.4 12.3-3.8 4.3z"/>
<path class="gf" d="M1408.1 942.4l1.3-3.3q3.7-2.2 7.8 0l1.7 3.3-4.6 3z"/>
<path class="gd" d="M1558.2 943.1l2.2-5.3q5.8-3.9 11.7 0l2.3 5.3-6.9 4.2z"/>
<path class="gc" d="M1392 942.5l1.2-7.1q3.7-7.3 8.1 0l1.9 7.1-4.8 2.6z"/>
<path class="gc" d="M1538.1 942.7l1.6-6.1q4.4-5.9 8.9 0l1.8 6.1-5.3 2.6z"/>
<path class="gc" d="M1544.5 943.6l1.5-10.8q3.9-10.9 8 0l1.6 10.8-4.7 4.2z"/>
<path class="ga" d="M1618.6 943.5l1.8-5.2q4.4-3.9 8.5 0l1.5 5.2-5 3.9z"/>
<path class="ga" d="M1623.8 944.2l1.5-9.5q3.8-9 7.5 0l1.4 9.5-4.4 4.6z"/>
<path class="gc" d="M1594.6 944.3l.9-4.9q3.1-3 7.2 0l1.8 4.9-4.2 4.7z"/>
<path class="gc" d="M1553.1 943.2l1.2-16.4q3.8-19.2 8.6 0l2.2 16.4-5.1 2.4z"/>
<path class="gf" d="M1447.3 943.8l2-5.1q5-4.1 10 0l1.9 5.1-5.9 3.5z"/>
<path class="gc" d="M1559.1 944l1.7-9.6q4.4-9.6 8.8 0l1.7 9.6-5.2 3.7z"/>
<path class="ga" d="M1573 944.4l.9-6.5q3.2-5.3 7.4 0l2 6.5-4.4 4.3z"/>
<path class="gd" d="M1397.5 943.9l1.5-3.7q3.7-2.5 7.4 0l1.4 3.7-4.3 3.3z"/>
<path class="gc" d="M1545.4 943.5l1.5-4.8q3.6-4.3 7 0l1.2 4.8-4.1 2.5z"/>
<path class="gc" d="M1421 945l.5-4.9q1.9-2.7 4.6 0l1.3 4.9-2.7 5.2z"/>
<path class="ga" d="M1633.8 944.2l2.5-5.7q6.1-4.8 11.7 0l2.1 5.7-6.9 3.7z"/>
<path class="gc" d="M1475.6 944.8l2-5.7q4.9-4.2 9.4 0l1.6 5.7-5.5 4.6z"/>
<path class="ga" d="M1522.3 944.6l.6-6.9q2-5.9 4.8 0l1.3 6.9-2.9 4.1z"/>
<path class="gf" d="M1397.3 944.1l.5-6.5q2.3-6.3 5.7 0l1.7 6.5-3.3 2.9z"/>
<path class="gf" d="M1575.6 945l.8-4.8q2.6-3.2 6 0l1.6 4.8-3.5 4.2z"/>
<path class="gf" d="M1586.3 944.5l1.6-4q3.1-3.3 4.9 0l.4 4-2.9 2.6z"/>
<path class="gc" d="M1450.8 944.7l1.9-3.7q4.7-3.1 8.9 0l1.5 3.7-5.3 2.4z"/>
<path class="gd" d="M1546.8 944.8l1.7-16.3q4.6-19.1 9.3 0l1.9 16.3-5.5 2.4z"/>
<path class="gf" d="M1631.8 946l1.9-7q4.3-5.9 7.8 0l1.2 7-4.6 4.4z"/>
<path class="gc" d="M1555.5 944.8l1.4-15.6q4.2-18.3 9 0l2.1 15.6-5.3 2.2z"/>
<path class="gd" d="M1531.5 946.3l1.2-6.9q3.8-5.5 8.3 0l2 6.9-4.9 4.7z"/>
<path class="ga" d="M1409.2 945.3l.6-6.2q2.1-6 4.8 0l1.2 6.2-2.8 2.7z"/>
<path class="ga" d="M1540.1 945.3l2.7-9q6.5-9.9 12.4 0l2.1 9-7.3 2.3z"/>
<path class="ga" d="M1411.4 947.4l2.4-6.3q5.7-4.6 10.6 0l1.7 6.3-6.3 5z"/>
<path class="gf" d="M1505.9 946.9l2.1-4.4q4.7-2.9 8.6 0l1.2 4.4-5.1 3.9z"/>
<path class="gf" d="M1611.2 946.1l1.9-3.3q4.8-2.6 9.5 0l1.8 3.3-5.6 2.3z"/>
<path class="gf" d="M1435.9 947.1l1-6.6q3.6-5.6 8.3 0l2.2 6.6-4.9 4.1z"/>
<path class="gc" d="M1544.6 946.1l1.9-13.9q5.4-16.2 11.4 0l2.5 13.9-6.7 2.2z"/>
<path class="ga" d="M1418.7 947.5l1-12.4q3.3-13.1 7.4 0l1.8 12.4-4.3 4z"/>
<path class="gf" d="M1516.1 948.1l2.2-5q4.8-3.3 8.5 0l1.1 5-5 4.4z"/>
<path class="gd" d="M1619.7 947.9l1.5-4.1q3.2-2.5 5.4 0l.6 4.1-3.2 4z"/>
<path class="gf" d="M1428.3 947.6l1.5-6.5q3.6-6.4 7.1 0l1.3 6.5-4.2 2.8z"/>
<path class="gc" d="M1537.5 947.7l1.2-4q4-3.2 9.2 0l2.3 4-5.4 2.8z"/>
<path class="gc" d="M1497.4 948.8l1.2-5.1q3.5-3.3 7.5 0l1.7 5.1-4.4 4.6z"/>
<path class="gd" d="M1413.1 947.7l2.6-10.6q6.4-11.8 12.2 0l2.1 10.6-7.2 2.5z"/>
<path class="gf" d="M1429.9 947.8l1.2-3.3q3.5-2.3 7.4 0l1.7 3.3-4.4 2.8z"/>
<path class="gf" d="M1508 949.3l1.1-6.7q2.6-5.2 5.1 0l.9 6.7-3 4.9z"/>
<path class="gc" d="M1545.4 949l.6-4.6q2.2-3.3 5.3 0l1.5 4.6-3.1 3.8z"/>
<path class="ga" d="M1429.8 949l1.8-11.7q4-12.7 7.2 0l.9 11.7-4.2 3.1z"/>
<path class="ga" d="M1411.7 949.5l2.2-9.7q5.4-9.7 10.4 0l1.9 9.7-6.2 3.9z"/>
<path class="gc" d="M1401.7 950.2l1.2-5.6q2.8-3.9 5.4 0l.9 5.6-3.2 4.7z"/>
<path class="gc" d="M1431.5 950.5l1.7-6.3q4.2-4.5 7.9 0l1.3 6.3-4.6 5.1z"/>
<path class="ga" d="M1461.8 949.8l1.1-6.8q2.8-6.2 5.4 0l1 6.8-3.2 3.6z"/>
<path class="gc" d="M1565.7 949.5l1.9-5.3q4.4-5 8.3 0l1.3 5.3-4.9 2.5z"/>
<path class="gf" d="M1537.3 950.7l2-6.4q4.7-4.9 9 0l1.5 6.4-5.3 4.7z"/>
<path class="ga" d="M1412 950.1l1.9-9.1q4.6-9.4 8.9 0l1.6 9.1-5.3 3.1z"/>
<path class="ga" d="M1419.4 950.7l2.5-16.1q6.4-17.7 12.9 0l2.5 16.1-7.6 4.2z"/>
<path class="ga" d="M1422 951.1l1.8-17.8q4-19.4 7.2 0l1 17.8-4.3 4.6z"/>
<path class="gc" d="M1624.1 951l1.4-5.7q2.8-4.2 4.9 0l.5 5.7-2.9 4.4z"/>
<path class="gc" d="M1452.7 950.7l1.8-5q4.9-3.7 10 0l2.1 5-5.9 3.9z"/>
<path class="gf" d="M1478 950.2l.7-4.4q2.1-3.7 4.7 0l1.1 4.4-2.8 2.8z"/>
<path class="ga" d="M1410.9 950.8l1.5-7.3q4.2-6.6 8.8 0l1.9 7.3-5.2 3.9z"/>
<path class="ga" d="M1544.3 951l1.6-4.8q4.9-3.6 10.9 0l2.6 4.8-6.4 3.6z"/>
<path d="M1488.5 944L1488.5 906Q1491 875 1512 874Q1534 876 1537 918L1537.5 948z" fill="url(#ga)"/>
<path class="ga" d="M1547.6 952l1.3-4.2q3.5-2.3 7.4 0l1.6 4.2-4.3 4.5z"/>
<path class="gc" d="M1588.7 952.1l1.5-5.5q3.8-4.3 7.6 0l1.5 5.5-4.5 4z"/>
<path class="gg" d="M1488.8 939.4l.9-23.2q2.3-27.7 4.6 0l.9 23.2-2.7 2.6z"/>
<path class="gg" d="M1492.3 939.4l.9-29.8q2.3-36.1 4.6 0l.9 29.8-2.7 2.6z"/>
<path class="gg" d="M1495.8 939.4l.9-34.1q2.3-41.6 4.6 0l.9 34.1-2.7 2.6z"/>
<path class="gw" d="M1499.3 939.4l.9-37q2.3-45.3 4.6 0l.9 37-2.7 2.6z"/>
<path class="gw" d="M1502.8 939.4l.9-38.9q2.3-47.7 4.6 0l.9 38.9-2.7 2.6z"/>
<path class="gg" d="M1506.3 939.4l.9-39.9q2.3-49 4.6 0l.9 39.9-2.7 2.6z"/>
<path class="gg" d="M1509.8 939.4l.9-40.2q2.3-49.4 4.6 0l.9 40.2-2.7 2.6z"/>
<path class="gg" d="M1513.3 939.4l.9-39.7q2.3-48.8 4.6 0l.9 39.7-2.7 2.6z"/>
<path class="gw" d="M1516.8 939.4l.9-38.4q2.3-47.1 4.6 0l.9 38.4-2.7 2.6z"/>
<path class="gw" d="M1520.3 939.4l.9-36.3q2.3-44.4 4.6 0l.9 36.3-2.7 2.6z"/>
<path class="gd" d="M1523.8 939.4l.9-33q2.3-40.2 4.6 0l.9 33-2.7 2.6z"/>
<path class="ga" d="M1527.3 939.4l.9-28.2q2.3-34.1 4.6 0l.9 28.2-2.7 2.6z"/>
<path class="ga" d="M1530.8 939.4l.9-20.5q2.3-24.3 4.6 0l.9 20.5-2.7 2.6z"/>
<path class="gc" d="M1516 951.4l2.4-6.2q5.3-6.2 9.7 0l1.4 6.2-5.7 2.3z"/>
<path class="ga" d="M1412.9 951.6l2.4-8.7q5.5-9.2 10.2 0l1.6 8.7-6 2.7z"/>
<path class="gd" d="M1546.8 952.4l1.2-4q3.7-2.6 8.3 0l2.1 4-4.9 3.7z"/>
<path class="gc" d="M1443.9 952l1.5-3.5q3.2-2.6 5.5 0l.6 3.5-3.2 2.8z"/>
<path class="gc" d="M1430.2 952.4l1.8-4.7q4.9-3.7 10.1 0l2.2 4.7-6 3.4z"/>
<path class="gf" d="M1452.2 952.2l.4-5.7q1.9-5.3 4.9 0l1.5 5.7-2.9 2.9z"/>
<path class="gf" d="M1533.4 953.1l.8-5.2q2.5-3.6 5.7 0l1.5 5.2-3.4 4.5z"/>
<path class="ga" d="M1430.7 953.7l1.8-6.6q5-5 10.3 0l2.2 6.6-6.1 4.9z"/>
<path class="gf" d="M1508.8 953.8l.9-5.2q2.8-3.4 6.2 0l1.5 5.2-3.7 4.7z"/>
<path class="gd" d="M1426.4 952.8l2.1-9.5q5-10.4 9.6 0l1.7 9.5-5.7 2.4z"/>
<path class="gc" d="M1543.8 953.3l1.1-3.9q3.8-2.7 8.9 0l2.3 3.9-5.2 3.3z"/>
<path class="gf" d="M1536.8 952.8l.9-3.4q3-2.7 6.9 0l1.8 3.4-4.1 2.4z"/>
<path class="gf" d="M1430.5 953.6l.8-5.4q2.7-4.5 6 0l1.5 5.4-3.6 3.4z"/>
<path class="gc" d="M1417 953.8l2-10.1q4.9-10.3 9.6 0l1.7 10.1-5.7 3.6z"/>
<path class="gf" d="M1540.4 953.6l1.8-4.7q3.8-3.8 6.4 0l.6 4.7-3.8 3.2z"/>
<path class="gc" d="M1561.8 955.2l1.6-7q3.5-5.3 6.1 0l.7 7-3.6 5.3z"/>
<path class="ga" d="M1535.9 955.8l2.5-5.4q5.6-3.3 10.3 0l1.5 5.4-6.1 5.2z"/>
<path class="gd" d="M1426.1 954.8l1.7-4q5.1-3 10.9 0l2.5 4-6.4 3z"/>
<path class="gf" d="M1501.7 955.8l1.4-4.3q3-2.5 5.3 0l.6 4.3-3.1 4.4z"/>
<path class="gc" d="M1587.4 955.7l1.9-5.6q4.5-4.8 8.3 0l1.3 5.6-4.9 3.3z"/>
<path class="gc" d="M1451.2 957l2.1-6.3q5.4-5.1 10.9 0l2.2 6.3-6.4 4.2z"/>
<path class="gf" d="M1617.9 956.6l1.1-6.4q3.3-5.9 7.2 0l1.7 6.4-4.3 3.3z"/>
<path class="gc" d="M1502.4 958.1l1.4-5.6q3.8-3.9 7.8 0l1.6 5.6-4.6 4.7z"/>
<path class="gf" d="M1519.4 956.9l1.4-3.4q3.3-2.6 6.2 0l1 3.4-3.6 2.5z"/>
<path class="gf" d="M1577.9 958.7l.8-7.5q2.8-6.1 6.7 0l1.8 7.5-3.9 5.1z"/>
<path class="gc" d="M1614.6 958.7l1-5.7q2.4-3.9 4.8 0l.9 5.7-2.8 5z"/>
<path class="gf" d="M1453.6 958l1.8-4.3q4.7-2.9 9.4 0l1.9 4.3-5.6 3.6z"/>
<path class="gc" d="M1453.6 957.8l1.3-6q2.9-5.5 5 0l.6 6-3 3.1z"/>
<path class="ga" d="M1550.4 957.4l1.6-6q3.8-6.1 7.1 0l1.1 6-4.2 2.2z"/>
<path class="gf" d="M1489.9 957.8l.5-3.2q2.1-2.5 5.2 0l1.6 3.2-3.1 2.3z"/>
<path class="ga" d="M1588.4 959l2.1-5.7q5.8-4.4 11.9 0l2.5 5.7-7 4.2z"/>
<path class="gc" d="M1591.9 958.4l1.2-6.4q3.6-6.8 7.7 0l1.8 6.4-4.6 2z"/>
<path class="gf" d="M1495.5 960.1l2.2-5.7q5.3-3.7 9.9 0l1.6 5.7-5.8 5.2z"/>
<path class="ga" d="M1462.5 958.7l1.6-7.8q3.6-8.3 6.5 0l.9 7.8-3.9 2.4z"/>
<path class="gc" d="M1602 959.3l1.5-3.6q4.5-2.8 9.8 0l2.3 3.6-5.8 2.7z"/>
<path class="gw" d="M1568 959.4l.8-22.4q2.2-26.8 4.3 0l.8 22.4-2.5 2.6z"/>
<path class="gw" d="M1571.2 959.4l.8-29.9q2.2-36.2 4.3 0l.8 29.9-2.5 2.6z"/>
<path class="gg" d="M1574.4 959.4l.8-32.8q2.2-40 4.3 0l.8 32.8-2.5 2.6z"/>
<path class="gw" d="M1577.6 959.4l.8-32.8q2.2-40 4.3 0l.8 32.8-2.5 2.6z"/>
<path class="gw" d="M1580.8 959.4l.8-29.9q2.2-36.2 4.3 0l.8 29.9-2.5 2.6z"/>
<path class="gw" d="M1584 959.4l.8-22.4q2.2-26.8 4.3 0l.8 22.4-2.5 2.6z"/>
<path class="ga" d="M1457.1 960.3l1-16.4q3.1-18 6.8 0l1.6 16.4-4 4.1z"/>
<path class="gc" d="M1458.4 959.5l1-5.9q2.8-5.8 5.9 0l1.3 5.9-3.5 2.5z"/>
<path class="gd" d="M1442.1 960.1l1.8-8.1q4.9-7.9 10.1 0l2.1 8.1-6 3.4z"/>
<path class="gd" d="M1592.4 960.8l1.1-10.8q3.2-10.6 6.7 0l1.5 10.8-4 4.5z"/>
<path class="gd" d="M1452.8 960.1l1.5-16.3q3.7-18.5 7.2 0l1.3 16.3-4.3 3.3z"/>
<path class="gf" d="M1483.4 960.7l1-5.5q2.5-4.1 4.9 0l.9 5.5-2.9 4.1z"/>
<path class="ga" d="M1465.7 961.2l.9-6.1q3.1-4.3 7.1 0l1.8 6.1-4.2 5z"/>
<path class="gd" d="M1587.7 960.5l2.7-10.1q6.6-10.5 12.6 0l2.2 10.1-7.4 3.5z"/>
<path class="gf" d="M1446.7 961.4l1-6.5q2.5-4.7 5.2 0l1 6.5-3 5.2z"/>
<path class="gf" d="M1501.7 960.6l1.4-4.3q3.1-3.5 5.5 0l.8 4.3-3.3 2.8z"/>
<path class="ga" d="M1460.8 960.4l2.5-7.9q6-8.6 11.5 0l2 7.9-6.8 2.1z"/>
<path class="gd" d="M1592 961l2.1-12.4q4.8-13.7 8.9 0l1.4 12.4-5.2 3.1z"/>
<path class="gd" d="M1450.1 961.1l2.4-15.3q6.2-17.6 12.3 0l2.4 15.3-7.3 2.6z"/>
<path class="gc" d="M1455.5 962.2l1.8-17.7q4.9-19.4 10.1 0l2.1 17.7-5.9 4.6z"/>
<path class="ga" d="M1452.1 962.3l1.7-17.1q4.3-18.6 8.6 0l1.7 17.1-5.1 4.6z"/>
<path class="gf" d="M1490.8 962.6l2.4-5.7q5.4-3.8 9.8 0l1.4 5.7-5.8 5z"/>
<path class="gf" d="M1525.9 963.6l.8-6.1q2.7-4.5 6.2 0l1.6 6.1-3.7 4.7z"/>
<path class="ga" d="M1586.4 962.9l2.2-12.8q5.8-14.6 11.9 0l2.4 12.8-7 2.6z"/>
<path class="ga" d="M1497.3 964.2l.9-5.3q3.2-3.3 7.6 0l2 5.3-4.5 4.9z"/>
<path class="gf" d="M1506.3 963.2l1.6-5.4q4.3-5.5 8.7 0l1.8 5.4-5.2 2.1z"/>
<path class="gd" d="M1501.8 965l1.6-7.6q4.8-6.4 10.4 0l2.4 7.6-6.1 4.9z"/>
<path class="gd" d="M1566.3 964.1l1.9-5.5q4.4-5 8.3 0l1.3 5.5-4.9 3z"/>
<path class="ga" d="M1463 964.1l2.3-4.7q5.3-4 9.8 0l1.6 4.7-5.8 2.9z"/>
<path class="ga" d="M1467.4 963.7l2.1-5.4q5.3-5.3 10.4 0l1.9 5.4-6.1 2.2z"/>
<path class="ga" d="M1599.9 964.5l.9-4.6q2.6-3.7 5.6 0l1.3 4.6-3.3 3.1z"/>
<path class="gf" d="M1578.9 965.5l2.2-6.7q4.8-5.1 8.8 0l1.3 6.7-5.2 5z"/>
<path class="gc" d="M1445.1 964.5l2.2-8.4q5-8.6 9.1 0l1.4 8.4-5.4 3z"/>
<path class="ga" d="M1604.9 965l1.9-7.5q4.2-7 7.6 0l1 7.5-4.5 3.7z"/>
<path class="ga" d="M1531.5 965.1l.6-4.6q2.3-3.5 5.6 0l1.6 4.6-3.3 3.4z"/>
<path class="gf" d="M1593.8 966.9l1.8-5.3q5-2.9 10.3 0l2.1 5.3-6.1 5.5z"/>
<path class="ga" d="M1537.5 966.2l1.6-7.9q3.9-7.5 7.5 0l1.3 7.9-4.4 3.7z"/>
<path class="ga" d="M1443.7 966.2l2.6-5.6q6.1-4.7 11.6 0l1.9 5.6-6.9 3.5z"/>
<path class="ga" d="M1585.2 966l2.4-9.8q5.8-10.3 11.4 0l2 9.8-6.7 3.1z"/>
<path class="ga" d="M1523.5 966.6l1.7-4.1q4.3-2.6 8.4 0l1.5 4.1-4.9 3.9z"/>
<path class="gf" d="M1476.7 966.9l1.8-5.5q5-4.6 10.3 0l2.2 5.5-6.1 3.6z"/>
<path class="gc" d="M1537 967l2.4-7.3q5.8-6.7 11.1 0l1.9 7.3-6.5 3.7z"/>
<path class="gf" d="M1576.1 967.8l.9-7q2.8-5.7 6.3 0l1.5 7-3.7 4.7z"/>
<path class="gc" d="M1595.6 967.5l1.9-10.7q4.9-10.8 10 0l2 10.7-5.9 4.1z"/>
<path class="ga" d="M1450.9 967l1.4-5.1q3.9-4.4 8.1 0l1.8 5.1-4.8 3.1z"/>
<path class="ga" d="M1598.3 967.2l2-7.9q5.6-7.9 11.6 0l2.5 7.9-6.8 3.2z"/>
<path class="ga" d="M1541.9 967.3l1.6-4q4.2-3 8.3 0l1.6 4-4.9 3.1z"/>
<path class="gf" d="M1522.6 967.5l1.1-4.5q3.5-3.4 8.1 0l2.1 4.5-4.8 3.3z"/>
<path class="ga" d="M1574.1 967.5l1.3-6.2q3.3-6 6.8 0l1.4 6.2-4 2.7z"/>
<path class="ga" d="M1525.9 968.3l2.4-11.8q5.7-12.4 10.8 0l1.8 11.8-6.4 3.8z"/>
<path class="gc" d="M1566.5 967.9l1.5-3.8q4.4-3.2 9.4 0l2.2 3.8-5.6 2.4z"/>
<path class="gf" d="M1473.5 967.9l1.6-4.7q4.3-4.3 8.9 0l1.8 4.7-5.2 2.4z"/>
<path class="ga" d="M1530.1 969.3l2.1-16.5q5.3-17.9 10.3 0l1.9 16.5-6.1 4.5z"/>
<path class="gf" d="M1596.1 969l1.7-3.8q4.1-2.7 7.8 0l1.4 3.8-4.6 3.2z"/>
<path class="gc" d="M1522.5 969.5l1.3-6.8q3-5.8 5.7 0l.9 6.8-3.3 4.2z"/>
<path class="gf" d="M1622 970.2l1.3-5.9q3.5-4.3 7.2 0l1.5 5.9-4.2 4.6z"/>
<path class="gc" d="M1591.3 969.4l1.2-6.8q2.9-6.5 5.4 0l.9 6.8-3.2 3z"/>
<path class="gd" d="M1596 969.8l1-4.3q3.1-3 7 0l1.7 4.3-4.1 3.7z"/>
<path class="gc" d="M1569.6 970.4l1.9-4.6q4.6-2.7 8.9 0l1.6 4.6-5.2 4.5z"/>
<path class="gf" d="M1625.9 971.5l1.4-5.7q4-4 8.6 0l2 5.7-5.1 4.9z"/>
<path class="gf" d="M1623.4 970.2l1.1-8.1q2.6-9 5 0l.8 8.1-2.9 2z"/>
<path class="gf" d="M1621.6 970.7l1.1-7.7q3-7.8 6.1 0l1.2 7.7-3.6 2.8z"/>
<path class="gd" d="M1539.7 971.6l1.9-7.4q4.9-6.8 9.6 0l1.8 7.4-5.7 3.8z"/>
<path class="gf" d="M1544.2 970.9l1.7-3.7q4.9-3.1 10.5 0l2.4 3.7-6.2 2.4z"/>
<path class="gf" d="M1529.3 971.7l1.6-5q4.4-4 9.4 0l2.1 5-5.5 3.5z"/>
<path class="gd" d="M1536.3 971.6l1.3-12.9q3.5-14.5 7.1 0l1.5 12.9-4.2 2.8z"/>
<path class="ga" d="M1480 972.5l1.6-4.3q3.2-2.5 5.3 0l.5 4.3-3.2 4.3z"/>
<path class="gd" d="M1543.3 972.9l.9-5.1q2.9-3.6 6.6 0l1.7 5.1-3.9 4.2z"/>
<path class="gc" d="M1460.6 973.4l1.7-5.3q3.9-3.7 7.2 0l1.1 5.3-4.3 4.3z"/>
<path class="gf" d="M1518.5 973.3l1-5.3q2.4-4 4.8 0l.9 5.3-2.9 4z"/>
<path class="gf" d="M1508 974.4l1.6-7.1q3.7-5.3 7 0l1.1 7.1-4.1 5.5z"/>
<path class="ga" d="M1501.3 972.9l1.7-4.3q4.5-4 9.1 0l1.8 4.3-5.4 2.2z"/>
<path class="gc" d="M1538.7 974.2l2.5-4.7q5.6-3 10.3 0l1.5 4.7-6.1 4.4z"/>
<path class="gf" d="M1613.9 974.8l1.6-4.5q3.9-2.3 7.6 0l1.3 4.5-4.5 4.9z"/>
<path class="gf" d="M1616.1 973.8l1.2-6.4q3.6-6.2 7.7 0l1.8 6.4-4.6 2.9z"/>
<path class="gf" d="M1624.8 974.5l1.6-9.9q4-10.1 7.9 0l1.5 9.9-4.7 3.7z"/>
<path class="gd" d="M1503.2 975l1.6-6.3q5-5 10.9 0l2.6 6.3-6.4 4.5z"/>
<path class="gf" d="M1493.7 974.6l2.5-4.7q5.8-3.9 10.7 0l1.6 4.7-6.3 3.1z"/>
<path class="gf" d="M1521.9 975l1.9-7.1q5.1-6.6 10.4 0l2.1 7.1-6.1 3.6z"/>
<path class="gf" d="M1618.4 975l.7-7.6q2.3-7.3 5 0l1.2 7.6-3 3.5z"/>
<path class="gf" d="M1557.7 975.5l2-5.3q5-4.6 9.6 0l1.7 5.3-5.7 3.1z"/>
<path class="ga" d="M1531.6 975.7l2.8-3.7q6.6-2.3 12.2 0l1.9 3.7-7.2 3.4z"/>
<path class="gf" d="M1472.3 975.4l2.2-5.1q5-4.9 9.3 0l1.4 5.1-5.5 2.4z"/>
<path class="ga" d="M1543.6 977.2l2-7.2q4.6-5.8 8.8 0l1.4 7.2-5.2 5z"/>
<path class="ga" d="M1572.1 976.5l2.5-7.3q5.7-6.8 10.4 0l1.5 7.3-6.2 3.5z"/>
<path class="gc" d="M1516.7 977.2l1.2-6q2.6-5 4.7 0l.7 6-2.8 3.9z"/>
<path class="gf" d="M1560.6 977.8l1.6-5q3.9-2.9 7.4 0l1.3 5-4.4 5z"/>
<path class="gd" d="M1508 976.9l1.4-6.1q3.8-6.1 7.8 0l1.6 6.1-4.6 2.5z"/>
<path class="gf" d="M1516.1 977.9l1.2-4.6q3.1-3.2 6.4 0l1.3 4.6-3.8 3.9z"/>
<path class="gc" d="M1565.5 978.3l1.5-7.1q3.3-6.5 5.7 0l.7 7.1-3.4 3.8z"/>
<path class="gf" d="M1569.8 978.5l.6-4.7q2.1-3.3 5 0l1.3 4.7-2.9 3.9z"/>
<path class="gf" d="M1506.8 979.1l2-4.6q4.8-3.6 9.1 0l1.5 4.6-5.4 3.2z"/>
<path class="gc" d="M1538.9 980.1l1.7-6.9q4.3-6.9 8.4 0l1.6 6.9-4.9 2.8z"/>
<path class="gd" d="M1579.4 981.8l.9-7.2q2.7-5.7 5.7 0l1.3 7.2-3.4 5.1z"/>
<path class="gd" d="M1528 981.2l1.6-4.2q4-3.4 7.6 0l1.3 4.2-4.5 2.9z"/>
<path class="gf" d="M1565.9 982.7l.9-6.9q2.9-4.9 6.5 0l1.7 6.9-3.9 5.6z"/>
<path class="gd" d="M1570.8 982.9l.6-7.6q2.3-6 5.5 0l1.5 7.6-3.2 5.3z"/>
<path class="gc" d="M1551.8 983.3l.6-8.1q2.3-6.8 5.5 0l1.5 8.1-3.3 5.1z"/>
<path class="gf" d="M1550.4 984.2l1.5-5.5q3.3-3.4 5.7 0l.7 5.5-3.3 5.3z"/>
<path class="ga" d="M1531.7 983.2l1.7-4.8q4.6-4.4 9.2 0l1.8 4.8-5.4 2.5z"/>
<path class="gf" d="M1541.3 983.4l1-5.1q2.7-4.7 5.6 0l1.2 5.1-3.3 2.6z"/>
<path class="gf" d="M1525.5 984.1l1.1-4q3.2-3.1 6.8 0l1.5 4-4 2.9z"/>
<path class="gw" d="M1482 985.4l.8-31.6q2.2-38.5 4.3 0l.8 31.6-2.5 2.6z"/>
<path class="gw" d="M1485.2 985.4l.8-36.9q2.2-45.1 4.3 0l.8 36.9-2.5 2.6z"/>
<path class="ga" d="M1488.4 985.4l.8-39.3q2.2-48.3 4.3 0l.8 39.3-2.5 2.6z"/>
<path class="ga" d="M1491.6 985.4l.8-39.9q2.2-49 4.3 0l.8 39.9-2.5 2.6z"/>
<path class="ga" d="M1494.8 985.4l.8-38.6q2.2-47.4 4.3 0l.8 38.6-2.5 2.6z"/>
<path class="ga" d="M1498 985.4l.8-35.3q2.2-43.2 4.3 0l.8 35.3-2.5 2.6z"/>
<path class="gc" d="M1574.5 987.7l2.3-4.3q5-2.4 9.1 0l1.3 4.3-5.4 4.4z"/>
<path class="gf" d="M1574.7 989l.6-5.8q2.1-5 4.9 0l1.3 5.8-2.9 3.5z"/>
<path class="gc" d="M1579.2 988.7l1.4-6.6q4-6.5 8.3 0l1.8 6.6-4.9 2.8z"/>
<path class="gf" d="M1560.2 991.2l2.4-4.9q5.6-3 10.4 0l1.6 4.9-6.1 4.7z"/>
<path class="ga" d="M1563.2 990.5l1.8-7.3q5.1-7.3 10.9 0l2.5 7.3-6.4 3z"/>
<path class="gc" d="M1552.8 993l1.6-6.2q4.3-4 8.9 0l1.9 6.2-5.3 5.7z"/>
<path class="gd" d="M1547.6 991.3l1-6.2q3.2-6.2 7.4 0l1.9 6.2-4.3 2.3z"/>
<path class="gf" d="M1540.8 991.7l1.5-6.3q4.5-6.4 10 0l2.4 6.3-5.9 2.3z"/>
<path class="gf" d="M1571.4 993.5l1.2-10.4q3.5-10 7.7 0l1.8 10.4-4.5 4.8z"/>
<path class="gc" d="M1560.5 993l2-6.8q4.6-6.1 8.6 0l1.4 6.8-5.1 3.8z"/>
<path class="gc" d="M1561.9 994.4l.9-7q2.8-5.6 6.1 0l1.4 7-3.6 4.9z"/>
<path class="gc" d="M1562.9 994.5l1.4-7.6q3.4-6.3 6.7 0l1.2 7.6-4 4.9z"/>
<path class="gc" d="M1567.2 995.2l2-9.1q5.3-8.2 10.5 0l2.1 9.1-6.2 4.9z"/>
<path class="gf" d="M1582.7 995.5l1.8-8.7q4.5-7.9 8.8 0l1.6 8.7-5.2 4.7z"/>
<path class="gc" d="M1567.2 994.2l1.8-7.2q4.2-7.6 7.7 0l1.1 7.2-4.5 2.2z"/>
<path class="gc" d="M1516.4 995.8l.9-7.7q3-6.4 6.9 0l1.7 7.7-4.1 5.1z"/>
<path class="gc" d="M1536.7 994.5l1.3-6.7q3.4-6.8 7 0l1.4 6.7-4.1 2.4z"/>
<path class="gc" d="M1571.8 995.1l1.8-7.6q5-8.3 10.4 0l2.2 7.6-6.1 2z"/>
<path class="gc" d="M1562.1 995.8l2.3-7.9q6.1-7.9 12.5 0l2.6 7.9-7.4 3.2z"/>
<path class="gf" d="M1505.7 997.8l1.6-7.7q4.1-7 8.2 0l1.5 7.7-4.8 4z"/>
<path class="gf" d="M1522.1 998.8l2.1-9.3q5.2-8.4 10.2 0l1.9 9.3-6 5.1z"/>
<path class="gf" d="M1569.8 998.9l1.4-8.2q3.7-6.9 7.6 0l1.6 8.2-4.5 5.2z"/>
<path class="gf" d="M1574.8 998.6l1.8-8.7q4.6-8 9.3 0l1.8 8.7-5.5 4.4z"/>
<path class="gf" d="M1519.1 998.1l1.3-8.1q3.3-8.5 6.6 0l1.3 8.1-3.9 2.6z"/>
<path class="gc" d="M1513 998.2l2.4-8.6q5.6-9 10.7 0l1.8 8.6-6.3 2.8z"/>
<path class="ga" d="M1521 999.8l1.5-9q4-8.9 8 0l1.6 9-4.7 3.8z"/>
<path class="ga" d="M1539.2 999.1l2.5-5.9q5.9-6 11 0l1.8 5.9-6.5 2.2z"/>
<path class="gf" d="M1542.6 999.9l1.2-6.5q3.8-6.3 8.3 0l2 6.5-4.9 2.9z"/>
<path class="gf" d="M1511 1000.1l2-8.9q4.8-9.2 9.1 0l1.5 8.9-5.4 3.2z"/>
<path class="gf" d="M1552.9 1001.4l1.4-5.6q3.6-3.4 7.2 0l1.4 5.6-4.3 5.4z"/>
<path class="gc" d="M1529.9 1001.1l2-9.4q4.8-9.1 9.1 0l1.5 9.4-5.4 4.3z"/>
<path class="gc" d="M1503.5 1001.5l2.3-8.3q5.8-7.6 11.4 0l2.1 8.3-6.7 4.4z"/>
<path class="gf" d="M1505.8 1003l1.9-8.9q4.4-7.7 8.2 0l1.3 8.9-4.8 5.2z"/>
<path class="gf" d="M1546.3 1002.7l1.9-5.2q4.8-3.6 9.5 0l1.8 5.2-5.6 4.4z"/>
<path class="gc" d="M1510.4 1002.2l1.9-8.6q5-9 10 0l2 8.6-5.9 2.9z"/>
<path class="gf" d="M1510.2 1002l2.2-7.6q5.5-8.1 10.7 0l1.9 7.6-6.3 2.3z"/>
<path class="gc" d="M1502.8 1002.5l1.6-7.2q4.8-7.3 10.6 0l2.6 7.2-6.3 2.7z"/>
<path class="gf" d="M1502.6 1003.7l1.3-7q4.1-6.7 9.2 0l2.2 7-5.4 3.3z"/>
<path class="gf" d="M1505.3 1004.2l2.4-7.5q5.8-7.1 10.9 0l1.8 7.5-6.4 3.5z"/>
<path class="gf" d="M1532.3 1004.5l2.1-8q5.8-7.5 12.1 0l2.6 8-7.1 3.8z"/>
<path class="gf" d="M1522.2 1008l1.5-8.7q4.5-7.9 9.6 0l2.2 8.7-5.6 4.5z"/>
<path class="ga" d="M1505.9 1007.4l1.9-6.9q5.5-6.5 11.7 0l2.6 6.9-6.9 3.3z"/>
<path class="gf" d="M1512.8 1007.9l1.3-7.9q3.4-7.2 6.7 0l1.3 7.9-3.9 4.1z"/>
<path class="ga" d="M1529 1009.6l1.3-7.8q3.5-6.6 7.2 0l1.5 7.8-4.3 4.9z"/>
</g>
<path d="M1351.6,895.1 L1360.2,951.3 L1569.8,1036.6 L1682.2,927.5" fill="none" stroke="#5c5c60" stroke-width="2.2" stroke-linejoin="round"/>
<text transform="translate(1302.08,900.95) scale(1.3586,1)" font-size="13.57" fill="#4a4a4a" filter="url(#bl)">249n</text>
<text transform="translate(1307.63,957.05) scale(1.2689,1)" font-size="13.57" fill="#4a4a4a" filter="url(#bl)">-132n</text>
<text transform="translate(1397.58,1021.00) scale(1.1843,1)" font-size="14.29" fill="#4a4a4a" filter="url(#bl)">X* 10µm</text>
<text transform="translate(1640.69,1003.40) scale(1.1489,1)" font-size="14.29" fill="#4a4a4a" filter="url(#bl)">Y* 10µn</text>
<text transform="translate(1563.53,791.60) scale(0.9913,1)" font-size="31.43" font-weight="bold" fill="#000">12 nm</text>
<text transform="rotate(-90) translate(-973.79,1765.70) scale(0.9345,1)" font-size="15.86" fill="#333" filter="url(#bl)">Line fit 381nm</text>
<text transform="translate(1808.10,946.90) scale(0.8430,1)" font-size="31.01" font-weight="bold" fill="#000">R</text>
<text transform="translate(1827.01,949.00) scale(0.9867,1)" font-size="16.67" font-weight="bold" fill="#000">a</text>
<text transform="translate(1837.44,946.90) scale(0.9940,1)" font-size="31.59" font-weight="bold" fill="#000">=41.7nm</text>
</svg>
</body></html>
